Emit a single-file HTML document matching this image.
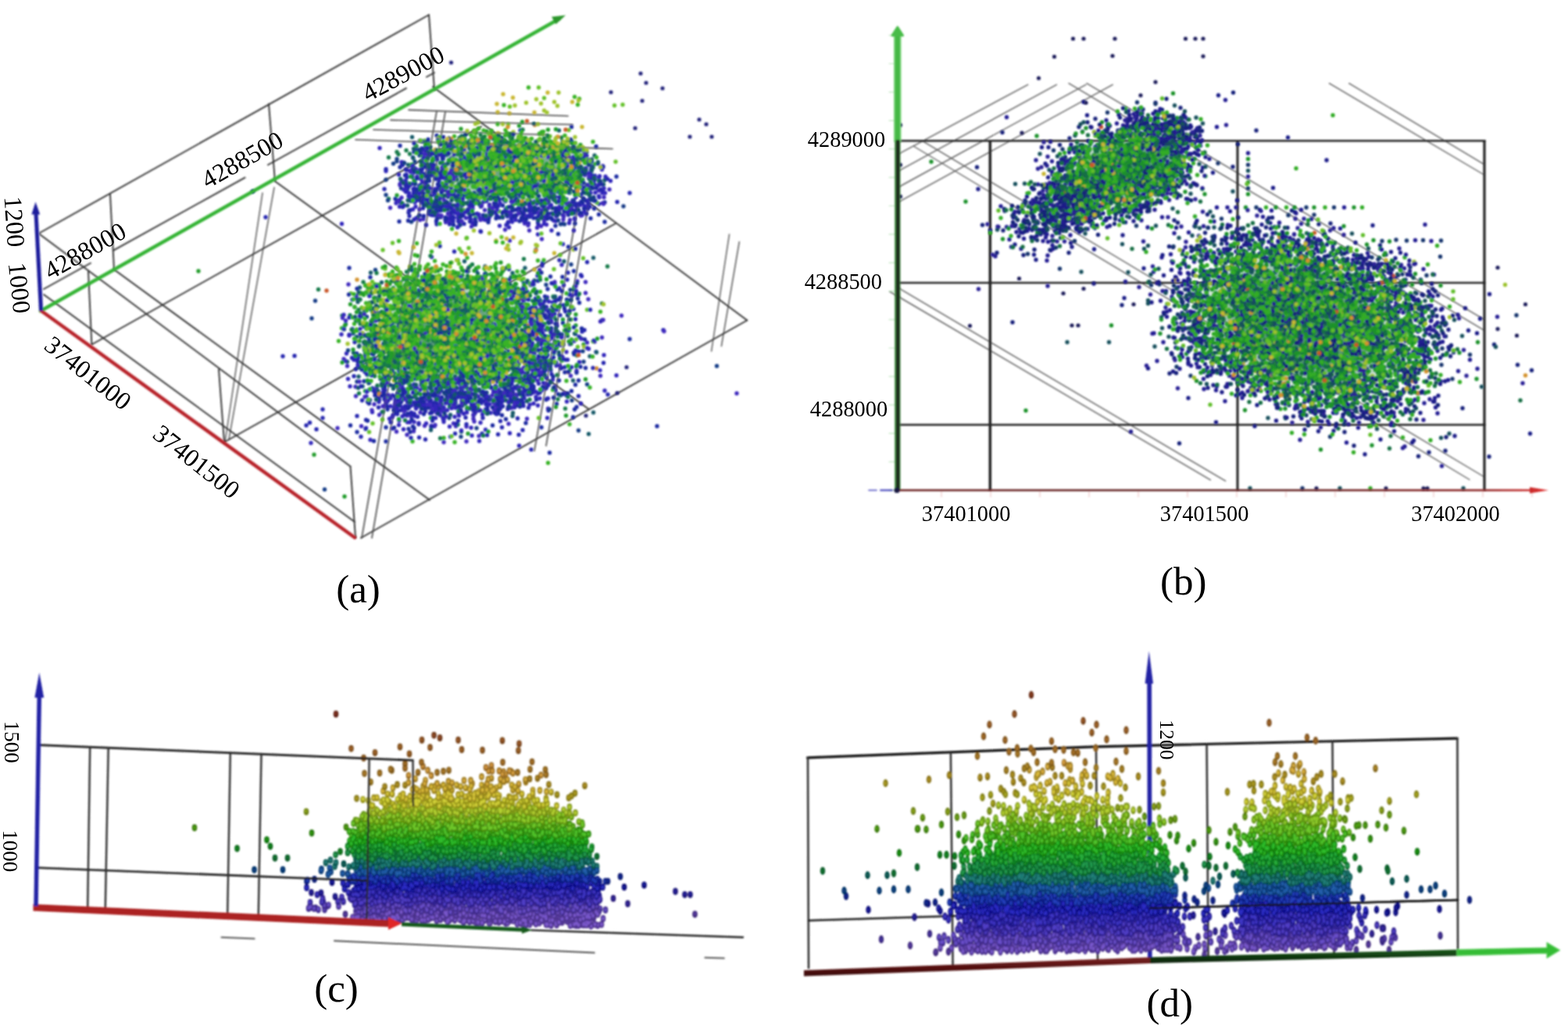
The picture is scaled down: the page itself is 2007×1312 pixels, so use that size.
<!DOCTYPE html>
<html lang="en"><head><meta charset="utf-8"><title>Microseismic event distribution</title>
<style>
html,body{margin:0;padding:0;background:#fff;}
body{width:2007px;height:1312px;overflow:hidden;}
svg{display:block;}
text{font-family:"Liberation Serif","DejaVu Serif",serif;fill:#000;}
</style></head><body>
<svg width="2007" height="1312" viewBox="0 0 2007 1312">
<defs>
<filter id="soft" x="-2%" y="-2%" width="104%" height="104%"><feGaussianBlur stdDeviation="0.8"/></filter>
<filter id="soft2" x="-2%" y="-2%" width="104%" height="104%"><feGaussianBlur stdDeviation="2.0"/></filter>
</defs>
<rect width="2007" height="1312" fill="#fff"/>
<g fill="none" stroke-linecap="round">
<g id="pa">
<g filter="url(#soft)">
<path d="M523 140.6L727 148.5" stroke="#626262" stroke-width="1.6"/>
<path d="M500 153.6L733 159.5" stroke="#626262" stroke-width="1.6"/>
<path d="M478 166L700 172.5" stroke="#626262" stroke-width="1.6"/>
<path d="M455 178.7L784 190.5" stroke="#626262" stroke-width="1.6"/>
<path d="M559 142L463 688.5" stroke="#626262" stroke-width="1.6"/>
<path d="M570 143L476 688.5" stroke="#626262" stroke-width="1.6"/>
<path d="M740 262L684 577" stroke="#626262" stroke-width="1.6"/>
<path d="M753 262L699 570.5" stroke="#626262" stroke-width="1.6"/>
<path d="M933.5 300L910.6 449.5" stroke="#626262" stroke-width="1.6"/>
<path d="M946.3 309.5L923.4 443" stroke="#626262" stroke-width="1.6"/>
<path d="M336 247L288 566" stroke="#626262" stroke-width="1.6"/>
<path d="M351 240L293 562" stroke="#626262" stroke-width="1.6"/>
<path d="M51 298L549 19" stroke="#303030" stroke-width="1.9"/>
<path d="M56 370L116 336.76" stroke="#303030" stroke-width="1.9"/>
<path d="M145 320.694L313.5 227.345" stroke="#303030" stroke-width="1.9"/>
<path d="M343 211.002L520 112.944" stroke="#303030" stroke-width="1.9"/>
<path d="M546 98.54L556 93" stroke="#303030" stroke-width="1.9"/>
<path d="M549 19L556 115" stroke="#303030" stroke-width="1.9"/>
<path d="M344 133L352 232" stroke="#303030" stroke-width="1.9"/>
<path d="M141 249L146 345" stroke="#303030" stroke-width="1.9"/>
<path d="M51 300L448.5 597" stroke="#303030" stroke-width="1.9"/>
<path d="M56 377L454 668" stroke="#303030" stroke-width="1.9"/>
<path d="M113 347L117.4 441" stroke="#303030" stroke-width="1.9"/>
<path d="M280 473L287 566" stroke="#303030" stroke-width="1.9"/>
<path d="M448.5 597L455 688" stroke="#303030" stroke-width="1.9"/>
<path d="M146 345L550 640" stroke="#303030" stroke-width="1.9"/>
<path d="M352 232L754 524" stroke="#303030" stroke-width="1.9"/>
<path d="M554 111L956.3 410" stroke="#303030" stroke-width="1.9"/>
<path d="M462 688.5L956.3 410" stroke="#303030" stroke-width="1.9"/>
<path d="M117.4 441L616 162" stroke="#303030" stroke-width="1.9"/>
<path d="M287 566L788 286" stroke="#303030" stroke-width="1.9"/>
</g>
<radialGradient id="ua1"><stop offset="0" stop-color="#24784a" stop-opacity="0.7"/><stop offset="0.55" stop-color="#24784a" stop-opacity="0.595"/><stop offset="1" stop-color="#24784a" stop-opacity="0"/></radialGradient>
<ellipse cx="652" cy="218" rx="104" ry="44" transform="rotate(0 652 218)" fill="url(#ua1)" stroke="none"/>
<radialGradient id="ua2"><stop offset="0" stop-color="#24784a" stop-opacity="0.8"/><stop offset="0.55" stop-color="#24784a" stop-opacity="0.68"/><stop offset="1" stop-color="#24784a" stop-opacity="0"/></radialGradient>
<ellipse cx="576" cy="428" rx="104" ry="74" transform="rotate(0 576 428)" fill="url(#ua2)" stroke="none"/>
<g transform="scale(.5)" filter="url(#soft2)">
<path d="M1409 376zm-348 11zm348-1zm-156 8zm246 5zm-394 19zm85-6zm19 0zm297 1zm7 20zm30-8zm-179 9zm16 13zm-303 11zm88-5zm332-5zm-473 23zm27 2zm391 4zm91 11zm27-3zm-499 12zm3-6zm9 5zm73-5zm327 2zm-252 12zm16 12zm-87 9zm245-2zm87-2zm22 7zm39-9zm-376 25zm220-7zm-206 14zm45-3zm11 10zm72-9zm26 8zm49-11zm59 7zm-359 7zm75 3zm16 5zm126-1zm42 4zm75-7zm24-3zm-269 18zm34 0zm6-5zm162 8zm24-8zm-106 13zm12 28zm-200 42zm276 33zm97 29zm21 2zm-607 6zm111 22zm364-5zm132 5zm-430 7zm45 1zm121 1zm166 2zm22 6zm83-1zm-401 16zm-112 17zm348 1zm24 9zm-338 13zm303-8zm46 0zm33 10zm-331 13zm118-1zm177 1zm-354 5zm130 6zm153-3zm3 8zm-207 3zm341 0zm102 8zm-161 7zm79 10zm11-8zm52 2zm-521 9zm343 12zm11 9zm13 1zm-395 11zm340 5zm64-2zm-295 6zm308 5zm43 5zm-463 6zm10 11zm351 11zm19 5zm-440 21zm157 3zm26 0zm87 0zm76-1zm-235 3zm277 5zm46 0zm44-1zm498 8zm-818 14zm48-3zm162-7zm28 0zm-348 24zm85-6zm5 5zm162 0zm-230 6zm3-1zm48 5zm50-3zm32 0zm18 8zm3-2zm114 2zm155-3zm-278 9zm48 2zm7-3zm49-4zm-225 18zm38-4zm307 8zm-424 19zm118-10zm44 9zm74-6zm6 7zm47-12zm-350 17zm195 8zm135-12zm32 24zm-90 16z" stroke="#3f2abe" stroke-width="10.8"/>
<path d="M1312 372zm-138 14zm-83 6zm54 4zm40 4zm13-5zm-170 20zm252-5zm190 0zm-414 22zm394-5zm34 3zm-463 17zm137-11zm383-2zm-33 23zm25-2zm-452 11zm244-3zm-257 22zm5-6zm23-2zm45 2zm123 8zm136-11zm79 10zm-438 5zm57 0zm174 9zm240-6zm12-1zm18 1zm-285 15zm52 7zm-190 5zm256 0zm80 10zm-356 9zm55 5zm50-12zm91 2zm37 7zm36 0zm-195 16zm48-11zm98 11zm3-7zm168 0zm-285 11zm106 6zm27-4zm119 7zm14-10zm-94 39zm35-10zm29 35zm-222 68zm-151 12zm308 1zm-25 17zm-241 6zm19 0zm314 1zm-497 12zm404 5zm-255 12zm251 6zm33 4zm-297 6zm12 6zm94-3zm10-3zm126 2zm21 3zm98 1zm-97 12zm27 2zm18-8zm35 6zm-401 20zm355 12zm31-4zm-27 9zm-233 15zm203-4zm-480 15zm290-1zm181 9zm-210 15zm135-1zm122-2zm-226 11zm223 5zm23-9zm95 10zm-531 7zm52-3zm10 11zm170-5zm-307 13zm292-5zm260 10zm-525 5zm44 2zm452 8zm-99 10zm73 1zm12 1zm-63 14zm-255 4zm209 5zm59 3zm39-7zm-413 18zm43 1zm116 3zm64-4zm1 5zm1-10zm143 1zm-378 26zm5-12zm111 8zm52-3zm222-6zm182 6zm-543 12zm39 5zm70-5zm39 8zm137-4zm20-4zm-340 17zm82-1zm77 0zm14-3zm100-1zm76 9zm14 0zm118-5zm-369 10zm235 5zm-364 12zm83-4zm99 2zm52 6zm51-5zm-241 18zm111-2zm7 0zm-66 11zm11-1zm31 4zm45-4zm-131 17zm146-5zm92 8zm-90 18zm152-9zm-357 17zm279 3zm102 12z" stroke="#3227bb" stroke-width="10.8"/>
<path d="M1332 334zm-194 42zm111-3zm163-5zm39 7zm-388 9zm5 0zm27-4zm1-2zm68 11zm-69 9zm37 2zm82 0zm288-1zm-369 8zm-37 24zm45-9zm-86 13zm6 6zm15-7zm42 7zm-91 20zm118-11zm363 7zm3-4zm-361 11zm383 8zm4-2zm-469 15zm7 4zm257-8zm31-2zm148 5zm-472 7zm27 5zm110 1zm4 2zm-121 15zm8-1zm29 3zm38-12zm44 11zm21-9zm95 9zm172-2zm-199 11zm196 4zm16-6zm54 0zm-450 11zm-403 23zm418-8zm5 2zm6 1zm8 0zm155 3zm57-8zm16 11zm50-4zm5 4zm11 1zm1-12zm71 2zm-423 14zm96 0zm197 10zm87 1zm-349 3zm287-2zm10 106zm1-7zm65 25zm-304 23zm194 15zm115 18zm-278 22zm33 5zm31-4zm98 4zm17 7zm11-1zm97 4zm-352 15zm214 0zm12-2zm78 0zm-465 18zm35 1zm340-2zm32-3zm49 7zm-278 5zm72 0zm-236 23zm108-2zm265-2zm21 1zm18 0zm42-5zm73 0zm202 0zm-794 9zm207 6zm32 5zm93-10zm76 0zm113 3zm48-3zm-519 18zm379-1zm-258 10zm-89 18zm178 8zm201-3zm56-9zm48 7zm5-6zm8 3zm-758 12zm30-1zm277 1zm39 6zm264-4zm83 1zm-301 16zm37 6zm135-1zm65-7zm28 1zm34-2zm-315 15zm283-3zm9 7zm3 0zm-365 5zm36 12zm139 0zm18-7zm49 6zm60-7zm6-4zm31 7zm1 5zm3-7zm2-1zm5 4zm-382 6zm22 19zm40-1zm75-3zm77-1zm58 10zm-288 13zm128 2zm116-8zm2 4zm37 2zm77-6zm56-3zm-277 22zm92-6zm11 5zm257-1zm75-4zm-614 20zm104-7zm12 7zm52 2zm72-5zm13 1zm37-6zm5 5zm51-1zm26-3zm9 1zm4 0zm-501 24zm184-6zm93 0zm23-4zm122 2zm59 4zm33-5zm13 5zm-318 18zm66-4zm11-7zm292 0zm-578 19zm111 5zm132-8zm-69 14zm-190 18zm528 2zm-414 17zm241-8zm110 2zm85 39z" stroke="#2726af" stroke-width="10.8"/>
<path d="M1135 351zm99 11zm80 8zm-224 18zm14 1zm-47 14zm64-8zm282-1zm-294 17zm46-5zm26 5zm170 4zm100 0zm6-9zm35 4zm-468 18zm79-1zm10-2zm21 7zm42-11zm-121 15zm52 1zm317 8zm-387 4zm58 11zm190-5zm-186 8zm160 2zm207 2zm55 4zm-444 5zm18 4zm78 5zm205 3zm139-6zm-870 8zm412 3zm44 9zm80-2zm149 2zm4-2zm-313 12zm24 1zm53 3zm178-6zm172 0zm59 0zm-484 8zm68 8zm81-1zm26-1zm125-3zm122-3zm101 0zm-502 26zm59-12zm73 13zm193-3zm51 2zm22-3zm16-1zm61-6zm-447 17zm54 5zm34 1zm204 1zm-126 3zm232 11zm-50 6zm-119 111zm166 5zm-521 16zm253 2zm58 15zm-130 2zm46 6zm64 6zm-252 2zm193 5zm12 7zm141-10zm-412 21zm50-4zm67 19zm42 1zm303-2zm37 1zm-289 5zm5 9zm165-4zm41 2zm23 2zm-270 4zm301 8zm-119 14zm32-8zm88 1zm29 20zm-465 14zm287-2zm163-6zm-517 17zm49 19zm2-6zm438 2zm13 8zm41-1zm-310 12zm271 4zm-305 5zm198 2zm101-6zm-452 25zm125-4zm56-2zm18 2zm2 2zm102-1zm32-7zm124 3zm-483 12zm367 10zm115-2zm17-8zm-489 20zm141 3zm256-2zm-326 10zm198 1zm64 3zm87 0zm20-9zm80 1zm-500 26zm252-1zm30-12zm157 4zm46 4zm50 0zm-496 16zm169 0zm99-2zm0-8zm48 5zm17 6zm81 0zm74-6zm-520 9zm9 13zm225-1zm18 1zm104-4zm22 2zm132-4zm-452 14zm41 4zm33-1zm59-1zm47 4zm49-7zm31-5zm129 12zm29-12zm21 3zm-505 21zm39-11zm36 9zm7-2zm87 2zm38-4zm6 1zm2 4zm123 0zm90-9zm-382 17zm24 4zm74-7zm242 4zm145 1zm-463 16zm47 1zm-119 18zm320 12zm85-6zm336 8zm-746 7zm73-3zm37 3zm14-2zm-72 34z" stroke="#1d29a0" stroke-width="10.8"/>
<path d="M1284 353zm110 12zm-6 24zm82-1zm-396 10zm38-5zm-50 21zm43 4zm1 0zm205-3zm177-6zm-376 31zm10 4zm-134 16zm53 15zm-14 7zm89 14zm-43 12zm10-4zm64 0zm-48 20zm128-1zm132-3zm28 6zm-241 10zm60-3zm61 10zm33 0zm59-5zm14-2zm41-3zm-293 24zm178-5zm-121 24zm200 124zm99 25zm-414 28zm120 2zm162-7zm30-1zm-424 27zm463 11zm-475 26zm411-5zm103 1zm-145 10zm77 1zm-38 15zm22 3zm11-4zm-344 17zm282 7zm29 9zm31 15zm-337 8zm-29 18zm56 2zm284-9zm-10 24zm-266 5zm121 2zm297-4zm341 11zm-639 4zm-106 21zm278 0zm0 1zm-36 5zm-355 14zm188-1zm338 3zm-305 11zm3 9zm17-2zm56 0zm27-2zm-160 9zm30 8zm4-7zm20 4zm40-4zm73-2zm21 1zm-77 15zm146-1zm66 2zm-346 15zm17 4zm272 4zm-576 205z" stroke="#173e87" stroke-width="10.8"/>
<path d="M1075 360zm133-5zm53-2zm2 2zm128 5zm-249 8zm2 7zm52-10zm10 12zm92-12zm8 5zm29 4zm4 1zm3 2zm61-3zm8 2zm2-12zm31 10zm28-8zm-399 21zm23 3zm40 0zm67-10zm168 7zm7 0zm48-6zm10 7zm-378 17zm67-12zm55 11zm102-6zm42-3zm32 10zm125-3zm-322 13zm24-4zm20 5zm8-10zm85 0zm27 7zm49 6zm124-13zm-451 16zm128-2zm9 7zm105-7zm63 12zm148-1zm-383 8zm315-2zm17 6zm47-3zm-232 9zm224 0zm23 9zm-319 15zm-129 13zm290 3zm32-12zm22 5zm16-5zm-214 25zm187-1zm16-10zm-300 26zm130-11zm6 5zm196 5zm-315 9zm345-1zm-285 14zm212 1zm54-6zm-385 24zm121 112zm255 0zm75-9zm-207 39zm-49 12zm11-3zm40 1zm5 0zm-301 12zm8 2zm37-2zm44-3zm101 5zm27-3zm3 7zm2-3zm110-5zm-429 17zm86 1zm32-9zm147 3zm27 4zm23-7zm70 0zm163 13zm-533 8zm12-4zm54 4zm5-7zm53 3zm11-1zm23 1zm8-1zm36 1zm119-3zm-297 20zm138 4zm24-9zm143 7zm3-8zm27 13zm104-4zm-483 8zm95 9zm76-2zm11-6zm50 7zm112-9zm-328 20zm23-3zm111 4zm9 1zm117-4zm109 4zm-378 8zm10-2zm80 4zm46-1zm13-5zm7 12zm35-5zm231-5zm-290 25zm46-8zm7 5zm50-5zm5-5zm20 11zm36-2zm70-9zm46 9zm22-6zm4 6zm18 1zm-400 9zm8 5zm49 1zm16-7zm234 2zm-279 12zm8 2zm2-3zm118 1zm46 4zm9-8zm124 10zm24 3zm-383 7zm152 4zm22-1zm61 1zm3-5zm21-3zm1 10zm238-6zm35 7zm-557 9zm82-1zm98-2zm72 2zm28 2zm129-6zm-314 17zm57 6zm114-6zm33-6zm26 10zm147-2zm5-7zm-469 13zm103 13zm31-8zm6 5zm116-8zm108 8zm99-8zm67 6zm-552 7zm37 9zm24 0zm32-1zm48-6zm125 9zm14-7zm6 1zm14 6zm56-12zm67 11zm49-8zm121-1zm-621 14zm52 8zm39 1zm123-1zm193-8zm100 9zm-429 15zm1-8zm50-4zm52 7zm50-3zm41 5zm-178 12zm86-6zm12-1zm118 2zm15-1zm66 6zm47-2zm44 6zm-340 7zm3 7zm12-1zm24-9zm43 6zm124 3zm49-10zm16 2zm24-1zm11 9zm-409 13zm16-8zm347 12zm11-8zm-295 10zm64 12zm78-7zm6-4zm180 8zm-240 9zm138-4zm-18 14zm-62 39zm28 43z" stroke="#165a69" stroke-width="10.8"/>
<path d="M1176 353zm46 3zm83-6zm90 11zm4 2zm38-11zm3 10zm-374 12zm23 2zm97-12zm8 10zm2-1zm180 0zm51-4zm-411 20zm92 1zm77-6zm95 6zm11-5zm-149 12zm36-1zm50 1zm29-2zm99 3zm52-3zm69 9zm-272 5zm22 5zm26-4zm48-1zm75 6zm56-6zm45 8zm-318 15zm101-1zm14-2zm139-9zm2 8zm-274 10zm97 7zm12 1zm4-5zm40-3zm110 2zm12-1zm13-4zm19-1zm7 2zm13 4zm2 4zm-172 15zm149 2zm-138 9zm7-1zm144 0zm-335 11zm55 6zm0-7zm54 10zm18-8zm8-2zm34 4zm46-3zm18 6zm2 2zm42-9zm37-3zm-297 24zm8-2zm47-6zm79 3zm39 7zm38-2zm20-4zm83-4zm32 6zm-318 8zm11 11zm-151 3zm77 0zm0 11zm38-13zm54 0zm139 8zm-185 7zm91 26zm-27 10zm82 115zm-100 10zm-144 19zm5 0zm29-4zm23 3zm-67 13zm20 0zm29-6zm62 8zm30-9zm42 9zm-413 14zm127-3zm49 2zm99 0zm11-7zm54 6zm60-11zm45 8zm11 0zm18 2zm-327 9zm8 1zm189 4zm59 1zm20-1zm31-1zm214 1zm-454 8zm2 7zm89-10zm14 2zm10 0zm64 4zm116 3zm-356 4zm11 4zm197 1zm91 7zm4-8zm27 8zm4-10zm-276 18zm123 5zm122-3zm42 4zm-437 12zm20-1zm62 4zm11-4zm44 3zm12-10zm114-2zm63 8zm18-7zm57 1zm15 9zm4-9zm10 8zm-395 14zm52-4zm97-6zm1 9zm20-1zm14 3zm4-6zm194-2zm-299 15zm79 4zm3 5zm77-9zm7 0zm31 3zm118 5zm69-8zm-473 21zm44-9zm2 4zm37-5zm3 6zm10 2zm57-2zm3-1zm101-3zm189 3zm-307 11zm17 4zm84-1zm91-4zm57-1zm29 8zm-323 8zm144 10zm5-1zm143-12zm109 7zm-434 11zm1 8zm14-8zm1-4zm16 1zm167 11zm52-6zm2 5zm-253 4zm100 9zm54-3zm24-3zm34-3zm8 9zm56-7zm37 4zm6-5zm23 7zm9-1zm52-2zm14 1zm48 4zm-496 4zm39 2zm31 10zm15-10zm55 2zm159 8zm-310 4zm22-3zm47 2zm65 7zm4-8zm61 11zm63-1zm28-6zm35-5zm81 3zm56-3zm-419 25zm17-4zm4-6zm48 0zm7 1zm29-1zm28 4zm13 1zm8 5zm105-11zm44 1zm60 6zm-371 18zm28-1zm17-1zm28 2zm1-4zm28 4zm1 1zm81-7zm46 6zm47-11zm42 4zm-293 18zm63-8zm58 9zm105-4zm45-4zm16 0zm75 11zm-340 10zm42-2zm59 1zm60 5zm12-8zm5-3zm-64 13zm82 1zm-155 26zm221 0zm30-13zm155 8zm-369 17zm106 1zm-40 7zm152-2zm-129 13zm-2 35z" stroke="#197a4a" stroke-width="10.8"/>
<path d="M1241 349zm59-4zm-115 13zm65 2zm42-1zm38-9zm13 3zm61-1zm59 8zm-224 7zm49-3zm21 5zm46-3zm92 1zm4 10zm-280 14zm38-2zm79 2zm5-9zm57 9zm39 0zm33-2zm-146 15zm10-3zm85-9zm85 8zm-196 19zm0-7zm206 0zm-384 11zm195-2zm27 10zm15-10zm34 4zm16 6zm-205 7zm23 8zm97-1zm43-4zm74 3zm40-2zm20-3zm-344 15zm25 6zm69-5zm33 1zm205 2zm6-7zm21 9zm16 0zm-191 5zm25 2zm24-5zm70 1zm-292 14zm105 10zm117-8zm3 7zm9 0zm21 1zm32-2zm-295 14zm113 3zm4-11zm5-1zm-150 26zm245 7zm-134 159zm-695 12zm560 5zm98-1zm-179 5zm30 1zm69 9zm10 0zm77-6zm11-2zm57 0zm5-2zm-256 18zm173-4zm44 5zm55 2zm-213 4zm31 12zm41-2zm9-5zm20-5zm53 0zm17 6zm39 0zm-328 21zm95-8zm16 8zm26-10zm0 9zm30-5zm1-3zm112 1zm19 7zm-273 9zm31 6zm142-2zm7 0zm4 0zm42-8zm110 9zm43-3zm80-6zm-434 21zm31-4zm59-3zm40-3zm75 3zm14 9zm12-2zm5 3zm44 0zm5-3zm55-6zm131 5zm-527 9zm42-2zm79 2zm33 5zm52-2zm19 3zm25 2zm82-1zm-276 15zm17-4zm38-3zm8-1zm7 9zm9-10zm61 8zm69-11zm6 7zm155 2zm-357 9zm9 1zm44 6zm38-1zm33-1zm55 0zm66-7zm5-1zm19 3zm114 7zm63-5zm-482 15zm15 4zm139-6zm2-2zm139 8zm3-10zm19 12zm12-13zm186 7zm-536 9zm46 9zm24-6zm6 5zm4-1zm72-3zm95 0zm13 2zm19-5zm21 10zm98-1zm22-9zm-369 18zm11 6zm15-6zm18-4zm9-3zm55 1zm16 7zm79 3zm25-7zm135 6zm57-3zm-439 10zm50 7zm76-7zm305 5zm28-1zm27-1zm-504 17zm13-2zm38-2zm3 0zm49 7zm30-7zm77 3zm42-2zm25-1zm28-2zm57 6zm52 4zm-423 11zm4-7zm63 6zm34 0zm146-5zm21 6zm30-9zm15 0zm5 3zm-316 22zm6-3zm7-1zm23-6zm12 11zm0-8zm37 7zm81 1zm13-8zm86-5zm29 5zm37 3zm50 3zm17-11zm16 3zm-422 11zm89 7zm13-4zm51 6zm13 1zm18-2zm16-7zm65 7zm38-7zm3 0zm14 5zm71 3zm-379 8zm35 6zm83-4zm11-4zm152 9zm95-8zm2 7zm131 1zm-430 14zm123-5zm29 8zm29-9zm33 1zm-176 13zm64-4zm16 7zm15 1zm7 0zm30-6zm23 8zm34-5zm-230 11zm64 12zm60 0zm121 20zm-20 91zm-446 59zm78 107z" stroke="#219c2c" stroke-width="10.8"/>
<path d="M1163 349zm55-12zm36 11zm17-4zm6-1zm27 0zm9 4zm133 0zm-256 15zm54 0zm-118 7zm8-1zm29 6zm89-5zm19 8zm63-9zm74 5zm-181 16zm80-7zm24 2zm0 7zm143-1zm-393 9zm67-6zm23 1zm12 8zm75-3zm2 2zm69 1zm38-7zm11-1zm2 5zm60-1zm57-2zm-417 16zm13-5zm16 0zm182 7zm55-6zm67-2zm-191 18zm101 3zm20-2zm30-3zm139 1zm11-3zm-366 14zm51 6zm121 0zm48-4zm13 10zm-165 15zm51-3zm28-10zm46 11zm5-3zm131 5zm30-13zm-476 17zm145 7zm10 3zm41-7zm103-6zm138 10zm3-4zm-251 18zm12-4zm14 6zm116-8zm39 0zm23 9zm1-2zm23-3zm-257 19zm72-13zm163 13zm24-9zm-403 12zm149 11zm7 0zm110-11zm53 2zm28-3zm40 1zm-265 24zm150-7zm-111 35zm-202 127zm252-5zm-26 7zm31 11zm12 0zm7-9zm-294 13zm57 9zm176 0zm42-3zm55 5zm-249 7zm25 0zm28 1zm16 4zm27-6zm16 5zm18-3zm22 4zm22-3zm18-8zm19 8zm7-6zm23 10zm-383 4zm56 6zm14 5zm14-8zm25 4zm5-6zm104-3zm82 2zm104 7zm130-2zm-366 15zm45 1zm25-6zm31 5zm6-1zm13 6zm14-12zm26 1zm70 4zm22 4zm-386 12zm30-2zm32 5zm5-6zm39 6zm3-5zm38 4zm4-7zm19 10zm33-8zm113 0zm37 7zm5-8zm-317 16zm18-2zm47 5zm11-5zm16 0zm14 8zm38-4zm13-2zm26-5zm26 2zm32 0zm34 9zm66-2zm-300 6zm7 9zm21 0zm49 0zm31-9zm9 4zm82-5zm8 2zm15 9zm24-12zm33 7zm-247 13zm35-4zm12 2zm20 9zm103-6zm4-7zm132 5zm147-5zm-569 14zm39 9zm48-8zm50 1zm9-2zm103 12zm19-7zm13 3zm14-8zm12 11zm13-9zm1 5zm12 1zm18-1zm50 3zm-462 7zm36 9zm13-2zm93-3zm45 4zm142-10zm34 12zm13 0zm26-13zm-309 16zm12 7zm24-6zm70 9zm5-7zm17 1zm49 0zm55 4zm32 0zm5-6zm2 3zm44 6zm22-1zm108-6zm-495 10zm41 11zm78-7zm6 0zm38-3zm14 8zm42-4zm4 1zm37-2zm18 2zm4-3zm11 7zm52-2zm157-10zm32 9zm-494 5zm140 5zm42 3zm2-7zm1 3zm34-1zm73 8zm25 1zm49-4zm-416 18zm81-4zm15 2zm3-6zm98-3zm15 6zm26 1zm7-1zm127 5zm49-1zm52-7zm-433 20zm29 0zm111-10zm21 7zm99-6zm36-1zm1 10zm16 1zm68-11zm-366 15zm50 9zm26-7zm24 9zm11-1zm46-2zm35-1zm23 3zm49 0zm69-6zm28 2zm83 6zm-473 4zm74 6zm75 1zm62-2zm61 0zm36 0zm8-3zm69-4zm-418 14zm23 1zm16 1zm64 8zm95-8zm37 6zm28-9zm31 8zm71 2zm3-2zm8-7zm9-1zm6 3zm-335 14zm85-2zm22 2zm6 3zm19 6zm49-11zm-231 22zm42 2zm132-9zm138 10zm10-12zm22 8zm12-4zm25 4zm-325 11zm86 4zm115 4zm18-10zm24 1zm-149 24zm201 0zm-193 32zm6 30zm355 16zm-402 44zm80-9zm267 64z" stroke="#39b327" stroke-width="10.8"/>
<path d="M1214 334zm175 9zm19 6zm-321 11zm98-1zm152-6zm2 7zm1-1zm37 1zm48-8zm-199 14zm83-1zm113 11zm-114 6zm8 1zm-117 17zm120 2zm20-8zm57 0zm100 4zm-406 20zm366-12zm9 7zm-387 11zm153 2zm19 2zm115-8zm19 10zm-181 8zm69-4zm27 3zm109 10zm30-2zm-148 15zm152-9zm-298 24zm66-13zm27 0zm87 11zm44 8zm32-4zm94 12zm-251 10zm285 20zm-343 18zm-29 135zm262 17zm-421 18zm22 5zm6-8zm41 11zm150 1zm75 10zm-181 3zm84 7zm92 2zm18 0zm-406 13zm23 2zm135 0zm163-9zm16 0zm28 6zm-262 11zm153-5zm44 4zm80-4zm63 3zm-393 24zm309-6zm-331 11zm65 2zm40 2zm21-4zm80-1zm109-3zm14 10zm27-5zm221 4zm-572 9zm97 3zm84-6zm180-1zm19 0zm-126 26zm51-9zm-306 19zm331-1zm32-6zm78 11zm-457 9zm254 6zm20-9zm137 4zm-42 6zm108 9zm-440 18zm40-13zm44 11zm78-8zm49 3zm58-6zm64 7zm60 2zm39 3zm135-6zm-581 21zm145-8zm50 6zm133-1zm3-8zm58 7zm17-5zm-353 14zm182 4zm197-7zm-440 16zm69 9zm101-5zm4 4zm-79 8zm45 4zm63-9zm70 5zm122 3zm-339 13zm79-6zm73 11zm127 0zm4-6zm-242 10zm10 17zm-57 103zm158-7zm242 3zm-425 14zm-9 22zm211 11z" stroke="#65c129" stroke-width="10.8"/>
<path d="M1217 317zm70 1zm27 20zm130 25zm-264 8zm50-1zm-40 18zm256-3zm-206 11zm-21 26zm157 4zm-29 24zm14 5zm29-4zm-164 20zm242 4zm-208 11zm-142 12zm-69 185zm103 0zm12 21zm79 8zm31 0zm-199 9zm13-6zm51 11zm91-2zm37 3zm-230 9zm20-7zm288 5zm-220 18zm98 1zm-252 4zm15 13zm4 10zm130-1zm-187 10zm87-3zm20 2zm178-3zm-232 23zm96-4zm140 3zm93-8zm-272 17zm1-3zm301 3zm-147 17zm-226 18zm288-3zm69 4zm-59 13zm-56 10zm227-1zm-428 11zm166 2zm187 2zm-321 15zm204-7zm-310 25zm78 7zm175 1zm-18 46zm23 2zm74-3zm-226 21z" stroke="#a0c42f" stroke-width="10.8"/>
<path d="M1330 349zm-30 28zm89-8zm-275 14zm325 19zm44 15zm-342 28zm180 2zm12-11zm84 4zm-268 10zm39 25zm-9 2zm62 3zm-124 205zm80 5zm-53 14zm24 13zm-182 51zm190-11zm93 5zm81-4zm-174 59zm50 12zm31 30zm-28 14zm-212 16zm88 21zm41 4zm144 35zm-282 25zm66-7z" stroke="#c9b733" stroke-width="10.8"/>
<path d="M1369 320zm-214 35zm204 24zm1 9zm27 48zm-45 17zm-5 63zm-423 200zm241 13zm98 20zm38 2zm-140 90zm-75 17zm127 18zm-22 26zm-134 14zm480 27zm-72 10zm-463 21z" stroke="#d4932f" stroke-width="10.8"/>
<path d="M1176 425zm-340 319zm229 65zm-30 152z" stroke="#c9582a" stroke-width="10.8"/>
<path d="M1188 383zm90 4zm210 10zm-456 19zm420-2zm18-4zm-302 10zm-61 26zm150 0zm97-1zm95 1zm-293 10zm11-3zm22-4zm284 4zm-434 15zm51 15zm5-4zm17 5zm154-5zm-35 19zm-203 8zm93 8zm19 3zm280-3zm54-9zm14 11zm22-4zm-358 11zm31 3zm20 2zm10-6zm129 3zm16 1zm98-6zm29 5zm60-3zm-243 23zm4-2zm97-10zm-260 25zm10-3zm334-3zm-412 11zm66 6zm10-1zm92-5zm150-1zm66 1zm-107 14zm-172 133zm16 22zm278 1zm-351 46zm210 3zm7-12zm-372 31zm423 3zm200 4zm-371 9zm117 2zm43-7zm157 11zm-163 5zm11-1zm40 2zm-523 13zm115 6zm90 1zm263-6zm2 10zm328-5zm-623 11zm110 6zm251-5zm50 7zm-113 2zm32 1zm-48 20zm77-6zm-112 17zm-166 15zm42-2zm55 0zm140 6zm-374 8zm62 10zm157 6zm236 5zm-278 16zm146-9zm23 8zm9-12zm161 10zm-122 10zm-288 20zm117-9zm101 5zm9 2zm-236 15zm7 1zm76 0zm75-8zm58 8zm-184 12zm54-7zm-160 15zm59 4zm166 4zm0-1zm-286 7zm97-4zm2 2zm6 5zm180-5zm42 6zm-204 12zm12 1zm99-1zm55-1zm-250 22zm50 6zm32 7zm-89 15zm27 8zm152 17z" stroke="#3f2abe" stroke-width="10.8"/>
<path d="M1151 374zm14 1zm102-8zm196-2zm-380 18zm249 2zm-133 9zm170-2zm-123 20zm62 5zm24-11zm173 13zm-387 9zm398-2zm-440 16zm32-2zm23-2zm3 4zm373 2zm-426 7zm55 4zm137 6zm187-6zm59-4zm3 10zm13-10zm-507 15zm10-4zm43 23zm84 3zm127-12zm20 8zm99-3zm-301 12zm252-3zm78 1zm47 7zm46 4zm-517 12zm33-7zm33 5zm7-3zm223 6zm56 1zm-354 4zm21 6zm90-4zm107 1zm264 4zm-370 12zm51 2zm76 3zm43-1zm19-5zm47-2zm4-2zm62 6zm-281 7zm13 11zm62-10zm2 2zm4 8zm192-11zm-545 26zm364-11zm106 6zm78-2zm-252 16zm298 8zm-453 123zm120 25zm222-8zm74 8zm-61 26zm15 17zm19-9zm10 2zm-120 18zm99 1zm5-7zm-270 23zm1 20zm217 10zm32-11zm-157 24zm144-9zm11 2zm5 1zm5-3zm-493 16zm35-4zm88 8zm63-4zm221 8zm26 0zm87-7zm21 2zm-366 17zm-119 4zm459 9zm-522 13zm354 4zm62-7zm31 5zm29-9zm18-1zm165 12zm-637 12zm501 1zm-248 15zm321-10zm-168 17zm19 3zm29-6zm173 7zm-581 9zm277 7zm144-9zm202 6zm-438 5zm70 6zm-195 9zm50 7zm112-6zm166 1zm-258 12zm125 2zm26 7zm75-9zm-373 20zm48 1zm47 2zm65-9zm8 2zm64 2zm46-3zm5 4zm161 6zm-329 11zm13-2zm40 3zm10 0zm37-1zm54 4zm52-12zm55 1zm22 3zm30 6zm121 0zm-477 9zm31-2zm3 2zm9-4zm68 4zm74 5zm20-10zm28 11zm31-8zm82-4zm-296 24zm-39 28zm160 14zm25-7zm2 20zm-412 19z" stroke="#3227bb" stroke-width="10.8"/>
<path d="M1097 366zm128 0zm7 0zm-139 12zm355 6zm-144 18zm148-10zm16 10zm-377 5zm71 4zm203 5zm150-3zm-459 13zm196 1zm201-1zm16-6zm12 11zm-396 14zm126 9zm133 0zm118 2zm51-8zm-191 15zm-202 19zm305 3zm113 0zm5 2zm-483 4zm87 7zm68 2zm-165 6zm117-2zm34 2zm44 9zm76-4zm180 3zm79 3zm-549 13zm57-5zm54 4zm68-2zm66 0zm115-8zm46-1zm34 2zm10 5zm-360 15zm33 4zm141-7zm36-3zm10 9zm50 2zm61-1zm-339 2zm2 5zm4 0zm84 6zm69-5zm115-5zm114 0zm-313 26zm-70 1zm45 70zm269 22zm-128 50zm73 3zm75-3zm-320 13zm187 10zm-246 4zm226 9zm158 2zm-128 3zm105 5zm-371 11zm113 2zm13 6zm110-9zm33 9zm58-2zm-244 17zm80-2zm-305 15zm446-2zm17-2zm50 2zm-71 7zm110 3zm-541 19zm236-1zm4 4zm193-6zm-223 16zm71-4zm108 2zm135-1zm34 3zm-550 12zm169 5zm11-9zm168 8zm63 1zm-362 8zm83 3zm325-4zm123-1zm-587 20zm76-10zm336 0zm21 4zm-327 18zm487-3zm-182 15zm46-2zm20 13zm-499 18zm125-1zm102 6zm235-6zm2 2zm5-3zm66-3zm17 0zm-557 23zm506-5zm-196 17zm57 2zm5-4zm26 4zm80-10zm-368 18zm72 1zm104 3zm76-1zm16-5zm26-3zm0 3zm44 9zm25-10zm12-2zm13 6zm-368 12zm25 4zm101 4zm8-12zm23 11zm104-6zm6 4zm5-7zm45 3zm-385 17zm46 1zm76-6zm21 2zm103-4zm-273 19zm30-5zm17 6zm46-7zm9 5zm65 6zm99-4zm25 3zm90-10zm-353 21zm119 0zm85-1zm27 3zm100 2zm-322 8zm39 5zm10-10zm184 0zm15 1zm-90 23zm37 3zm-389 12zm9-7zm279 4zm40 5zm169-13zm-344 18zm348-2zm-51 16zm13 4zm81-1zm-276 8zm21-1zm16 5z" stroke="#2726af" stroke-width="10.8"/>
<path d="M1463 325zm-345 22zm-38 15zm75 0zm306-5zm-332 13zm15 7zm382-2zm-251 13zm-197 4zm24 6zm126-4zm233 17zm70 8zm-471 10zm34-5zm17-1zm376 4zm2 6zm-340 13zm6-7zm11-3zm224-1zm100 7zm-375 16zm336-3zm-360 17zm179-5zm84 1zm140 0zm-455 13zm116-1zm60-2zm74-2zm206 4zm-449 22zm112-2zm278-5zm-424 14zm86 2zm18-3zm8 2zm17 6zm83-3zm-101 17zm40-4zm124 0zm24 1zm34-8zm6 2zm-220 17zm26 6zm24-6zm110 4zm21-3zm10-2zm116-5zm22 12zm27 1zm-167 6zm15 7zm21-3zm37-1zm11 2zm37-5zm14-1zm-294 26zm56-1zm212 24zm-303 31zm329 2zm-169 57zm154 20zm-278 8zm-248 22zm488 1zm18-11zm7 12zm-435 28zm384-1zm55-1zm20 0zm28-3zm4 11zm-420 21zm277-2zm5-10zm100 6zm-137 17zm-306 7zm90 2zm449 4zm-231 11zm48-1zm10-4zm54 3zm-76 15zm25-2zm27 2zm-66 17zm-13 8zm37 5zm74 7zm67-12zm115-1zm-584 17zm264-3zm150 0zm-507 22zm21 3zm514 0zm-302 10zm170-2zm102 4zm-204 15zm34-10zm87 10zm0 5zm8 10zm4-9zm24 12zm-461 24zm191-5zm51 8zm3-6zm23-5zm-236 25zm185-13zm88 1zm20 11zm48-6zm84 5zm-239 16zm13-2zm14-1zm59-2zm46 1zm77-8zm23 10zm-422 7zm118 7zm19-10zm16 1zm173 6zm37-4zm16 8zm-349 10zm3-4zm93 5zm113-8zm3 1zm72 10zm33-12zm-263 24zm20-6zm1 2zm17 0zm15 2zm16-8zm104 11zm84-5zm-282 10zm195 8zm53-3zm18 6zm10 10zm172-5zm-570 21zm91 5zm69-2zm47 1zm282 1zm-472 12zm136 0zm-93 23zm450 30z" stroke="#1d29a0" stroke-width="10.8"/>
<path d="M1188 349zm319 73zm-388 17zm169 7zm199 1zm-448 1zm483 10zm-485 14zm39 2zm113-8zm222-3zm-295 26zm-30 11zm28-1zm40-9zm182 2zm43 10zm63-11zm28 0zm-294 19zm140 7zm-193 5zm219 0zm-89 14zm78 8zm35 1zm6-3zm31 5zm15-1zm46 0zm-411 22zm376-4zm16 10zm-73 65zm-411 52zm262 24zm142 10zm-38 16zm71-12zm-131 28zm-460 13zm540 19zm5 1zm-554 25zm540 9zm65 1zm-111 3zm79 38zm-371 9zm56 1zm188 3zm-353 18zm45 7zm187-7zm369 2zm-82 31zm-97 13zm-273 11zm250 9zm119 14zm-409 9zm347 6zm-287 13zm121-6zm147-4zm1 5zm-332 16zm103-2zm48-2zm103 4zm-205 9zm156-3zm19 11zm104-8zm-142 14zm98 4zm-69 20zm-62 7zm70 26zm261 6zm-301 16z" stroke="#173e87" stroke-width="10.8"/>
<path d="M1367 317zm64 17zm-249 14zm-127 3zm94 3zm125 10zm8 7zm64 2zm-215 14zm84 1zm85-6zm25-3zm40 9zm43-9zm14 11zm20-10zm22 8zm6-6zm32 7zm-284 5zm31 5zm42 0zm191 3zm-228 16zm5-6zm40-6zm19 2zm64 10zm69-11zm64 1zm16 7zm-430 14zm93-5zm-97 20zm37 2zm83-6zm84 4zm21-10zm78 9zm-231 17zm42-11zm45 2zm14 7zm165-4zm18-1zm32-3zm33 6zm30 5zm-516 7zm125 2zm54-6zm48 0zm6 8zm45-2zm3 4zm106-3zm14 4zm30-13zm40 11zm42-1zm-501 11zm265-4zm153-3zm46 1zm-314 16zm41 1zm68 7zm40-5zm12 7zm51-8zm4-2zm88 1zm8 2zm-403 19zm168-8zm18 2zm19-3zm48 8zm39 2zm3-12zm95 6zm-361 15zm26 1zm197-5zm105 4zm-201 14zm163-6zm11 2zm-318 13zm11 4zm235-1zm27-3zm28 0zm-174 134zm102 4zm-104 25zm68-1zm-117 7zm5 0zm172 1zm-421 20zm334 2zm-304 6zm69-1zm12 4zm58 1zm23-6zm17 0zm55 2zm40 4zm29 0zm53-7zm39 8zm-323 15zm39-6zm28-2zm53 4zm13 3zm41-4zm10 2zm39 1zm53-5zm13 3zm79-1zm2 1zm43 6zm-419 4zm56 7zm8 2zm38-10zm56 4zm53-5zm-346 16zm136 7zm67-8zm279 0zm-202 16zm7 9zm76-4zm9-5zm53 10zm43-2zm10-11zm26 11zm-498 12zm92-8zm57 1zm74 2zm6 8zm52-3zm157-9zm-419 16zm141 7zm117-4zm61 6zm45-4zm26-1zm-352 12zm35 2zm42 4zm18 3zm62-3zm2-4zm252 6zm67-7zm-536 17zm77-8zm66 9zm109-1zm62 3zm20-7zm190-1zm34-3zm-539 23zm16 1zm79 3zm3-12zm61 0zm180 8zm10 0zm94-9zm11 1zm35 5zm-456 19zm76-2zm11-9zm41 3zm229 2zm8 7zm-172 12zm10 0zm20-3zm29 4zm8-6zm139-4zm67 5zm96 0zm-546 21zm26-10zm29 9zm16-11zm33 8zm99-9zm11 12zm26-2zm66-5zm80 0zm15 8zm-428 11zm21 2zm22-2zm8 3zm12-6zm36-1zm3 6zm16-4zm167-2zm28 2zm143-8zm-333 27zm20-9zm94 8zm-273 14zm177-7zm17-2zm71 9zm16-9zm196 5zm-354 12zm43-3zm65-3zm3 11zm93-9zm222 6zm-550 19zm218-3zm189-2zm-356 13zm336 0zm-236 20zm34-11zm177 5zm11-7zm22 1zm123 3zm-247 10zm108 3zm13 4zm-62 30zm272-3zm-207 9zm-209 36z" stroke="#165a69" stroke-width="10.8"/>
<path d="M1338 332zm-108 13zm77-2zm95 4zm-213 12zm163 3zm-201 13zm43-1zm135-3zm92 6zm-348 7zm176-2zm31-1zm127 0zm-387 14zm29-1zm213 3zm30-2zm20-1zm51 7zm47 3zm26 0zm2-10zm-235 19zm52-7zm2 1zm20 7zm147-5zm75 8zm-438 14zm282-7zm72 9zm80 0zm-174 12zm3-2zm117-5zm7 5zm-246 14zm52 4zm109-2zm117-8zm-431 19zm98-8zm28 9zm9-8zm50 6zm13-7zm286 1zm-464 26zm4-3zm56-1zm15-5zm331 1zm1 6zm-274 6zm20 7zm87-2zm195-3zm-509 14zm410-2zm7-2zm-147 22zm120-6zm14-3zm-297 24zm239 121zm-288 20zm68 10zm51 7zm72 2zm-247 25zm5-7zm278 4zm103-8zm-347 25zm1-11zm45 11zm8-12zm138 9zm-276 13zm38-8zm54 10zm67-1zm139-2zm231 4zm-475 9zm131-1zm88-2zm48 9zm-243 3zm1 4zm69-5zm2 6zm165 5zm103-5zm80 3zm91-3zm-623 16zm76 3zm103-1zm16-7zm30 9zm14-1zm108-5zm58-7zm65 9zm18 1zm-412 13zm144 3zm22-6zm3 1zm5-2zm40-2zm43-1zm11 2zm-193 23zm59-4zm2-2zm55 1zm70 2zm52-4zm-422 12zm112-4zm6 2zm45 1zm79 4zm47 0zm3 2zm-296 8zm64-3zm19 7zm202 6zm17-9zm79-2zm42 11zm-380 10zm82 1zm187 1zm19-11zm2 0zm53 7zm37-2zm20 3zm15-2zm5-4zm76-2zm-486 20zm57-5zm58 5zm21-1zm39-3zm26 1zm3 4zm41-7zm34 5zm73 3zm47-3zm47 1zm-424 13zm25-2zm11 0zm5-1zm15 0zm29 9zm57 2zm173 0zm9-3zm75-7zm68 7zm-513 17zm40-13zm45 7zm7 1zm32 0zm43-4zm3 8zm44-10zm63 9zm71-1zm-336 4zm68 6zm83 0zm41 1zm5 6zm142-9zm33-4zm62 2zm-212 20zm49-2zm111 2zm-194 12zm33 1zm84-4zm35 0zm41 1zm53 3zm7-4zm-404 16zm82-1zm153-4zm62 1zm30 8zm-271 7zm140 2zm8 3zm113-2zm7 2zm-306 14zm161 4zm2-10zm-37 15zm8 44zm112 3zm224 3zm-210 69zm-110 7z" stroke="#197a4a" stroke-width="10.8"/>
<path d="M1337 312zm-157 18zm149-8zm-83 14zm11 6zm20 5zm36-4zm-148 19zm66-6zm38 3zm-100 13zm15-7zm79 10zm9 2zm197-1zm17-5zm-382 16zm102-4zm50 0zm153-2zm66 3zm-120 21zm63-3zm5-1zm31-5zm-321 21zm66-7zm57 1zm9-5zm20 5zm3-3zm23-1zm20 4zm20 4zm6-4zm-128 22zm2-11zm20-1zm66 1zm21-1zm43 5zm-268 20zm49-6zm94 5zm31 0zm130-4zm36 2zm-314 6zm26 7zm16-4zm34 9zm2-12zm87 6zm11-7zm7 12zm31-8zm25-2zm30 10zm13-12zm-359 18zm131-3zm103 8zm17-2zm5 0zm17 6zm77-4zm43-8zm7 1zm-148 17zm20 0zm23 4zm78-3zm-256 18zm224-5zm-313 22zm89-4zm262 2zm-269 6zm95 7zm86-9zm-284 136zm145 38zm5-6zm24 12zm-145 14zm109-1zm49-10zm2 0zm24 1zm33 4zm-301 18zm56-6zm12 5zm6-10zm1 4zm106 2zm10 0zm8 4zm73-4zm113-5zm-281 22zm12-9zm2 5zm2 8zm69-6zm42-3zm123 8zm-280 14zm32-8zm20 4zm3 5zm19-1zm43-2zm32-4zm54-1zm-286 15zm149 4zm77-2zm43-2zm50-1zm59 8zm-486 10zm207 0zm1-2zm134 0zm27-1zm16-5zm81-1zm89 4zm-389 23zm25-3zm109-8zm1 9zm1-8zm79-1zm139 7zm10-7zm36 0zm-550 13zm12 12zm5-8zm61 3zm7-3zm80 2zm6 0zm17 2zm90-5zm24 4zm82 3zm52 0zm17-3zm-382 14zm107-1zm4 4zm31-8zm4 5zm48-3zm17 2zm45-7zm15 2zm24 4zm67 6zm0-8zm13-2zm-421 22zm65-2zm48-1zm4-5zm14 0zm10 8zm27-2zm109 3zm19-6zm27 4zm39 3zm-286 11zm59-3zm4-4zm34 9zm54-11zm2 3zm2 6zm207 2zm-416 14zm12-11zm59 13zm79-5zm213 3zm23 1zm-276 12zm57-6zm29 7zm85-5zm66-3zm-317 12zm12 0zm5 7zm32-7zm20 0zm25-1zm16 10zm59-2zm64 2zm203-3zm68-7zm-529 18zm34 6zm199-7zm11 2zm1 7zm19 0zm70-4zm15-1zm104 1zm-477 15zm45-1zm27 2zm7 0zm43-5zm19 7zm22-8zm85-4zm37 5zm82-4zm-379 26zm113 0zm13-11zm130 7zm3 1zm9-7zm49 7zm26-9zm30 2zm-207 14zm68 2zm11 7zm12-10zm21 2zm24 0zm38 8zm-298 2zm88 6zm42-5zm13 6zm17-2zm111 8zm4-12zm2 11zm57-1zm18-2zm-219 5zm27 9zm51-8zm317 4zm-483 10zm87-1zm0 10zm111 0zm-279 11zm214-7zm69 9zm-197 70zm177 37z" stroke="#219c2c" stroke-width="10.8"/>
<path d="M1353 224zm130 29zm-189 80zm3 7zm38-2zm-92 25zm32-8zm32 2zm52-1zm94 5zm65 2zm-292 10zm87-1zm37 3zm86-2zm-291 12zm32-3zm55-2zm109-1zm6 7zm21-2zm17 1zm24 2zm5-4zm-306 22zm74-11zm24 5zm36-6zm31 3zm68-1zm1-3zm78 8zm22-1zm33-2zm-200 16zm10-2zm33-5zm4 10zm157 0zm-245 6zm7 3zm13 4zm36-9zm31 13zm57-3zm86-2zm-307 16zm72-2zm66-6zm62-1zm21 1zm22 6zm46-1zm14-5zm4 1zm16 1zm-377 12zm52 7zm83-2zm55 4zm41-10zm6 4zm50-1zm22 6zm71-10zm-284 21zm42-1zm7-1zm77 2zm36-2zm8 5zm146-1zm-332 12zm10 4zm18-9zm30 11zm152-5zm18 1zm3 0zm99-5zm-382 20zm320-10zm-399 25zm50-6zm129-4zm-3 15zm88 2zm-190 51zm31 13zm-52 58zm272 23zm15-1zm-317 16zm59-5zm136-3zm-265 21zm101-8zm8 8zm126-7zm-231 17zm24 7zm14-2zm35 2zm58-1zm175-1zm-247 17zm59-11zm2 5zm5 0zm24-4zm9 9zm9-9zm32-1zm17 9zm13 2zm2-9zm19-4zm77 3zm-376 11zm102 5zm17 5zm14-9zm14 4zm34 3zm166 4zm39-1zm76-5zm-447 15zm20 6zm3-2zm12-8zm53-3zm61 4zm28 2zm14 7zm64-3zm39-5zm18-4zm-343 13zm29 9zm22 0zm28-7zm2 0zm56 1zm86 7zm27-8zm47 6zm16-8zm15 6zm35-6zm29 6zm-399 14zm110-3zm89 2zm39 5zm10-5zm14 8zm1-9zm22 1zm9 1zm17 5zm28-9zm11 2zm-324 15zm33 8zm3-5zm114-1zm34 4zm7-8zm5-1zm7 3zm60-5zm43 1zm9 12zm14 0zm11-7zm-327 13zm6 3zm31-3zm45 8zm17-4zm0 4zm4-1zm63-9zm45 10zm16-2zm22 1zm62-8zm171-1zm-450 22zm42-9zm7 8zm109-2zm13 1zm19-6zm30 7zm46 1zm21-9zm-306 13zm67 8zm15 3zm65-11zm45 9zm50-7zm71 4zm6-3zm6 5zm52-6zm-304 14zm84 6zm8 4zm144-13zm9 11zm5-5zm-381 15zm39 3zm24-10zm39 6zm16 5zm60-1zm37-9zm6 10zm35-4zm19 5zm35-2zm42-2zm13-8zm6 9zm48-9zm36 3zm14 4zm-445 10zm41 1zm20-1zm147 3zm10 2zm52 4zm112-2zm126-9zm-501 14zm38 1zm114 6zm72-2zm50-5zm21 2zm32-3zm19 3zm34 7zm-407 7zm69-2zm16-1zm5 11zm11 0zm3-3zm19-3zm117 5zm143 3zm-279 6zm49-4zm11 3zm43 9zm90-8zm24 1zm61 7zm-306 11zm9 0zm29 1zm50-8zm38 10zm105-1zm99-12zm64 0zm17 5zm-499 9zm39 7zm40 1zm149 5zm99-4zm35-5zm29 8zm-373 10zm30-8zm36 5zm4-2zm79-3zm150 11zm15-4zm0-5zm46 10zm-317 10zm47-3zm0-4zm85-1zm164 11zm170-2zm-154 8zm214 9zm-466 13zm112-9zm-162 17zm171 2zm76 39zm-77 78z" stroke="#39b327" stroke-width="10.8"/>
<path d="M1305 273zm289-5zm-293 51zm-84 31zm110 1zm55 4zm-127 34zm64-11zm51 6zm90 3zm-106 14zm-148 10zm2-4zm68 0zm19 11zm11-10zm24 2zm1-3zm10 10zm162-9zm-384 21zm150 2zm62-2zm18 1zm14-3zm16-7zm12 8zm-67 18zm-62 9zm48 6zm-230 17zm11 7zm153-2zm186-1zm-39 12zm-121 16zm-94 127zm194 7zm64 9zm59 8zm-375 25zm-2 22zm10-2zm-173 15zm188 0zm-150 15zm320 1zm-301 13zm123 2zm89-6zm5 4zm-97 17zm32-5zm76 1zm44 3zm-218 7zm115 0zm4 4zm32 2zm204 2zm-455 10zm70 5zm124-11zm40 10zm-100 5zm47 6zm17-1zm22 1zm23-6zm59 8zm36 1zm58-10zm-406 17zm29 6zm32-9zm11 4zm44 3zm116-3zm201 3zm75-2zm-464 9zm289 1zm10 9zm38-11zm121 6zm-543 11zm124 2zm3-4zm37 7zm19-3zm4 3zm88-4zm84 4zm89-4zm44 0zm-366 23zm14-2zm66-1zm93-4zm51 4zm-111 16zm175-2zm-387 11zm98 2zm123 3zm37-5zm9 1zm272-2zm-527 13zm118 0zm15-5zm36 4zm6 6zm81-10zm177 9zm-320 15zm16 0zm48 3zm37-2zm15-1zm29-7zm58-1zm31 2zm11 0zm53 3zm-148 9zm-258 17zm278 14zm-108 14zm195 1zm-83 19zm-54 30zm37 7zm43-3z" stroke="#65c129" stroke-width="10.8"/>
<path d="M1430 237zm-57 17zm54 17zm-27 17zm-176 26zm153 4zm-103 27zm8 15zm92 4zm118 13zm-180 15zm73 12zm25-3zm-217 25zm239-6zm-289 14zm237 3zm-109 23zm54-10zm101 2zm-1 14zm22 16zm-234 108zm87 38zm72-1zm96 12zm-361 54zm98 16zm-158 16zm249-3zm-248 17zm135-1zm3-8zm105 9zm-347 3zm15 6zm161-3zm-141 22zm275-8zm291 20zm-526 8zm197 1zm8 6zm28-8zm22 3zm68 3zm-364 16zm53-7zm186 1zm-129 16zm29 16zm-19 26zm62 4zm-270 16zm132-6zm14-6zm202 12zm202 1zm-411 14zm189-5zm277-2zm-152 14zm8-5zm-354 23zm95-7zm266-2zm-357 23zm16-8zm95-2zm199 3zm-320 24zm13 0zm54 12zm199-3zm-134 23zm89 2zm-125 19z" stroke="#a0c42f" stroke-width="10.8"/>
<path d="M1274 287zm30 3zm-29 51zm152 51zm-164 52zm-95 154zm129 13zm-238 22zm-37 15zm397 0zm-433 56zm3 43zm296 44zm-307 38zm121 14zm1 6zm237 3zm-268 9zm47-3zm153 8zm12-4zm16-3zm-352 23zm119 5zm83 0zm196 45zm-198 28zm137 11z" stroke="#c9b733" stroke-width="10.8"/>
<path d="M1269 401zm-21 11zm-43 19zm33 39zm34 20zm100 151zm-122 90zm3 11zm-184 30zm238 3zm5 46zm38 12zm-163 74zm118 14zm-334 88z" stroke="#d4932f" stroke-width="10.8"/>
<path d="M1269 382zm-279 348zm194 9zm3 17zm97 10zm89 92zm-51 19zm-230 16zm172 33z" stroke="#c9582a" stroke-width="10.8"/>
<path d="M1182 377zm271-11zm-206 17zm249 5zm-410 6zm240 5zm78 3zm53 2zm-325 25zm408 2zm-443 3zm54 9zm5-7zm227 6zm85-7zm-413 15zm50-1zm25 2zm-106 23zm64-5zm287 3zm161-2zm-409 15zm144 0zm93-6zm73 4zm-417 32zm117-2zm260-3zm-132 10zm168 8zm-386 11zm122 4zm41-9zm31 4zm29 5zm92-10zm17 12zm84-12zm14 3zm-330 11zm46 11zm61-4zm74-8zm31 2zm-211 16zm245 1zm-163 27zm125-2zm32 22zm33 110zm-185 18zm98 15zm-196 23zm-129 9zm390-1zm-466 18zm417 2zm-464 15zm77 0zm77-1zm370 5zm135-6zm-240 8zm40 20zm-89 29zm125-6zm13-2zm110 9zm-178 9zm21 23zm-229 23zm46-7zm155 8zm37-5zm-22 20zm-247 8zm295-3zm80 9zm-121 8zm36 5zm-298 11zm318-4zm-320 16zm78 3zm45 4zm64-2zm2-4zm6 4zm94 2zm79 2zm-510 9zm60-5zm46 10zm112-10zm68 1zm40 0zm61-2zm-310 23zm64-5zm18-5zm127 12zm43-4zm-156 17zm-155 2zm19 12zm63-10zm102-2zm76 12zm35-10zm29 2zm-64 18zm-98 16zm188-3z" stroke="#3f2abe" stroke-width="10.8"/>
<path d="M1079 361zm187 15zm152-1zm31-1zm-477 5zm398 3zm-286 22zm17-7zm89 7zm197-5zm11-6zm-308 24zm20 10zm175 3zm215 1zm-449 9zm106 7zm355 0zm1-9zm-433 18zm32-8zm54 2zm29 6zm323-4zm5-2zm27 2zm-492 18zm84 1zm109 4zm61-8zm251-4zm-529 23zm12-9zm79 2zm45-2zm10 11zm86-5zm45 2zm235-3zm-491 20zm18-6zm89 1zm255-1zm60 2zm-400 15zm108-4zm237-5zm99 10zm13-9zm-511 24zm41 0zm17-9zm1-1zm312 2zm46 4zm-153 18zm68-3zm-290 19zm20-6zm88-2zm7-3zm130 4zm51 0zm-152 18zm184 3zm-114 5zm17-2zm142 102zm51 29zm-124 15zm-313 17zm423 6zm-139 20zm45 1zm83-9zm-150 15zm71 6zm-337 6zm4 3zm267 3zm37-2zm15 1zm6 6zm-497 11zm474-3zm-104 14zm108 7zm19 0zm-135 9zm50 4zm94-1zm-112 7zm164 21zm-402 17zm88-3zm178-2zm61 2zm-126 8zm101 9zm10-4zm0-5zm36-4zm40 1zm79 8zm-442 13zm32-6zm-187 23zm28-7zm372 0zm134 0zm-556 10zm204 8zm102 3zm173-11zm42 14zm-221 18zm172 7zm12 2zm-477 5zm204 1zm25 0zm27 8zm165-4zm-258 17zm126-10zm1 7zm102 1zm16 1zm58-7zm4 0zm59 6zm-465 9zm76-5zm32 1zm120 4zm81 1zm24 7zm25-5zm12-6zm97 3zm-262 22zm28-5zm151-3zm3 6zm16-10zm45 11zm-391 5zm154 1zm28 4zm108 0zm-285 17zm8-8zm40 7zm6-6zm13 0zm0 2zm23-2zm14 8zm35-3zm10-1zm151-5zm-264 17zm36-3zm38 10zm18-13zm90 11zm21-4zm-226 9zm33-1zm112-1zm226 6zm-368 29z" stroke="#3227bb" stroke-width="10.8"/>
<path d="M1147 357zm14 7zm261 6zm-304 18zm14 3zm190-4zm-185 11zm54 14zm276 1zm-330 13zm48 5zm106-4zm95 0zm84-6zm-430 26zm350-8zm29-1zm67 4zm-388 16zm25 0zm17-2zm41-7zm58 1zm275 6zm-474 18zm315-3zm98-2zm11-1zm-416 34zm46-8zm3-1zm77 5zm-95 18zm199-5zm108 2zm59-3zm-348 13zm76 0zm31 1zm2 2zm60 3zm0-7zm167 9zm19-3zm54-6zm4 7zm-339 3zm99 13zm57-12zm36 0zm61 0zm81 1zm-457 19zm132 1zm6-2zm30 9zm35 0zm58-1zm-158 14zm352 97zm-262 31zm246 2zm-146 21zm71 0zm-138 9zm-63 13zm46 7zm73-10zm144 9zm-484 16zm19-12zm222 0zm66 11zm79 7zm-429 16zm128-4zm131 9zm129 1zm30-11zm18 6zm64 5zm64-4zm-97 6zm-520 14zm269 0zm240 1zm-400 18zm204 8zm153 9zm8-6zm12 1zm31 2zm-101 9zm66 10zm106-3zm-460 6zm-1 14zm12 12zm58-8zm-22 20zm5-10zm97 9zm93 4zm154-7zm53-1zm-554 16zm132 1zm33-2zm250 2zm62-1zm54 4zm-94 11zm24-1zm46-3zm121 1zm-478 19zm155 3zm103-4zm84-9zm27 5zm2-1zm80 0zm-584 10zm17 9zm290-2zm-296 19zm231-10zm58-1zm62-1zm12 7zm14-7zm8 12zm-344 5zm137 5zm3 0zm178-4zm14 9zm87-10zm-446 20zm27-4zm32 8zm143-13zm133 9zm49-1zm35 5zm-345 1zm238 9zm38-7zm3 7zm6 3zm33-10zm-424 15zm173 3zm3-4zm13 0zm12 3zm13 5zm5-4zm138-2zm115-4zm-314 18zm26-3zm97 5zm0 1zm-104 14zm-190 8zm220 5zm102 0zm89 1zm-157 14z" stroke="#2726af" stroke-width="10.8"/>
<path d="M1096 357zm356 11zm14-2zm-391 20zm5-6zm408 4zm-389 9zm109 2zm129 8zm156 1zm-303 10zm-161 9zm59 4zm71-3zm203 7zm-284 10zm23 6zm95-8zm48-2zm-176 15zm23 13zm-2 17zm23 7zm26-6zm187 4zm189-8zm-443 16zm121 5zm68-9zm-203 22zm18-7zm22 9zm372-2zm25-5zm30 6zm-396 12zm7-2zm81-4zm37 4zm16-5zm123 10zm99-10zm-441 19zm204 6zm88-9zm36-1zm45 5zm6 4zm40-4zm-385 15zm153-3zm33 8zm47-6zm56 5zm19-12zm11 1zm-381 20zm196 1zm32-1zm0 2zm80-3zm17-5zm126 76zm-418 55zm265 36zm-418 39zm220 0zm20-2zm19-6zm234 0zm-83 16zm31 12zm74 7zm41 2zm-348 7zm153 3zm108-4zm19 6zm17-2zm-114 12zm-155 16zm173-3zm33 2zm97-6zm28 11zm-430 9zm110 6zm340-12zm-528 26zm218-7zm126 3zm90-3zm31-6zm-444 26zm368 4zm-437 21zm40 1zm152 0zm64-6zm119 6zm58-1zm23-6zm33 10zm-7 7zm38-5zm-170 26zm109-4zm21 4zm-430 2zm159 0zm142 7zm222-7zm13 3zm-493 14zm38 8zm158 0zm109-5zm75-2zm30 7zm39-12zm21 2zm-450 13zm161 8zm46-3zm22 1zm21-5zm15 4zm53-3zm20 7zm-348 8zm72 6zm49-8zm165-1zm-197 18zm24 0zm26-4zm83 11zm122 0zm1-7zm92 8zm-469 2zm47 0zm17 5zm38-5zm45 8zm48-3zm15 6zm51-1zm38 2zm4-10zm20 8zm110-1zm23-9zm-423 26zm56-4zm48 4zm29-2zm46-10zm4 4zm26-1zm48-2zm5 6zm146 4zm-361 2zm24 13zm36-4zm39-6zm84 9zm40-8zm36-2zm148 10zm-386 12zm21-8zm74-2zm95 9z" stroke="#1d29a0" stroke-width="10.8"/>
<path d="M1192 344zm-101 20zm258 1zm119 10zm-369 18zm-92 26zm152-5zm348-2zm-237 14zm-192 19zm53-5zm110-5zm-186 18zm39 0zm170 1zm59 7zm-260 10zm474-7zm-440 19zm40 4zm-144 26zm281-7zm240 2zm6-3zm-408 14zm119 10zm138 2zm227-3zm-479 10zm81-2zm150 2zm-170 18zm292-10zm-8 131zm-122 59zm-338 10zm306-1zm152-3zm-87 25zm87 1zm-143 4zm117 10zm-40 4zm-392 32zm403 9zm-270 26zm-65 20zm250 2zm38-1zm11 15zm-350 16zm234 11zm56 9zm-9 23zm90-10zm-27 20zm-449 19zm70 2zm293-9zm-266 18zm111-8zm66 8zm149 1zm-188 10zm162 7zm72-9zm-195 13zm27 0zm-136 37z" stroke="#173e87" stroke-width="10.8"/>
<path d="M1275 346zm97 17zm-270 14zm39-11zm14 11zm93-10zm11 7zm-120 17zm22-4zm22-8zm20 2zm22 10zm43-11zm43 10zm45-10zm98-1zm11 2zm7 4zm-290 9zm141 7zm4-1zm7-7zm27 9zm84-3zm77-1zm-354 18zm35-6zm237 1zm22 1zm47-2zm-336 21zm74-7zm140-3zm26 11zm73-6zm-321 17zm57-1zm14 0zm108-3zm103 4zm23-1zm27-5zm18-1zm-490 22zm157-9zm20 1zm92-1zm71 10zm156-4zm-98 18zm-327 3zm72 10zm58 3zm181-4zm-344 18zm2-1zm73-1zm84 1zm28-10zm68 0zm9 4zm36-5zm39 2zm25-3zm-309 24zm2-9zm5 10zm275 0zm5 1zm25 0zm-387 10zm47-1zm49-4zm47-2zm8 1zm33 2zm109 2zm63-4zm-230 16zm85 0zm7-3zm-61 13zm44 6zm45 138zm-132 21zm66-11zm19 6zm-227 19zm84-10zm35-1zm5 3zm53-1zm50 9zm29 5zm-273 13zm50 4zm6-2zm94 0zm68 2zm15-4zm2 12zm19-8zm1 1zm46-1zm-386 17zm58 5zm48-9zm221 3zm33-5zm148 1zm-340 11zm11 13zm45-12zm55 9zm16 3zm87-5zm40 1zm-394 8zm13 9zm11-12zm58 9zm59-2zm31-3zm2 1zm64 1zm28-5zm129 5zm42 5zm-264 4zm30 9zm32-2zm92 5zm32-13zm112 13zm-441 9zm34-2zm6 5zm22-4zm23-2zm43 8zm93-2zm11-6zm21-4zm8 0zm97 10zm130-5zm-522 11zm83-3zm7 3zm31 0zm4-3zm87 2zm179 0zm-345 25zm12 0zm59-3zm6-9zm66 8zm8 3zm85-3zm70-8zm16 10zm16-7zm86-1zm16-3zm-436 15zm131 7zm17-5zm102 3zm31-4zm-234 20zm25 5zm94 0zm38-12zm68 10zm15-3zm22 4zm-376 5zm180-1zm21 5zm72-6zm35 0zm104 10zm18-1zm-445 11zm28-7zm168 6zm13 2zm72-1zm41 6zm19 0zm9-10zm19 3zm50 2zm12-1zm59-3zm-424 21zm46-10zm23 8zm29-3zm216 7zm-313 11zm38-9zm26 8zm32-3zm4 2zm13-1zm5-5zm123 0zm95 6zm89-8zm-477 17zm209-1zm10-1zm27 9zm146-6zm6 9zm91-7zm-418 18zm100-5zm27 5zm11 0zm36 2zm15-7zm0 6zm20 1zm78-4zm-253 17zm183 0zm19 2zm19-5zm111-6zm-373 12zm50 0zm15 5zm30-4zm88 12zm46-8zm4 7zm-96 11zm125 2zm43 0zm-246 9zm87 21zm36-3zm18-1zm2 3zm144 0zm177 77z" stroke="#165a69" stroke-width="10.8"/>
<path d="M1202 360zm36-8zm155 2zm-206 16zm79 3zm40-1zm48 5zm5-8zm7 3zm32-4zm54 7zm-412 10zm114-4zm3-2zm23 1zm122 4zm20 1zm73 6zm-225 4zm34 0zm62 2zm10 4zm29 2zm-178 14zm70-4zm82 6zm10-4zm10-4zm163 6zm-342 16zm64-12zm13 4zm141-1zm8-4zm129 5zm-378 17zm110-1zm148-5zm-276 17zm198 7zm26-7zm45-2zm15 1zm14 1zm7 7zm67-7zm12-3zm5 3zm18-5zm-240 27zm41-13zm81 3zm63 3zm56-3zm25 1zm-382 17zm149-3zm62 7zm-246 3zm2 0zm161 13zm87-8zm73 6zm-326 8zm76 3zm152-5zm19-1zm99 3zm28 7zm-339 4zm59 3zm154 0zm25-3zm60-2zm-5 30zm44-1zm91 135zm-514 14zm142-5zm-253 31zm78-3zm73-1zm170 3zm-139 11zm92 4zm65 2zm-292 5zm61 11zm90 0zm77-2zm-202 8zm43-3zm14 6zm28-3zm33 9zm115-1zm-290 7zm222-1zm52-4zm24 9zm37-5zm-81 21zm12-10zm7 10zm-242 3zm10 8zm43-8zm105 10zm6-8zm15-2zm29 5zm25 3zm12 0zm81-8zm43 3zm-320 21zm49-3zm35-2zm94-4zm34 8zm77-9zm-393 17zm133 5zm41 4zm30 0zm53-7zm41 7zm29-12zm-290 27zm33-2zm83 0zm20-2zm165 1zm20-10zm-332 21zm245-6zm66 11zm67-7zm8 0zm93 3zm-489 16zm28-4zm19-4zm17 4zm15-6zm49 13zm1-9zm67-1zm36 1zm58 9zm26-2zm31 1zm50-10zm127 10zm-475 10zm127-2zm29-6zm57 8zm6 2zm10-4zm19-5zm23 0zm5 10zm9-6zm56 3zm48-5zm-359 19zm18-6zm17 2zm18 0zm71 4zm118 2zm7-10zm19 3zm64 9zm-414 15zm39-13zm160 5zm299 3zm44-8zm-435 17zm327-3zm-395 27zm4-10zm77 5zm55-1zm126 1zm56-4zm72 2zm111-6zm-433 17zm65 4zm79-1zm11 0zm113 3zm4 0zm-333 12zm4-1zm93 1zm4-1zm51-5zm23 11zm91-10zm85 2zm-136 12zm51-2zm111 3zm-310 12zm58 5zm19-5zm75 1zm-1 12zm91 7zm138 7z" stroke="#197a4a" stroke-width="10.8"/>
<path d="M1403 332zm20-1zm-205 9zm61 22zm45-2zm22-6zm64 9zm-180 7zm52-6zm27 12zm129-6zm4 0zm22-3zm-346 24zm114-12zm11 2zm17-2zm66 3zm2 1zm0 8zm129-8zm13 5zm-223 8zm24 3zm32-4zm18-1zm36 0zm15 1zm26-1zm-292 17zm89 7zm55 0zm30-6zm1 6zm24-4zm42 3zm13-9zm133 2zm-93 19zm45-6zm1-3zm-306 20zm172 0zm115 7zm-179 5zm49 7zm7-7zm63-1zm54 9zm15-4zm-376 6zm83 2zm107 8zm6-2zm87 2zm14-6zm14-4zm1 12zm33-10zm2 5zm7-7zm-230 24zm100 1zm8-6zm12 1zm60-5zm27 1zm29 3zm-241 11zm84 5zm5 1zm15-1zm3-5zm79 1zm68 1zm4 3zm-215 7zm217 7zm-342 19zm81-9zm121 10zm97-12zm-243 154zm129-1zm-221 26zm37-8zm46 5zm43-1zm82-7zm18 7zm90 5zm-283 8zm6 6zm1-10zm58-1zm39 8zm33-1zm28-7zm4 4zm119 3zm-349 6zm121 11zm9-2zm40-1zm11 1zm5-8zm7 9zm71 0zm-326 8zm98-5zm34 13zm19-7zm47 7zm2-8zm44-4zm62 4zm22-2zm16 2zm11 6zm15-2zm1-9zm-313 21zm43 2zm41-3zm159-3zm92 0zm-369 13zm22 9zm4-4zm56-7zm112 11zm60-2zm3-4zm58 2zm-215 9zm19-1zm169 10zm15 1zm48-3zm-359 10zm1 7zm30-4zm65-1zm157 2zm22 1zm39-8zm45 0zm86-1zm-479 13zm11 4zm17 0zm5-1zm33-2zm60 11zm3 1zm79-8zm6-2zm14 4zm128-5zm5 8zm8-1zm152-2zm-486 18zm21-3zm7-7zm0 9zm18-8zm1 7zm6-2zm158-2zm128 7zm-377 5zm203 6zm85-5zm33 9zm23-3zm35-1zm4-8zm3 1zm9 11zm23-4zm26-6zm7 10zm-423 11zm43-8zm20 3zm118-1zm7 4zm36-2zm10 3zm60-6zm8 1zm32 6zm33-10zm26 3zm57 7zm29-9zm-503 18zm8-3zm51 10zm42-7zm10 5zm16-2zm51-4zm26 2zm44 1zm45-6zm3 2zm75 7zm36 0zm168 3zm-609 6zm104 3zm23-6zm77 2zm107-4zm41 6zm32-6zm21 12zm29-4zm40-8zm-352 21zm126 0zm3 1zm45-8zm19 12zm13-5zm6 6zm11-4zm24-5zm56 4zm49 2zm6-10zm-398 23zm61 4zm8-12zm79 11zm50-9zm59 0zm2 0zm-266 18zm1 0zm124 2zm50-9zm10 5zm4 7zm24-8zm5 8zm37 0zm64-2zm15-7zm16 4zm-354 9zm7 4zm6 5zm14-11zm124 3zm85 3zm69-2zm8 8zm44 0zm106 1zm23-3zm-541 13zm3-5zm17 7zm13 1zm4-12zm8 12zm6 1zm69-6zm118 0zm28-2zm97 3zm19-6zm44-2zm-342 22zm176-1zm0 6zm-218 5zm0-1zm12 8zm21-4zm126-3zm-3 13zm1 1zm52 8zm81 1zm-130 13zm-111 15zm49-12zm260 3zm-286 13zm373 17zm26 22z" stroke="#219c2c" stroke-width="10.8"/>
<path d="M1274 318zm-69 27zm8-9zm80 11zm40-1zm-208 5zm10 11zm55-7zm81 4zm39-2zm3 4zm26 0zm-276 9zm34-1zm91-3zm57 3zm22-2zm51 10zm19-13zm-199 24zm74-5zm12 0zm39 8zm29-12zm134 9zm54 0zm-330 5zm9 11zm6-10zm32 4zm41 1zm20 2zm-167 10zm94 8zm33-6zm6 1zm18-4zm57-4zm47 11zm41-4zm33-7zm77 11zm-443 4zm134 2zm73 9zm22 0zm53-3zm-99 12zm68-5zm19 0zm11-2zm15 12zm113-11zm12 5zm3 1zm-209 14zm19-5zm28 5zm6 2zm21-2zm6-3zm33 4zm23-4zm9 5zm5 1zm8-3zm9 2zm-304 12zm132-7zm11 12zm16-5zm114 0zm4-7zm40 4zm22-3zm11 6zm-343 11zm28-2zm8 2zm24 8zm12-12zm29 3zm9 4zm6-6zm99 1zm1 9zm61-5zm3 5zm21-3zm62 1zm-311 8zm95-1zm5 5zm7-6zm-141 17zm218 6zm73-2zm-230 8zm221 2zm-244 87zm-174 8zm151 49zm24-6zm-216 25zm81-9zm82 5zm113 4zm-195 12zm2-8zm66 0zm213 10zm-346 6zm84 4zm141-1zm-145 18zm13-12zm27 0zm32 12zm79-1zm130 1zm82-4zm-490 10zm19-3zm1 2zm57 7zm13-9zm17 11zm1-4zm53-1zm9 0zm87-1zm3 4zm91 1zm1-2zm-378 12zm9 3zm42-10zm24 5zm21-1zm10-4zm109 10zm24-7zm1 5zm133-3zm19 0zm22 1zm113 3zm-545 15zm108-3zm89 3zm16 3zm136-11zm2 11zm38-13zm1 2zm26 10zm21-6zm-393 16zm27 3zm0-1zm36-7zm25 9zm8-12zm16 13zm61-6zm1 6zm109-13zm24 11zm14-6zm3-2zm1 2zm24-3zm54 9zm19-4zm-463 9zm126 5zm17 4zm56-6zm23-5zm35 0zm61 4zm2-4zm40 5zm11 6zm44-10zm-368 21zm9-5zm42 10zm8-6zm77-7zm20 1zm17 4zm24 3zm4-7zm121 11zm51-11zm-425 14zm12 6zm49-6zm63 2zm81-1zm62 10zm17-9zm12 7zm23-3zm117 5zm80-12zm-483 20zm3-4zm9 10zm62-1zm26-9zm24 1zm20 9zm72-7zm7-5zm62 6zm17 4zm10 2zm29-9zm2 5zm12-1zm6-1zm38-3zm111 5zm-571 6zm35 7zm3-1zm42-1zm117-2zm99 2zm26-2zm33 4zm21-3zm34 9zm-301 6zm19 0zm45 3zm49-2zm18 6zm18 1zm22-1zm26-9zm18 4zm1 6zm16-13zm20 13zm52-5zm51-6zm17 5zm-489 12zm93-3zm81 11zm30-12zm14 12zm4-13zm65 11zm51 0zm47-10zm40 11zm1-3zm5-3zm10 5zm34-1zm-398 4zm39 6zm3 3zm8 2zm55 1zm70-11zm52 11zm9-3zm30-7zm16 6zm22-5zm4 2zm48 1zm12-6zm37 10zm20-7zm-393 23zm47-11zm41 8zm22 2zm146-10zm2 11zm-307 8zm109-3zm134-2zm13 4zm15-1zm16 4zm6 4zm34-5zm25 4zm2-7zm47 2zm189-3zm-566 20zm10-5zm13 4zm8-7zm44 11zm18-12zm111 8zm9-8zm4 0zm2 2zm47 1zm26 0zm19-2zm131 12zm62 0zm-353 13zm2-12zm39 0zm35 6zm15-6zm-50 20zm14-4zm47 3zm-254 18zm210 3zm85-9zm35-3zm108 4zm-343 11zm44 11zm95-8zm32 7zm68-5zm-240 9zm20 6zm138-3zm181-1zm32 1zm-206 28z" stroke="#39b327" stroke-width="10.8"/>
<path d="M1393 251zm180 19zm-359 68zm48 9zm66 2zm-251 11zm251-8zm-137 22zm221-6zm28 9zm33-11zm8 10zm-170 2zm183 6zm-114 9zm13 5zm-216 13zm89 7zm19 0zm52-10zm21 4zm218 2zm-406 7zm216 0zm27 7zm-297 18zm94-10zm217 8zm-272 17zm278-4zm19 1zm-289 4zm74 12zm40-7zm-24 10zm131 10zm51-9zm-342 23zm271 2zm-136 4zm122 5zm92-8zm-164 37zm115 5zm-199 64zm90-3zm-279 15zm430 1zm-235 12zm-109 47zm84-7zm-189 13zm138 17zm21-1zm17-2zm4 7zm174 4zm-164 6zm71 5zm22-1zm22 4zm68 2zm-376 26zm30-3zm15 3zm4-3zm71-9zm74 9zm-43 12zm-186 13zm10-4zm41 10zm10-13zm11 6zm92 6zm1-5zm24-7zm38 7zm48 4zm8-6zm76 0zm35 7zm-295 10zm139-2zm79-6zm0 8zm200-6zm-463 21zm93 2zm43-4zm121 2zm51-3zm-312 21zm52-4zm59 4zm236-1zm-279 11zm187-7zm-313 14zm80 4zm197 7zm72-9zm187 3zm-356 16zm39-3zm17 1zm24 4zm30 2zm30-2zm-347 8zm155 3zm180-5zm30-1zm30 6zm54-7zm113 0zm-465 16zm43 8zm2 1zm21-2zm38-1zm106 1zm31-10zm25 6zm-207 14zm69 7zm38-12zm197 0zm-431 17zm34 3zm52 2zm138 2zm-132 12zm260 2zm126-9zm-192 20zm25-7zm25 6zm-139 16zm21 27zm141 1zm-146 36zm69 12z" stroke="#65c129" stroke-width="10.8"/>
<path d="M1385 265zm-67 5zm75 13zm-197 52zm-75 20zm58 2zm40 4zm133-2zm92 4zm-45 10zm25 4zm-159 9zm136 3zm25-7zm76 2zm-270 21zm160-11zm62 16zm-157 21zm35-8zm34 7zm-150 17zm1-9zm101-3zm-104 15zm93 5zm-107 7zm33 3zm164-1zm27 19zm-90 136zm-32 20zm-133 27zm83 23zm-249 16zm325 8zm-366 27zm20 0zm101-12zm165 4zm-2 19zm-120 15zm29-7zm-22 17zm97 0zm16 5zm5-6zm-68 17zm81-6zm15 9zm-284 4zm42 7zm80 3zm266 1zm-88 9zm-112 18zm-255 15zm93-8zm16 14zm23 4zm181 4zm126-6zm-210 8zm37 12zm210-12zm-424 25zm24-1zm135 0zm-191 5zm293 10zm201-11zm-346 24zm144 0zm83-4zm-376 17zm357 0zm-302 23zm88 0zm12 0z" stroke="#a0c42f" stroke-width="10.8"/>
<path d="M1288 241zm-16 25zm218 59zm-320 39zm247 12zm-111 8zm106 29zm-62 43zm-36 152zm-44 8zm-62 32zm116 113zm-170 34zm-88 11zm18-3zm33-4zm-29 20zm296 0zm-211 15zm37 4zm16-5zm-194 42zm314 6zm-374 5zm155 3zm48 42zm203 5zm-175 2zm93 16zm-34 24z" stroke="#c9b733" stroke-width="10.8"/>
<path d="M1300 325zm128 25zm-238 24zm69-2zm12 11zm14 36zm-84 27zm113-8zm-122 212zm-76 32zm-97 30zm137-1zm106 55zm-306 36zm407 8zm-368 42zm353 27zm-27 38zm-188 47z" stroke="#d4932f" stroke-width="10.8"/>
<path d="M1451 397zm-115 365zm-370 92zm59 34zm307-1zm149 22zm-198 16z" stroke="#c9582a" stroke-width="10.8"/>
<path d="M1167 368zm135 17zm143 6zm-356 4zm70 9zm88 3zm262 3zm-444 23zm153-1zm-169 5zm102 10zm-84 6zm76 3zm19 3zm0-8zm346 0zm-3 23zm-422 9zm50 2zm56 1zm32-7zm24 2zm13 8zm-109 11zm260-9zm-311 21zm215 5zm87-2zm146-10zm-313 22zm20 0zm-254 5zm75 4zm89 2zm23 7zm19-10zm56-2zm12 4zm-151 14zm8 1zm213-1zm60-1zm21 4zm19-2zm-261 14zm48-3zm155 16zm-149 133zm126 16zm-51 19zm14 1zm-413 9zm287-1zm115 2zm24 4zm-53 20zm-323 14zm185-3zm191-8zm-270 23zm210-10zm136 10zm-537 6zm381 19zm8-2zm96-2zm-13 21zm-260 4zm276 4zm-158 11zm183 3zm3 1zm-332 19zm306 11zm83-2zm-570 18zm498-3zm-489 21zm380-5zm60-6zm35 5zm-23 10zm22 7zm-217 12zm238-7zm-464 24zm217-1zm30-5zm-202 19zm26-10zm195 11zm142 1zm24-8zm-188 15zm39-3zm87 10zm-379 8zm114 5zm138-7zm145-4zm12 5zm-331 14zm27 2zm7-6zm69 12zm55-5zm35 4zm63-3zm72 3zm-216 2zm7 11zm18-11zm35 3zm16 2zm88 8zm8-3zm-197 10zm-24 9z" stroke="#3f2abe" stroke-width="10.8"/>
<path d="M1121 358zm31 15zm29 6zm63 16zm254 3zm-418 17zm240-7zm-264 16zm45 7zm35-7zm99 6zm235 0zm-482 8zm51-4zm38 5zm22 3zm14-5zm64 9zm79-1zm-128 10zm2-1zm5 1zm280-7zm46 5zm-340 19zm272-9zm57 3zm81 9zm-490 8zm60-1zm266-5zm53 12zm69-7zm-442 12zm26 2zm40 3zm213-4zm100-5zm30 3zm93 1zm-499 12zm76 2zm119 6zm-183 4zm48 10zm8-1zm22 2zm6-7zm26 2zm108-4zm75 8zm53-2zm3-1zm77-4zm-431 15zm99-3zm9 12zm26-2zm165-8zm75-3zm0 8zm23 3zm22-5zm20 4zm-335 17zm138-5zm98 0zm74 5zm-151 4zm-17 19zm37 158zm-394 18zm36 24zm180 13zm152 11zm27 5zm-67 2zm48 17zm61 5zm-503 7zm42 0zm327 2zm-158 17zm183 6zm33-4zm10-2zm60 6zm36-2zm6-9zm-405 14zm238 4zm64 18zm46-9zm-5 16zm-109 12zm-332 24zm192 28zm-68 13zm44 2zm11-6zm79 6zm131-9zm64 0zm-473 20zm126-4zm170 0zm60-4zm89 11zm19-3zm-421 14zm6-5zm211 9zm216-4zm-372 17zm92-10zm33 11zm43-5zm13 2zm10 1zm56-4zm62 1zm29-7zm34 7zm-357 9zm70 9zm37-12zm6 2zm22 5zm14 4zm89 2zm32-13zm40 9zm-325 9zm37 5zm78-6zm1 5zm20-1zm146-7zm95 2zm-371 25zm189-7zm56 0zm-116 17zm7-7zm22 1zm66 15z" stroke="#3227bb" stroke-width="10.8"/>
<path d="M1183 360zm-123 7zm394 1zm-348 25zm18 3zm24-4zm15 2zm130 7zm148-3zm-322 10zm61 3zm134 2zm59-5zm-385 25zm43-11zm50 11zm23-7zm298 3zm-361 6zm88 11zm61 1zm52-13zm222 12zm-422 8zm86 0zm427 4zm-481 17zm50-11zm100-2zm-240 22zm62-7zm12 7zm3-2zm163 2zm148-8zm115 1zm-328 19zm453-2zm-520 17zm114 6zm116-8zm60 5zm48 1zm36 2zm-313 14zm118-1zm84-9zm119 6zm-358 6zm43 9zm39-3zm114-3zm44 3zm13 6zm54-2zm54-5zm-333 21zm11 0zm4-4zm128 2zm22 2zm44-7zm26 1zm-262 14zm43 0zm13-1zm30 1zm97 4zm77-2zm-146 24zm-267 140zm402-5zm-182 17zm-142 16zm266 4zm45 2zm41 4zm28 0zm-484 24zm52-2zm90 4zm323 0zm-481 14zm258 0zm132-13zm4 4zm58-1zm-121 11zm107 4zm30 18zm-240 8zm239 10zm21-1zm-488 4zm12 3zm430-3zm-456 21zm313-7zm115 11zm52-1zm-455 9zm29-3zm341 16zm-399 16zm55 3zm272-2zm92 15zm0 4zm31-10zm26 6zm2 1zm-378 15zm18 1zm152-1zm-235 9zm268 6zm71-9zm52 8zm16 1zm-360 5zm73 1zm56 9zm-191 10zm179 3zm198-6zm6-4zm38 10zm15-7zm-322 19zm19 1zm59-10zm184 7zm-281 18zm78-6zm23 7zm45-5zm2-7zm5 1zm26 3zm80 4zm7-2zm14-2zm-223 18zm168 4zm95-4zm-302 9zm171 0zm9 2zm63 5zm-228 11zm7 5zm212-3zm-164 17zm85-8zm2 17z" stroke="#2726af" stroke-width="10.8"/>
<path d="M1314 344zm-290 29zm233 4zm-197 12zm160-10zm25 1zm61 9zm143 1zm-332 11zm31-8zm169 8zm129-4zm-312 9zm410 21zm-468 10zm21 4zm254 1zm-284 15zm24-6zm487 1zm-457 20zm4 3zm337-6zm78 3zm-474 14zm106 2zm57-2zm297-5zm-443 13zm47-1zm-77 21zm6-7zm17 6zm216 0zm125-2zm15-6zm-129 25zm185-12zm-389 22zm31-8zm156 13zm81-4zm58-3zm70-4zm-355 23zm42-6zm22 1zm75 5zm60-7zm62-2zm111 11zm21-10zm-488 16zm73-3zm22 1zm261-3zm12 1zm135 7zm-654 118zm301 8zm191 4zm23 10zm-324 10zm-140 14zm-52 22zm387-7zm158-2zm-79 55zm-331 19zm180 0zm-259 12zm72 5zm92 3zm32-12zm40 2zm193 1zm-316 15zm159 6zm8 2zm149-7zm-249 8zm63 4zm240-3zm-473 14zm178-1zm86 12zm13-7zm77-2zm44 1zm-423 14zm466 0zm-333 16zm31 5zm280-11zm1 16zm-287 12zm60 4zm246 2zm-215 25zm3 9zm93 1zm94-5zm-359 8zm17 2zm5 8zm53 1zm89-5zm136-6zm39 4zm-51 15zm3-1zm61 3zm-336 11zm111 4zm27 2zm75-1zm50-10zm71 2zm-387 16zm130-1zm49 2zm7 5zm42 0zm135-7zm-398 15zm136-4zm6 5zm142 1zm49 6zm34-10zm25-1zm-342 24zm55-5zm128-3zm86 3zm14 6zm-267 1zm36 9zm10 15zm54-4z" stroke="#1d29a0" stroke-width="10.8"/>
<path d="M1074 384zm-58 23zm0 6zm19 4zm342 2zm46-6zm41 19zm-404 4zm313-2zm124 10zm1-7zm-403 23zm114 2zm-125 18zm-96 19zm226-5zm105 3zm159-2zm15-3zm-376 21zm49-9zm89 1zm11 2zm127 7zm121-2zm-429 13zm25 5zm10-2zm24-9zm168 14zm74 12zm95-8zm-269 11zm47 0zm38 2zm130 1zm5-5zm3 28zm-347 127zm-46 18zm275 31zm-179 6zm13 3zm-49 19zm260 14zm-239 61zm227-13zm-328 22zm333-6zm1 4zm-8 18zm-248 28zm243 19zm-25 20zm-277 18zm0 14zm318 2zm-169 1zm227 13zm-280 13zm0-1zm13-1zm28 3zm4 0zm-158 6zm24 4zm12-1zm29-7zm71 8zm170-9zm-383 16zm210-2zm-136 15zm51 0zm232 4zm-183 18zm17-1z" stroke="#173e87" stroke-width="10.8"/>
<path d="M1284 362zm48-4zm-177 9zm-96 14zm59 3zm153 3zm3-9zm101 9zm104-2zm-384 20zm170-9zm85-2zm67 7zm1-8zm-341 21zm70 4zm58-8zm2 7zm270-8zm-382 12zm3 7zm121 3zm28-7zm118-3zm153 8zm-418 12zm106-2zm17 4zm8-2zm24 4zm144-2zm28-9zm3 8zm11 2zm3-7zm56-1zm-355 19zm160 2zm22 0zm66-5zm20 7zm8-3zm2 0zm-271 8zm83 1zm25 6zm78 0zm0-5zm-157 19zm0-3zm85 1zm136-7zm10 13zm5-11zm42 8zm-214 13zm209-8zm55 9zm-465 13zm24-8zm88 8zm55 2zm2-5zm198-6zm-319 21zm365 2zm-348 15zm287-5zm-140 13zm30 5zm100 3zm-8 6zm-429 134zm250-12zm92 1zm-183 21zm63 5zm-194 10zm164 1zm130-8zm-187 25zm10-4zm7-7zm79 6zm3-3zm90-3zm-355 18zm65-3zm6 2zm56 2zm28 1zm20 4zm39-8zm99-1zm20 6zm32-6zm7-2zm51 8zm-370 7zm162 11zm28-8zm78 7zm12-11zm23 0zm-321 17zm10 8zm46 1zm59-4zm100 3zm11-9zm86 4zm32-6zm70 1zm-299 17zm9-4zm91 8zm15 1zm8-3zm63 5zm-345 15zm145-11zm3 7zm138-9zm1 4zm77 2zm15 5zm-173 13zm13 2zm46-3zm5-3zm53 2zm18-1zm82 5zm2-11zm89 5zm-399 12zm3 6zm13-10zm70 7zm20 4zm17-6zm27 5zm10-9zm114 12zm-333 12zm180-3zm76 3zm22-7zm42 7zm16-6zm35 0zm91 4zm-489 10zm144-1zm88-1zm19 8zm3 2zm83-10zm21 4zm19 1zm-369 14zm23-6zm166 5zm67 1zm-283 11zm342 8zm63-1zm-384 4zm40 3zm37-5zm240 12zm105-12zm-377 20zm38-4zm45 6zm12 3zm5 1zm70-12zm15 4zm146 9zm-304 5zm256 7zm102-1zm25 1zm13-4zm-461 18zm27-8zm22-3zm5 12zm47-9zm67 4zm100-7zm8 0zm7 4zm84 3zm81-2zm-328 16zm30 4zm19-11zm235 2zm-377 16zm75-2zm90 9zm69-4zm56-3zm146 9zm-432 5zm87 1zm36 6zm1-9zm3 3zm183 1zm12-3zm-73 15zm102 0zm-231 20zm66-8zm53 5zm100 4zm-354 4zm86 8zm90-7zm210 3zm-147 19zm47 12zm64-1z" stroke="#165a69" stroke-width="10.8"/>
<path d="M1123 362zm59-11zm32 3zm21 2zm24-3zm52 2zm144 6zm-285 4zm36 5zm84-5zm14 1zm89 11zm-211 3zm105 10zm102-1zm29 1zm-423 13zm302-7zm122 6zm64 1zm-328 7zm79 4zm10-7zm63 10zm-228 6zm245 0zm3 10zm11-3zm17-5zm-286 16zm42 1zm58 3zm4-11zm5 11zm23-8zm40-3zm197 7zm44-3zm-330 16zm89 6zm213-1zm30-5zm-308 20zm6-9zm19 0zm7 0zm12 4zm173 5zm56 0zm-354 15zm43-12zm137 4zm49 5zm60-9zm13 11zm-223 3zm123 3zm2-1zm20-1zm-201 12zm91 2zm46 3zm14 3zm58 2zm50 2zm43-4zm-282 26zm43 1zm-79 116zm107 22zm-245 22zm85-9zm54 2zm50 6zm-47 15zm91-7zm-149 20zm11-10zm32 10zm72-3zm33 12zm13-6zm4 7zm-183 17zm6-4zm16-2zm13 4zm6 3zm18-10zm76-2zm18 8zm87 5zm-348 12zm127-11zm47 10zm3-8zm3 7zm27 4zm39 0zm15-9zm78 7zm12-11zm84 1zm-375 26zm128-4zm27-6zm16 9zm57-11zm56 0zm14 3zm6 5zm41-8zm-287 25zm29-5zm139 0zm69 0zm14 1zm124 4zm-459 10zm9 4zm362-1zm46-6zm-423 19zm101-7zm14 4zm38-3zm70 1zm14 6zm43-11zm46 3zm-313 20zm20 0zm70 4zm71-8zm126 1zm38-4zm21 7zm0-7zm43 10zm-452 6zm152-2zm64 4zm52 1zm55-7zm86 10zm-349 8zm126 5zm55 3zm101-11zm84 10zm9-6zm-398 20zm48-1zm133-1zm3-7zm8-1zm18 6zm28-2zm33 1zm16 7zm20-13zm-201 27zm60-7zm104 6zm45-7zm94 2zm20 6zm-408 7zm65 1zm24 2zm10 3zm60-4zm20 3zm2-4zm57 2zm21-9zm26 5zm47 5zm-344 17zm43-5zm6-5zm45-3zm35 10zm287 1zm-378 9zm9 6zm27-4zm50-2zm132 1zm7-1zm43 3zm8-9zm50 5zm67 6zm-418 14zm60-6zm65-3zm65 11zm59-5zm52 5zm60 0zm-269 2zm5 8zm19 3zm143-4zm22 5zm83-12zm20 10zm83-3zm-415 6zm14 8zm114-2zm163 2zm63 1zm-399 12zm261-5zm10 8zm55-7zm-373 24zm103-6zm31-7zm164 4zm137 6zm-291 9zm55 9zm145 4zm93-3zm-376 31zm57 22z" stroke="#197a4a" stroke-width="10.8"/>
<path d="M1387 338zm-142 24zm88-6zm-244 13zm125-3zm92 6zm86-5zm59 4zm-316 15zm81 2zm44 3zm1-9zm3 5zm54 0zm8 1zm46-9zm12 2zm15 8zm38-7zm-238 22zm6-5zm78-2zm-134 13zm20 3zm10 3zm33 2zm199-10zm2 4zm-274 14zm50 6zm7-11zm8 4zm188 8zm7-9zm1-4zm32 7zm33 4zm-327 11zm79 3zm11 0zm31 2zm110-5zm8 4zm50-8zm-376 14zm29-1zm182 10zm56-4zm8-9zm27 3zm31 0zm76 4zm-271 10zm70 0zm63 8zm-245 6zm212 3zm38 5zm67-10zm12 0zm27 11zm46-7zm-463 19zm193-2zm1 0zm102-1zm15-7zm35 13zm110-4zm-368 15zm92-9zm4 0zm242 0zm-47 15zm-186 20zm-223 142zm88 8zm89 8zm175-3zm-122 18zm105-5zm-323 18zm45-5zm9 4zm11 0zm53 0zm49-3zm8-3zm31 6zm117 2zm-295 6zm79 3zm23-5zm1 8zm46-5zm16-4zm12 4zm23 6zm-298 12zm70-6zm20-2zm20 10zm44 1zm19-9zm18 8zm56-4zm7 1zm20 2zm128-4zm-302 19zm308-9zm42 2zm-325 9zm228 5zm0 7zm30-6zm2-1zm54 4zm-360 11zm1-3zm109 4zm7 5zm148 0zm46-2zm-308 15zm27-5zm16-5zm10 12zm96-12zm13 11zm1-11zm95 7zm44-3zm7 7zm31-4zm-430 14zm34-2zm25 3zm27-2zm4-3zm92 9zm31-12zm37 4zm15-4zm111 7zm-413 13zm51-1zm72 5zm189-10zm27 2zm99-1zm-358 15zm4-1zm32 5zm32-2zm50 0zm14-4zm13 5zm204 6zm-369 4zm33 10zm14 1zm23-7zm44 3zm7-4zm132 0zm24 4zm48 1zm69 2zm-324 7zm41 2zm13 5zm62 1zm5-13zm41 10zm11-2zm16 1zm56-3zm18-6zm-372 27zm167-10zm17 0zm142 1zm91-3zm-367 14zm105 8zm41 1zm46-4zm13 0zm14 3zm15 2zm-278 4zm62-1zm25 11zm4-6zm6-4zm70 10zm13-2zm54 4zm14-2zm124 1zm5-3zm4-5zm-415 14zm174 3zm48 5zm7-8zm15 0zm2 5zm7-8zm16 4zm14 6zm5-5zm38-3zm22 2zm12 3zm73-8zm-298 17zm52 10zm33-3zm14 1zm47-3zm27 0zm5 5zm-241 1zm29 0zm55 11zm77 0zm83-11zm64 13zm62-6zm-377 15zm41 1zm13-5zm114 0zm11-4zm210 12zm-314 11zm67-2zm29-2zm137 5zm32-4zm-195 9zm68 33zm42 16z" stroke="#219c2c" stroke-width="10.8"/>
<path d="M1471 248zm-181 21zm189-1zm-254 61zm13 5zm20 1zm-3 11zm126-4zm10-5zm-269 25zm87-12zm10 10zm26-1zm23-7zm48 11zm45-8zm48 7zm-272 14zm27-12zm15 0zm8 7zm170-3zm12 5zm50-6zm5 6zm-299 13zm48-5zm33 6zm10-4zm23 0zm106 4zm19-6zm-298 11zm187 3zm10-1zm4 10zm3-8zm16 8zm74 1zm70-5zm97 3zm-360 6zm20 4zm49 4zm93-6zm10 2zm93 2zm2-4zm-246 19zm15 0zm6-5zm1 2zm36-5zm73-2zm20 6zm23 7zm20-7zm49 0zm-199 20zm14-3zm38-7zm9-1zm56 4zm119 8zm-317 7zm75 0zm4 0zm89-5zm6 5zm23 5zm41-5zm51 6zm32-6zm-226 17zm8 2zm209-6zm-294 12zm49 0zm125 9zm78 1zm5-8zm-268 9zm57 12zm61-12zm62 13zm21-10zm35 7zm6-6zm47-2zm-390 21zm184-3zm54 2zm154 21zm-382 90zm203-4zm17 2zm-225 32zm51 15zm-17 9zm85 8zm44-1zm77-4zm-213 8zm71 7zm14 4zm97-2zm15-10zm38 8zm-317 15zm34-1zm13 3zm10-7zm31 3zm1-4zm115 7zm31-3zm88-2zm-314 21zm25-1zm23-3zm86-9zm34 2zm10 6zm73-8zm20 0zm-352 17zm9 6zm9-1zm52 3zm28 2zm115-7zm16-6zm18 3zm23-1zm2 11zm3-4zm26-3zm23 4zm27 0zm-380 15zm32-5zm48 5zm17 0zm8-9zm37 2zm54 1zm47 2zm4 5zm8-11zm14 9zm0 3zm14 0zm21-1zm1-6zm27 6zm28-8zm117 1zm-410 22zm66-4zm15-8zm9 3zm69 0zm49 8zm57-7zm42 6zm-301 16zm123-11zm11 0zm55 10zm16-11zm103 6zm25-2zm-373 20zm2-8zm6 1zm56-3zm134 4zm0 3zm100-7zm8 2zm17 10zm50-7zm33 7zm36 0zm-415 13zm107-10zm10 6zm46-5zm72 10zm75-13zm8 1zm53 9zm-403 8zm57 2zm22 3zm3-7zm14 3zm51 7zm77-6zm2-6zm20 3zm112-3zm-94 22zm13 1zm20-5zm3 5zm3-6zm17 7zm0-2zm8 1zm-245 8zm38 5zm151-2zm-299 21zm74-3zm114-3zm27 5zm112-11zm16 12zm13-6zm37-4zm19 5zm-308 7zm11 5zm37 6zm4-9zm101 5zm44 3zm71 1zm37-10zm28-1zm52 12zm26-3zm-421 5zm52 2zm68 4zm1-5zm35 2zm26-3zm3 10zm28-7zm84-4zm-360 21zm37 0zm43-6zm25 3zm53 7zm33-8zm26 1zm18-1zm4-3zm1 7zm51 3zm14-10zm29 4zm5-4zm25 11zm5-2zm5-7zm85 8zm-342 11zm23-6zm134 10zm0-11zm107 11zm47-8zm-419 14zm20 5zm71-7zm59 5zm36 2zm55-7zm18 7zm17-2zm26-1zm34 0zm-256 22zm27-13zm15 6zm28 2zm23-7zm23 8zm26 1zm23 1zm11-6zm77 1zm3 3zm7 4zm-342 5zm24 8zm27-11zm58 10zm57-10zm26 2zm13 8zm117-6zm15 2zm43 3zm42-6zm-316 17zm18-6zm10-1zm140 2zm11 4zm2 6zm7 14zm8-9zm89 1zm-392 12zm71 19z" stroke="#39b327" stroke-width="10.8"/>
<path d="M1379 224zm77 109zm-205 9zm81 14zm50 2zm-214 10zm40 7zm4-3zm224 4zm6 0zm-203 2zm95 5zm17 5zm-114 7zm99 8zm29-11zm85 3zm37 2zm-328 10zm181 5zm39 0zm2 3zm129-3zm-269 16zm142-5zm22 4zm55 5zm-267 3zm26 11zm147-10zm-152 22zm27-7zm60 8zm4-6zm19-3zm-168 24zm67 0zm7-6zm50-1zm195 6zm9 6zm-4 19zm-94 100zm-261 23zm-145 19zm202 5zm121 38zm-285 6zm7 9zm80-3zm-47 9zm-33 21zm150-5zm55 6zm-79 11zm77-9zm-17 17zm43 7zm-216 9zm2-4zm150 4zm-249 21zm72-9zm62 9zm23-4zm114 4zm43-1zm16-6zm1 7zm-14 6zm-174 12zm115 6zm10-7zm45 1zm27-2zm-272 19zm57 4zm2 4zm108-2zm83-6zm-233 18zm35 1zm137-7zm12 9zm-216 4zm64-1zm111 11zm1-2zm11-2zm82 4zm34-1zm14-4zm-319 12zm170 1zm170-5zm-312 23zm214-1zm41-6zm-343 19zm405 4zm-401 2zm155 1zm25-1zm34 10zm73 3zm40-13zm3 7zm19-7zm63 4zm-144 13zm-234 19zm199 1zm153 1zm-268 15zm85-9zm89 7zm119-2zm-262 17zm4 3zm173-6zm25 4zm-197 19zm259 7zm-406 34z" stroke="#65c129" stroke-width="10.8"/>
<path d="M1347 263zm72-2zm62-4zm-297 100zm24 3zm213 1zm1-6zm31 0zm19-4zm-143 22zm124-5zm-289 19zm98-5zm31-4zm81 1zm-158 34zm7-5zm217 16zm97 4zm-249 8zm134 1zm-78 14zm-38 24zm-53 122zm-136 30zm215-5zm43 7zm-224 68zm136-11zm-166 26zm-112 2zm162 1zm13 18zm105 1zm-279 8zm317 5zm-280 17zm210-8zm-282 20zm305-4zm-316 20zm184 11zm107 0zm-191 17zm35-1zm203 3zm-372 4zm43 4zm-6 13zm15 4zm187 2zm-40 13zm88-3zm-177 25zm5-2zm184 13zm-22 12zm-127 3zm1 4zm59 8zm22-12zm55 5zm63 3zm-90 12zm144-6zm-177 26zm39-5zm-234 7zm25 2z" stroke="#a0c42f" stroke-width="10.8"/>
<path d="M1402 237zm-89 13zm152 11zm-97 27zm-223 68zm283 11zm-76 24zm-181 28zm152-7zm47-1zm10 11zm-87 33zm85-1zm-44 18zm-38 164zm-276 9zm225 40zm123 5zm-154 34zm-269 4zm100 24zm140-3zm-48 42zm230 4zm-265 15zm123-4zm3 4zm-113 22zm110 18zm128-3zm-215 20zm-170 9zm375 8zm-32 13zm-278 32z" stroke="#c9b733" stroke-width="10.8"/>
<path d="M1223 359zm240 68zm-295 7zm311 54zm-328 220zm-38 15zm177-5zm-196 22zm188 71zm-37 11zm-107 17zm30 16zm148 2zm-88 76zm14 21z" stroke="#d4932f" stroke-width="10.8"/>
<path d="M1349 310zm99 22zm-193 19zm223 117zm-384 225zm168 92zm-47 79zm-138 62z" stroke="#c9582a" stroke-width="10.8"/>
</g>
<g transform="scale(.5)" filter="url(#soft2)">
<path d="M1155 160zm485 28zm14 24zm-90 24zm132-10zm-52 32zm146 48zm18 12zm-182 10zm140 22zm56 0zm-218 590zm-24 66zm-80 58z" stroke="#24247a" stroke-width="10.4"/>
</g>
<g filter="url(#soft)" opacity="0.3">
<path d="M559 142L463 688.5" stroke="#626262" stroke-width="1.6"/>
<path d="M570 143L476 688.5" stroke="#626262" stroke-width="1.6"/>
<path d="M740 262L684 577" stroke="#626262" stroke-width="1.6"/>
<path d="M753 262L699 570.5" stroke="#626262" stroke-width="1.6"/>
<path d="M523 140.6L727 148.5" stroke="#626262" stroke-width="1.6"/>
<path d="M500 153.6L733 159.5" stroke="#626262" stroke-width="1.6"/>
<path d="M478 166L700 172.5" stroke="#626262" stroke-width="1.6"/>
<path d="M455 178.7L784 190.5" stroke="#626262" stroke-width="1.6"/>
</g>
<g filter="url(#soft)">
<path d="M52 398L716 24" stroke="#34b434" stroke-width="4.6"/>
<path d="M724 19.5L706 21.5L711.5 31Z" fill="#2c962c" stroke="none"/>
<path d="M53 398L454 688" stroke="#b8242a" stroke-width="4.6"/>
<path d="M45.5 258.5L40.4 274.5H43.6L50 398H55.2L48.6 274.5H51.2Z" fill="#1f1f9c" stroke="none"/>
</g>
</g>
<g id="pb">
<g filter="url(#soft)">
<path d="M1151 196.7L1315.7 108.3" stroke="#606060" stroke-width="1.45"/>
<path d="M1151 218.3L1352.4 108.3" stroke="#606060" stroke-width="1.45"/>
<path d="M1151 239L1389.9 108.3" stroke="#606060" stroke-width="1.45"/>
<path d="M1151 258.1L1424.2 108.3" stroke="#606060" stroke-width="1.45"/>
<path d="M1368 106.7L1899 422.3" stroke="#606060" stroke-width="1.45"/>
<path d="M1391 106.7L1899 408.6" stroke="#606060" stroke-width="1.45"/>
<path d="M1170 187.5L1881 614" stroke="#606060" stroke-width="1.45"/>
<path d="M1181 180.6L1899 610" stroke="#606060" stroke-width="1.45"/>
<path d="M1138.5 373L1549.4 614.3" stroke="#606060" stroke-width="1.45"/>
<path d="M1148 367.4L1568.6 615.7" stroke="#606060" stroke-width="1.45"/>
<path d="M1701.4 106.7L1900 224" stroke="#606060" stroke-width="1.45"/>
<path d="M1726.7 106.7L1900 210.7" stroke="#606060" stroke-width="1.45"/>
<path d="M1138 627.5L1147 627.5" stroke="#bfe6bf" stroke-width="1.2"/>
<path d="M1138 591.1L1147 591.1" stroke="#bfe6bf" stroke-width="1.2"/>
<path d="M1138 554.7L1147 554.7" stroke="#bfe6bf" stroke-width="1.2"/>
<path d="M1138 518.3L1147 518.3" stroke="#bfe6bf" stroke-width="1.2"/>
<path d="M1138 481.9L1147 481.9" stroke="#bfe6bf" stroke-width="1.2"/>
<path d="M1138 445.5L1147 445.5" stroke="#bfe6bf" stroke-width="1.2"/>
<path d="M1138 409.1L1147 409.1" stroke="#bfe6bf" stroke-width="1.2"/>
<path d="M1138 372.7L1147 372.7" stroke="#bfe6bf" stroke-width="1.2"/>
<path d="M1138 336.3L1147 336.3" stroke="#bfe6bf" stroke-width="1.2"/>
<path d="M1138 299.9L1147 299.9" stroke="#bfe6bf" stroke-width="1.2"/>
<path d="M1138 263.5L1147 263.5" stroke="#bfe6bf" stroke-width="1.2"/>
<path d="M1138 227.1L1147 227.1" stroke="#bfe6bf" stroke-width="1.2"/>
<path d="M1138 190.7L1147 190.7" stroke="#bfe6bf" stroke-width="1.2"/>
<path d="M1138 154.3L1147 154.3" stroke="#bfe6bf" stroke-width="1.2"/>
<path d="M1138 117.9L1147 117.9" stroke="#bfe6bf" stroke-width="1.2"/>
<path d="M1138 81.5L1147 81.5" stroke="#bfe6bf" stroke-width="1.2"/>
<path d="M1138 45.1L1147 45.1" stroke="#bfe6bf" stroke-width="1.2"/>
<path d="M1205 629L1205 636" stroke="#f0c8c8" stroke-width="1.2"/>
<path d="M1268 629L1268 636" stroke="#f0c8c8" stroke-width="1.2"/>
<path d="M1331 629L1331 636" stroke="#f0c8c8" stroke-width="1.2"/>
<path d="M1394 629L1394 636" stroke="#f0c8c8" stroke-width="1.2"/>
<path d="M1457 629L1457 636" stroke="#f0c8c8" stroke-width="1.2"/>
<path d="M1520 629L1520 636" stroke="#f0c8c8" stroke-width="1.2"/>
<path d="M1583 629L1583 636" stroke="#f0c8c8" stroke-width="1.2"/>
<path d="M1646 629L1646 636" stroke="#f0c8c8" stroke-width="1.2"/>
<path d="M1709 629L1709 636" stroke="#f0c8c8" stroke-width="1.2"/>
<path d="M1772 629L1772 636" stroke="#f0c8c8" stroke-width="1.2"/>
<path d="M1835 629L1835 636" stroke="#f0c8c8" stroke-width="1.2"/>
<path d="M1898 629L1898 636" stroke="#f0c8c8" stroke-width="1.2"/>
<path d="M1961 629L1961 636" stroke="#f0c8c8" stroke-width="1.2"/>
<path d="M1148 180.2L1901.5 180.2" stroke="#242424" stroke-width="2.5" stroke-linecap="butt"/>
<path d="M1148 362L1901.5 362" stroke="#242424" stroke-width="2.5" stroke-linecap="butt"/>
<path d="M1148 543.8L1901.5 543.8" stroke="#242424" stroke-width="2.5" stroke-linecap="butt"/>
<path d="M1267.3 179.2L1267.3 628" stroke="#242424" stroke-width="3.5" stroke-linecap="butt"/>
<path d="M1584 179.2L1584 628" stroke="#242424" stroke-width="3" stroke-linecap="butt"/>
<path d="M1900 179.2L1900 628" stroke="#242424" stroke-width="3.2" stroke-linecap="butt"/>
</g>
<radialGradient id="ub1"><stop offset="0" stop-color="#24784a" stop-opacity="0.8"/><stop offset="0.55" stop-color="#24784a" stop-opacity="0.68"/><stop offset="1" stop-color="#24784a" stop-opacity="0"/></radialGradient>
<ellipse cx="1440" cy="218" rx="80" ry="48" transform="rotate(-12 1440 218)" fill="url(#ub1)" stroke="none"/>
<radialGradient id="ub2"><stop offset="0" stop-color="#24784a" stop-opacity="0.88"/><stop offset="0.55" stop-color="#24784a" stop-opacity="0.748"/><stop offset="1" stop-color="#24784a" stop-opacity="0"/></radialGradient>
<ellipse cx="1668" cy="414" rx="140" ry="88" transform="rotate(18 1668 414)" fill="url(#ub2)" stroke="none"/>
<g transform="scale(.5)" filter="url(#soft2)">
<path d="M2886 305zm6-3zm111-6zm-128 25zm11-7zm86 4zm26 0zm22-7zm-126 17zm91-3zm4 5zm29 1zm47-3zm-133 18zm20-4zm16-1zm47 1zm15 4zm-156 8zm73-4zm11 2zm16 6zm12-2zm-314 8zm243 1zm64 6zm19-2zm-128 19zm-188 13zm95 2zm65-2zm41 31zm119-6zm26 1zm-312 10zm16-2zm19 7zm24-4zm29-2zm21 8zm216-7zm-328 11zm302 12zm12-8zm-242 15zm196 2zm-311 19zm36 1zm21-9zm46 9zm-72 10zm17-7zm28 6zm14-7zm52 10zm26-1zm138-4zm12-1zm15-4zm-332 13zm47 9zm30-8zm312 5zm-399 8zm24 1zm47-1zm71 3zm20-1zm-144 14zm57-1zm41-1zm106 9zm7-1zm17-7zm-242 25zm24-4zm24-2zm277 4zm328-10zm-696 17zm80 7zm153-9zm483-1zm-810 14zm49 7zm33 5zm712-2zm-680 5zm763 1zm-764 21zm5 0zm48-7zm443 3zm143 5zm-574 6zm330 1zm244 5zm12-6zm-602 23zm345-8zm174 8zm103-3zm100-4zm-276 13zm51 2zm43-5zm21 1zm3 6zm15-3zm-231 35zm431-10zm-516 23zm136 2zm440-5zm-16 21zm-301 41zm200-4zm33 2zm-123 6zm32 3zm230 1zm-366 11zm196 23zm135-9zm37 2zm-176 21zm-245 9zm12-5zm558 0zm-711 13zm257 7zm-214 16zm138-2zm301-6zm4-2zm66 12zm6-8zm-145 9zm121 2zm-458 25zm28-6zm333 3zm-310 11zm10 4zm129-7zm360 0zm-424 13zm399 5zm33-4zm-631 14zm339-2zm25 10zm7-8zm50 3zm33-4zm-418 18zm321-2zm77 8zm67-8zm-402 22zm85-4zm71 1zm148 3zm50-4zm-177 8zm-81 22zm22 2zm213 0zm-315 4zm298 20zm-60 16zm-63 21zm42 9zm21-11zm-47 19zm116-2zm119 1zm-107 11zm230 126z" stroke="#2c2195" stroke-width="10.8"/>
<path d="M3137 256zm-167 23zm-18 12zm6-6zm-381 15zm346 4zm36-3zm44 3zm-71 14zm23-7zm7 5zm38-1zm-41 15zm5 2zm22-1zm38 4zm12-6zm79-4zm-222 21zm2-3zm39-5zm23 0zm1 3zm49 0zm3-1zm-171 17zm27-3zm58 4zm66-5zm49 6zm3 0zm3 0zm-199 5zm111 7zm47-2zm11 3zm58 1zm-225 7zm130 4zm-126 16zm14 0zm119-6zm13-1zm9-1zm62 5zm126-5zm-430 14zm85 0zm138 7zm108-6zm-416 17zm308-2zm41 3zm-263 20zm80 2zm3-2zm57-5zm-179 9zm70 7zm16 1zm43-7zm186-1zm153 3zm-458 11zm48 5zm50-2zm17 5zm203-2zm-368 18zm34-7zm24 8zm7-8zm14 3zm1 6zm0-3zm17-7zm11 9zm5-4zm160-8zm-251 17zm8-3zm27 0zm13 10zm42 2zm31-1zm12-4zm34-6zm32 2zm0 1zm60 4zm-344 15zm49-7zm22 6zm42 2zm8 3zm4-1zm6 1zm29-10zm43 6zm40-2zm126 1zm-373 15zm23-5zm5 9zm6-10zm4-2zm14 7zm4-7zm15 2zm57 0zm51 4zm8-7zm1 1zm141 4zm23-4zm143 12zm27 0zm22 0zm277 0zm-754 9zm12 3zm-105 14zm2-11zm79 6zm6 3zm16 4zm2-8zm15 4zm22-7zm15 11zm8-8zm42 3zm108 1zm66 1zm-327 10zm87-1zm60 4zm-195 7zm34 9zm15-7zm46 0zm29 5zm60 3zm154-4zm239 3zm471-10zm-1113 15zm83 6zm12-5zm34 9zm100-10zm279 5zm-459 18zm93-5zm63-6zm329 2zm137 10zm82 0zm335 1zm-929 13zm970-11zm-1075 15zm107 5zm332 5zm362 0zm-842 14zm449-5zm131-3zm15-1zm323 6zm35-5zm-821 19zm377 3zm107 1zm310-9zm-192 23zm14-4zm37 3zm203-8zm-203 14zm13 7zm13 12zm97-4zm-279 11zm165 11zm59-10zm112 0zm41 4zm5-7zm-877 18zm491 0zm220-1zm172 5zm-115 17zm138-1zm-480 15zm19-6zm280-4zm7 5zm136-2zm-364 11zm137 22zm333-2zm-669 7zm53 3zm88 1zm123 4zm-218 15zm163 4zm335-2zm23-8zm24-2zm115-1zm-676 27zm60-8zm36 5zm403-7zm94 2zm6 3zm-357 17zm45-6zm290 1zm65-6zm-463 21zm248 1zm216-6zm-682 20zm116 1zm250 1zm113-2zm117-6zm69 1zm-617 24zm0-4zm24-2zm411 2zm101 0zm-461 15zm150 2zm204-11zm-247 22zm343 0zm94 4zm-81 11zm17 3zm56-7zm1 0zm-489 20zm36-10zm548 10zm49-6zm-579 9zm179 7zm212 4zm-438 4zm551 5zm-418 9zm9 10zm160 0zm5 1zm20-3zm123 2zm-426 13zm45-9zm60 1zm34 8zm133-1zm27-8zm126 0zm-286 14zm61 9zm20 16zm-130 4zm277 6zm20 17zm31-7zm-115 13zm-40 10zm-548 27zm433 21z" stroke="#241e92" stroke-width="10.8"/>
<path d="M2917 278zm-26 16zm66 8zm8 1zm16-6zm13-1zm-162 12zm89 12zm22 14zm1-4zm33-5zm50 2zm1 2zm5-2zm-112 14zm32 7zm6 1zm4-1zm6-7zm12 5zm-107 5zm79 1zm26-2zm54 4zm26-3zm238 1zm-630 25zm293-9zm-21 15zm32 1zm-36 14zm8-4zm121 1zm-60 20zm392-5zm-684 21zm92-7zm16 1zm59-4zm6-1zm61 8zm82-6zm-239 18zm16-4zm111 3zm189 3zm-422 12zm83 3zm236 0zm-307 12zm36-7zm69 7zm24-1zm8 2zm40-8zm13 0zm70 12zm-451 10zm199 0zm20-5zm24-2zm34 0zm25 8zm7-6zm111-3zm2 2zm66-2zm267 5zm-550 18zm8-3zm5 2zm57-6zm56-2zm-147 22zm36 2zm5 1zm6-7zm16 0zm78 0zm-191 11zm7 7zm87-8zm39 0zm20 5zm38 7zm-188 6zm28 5zm8 3zm20-11zm84 6zm95 4zm439 0zm-672 6zm48 6zm29-3zm22-3zm37 9zm10-2zm35-10zm17 11zm50-1zm-138 7zm128 6zm-246 5zm62 6zm23 6zm11-4zm280 1zm252-2zm-609 7zm57 8zm52-2zm416 20zm52 1zm71-1zm-704 12zm676 2zm-530 4zm57 6zm427-7zm42 15zm76 3zm215-4zm-909 20zm397-6zm138 7zm263-3zm23-2zm135 6zm-477 15zm266-2zm52-7zm10 3zm99 8zm-537 3zm243 10zm45 1zm58-4zm-388 11zm220 6zm19-2zm97 4zm-312 6zm28 2zm50 4zm8-4zm509-5zm-482 12zm228 8zm141-1zm-467 14zm186-2zm93 7zm36-9zm265 8zm14 2zm28-1zm-762 9zm328 0zm87 2zm180-9zm82 13zm64-7zm-538 21zm37-3zm95-9zm63 3zm65 8zm285-10zm5 8zm-75 13zm195-4zm-725 12zm244 1zm23-3zm57 3zm-11 21zm118-2zm12-7zm195 6zm-653 8zm15 11zm88 0zm157-11zm104 4zm-340 9zm88 7zm545-3zm113 8zm-744 13zm49-2zm396-9zm131 0zm69 7zm-637 8zm26 11zm24-6zm3-6zm187 4zm205 1zm165 2zm31 1zm-676 13zm54-4zm175 4zm150 5zm135-7zm150 1zm-675 15zm61 5zm3-4zm617-7zm-639 20zm191 1zm146 0zm58-6zm251 3zm-584 20zm80-10zm86 11zm179-4zm-247 18zm-120 1zm147 2zm144 8zm97-1zm196-2zm-470 17zm-103 17zm14-7zm41-3zm350 5zm39-3zm72 1zm12 6zm-412 13zm411-9zm-577 23zm537 2zm-117 12zm106-8zm18 10zm-218 8zm30-7zm98 2zm64 2zm-222 13zm29 7zm86-8zm8 6zm9-6zm39 6zm18-1zm109 0zm-369 20zm23-9zm39-3zm3 6zm178-6zm-298 26zm202 12zm155 1z" stroke="#1c1e87" stroke-width="10.8"/>
<path d="M3157 237zm-171 16zm-76 33zm49 2zm16-7zm-108 20zm40 0zm3 1zm67 1zm53-9zm-142 15zm31 3zm0-2zm7-2zm0 6zm11 0zm2 6zm22-7zm16 6zm32-6zm-217 12zm70 9zm12-1zm13-9zm22 2zm39-1zm31 3zm9 1zm6-1zm77-2zm145 8zm-398 12zm44 3zm44-8zm92 5zm1 0zm7-9zm11 0zm44-1zm-218 22zm147-1zm8 6zm6-8zm3-2zm12 2zm28 5zm18-7zm-299 19zm131-4zm78-2zm194 3zm-408 21zm210-9zm-244 21zm135 3zm-110 13zm-251 10zm655-1zm-444 13zm7-4zm101 6zm203-8zm4 8zm49-4zm-252 22zm-132 9zm18 3zm84-3zm270 5zm-423 6zm73 6zm8 3zm48-1zm13-8zm27-4zm27 11zm72-8zm73-2zm-322 19zm20 6zm3-11zm78 4zm125 6zm-222 7zm2 1zm34 1zm25-1zm2 7zm1 0zm31-9zm120 8zm-199 11zm31 5zm22-1zm1-3zm30-8zm1 10zm158 0zm-352 6zm36 7zm82-5zm1 1zm11 6zm4-3zm26-8zm27 4zm42-1zm98-2zm6 4zm403 1zm-668 7zm24 4zm21 0zm3 7zm9 2zm38-13zm4 12zm16-11zm78 12zm425-2zm-664 12zm32 2zm144-4zm84 6zm153-9zm-491 12zm41 5zm42-2zm78 6zm32-6zm10-5zm424 9zm38 2zm32 0zm164-11zm-700 24zm4-9zm88 1zm43 11zm578 0zm2-2zm-783 6zm85 11zm539 6zm89-3zm60 6zm152 3zm-885 11zm40 1zm305-9zm56 1zm21 9zm225-10zm-675 22zm856 2zm-360 7zm161 1zm22-5zm75 5zm138 15zm9 4zm-317 15zm15-4zm66-2zm29 0zm-121 14zm122-1zm78-3zm144 3zm2 2zm-477 18zm250-10zm112 0zm72 2zm-352 18zm-11 10zm271-2zm170 10zm11-8zm89 2zm-430 23zm106-11zm71 7zm10 1zm87-7zm104 10zm59-13zm-809 25zm442-6zm45-4zm-123 23zm229-2zm133-3zm77 3zm-271 19zm-812 14zm470-13zm423 0zm-410 21zm291 4zm14-1zm62 2zm134 0zm-532 14zm9-2zm196-1zm198 0zm65-2zm-258 14zm379 6zm34-5zm-576 6zm332 8zm128-2zm-421 15zm63-1zm349 0zm102 5zm6-7zm-341 13zm268-2zm-442 14zm318 10zm-368 11zm123-7zm418-1zm-466 20zm103 5zm3-11zm349 2zm-604 15zm301 18zm6 2zm37-4zm51-2zm73 8zm5 2zm-346 11zm243 0zm168 3zm6-1zm-387 6zm152 7zm289-1zm-424 7zm61 3zm130-3zm-29 12zm11 0zm47 11zm10 12zm160-3zm169 2zm-411 8zm40 0zm112-2zm11 19zm-75 15zm21 21zm260 13zm-683 16zm639 23z" stroke="#16217a" stroke-width="10.8"/>
<path d="M2911 262zm82 36zm9-1zm21 4zm18 5zm-112 4zm53 9zm13-8zm22 6zm18 1zm-126 14zm110-8zm7 5zm-69 20zm-41 6zm45 3zm72-8zm-243 14zm-33 16zm111 28zm250 10zm-233 2zm310 2zm-183 21zm-179 11zm156 1zm-242 12zm0-5zm239 3zm-278 16zm32-2zm308-1zm147 4zm-485 9zm144 5zm111 2zm-313 17zm80-11zm97 9zm29 2zm-239 8zm54-4zm134 9zm409 3zm128 0zm71 0zm-747 14zm13-10zm89 3zm120 5zm-203 26zm70 2zm-131 12zm51-3zm127-2zm414 7zm-562 12zm22-7zm428 20zm186-4zm282 8zm69 1zm-892 2zm787 0zm63-1zm88 0zm-415 20zm51-6zm-694 20zm657 4zm399 3zm-223 24zm-751 7zm344 5zm501-5zm-211 21zm-202 13zm494 3zm-577 9zm262 7zm-175 10zm73-7zm202 0zm-295 13zm195 11zm172-2zm114-8zm-215 23zm-107 13zm114 0zm-387 11zm321-6zm267 9zm279-1zm-562 16zm322-10zm-238 26zm103 12zm-137 12zm-42 11zm-282 18zm266-1zm134 2zm196-10zm121 25zm-413 15zm11-12zm241 61zm72-4zm-424 35zm50 34zm22 7zm43 2zm239 3zm-260 14zm72-8zm-11 63zm-71 132z" stroke="#13356d" stroke-width="10.8"/>
<path d="M3007 270zm55 31zm-151 25zm70-3zm-229 24zm192-4zm6-7zm42 13zm70-2zm-190 13zm36-9zm73 2zm-211 18zm43 4zm145-8zm52 5zm3 8zm50-1zm-228 27zm6 7zm38 5zm24 0zm53 1zm16-3zm-203 8zm118 6zm106 2zm-241 12zm9-9zm70 3zm63 4zm20 3zm281-8zm-462 16zm2-5zm49 13zm98-13zm111 0zm-370 22zm316 2zm-267 8zm21 8zm103-6zm2 7zm57-8zm97-4zm-203 23zm56-1zm36-2zm99-5zm82 9zm26-5zm-309 16zm36 3zm7-11zm45 10zm34 1zm10-8zm6 5zm16-4zm-239 23zm46-5zm51-1zm27-3zm13 5zm26-2zm113 0zm-291 7zm68 2zm63 1zm6 7zm79-1zm-255 16zm83-4zm26-5zm23 5zm42 5zm0-1zm19-6zm9 6zm13-4zm290 1zm-474 12zm48 5zm42-9zm9 0zm21 8zm22-2zm-57 12zm45 5zm512-5zm-720 8zm225 10zm-63 11zm527-7zm91 1zm-460 22zm348 6zm71 10zm21-7zm69 6zm31-1zm38-5zm-310 12zm182 6zm127-7zm-349 18zm239-2zm90 10zm-293 2zm201 2zm2 4zm23-5zm14 10zm2-9zm-611 21zm436 0zm62-10zm190 2zm80 5zm-399 8zm115 1zm100 6zm154-3zm-365 16zm16 3zm99-2zm119 2zm169-4zm42 4zm-348 13zm15 4zm57-8zm38-3zm83 4zm143-2zm-412 14zm34-1zm21 1zm39 5zm64 4zm41-5zm56 2zm32 1zm27 2zm18 0zm-555 14zm136-7zm75-3zm65-2zm183 4zm33 6zm21-9zm-412 23zm50-6zm67 5zm30 0zm86-9zm36 3zm5 6zm151-4zm14-6zm32 13zm137-13zm-540 22zm60-8zm239 2zm43 5zm26 1zm56-7zm-509 25zm190-1zm152 2zm59-10zm109 5zm34 5zm-385 2zm8 4zm108 4zm89 3zm73-4zm66-7zm54 11zm29 1zm17-13zm0 6zm97 1zm-673 19zm26-12zm46 4zm261-3zm13-1zm138 1zm67 6zm11-6zm30 0zm-667 13zm67 0zm9 4zm9-3zm161 4zm12 5zm121 2zm11-3zm12-9zm220 4zm-433 17zm8-3zm58-4zm234 8zm219 3zm-951 11zm107 0zm264 0zm71-5zm84 1zm9 9zm38-3zm24 3zm70-1zm76 0zm82-12zm24 2zm42 3zm-579 18zm174-3zm3 6zm26 0zm8-3zm98-6zm41 3zm10-1zm93 2zm24 5zm-253 5zm9 4zm242 2zm58 3zm127-4zm-569 14zm77 5zm90-5zm80-6zm57-2zm82 7zm70-6zm-478 15zm31 7zm81 2zm34-3zm175-2zm17-3zm83 0zm-335 14zm105 1zm73-1zm8 8zm208 2zm-497 1zm134 4zm15-4zm18 5zm15 2zm256-6zm88 8zm-345 15zm25-8zm20-2zm48 6zm53-4zm60 6zm64 4zm-396 5zm17-3zm176 9zm3 2zm26-8zm303-3zm-374 18zm1 8zm70-9zm84 3zm11 2zm63 3zm53 0zm45 2zm-416 5zm286 7zm4-2zm78-8zm-179 26zm211-3zm-276 10zm90-2zm108 3zm11-2zm79 4zm-244 8zm11 13zm67-2zm-259 186zm230 0zm316 0z" stroke="#124f5b" stroke-width="10.8"/>
<path d="M2939 295zm-24 22zm11-5zm-21 18zm-120 16zm112-5zm100 1zm-173 17zm25-4zm15 3zm28-7zm40 6zm23 5zm-121 13zm203-8zm-131 23zm17-12zm-97 20zm0 4zm53-10zm132 18zm-313 21zm69-3zm25-6zm13 11zm11-13zm0 1zm98 2zm2 4zm38-2zm6 1zm11-5zm-238 26zm156-2zm42-7zm45 1zm-111 13zm44 7zm97-7zm-259 11zm56 3zm70-4zm57 6zm24 1zm16 2zm33-2zm-297 15zm64 4zm9-3zm53 4zm54-10zm4 9zm11-3zm49-8zm-231 25zm118-3zm8 0zm77 2zm-161 14zm15-5zm15 2zm123-4zm19-2zm140 10zm-441 13zm14-9zm188 2zm77-4zm-169 18zm10 3zm29-6zm78 0zm156 10zm-275 16zm55-7zm-150 10zm-28 21zm374-7zm204 1zm193 15zm-193 33zm18-3zm78-6zm-578 14zm543 5zm8 6zm-43 14zm-161 7zm59 7zm230-3zm61 2zm65 2zm56-10zm-452 24zm32-11zm60-1zm86 3zm199 6zm-319 10zm8-3zm160 11zm105-3zm3-4zm-88 11zm10 3zm132-2zm-377 10zm32 9zm35-3zm163 1zm43 4zm-289 4zm2 7zm37 0zm58 5zm34-9zm28 7zm34-9zm223 6zm8-2zm32 6zm21-4zm34-8zm6 5zm-433 20zm25-2zm46 2zm17-3zm190-4zm49 0zm89-3zm-524 14zm105 12zm17-7zm15 1zm37 6zm94-8zm62 3zm37 2zm7 2zm83-9zm-327 12zm21-1zm29 0zm16 12zm9-10zm35 9zm52-9zm23 1zm83 0zm155 7zm-423 17zm53 0zm76-7zm246 3zm-438 17zm4 1zm20-8zm10-1zm88 7zm10-2zm15-3zm110-1zm140 1zm45-6zm18 11zm-518 11zm187-6zm13 9zm79-6zm134 8zm-375 7zm5-2zm74 2zm58-1zm56-2zm12 4zm18-7zm20 9zm31-5zm4 8zm10-12zm10 3zm129 9zm4 0zm25-1zm56-7zm-533 17zm1-4zm103 2zm242 8zm23-5zm6 0zm70-5zm-477 23zm140-1zm16-4zm264-6zm20-1zm99 3zm-370 16zm63 8zm149-13zm36 8zm24 2zm28-7zm26 7zm67-9zm34 4zm-561 20zm136-7zm55 1zm16 2zm31 4zm37-4zm121 6zm26-2zm28 0zm107 1zm0-7zm-428 16zm161-1zm72-5zm97 1zm63 1zm-526 14zm19 3zm58 4zm84-7zm46 3zm267 4zm-283 8zm56 8zm56-8zm76 5zm128-7zm2 4zm47 3zm-546 15zm168 1zm193-4zm-330 9zm204 7zm229-1zm66 5zm61-9zm-394 10zm120 0zm10 12zm55-2zm12 3zm-406 2zm235 11zm99-4zm133 3zm-222 26zm-35 15zm609-7zm-456 20zm25-9zm-106 18zm236 7z" stroke="#156e45" stroke-width="10.8"/>
<path d="M3003 239zm-39 55zm-8 22zm-124 16zm79 0zm61-5zm-147 14zm64 7zm79-5zm-133 9zm11 2zm87 3zm5-4zm1 5zm-130 13zm41-6zm17 12zm58-2zm82 2zm2-8zm23 0zm-223 19zm13-1zm33-9zm9 9zm11-1zm68 4zm3-3zm-233 7zm41 10zm11-2zm17-6zm8 7zm57-3zm11-1zm4 3zm35-1zm78-5zm38 4zm28-4zm-657 18zm415 3zm23-2zm66-9zm0 8zm6-4zm0 6zm67-1zm234-8zm-461 15zm45-1zm30-1zm45 10zm125-5zm8 2zm10-2zm11 0zm20 3zm-323 17zm141-7zm16 1zm17-3zm9 5zm29-5zm28 7zm7-8zm4 9zm-197 9zm57 7zm119 0zm64-8zm-270 18zm43-6zm11 1zm127 2zm72 3zm17 5zm1-12zm13 10zm13-10zm169 4zm-497 20zm40-7zm33 0zm7 5zm2-9zm9 12zm9-3zm29 3zm25-1zm52-7zm72 1zm35-4zm-299 15zm18-1zm58 9zm14-6zm4-3zm66 4zm12 0zm26 8zm0-10zm64 1zm3 6zm218-3zm-723 19zm256-6zm8 6zm69-10zm52-2zm-242 27zm176-2zm67 2zm47-7zm284 7zm77 0zm48 0zm50 0zm102 0zm-877 5zm91 5zm12-4zm64 6zm62 15zm-195 11zm-41 16zm858-6zm-784 17zm860 19zm-114 5zm155-2zm-345 19zm322 0zm-324 17zm21-8zm18 4zm106-5zm53 8zm-377 13zm78-8zm14 10zm20-7zm22 9zm2-11zm22 1zm0 2zm77-2zm78-2zm219 9zm-489 16zm2-5zm97-2zm66 7zm96-9zm29 10zm7-3zm40-3zm-116 21zm1 0zm11-6zm16-4zm96-2zm54 5zm-391 17zm3 0zm8-4zm34 6zm38-4zm53 4zm5-4zm70 3zm46 1zm6-10zm80 1zm-291 17zm32 1zm28-4zm265 5zm29 0zm-344 10zm30 4zm31-1zm94 3zm225-6zm-412 19zm26 5zm145-4zm5-8zm15 8zm73-4zm10 6zm15-3zm21 4zm78-8zm46 6zm-316 17zm30-7zm5-4zm49 8zm46 3zm2-10zm8 2zm26 4zm10-1zm16 3zm30-7zm-343 21zm25-11zm40 8zm45 2zm1-5zm73 5zm7-6zm3 6zm19 2zm15-10zm68 2zm51 8zm-353 14zm106-7zm29 3zm65 4zm1-8zm5 0zm10 3zm37 2zm134-8zm2 2zm48 5zm104-6zm-413 17zm11-4zm4-1zm52 1zm8 7zm50-7zm73 10zm47-7zm5-2zm19 2zm-497 23zm18-12zm88 0zm57 7zm72-3zm67 3zm169-2zm45-6zm70 8zm59-1zm-803 14zm211-6zm157 7zm6 1zm87 4zm16-13zm17 12zm73-7zm72-3zm123-2zm16 10zm-530 12zm119 2zm44-8zm163 1zm54 7zm-503 4zm135 13zm18-9zm55 5zm53-3zm22 6zm20 0zm27-5zm48-2zm9-5zm5 3zm52 8zm92-10zm15 2zm58-3zm19 1zm-526 19zm19-6zm58 5zm74-5zm97 4zm211 1zm-516 19zm113-9zm18 8zm124 2zm24-6zm85 7zm8-6zm7-4zm5 5zm32-1zm24-6zm19 5zm58 1zm106 6zm-601 12zm44 3zm19-9zm18 3zm125-4zm105 4zm22-1zm43 7zm76-4zm39 2zm74-2zm19-5zm24 2zm-626 10zm43 8zm183-6zm18 1zm108 0zm16 8zm151-13zm-325 23zm54-1zm14-2zm79-2zm9 9zm15-10zm49 0zm7 5zm21 4zm63-4zm11-3zm103-4zm-381 16zm1 5zm37 4zm20-2zm26-8zm93 8zm0-3zm33-4zm28 7zm100-4zm-521 10zm19-1zm103 4zm8 1zm18 4zm4-8zm124 1zm16 8zm132-6zm62-1zm-497 19zm252 4zm14-12zm166 10zm45-10zm16 10zm14 1zm11-12zm12 12zm7-9zm51 9zm129-8zm-609 13zm104 10zm14-1zm31-1zm55 0zm37-7zm48-1zm-148 17zm16 3zm21 0zm27 0zm3 2zm19 2zm170-10zm41 1zm-314 11zm118 26zm95-12zm94 0zm-976 28zm888 30zm-9 11z" stroke="#1d922c" stroke-width="10.8"/>
<path d="M2881 278zm65 26zm466-9zm-527 37zm160-9zm-110 13zm-88 24zm26 0zm-45 7zm10 1zm81 1zm67-4zm5 8zm35-3zm-301 21zm60 0zm124-11zm32 2zm20 6zm2-1zm21-9zm21 12zm31-2zm-316 16zm103-8zm62 5zm12-5zm48-2zm3 4zm20 0zm-159 17zm2 2zm34 2zm4-7zm2 0zm25 6zm30-9zm18 5zm24-7zm13 2zm16 10zm45-4zm-191 5zm108 3zm69 3zm-250 13zm48 3zm1-1zm57-4zm26 4zm33 5zm5 1zm18-7zm43-1zm34 6zm-264 13zm82-4zm11 3zm-218 14zm84-7zm49 9zm56 1zm30 9zm84 2zm43 2zm-350 8zm59 4zm30-3zm16 5zm47-5zm3 4zm18 1zm29-10zm3 1zm3 8zm175-5zm-218 21zm11-3zm15-5zm40 2zm35 2zm21 1zm-262 15zm136-1zm18-3zm78 6zm28-9zm26-3zm4 7zm296 6zm52 0zm99 0zm95 0zm-808 7zm60 6zm21-7zm87 6zm-178 11zm18 5zm102-10zm50-2zm-135 23zm93 0zm359-9zm-542 16zm653 6zm-732 13zm663-1zm137 11zm-9 21zm21 1zm23-8zm30 2zm-219 19zm74-1zm9-2zm14 3zm28-4zm-98 8zm57 1zm5 6zm85-7zm-227 24zm27 0zm28-4zm8-2zm9 3zm35-3zm45-5zm2 10zm84-6zm37 8zm-372 3zm59 6zm23 0zm18 5zm51-8zm237 7zm20-6zm-284 18zm14 4zm20-13zm79 7zm31 3zm8-4zm15 1zm1-3zm1-2zm27 9zm32-6zm29 1zm-282 9zm27 1zm6 9zm67-8zm112-2zm55 11zm48-6zm21 3zm27 4zm-351 3zm47 6zm64-5zm4-3zm1 11zm-92 9zm22-5zm26 4zm35-5zm49 4zm34 5zm12 2zm106-2zm39 0zm13-3zm-442 18zm29-3zm57-3zm44 5zm12-4zm76 5zm8 1zm85-9zm115 6zm17 2zm-403 11zm69-5zm209 5zm2 1zm18 1zm11-7zm22 10zm119-1zm57 0zm58 2zm-593 13zm8-11zm74 0zm58 10zm35-5zm33 2zm198-7zm56 3zm17 7zm44 1zm32-4zm9-4zm-532 11zm177 4zm13-4zm1 7zm158-3zm45 3zm-370 13zm57-2zm36-3zm1-2zm30 8zm27 0zm12 1zm23 3zm2-5zm13 4zm4-1zm39 3zm33-11zm14 8zm25-6zm45 0zm47 7zm-533 10zm40 1zm2-5zm63 1zm51 7zm35-10zm23 1zm34 8zm38-5zm78 1zm108-3zm35 4zm12 0zm11-7zm-438 27zm197-11zm32 11zm40-3zm95-3zm82 2zm36 2zm67-3zm36 2zm-565 15zm15-11zm6 4zm4 4zm6-3zm66-2zm85 5zm39 1zm14 0zm50-9zm3 4zm30 6zm18-4zm5-3zm54-2zm42 8zm-445 6zm16-1zm6 5zm43 6zm139-2zm41 1zm75 0zm34-3zm2 4zm10-2zm1-4zm49 3zm58 2zm3-3zm14 1zm11-7zm-456 18zm4-1zm40 2zm66-1zm29 8zm30-11zm95 10zm3-5zm33-7zm33 8zm8 1zm53-2zm4 3zm21 1zm-437 4zm26 6zm21-6zm115 12zm5-9zm15 4zm16-2zm52-2zm18 8zm28-12zm6 10zm38-5zm22 5zm28-2zm64-2zm-456 15zm94-3zm47 5zm21-3zm61-6zm99 11zm61-8zm48 9zm-543 13zm87 2zm12-6zm342-2zm41 0zm-336 21zm109-3zm29-8zm57 2zm34 2zm121 8zm57-9zm47 8zm-456 3zm43 5zm12-3zm46 2zm18-4zm12 8zm109 0zm235-1zm-306 6zm193 2zm9 0zm9 2zm3 5zm12 2zm-344 8zm52-3zm29 11zm29-2zm95 2zm16-9zm7-1zm89 2zm16 5zm25-3zm55-3zm-418 19zm44-9zm79 13zm140 0zm2-8zm81 2zm-329 14zm13-4zm7 1zm38 7zm108-9zm46 4zm15 1zm4-5zm68 9zm2-7zm-328 14zm154-2zm18 9zm65-4zm8-7zm70 8zm22 3zm-185 4zm7 5zm16 1zm37-4zm14 5zm114-4zm-263 21zm258 10zm-26 34zm-99 21zm180 8zm-83 130z" stroke="#33ac27" stroke-width="10.8"/>
<path d="M2922 325zm-9 17zm31 3zm-92 17zm135 20zm-224 23zm65-10zm106 24zm70 2zm-227 33zm-12 21zm427-4zm-432 11zm37-4zm-58 16zm32 0zm-55 20zm-69 15zm245-2zm-261 17zm133 0zm-70 12zm64-3zm-44 28zm7 27zm534 12zm20-4zm42 28zm-85 17zm88 7zm-119 7zm84-2zm2 2zm77-2zm-131 13zm55 8zm-24 27zm96-5zm-112 21zm-69 15zm79 1zm123 2zm93-7zm246 18zm-622 13zm132-7zm307 4zm57-1zm-516 12zm89 9zm64 0zm385-4zm-445 18zm83 8zm40 7zm335-4zm-476 12zm3 33zm152-12zm223 11zm14-4zm27-2zm36 5zm-532 10zm62-5zm5 5zm262 4zm-226 13zm79 2zm203-1zm-16 7zm107 3zm43 3zm39-7zm2 6zm-379 12zm84 2zm162-3zm108-5zm-510 17zm67-1zm46 6zm54 4zm-120 2zm128 5zm196 1zm-81 12zm35 2zm-167 9zm138 8zm260 12zm-400 15zm220 7zm-12 15zm45 22zm-145 33z" stroke="#60bd29" stroke-width="10.8"/>
<path d="M2754 380zm111 30zm9 0zm113 33zm-255 12zm179-3zm-153 11zm66 6zm-49 74zm68-3zm222 76zm105 44zm450 10zm-530 26zm329 1zm-132 8zm270 33zm296-9zm-768 72zm192-1zm65 3zm138 2zm67 10zm63 5zm-438 24zm88 4zm361-2zm-492 29zm194-6zm117 20zm180 4zm-338 13zm-66 45zm378-3zm-400 21zm80-2zm2 2zm24 46zm156 1z" stroke="#9cc22f" stroke-width="10.8"/>
<path d="M2920 358zm-35 96zm-51 15zm-70 55zm322 119zm35 52zm-21 115zm322 43zm-98 8zm-95 31zm207 2zm-7 24zm-21 19zm-152 24zm-32 34z" stroke="#c8b733" stroke-width="10.8"/>
<path d="M3127 719zm92 50zm-89 39zm-18 6zm18 57zm170 2zm68 86zm239 2zm298 0zm-614 8z" stroke="#d4932f" stroke-width="10.8"/>
<path d="M2819 325zm-97 170zm103-4zm540 105zm-27 94z" stroke="#c9582a" stroke-width="10.8"/>
<path d="M2906 299zm32 5zm97-3zm-131 20zm81-9zm25-1zm129 9zm-249 5zm6-1zm20 1zm33 8zm10-5zm49-6zm6 9zm35-6zm-109 18zm83-3zm14 4zm35 3zm-232 13zm58-7zm100-2zm2-1zm46 2zm0 1zm31 6zm-111 5zm1 1zm86 0zm-68 16zm54 20zm-318 5zm147 9zm-211 17zm9-4zm43-3zm16-5zm153 11zm83 9zm64-6zm-338 34zm0 6zm40-2zm51 3zm255-12zm-300 22zm11 2zm259-8zm-332 20zm51 0zm14-4zm44-2zm13 2zm173 2zm13 5zm-335 10zm55-6zm82 9zm62-2zm198-3zm-398 13zm45-1zm6 4zm13-3zm103 6zm-212 13zm44-4zm92 3zm1-8zm16 9zm12-5zm21-5zm13 13zm6-2zm98 1zm1-8zm177 6zm-484 12zm96 2zm37 1zm6-9zm38 6zm15-6zm18 6zm8-2zm405 0zm-536 12zm38 8zm3-8zm0 9zm43-12zm3 12zm2-12zm16 3zm-233 16zm36-1zm126 5zm11 0zm28-1zm79-2zm247-2zm86 8zm-520 21zm78 10zm586 4zm46 7zm-224 9zm133-7zm14 8zm32-4zm-771 17zm623-8zm286 1zm-350 15zm-149 22zm422 2zm214-6zm-234 9zm9 5zm56-4zm44-1zm23 3zm71 0zm-534 10zm108 9zm268 1zm85-6zm185-2zm3 1zm-587 24zm11-10zm207 2zm-797 21zm440 14zm137 4zm83-1zm174 9zm163 3zm-414 7zm82 6zm163-1zm205-1zm-408 8zm37 6zm12-2zm120-7zm71 2zm133 0zm57 0zm12-3zm86 1zm-608 19zm302 3zm128-1zm68-4zm83 7zm38-11zm164 13zm-736 7zm310-6zm113 6zm-491 8zm398 11zm234 0zm41-8zm-583 11zm511 9zm-567 17zm19-4zm66-3zm296 6zm-368 3zm254 9zm136 0zm18-8zm-365 22zm76-3zm443 5zm-462 7zm404 3zm-112 20zm-426 9zm616-7zm-592 15zm20 8zm352 2zm-268 14zm584-2zm-505 11zm195 3zm137-4zm-357 16zm674-7zm-883 13zm335 12zm-7 7zm100 6zm34-3zm-211 19zm299-6zm-246 7zm147 7zm18 0zm-151 14zm89-1zm-114 26zm40-2zm104 6z" stroke="#2c2195" stroke-width="10.8"/>
<path d="M2889 284zm13 8zm65-6zm4-2zm-58 10zm11 6zm32 4zm-121 15zm24-3zm43 0zm6-7zm75 6zm28-3zm14 2zm5-1zm-218 21zm59-3zm39 3zm27-9zm39 10zm2-7zm67 0zm-204 16zm116 5zm31-4zm0 4zm12-7zm-311 21zm258-5zm25-3zm72 2zm22 3zm-272 4zm70 2zm40 11zm18-1zm64-12zm28 2zm8 10zm29-9zm7 0zm-278 21zm7-10zm239 8zm4-2zm-16 10zm14 6zm-303 10zm183 8zm-114 11zm240-2zm-340 20zm75-2zm39-3zm-108 9zm53-1zm44 1zm14 7zm100-9zm2-1zm73 1zm-329 23zm20 0zm207-6zm13 5zm43 1zm118-1zm-376 18zm116-11zm105 6zm-221 18zm34 0zm45-1zm19-8zm94 0zm85 5zm-311 19zm58-9zm2-4zm75 0zm34 4zm13 4zm20-2zm-288 18zm97-8zm26-2zm58 0zm50 6zm12 0zm-79 17zm230-4zm299 2zm76-2zm-736 12zm96 1zm17 4zm21 4zm47-2zm15-3zm-161 13zm25 2zm2 3zm19-4zm13-5zm6 0zm0 1zm9 3zm59-1zm25 2zm39-1zm425 5zm23-1zm82-9zm-597 14zm-80 25zm76-12zm250 9zm-385 14zm670-7zm-621 13zm13 2zm244-1zm142 11zm179-10zm24-2zm0 2zm85-1zm-743 19zm537-5zm135 8zm45 2zm-649 12zm412-9zm97 0zm184-1zm129 13zm-530 2zm127 5zm291 1zm71 0zm28 4zm6-6zm-469 12zm155 1zm437 0zm-65 21zm-423 16zm440-1zm39-8zm-730 17zm301-2zm96 8zm16-5zm19 1zm174-5zm63-2zm-534 19zm489-2zm53 7zm-573 5zm61 9zm297 0zm214 0zm-557 6zm90 3zm63 0zm69 4zm285-7zm95 1zm66-2zm-697 11zm73 0zm411 7zm9 2zm2 3zm3-7zm-433 11zm314-1zm21 12zm25-8zm64-2zm188-1zm-599 12zm399 2zm169 9zm50 0zm-673 27zm266-3zm73-4zm114 8zm13-10zm73 5zm18 3zm10 1zm-380 14zm163 3zm119-5zm53-2zm-375 14zm411 7zm9-3zm-439 11zm3-3zm43-3zm276 9zm154-5zm-522 11zm159 6zm116 0zm129-2zm72-6zm87 8zm69-1zm-449 20zm141-1zm-269 2zm272 9zm127-9zm233 11zm-714 15zm152-1zm356 2zm5-11zm-542 18zm209 5zm210 2zm-340 9zm57 3zm240 1zm9-7zm18-3zm34 11zm13 0zm-16 7zm132-4zm74-2zm-545 23zm26 1zm61 3zm38-10zm28 0zm264 6zm-277 14zm35-9zm-28 22zm177-8zm128 5zm-277 21zm28-10zm328 8zm23-4zm-219 17zm12 0zm78-2zm19-5zm40 9zm76-4zm-182 15zm1-3zm186 3zm-84 85z" stroke="#241e92" stroke-width="10.8"/>
<path d="M3119 244zm-345 17zm144 29zm6 0zm-60 4zm32 10zm116-1zm-119 5zm34 11zm1-10zm10 1zm13 9zm23 1zm17-1zm15 1zm18-6zm23 7zm-211 2zm64 4zm0-5zm2 0zm29 10zm70-7zm10-1zm38 0zm12 10zm-128 10zm23-5zm37-2zm8 0zm1 6zm16-3zm11 3zm-212 9zm29-1zm138 1zm15 0zm29 10zm-344 15zm284-12zm15 4zm8 0zm82-5zm-174 23zm133-6zm7-1zm-277 20zm260-1zm22-5zm-234 17zm210 0zm1 8zm-220 6zm247 2zm-255 10zm136 3zm68-5zm-223 15zm31 9zm151-6zm-256 17zm99-7zm-155 21zm52 2zm24-7zm21-3zm91 10zm-203 17zm90-1zm82-11zm63 10zm-186 7zm74-4zm3 0zm8 3zm9-1zm33 1zm31 3zm19 5zm116 0zm66-6zm130 4zm-502 10zm3 0zm16-2zm41 8zm1-9zm21 5zm1 4zm7-5zm1 0zm55 7zm-151 2zm5 4zm35-5zm58 6zm13 5zm1-3zm10 3zm25-2zm7-2zm52-7zm46 6zm9-3zm-247 20zm27-6zm35 0zm23 9zm21-9zm-155 20zm22-5zm62 4zm11 4zm7-4zm15-5zm3 10zm7-3zm37-2zm78-4zm197 1zm180-1zm-569 11zm23 5zm4-1zm25 0zm9 4zm59-5zm8 6zm38-6zm252 5zm57-5zm80-3zm-628 19zm11 1zm47-7zm9 0zm2 2zm30 2zm-47 12zm220-2zm301 11zm63-10zm-497 19zm580-2zm49 7zm2-11zm9 0zm-296 21zm283 0zm3 0zm-724 15zm389 5zm33-7zm235 4zm113 1zm-49 14zm170 7zm47 7zm-420 14zm41-7zm-119 18zm25-8zm376 4zm22-3zm28-1zm-738 26zm306 1zm5-5zm330 1zm66-8zm158 12zm-497 3zm45-2zm176 8zm-160 8zm24-1zm55 0zm226 8zm48 1zm231 1zm-704 6zm292 6zm117-7zm-300 16zm82 9zm63-9zm186-2zm-466 25zm144 11zm103-3zm54 3zm240 3zm20-11zm-622 13zm105 24zm77-4zm381-5zm46 10zm-419 6zm88 7zm350 2zm9-11zm100 4zm-696 20zm125 0zm216-9zm130 7zm-443 20zm89-1zm50 4zm113-1zm37 1zm148-2zm-427 23zm54-9zm327 6zm29 4zm-443 12zm19-4zm269-3zm57 3zm-371 10zm115 0zm267 10zm-485 6zm64 8zm68-11zm33 7zm11 1zm19-4zm39-6zm230 5zm-214 17zm245 3zm-20 14zm-23 10zm96 3zm-267 9zm413 7zm-469 6zm126 3zm62 6zm53-6zm36-4zm19 3zm35-1zm87-2zm-231 16zm69 6zm142-9zm-290 20zm268-4zm8 1zm-220 14zm93 2zm41 6zm28-3zm-114 17zm89-12zm104 2zm-456 14zm271-2zm340 37zm193-6zm-383 15zm-40 38z" stroke="#1c1e87" stroke-width="10.8"/>
<path d="M2958 263zm-83 14zm147-1zm-63 28zm29-6zm-204 15zm123 3zm9-1zm78-3zm18 3zm-171 7zm39 3zm54 7zm20-4zm1 1zm30-7zm54 5zm38 8zm-511 4zm351 7zm3 3zm29-7zm16-6zm14 12zm0 1zm24-12zm22 5zm2-5zm24 4zm6 0zm14-5zm-333 18zm223 6zm27-2zm18-7zm17 13zm-279 17zm251 2zm-223 36zm259-1zm-274 3zm32 16zm230 5zm-303 10zm15 4zm36-3zm36 7zm66-7zm-85 20zm28-5zm106-1zm-271 17zm33-4zm86 4zm57-2zm-120 9zm7-1zm17 11zm7 1zm21-10zm0 4zm34 1zm17 1zm210 0zm-363 9zm49 0zm7-2zm9-1zm53 0zm28 0zm67 10zm21-3zm-296 16zm15 3zm17-8zm50 7zm104-3zm44 4zm16-1zm98-9zm-363 20zm37 4zm68-4zm25-2zm11-5zm4 6zm10 0zm498-2zm-597 16zm16 4zm3-2zm26-7zm21 9zm28-7zm83 2zm104-2zm182-1zm79 8zm-550 11zm10-3zm4 6zm48-6zm48-3zm25-2zm39 5zm612 7zm-735 2zm36 11zm4-5zm2 3zm3-7zm39 9zm-187 5zm55 3zm43 3zm48-8zm53 1zm3 0zm315 7zm132 5zm4-3zm-581 9zm469 1zm59 4zm57 2zm31-6zm143 3zm-334 18zm11-11zm61-2zm57 12zm-191 5zm61 6zm85-2zm99 6zm89-12zm52 1zm-837 15zm184 0zm358 9zm130-6zm167 7zm157-5zm-214 12zm-221 10zm69 8zm231-8zm116 2zm19-3zm-310 22zm-139 9zm170 15zm243-5zm-386 52zm251-4zm-349 11zm78-2zm136 11zm390-11zm-511 21zm113-6zm375 0zm-575 25zm33-8zm173 5zm74-4zm15-5zm313 3zm36 7zm-633 11zm138-2zm17-5zm147 6zm35 17zm103 1zm191-6zm-581 10zm30 11zm104-2zm93 0zm3-4zm310-3zm42 9zm-617 26zm396-3zm-211 9zm50 9zm105 1zm167-9zm258-3zm-825 25zm62-2zm29 1zm161-5zm69-3zm187 8zm-502 11zm437-3zm51-2zm33 4zm-239 15zm188-2zm172-3zm237 8zm-746 16zm34-4zm115 4zm336-7zm297 5zm-830 15zm506-6zm-365 21zm16-12zm357 4zm19 4zm-442 14zm329-7zm14 5zm122 20zm-357 6zm88 2zm84 1zm103-3zm-219 34zm77-4zm258-5zm-173 24zm-197 5zm79 0zm310 88zm112 15z" stroke="#16217a" stroke-width="10.8"/>
<path d="M2975 289zm31 18zm-45 11zm-51 17zm53-10zm86 18zm-148 20zm-181 19zm184 13zm-142 26zm171 24zm0-11zm-185 25zm129 0zm94-3zm-280 21zm11 5zm77 1zm24-3zm205 6zm-197 5zm-185 25zm85-7zm10 8zm20-13zm1 10zm73-6zm-34 17zm-62 14zm33-4zm30 0zm100-3zm60 8zm0-6zm-350 18zm74 5zm36-3zm48-6zm548 3zm66-1zm-759 13zm26 5zm59 4zm88-7zm-134 21zm88-2zm360-1zm-371 8zm-66 24zm669 0zm-621 19zm496 2zm111 2zm99 10zm-337 20zm6-2zm301-3zm231 21zm-535 5zm72-2zm12 3zm-25 11zm-1 21zm21-5zm234-3zm-420 14zm37 3zm237 34zm399 28zm-591 16zm45-11zm2 7zm83-6zm428 3zm-404 10zm338 5zm-161 17zm-319 8zm254 6zm106-3zm16 2zm92 5zm35-9zm-187 12zm138 5zm63-3zm51 8zm71-4zm-240 18zm-395 4zm272 11zm312 4zm44 11zm-607 3zm245 5zm136 12zm-353 19zm95-9zm245 10zm-193 6zm121 107zm115-12z" stroke="#13356d" stroke-width="10.8"/>
<path d="M2883 287zm150-2zm-7 18zm-252 10zm253 4zm52-1zm-185 8zm91-2zm28 8zm-31 6zm11 6zm7 5zm17-6zm1 2zm-174 20zm62-4zm11 3zm73-9zm12 9zm25-9zm-161 17zm65 5zm55-8zm-208 21zm11-6zm182 2zm46 5zm-355 5zm45 6zm191 2zm17 1zm61-9zm10 5zm19-3zm-240 16zm139-6zm30 4zm8-3zm25 5zm-229 18zm90-4zm20-5zm83 1zm139-2zm-384 15zm80 7zm28-3zm77 4zm29-6zm47-3zm51 1zm-263 18zm8 0zm57 3zm19-1zm27-6zm3 9zm2-6zm9 7zm12-7zm5 3zm79-2zm-307 19zm125 2zm59-3zm40-5zm26 6zm24-3zm38 2zm88 4zm-345 6zm43-2zm30 8zm85-5zm119 5zm-202 14zm44-3zm25 5zm-165 1zm60 1zm17 8zm98-6zm30 2zm14 4zm7-8zm26 12zm-267 10zm-50 12zm22 6zm41-10zm49 0zm-24 21zm99-7zm-159 18zm8 3zm100-9zm-109 21zm36 3zm1 2zm26-8zm59 6zm12 1zm180-8zm112 6zm112 0zm-522 12zm68-5zm478 7zm254 0zm-132 4zm-632 14zm242 13zm279-2zm198-4zm-487 14zm400-3zm100 6zm-203 17zm47-8zm201 5zm-33 14zm8 1zm117 1zm-411 7zm42 7zm31-10zm172 6zm50-1zm-562 18zm314-11zm156 7zm18 4zm3-9zm70 1zm11 1zm-514 13zm203 5zm164 3zm159-10zm-427 15zm136 11zm98-5zm18-4zm39-2zm28 9zm23-4zm80-1zm80-4zm-512 12zm92 3zm93 9zm202-9zm-400 19zm159-7zm103 6zm75-4zm57 0zm-415 22zm166-1zm7 3zm45-3zm27-1zm12-6zm17 8zm117-11zm178 7zm-631 14zm163 4zm183 1zm64 1zm36-8zm10 7zm-357 2zm25 4zm49 7zm168-2zm184-5zm56 0zm18 0zm34 9zm65-4zm-469 15zm65-3zm163 0zm153 0zm86 0zm31-7zm-693 14zm37 4zm34 1zm69-2zm79-2zm5 4zm58 4zm28-1zm35-3zm8-4zm18 9zm16-2zm79 4zm140 1zm-378 2zm18 9zm97 1zm163-2zm6 1zm51-9zm11 11zm10-1zm130 0zm-582 4zm24 0zm18 5zm56-2zm152-3zm21 3zm31 5zm10-1zm61 2zm46 2zm52 0zm115-5zm-551 8zm7 1zm32 5zm69-3zm133-4zm110 12zm52-12zm124 8zm-491 7zm246 7zm28 5zm11-7zm6 7zm71-3zm109-2zm-278 19zm17-10zm25 9zm65-12zm75 2zm31-1zm16 5zm57 6zm22-5zm152-1zm-708 10zm13-1zm22 7zm205 4zm26 1zm4-9zm70 5zm4-4zm58-5zm-268 20zm34-1zm24 1zm95 1zm157 0zm81-5zm-472 17zm46 7zm60-3zm29-5zm0 2zm-121 14zm36 1zm41 3zm54 3zm110-9zm1 2zm68 0zm13-6zm5 0zm66 10zm-392 17zm237-6zm1-3zm-97 17zm60 3zm105-10zm117 9zm-341 16zm74-2zm105-8zm83 8zm-326 9zm283 8zm-248 11zm192-1zm46-2zm77-4zm-257 12zm146 18zm17 1zm37 4zm35-6zm72-3zm-155 25zm-162 10zm67 2zm171 3zm181 34zm-21 11z" stroke="#124f5b" stroke-width="10.8"/>
<path d="M2921 291zm87 22zm-121 22zm41-8zm83 2zm-65 9zm18 0zm-151 14zm65 1zm1-3zm78 2zm-200 12zm137 5zm20-5zm21 0zm-165 16zm19 4zm59 5zm102 2zm6-4zm26-1zm-180 12zm53-5zm45 6zm105 5zm-182 5zm23-3zm23 0zm-137 22zm11-2zm73 5zm34-4zm7-7zm156 4zm5 2zm-252 8zm10 11zm44-10zm8 4zm80 4zm6 0zm8-8zm56 1zm-226 18zm11 6zm45-1zm14-4zm19 2zm0 4zm32-8zm9-3zm5 0zm39 10zm23-5zm31 6zm19-13zm-268 17zm59 7zm31-1zm56 3zm29-4zm56 3zm4 2zm-212 9zm35-5zm196 6zm-293 7zm286 0zm-287 23zm161-7zm-21 14zm-255 16zm183 31zm117 0zm-258 9zm34 4zm477-7zm219-1zm-644 23zm-62 20zm743 7zm-792 9zm25-1zm280 5zm375-5zm-246 19zm115 0zm97-3zm168 0zm-140 11zm60 3zm33 9zm-168 11zm65-5zm42-5zm231 11zm-336 11zm28-7zm248 0zm33 8zm57-5zm-471 12zm21 1zm40 3zm36 2zm130 4zm8-10zm69 0zm44 2zm16-1zm5 2zm12 0zm5 3zm-387 7zm3 11zm348-4zm-232 13zm31 6zm115-7zm63-4zm60-2zm76 12zm-462 3zm98 8zm33-7zm15 3zm60 0zm57-1zm51 7zm60-5zm2 2zm4 1zm11 4zm6-2zm35-7zm6-3zm11-1zm-519 17zm101 8zm47-10zm32 12zm24-5zm54 5zm8 0zm10-5zm10-5zm45 5zm50-8zm12 6zm6 6zm16-12zm57 13zm-393 5zm55 5zm42-1zm16 0zm2-4zm4-1zm55 8zm87-3zm12 5zm173-12zm78 9zm12 3zm-579 2zm1-1zm38 3zm10 8zm224-9zm188 2zm85-3zm12 6zm-585 13zm61-5zm17 2zm50-3zm79 0zm11 7zm11-1zm108 6zm25-1zm-95 4zm53 8zm8-4zm7 4zm208 0zm-364 18zm47-7zm38-3zm46 8zm167-2zm107 1zm-534 7zm3-3zm160 8zm2 3zm25-9zm133-1zm11-1zm82 6zm94 6zm-393 8zm300 5zm113 1zm11-3zm-519 13zm138-5zm86 2zm82 0zm62 6zm16 2zm122-4zm-345 12zm1 6zm29 0zm40-12zm49 1zm1 10zm6-7zm127-1zm60-2zm32 10zm70-3zm54 3zm-598 12zm52-9zm118-1zm32 10zm2-4zm175-5zm-312 16zm28-3zm10 1zm105 11zm20-5zm55 2zm3-6zm96-1zm30 10zm16-3zm-461 10zm147 4zm0-2zm124 1zm27-8zm46 6zm3-6zm66 0zm82 8zm-247 13zm67-5zm14 2zm12-2zm87 2zm14-2zm-135 19zm129-2zm60 1zm-421 12zm10-1zm49 5zm47-6zm42 11zm67-8zm155 7zm20-2zm-360 10zm253 2zm169 3zm-310 13zm51 3zm82-13zm52 9zm85 1zm-12 13zm-350 14zm134 0zm112 0zm2 1zm-146 4zm221 8zm35 11zm-18 34zm-7 27zm-3 32z" stroke="#156e45" stroke-width="10.8"/>
<path d="M2964 293zm19 13zm30-4zm-192 11zm88 11zm-255 24zm100-6zm119-5zm13 11zm-57 14zm154-10zm22 10zm-248 14zm34-7zm66-2zm33 7zm18 3zm154 0zm-308 9zm119-4zm91 7zm25-7zm-222 10zm22 12zm11-6zm82-2zm20 6zm27-8zm89 7zm-235 16zm87-4zm39 4zm6 1zm61-9zm82-2zm-295 21zm81-3zm2 5zm37 0zm10 1zm16 1zm5-8zm41-3zm0 11zm-221 15zm4 0zm66-5zm48 1zm14-8zm13 8zm61-6zm35 5zm-205 12zm13 0zm3-4zm43 8zm15-4zm82-1zm42-4zm-241 13zm35 10zm11-10zm44 0zm8 13zm68-3zm-204 8zm40 4zm32-6zm30 1zm58 9zm18-12zm22 8zm86-3zm28 0zm-283 14zm80-4zm4 6zm65-3zm26 2zm-205 16zm79 0zm12 3zm58-7zm24 0zm-55 17zm3 5zm-162 11zm7-6zm75 3zm62-3zm17-1zm31 6zm-29 8zm102 7zm-243 8zm24 13zm254 9zm-382 27zm745 11zm-126 19zm15-11zm130 4zm111 3zm-261 17zm14 0zm23-1zm19 3zm48-5zm41-8zm217 9zm-439 16zm187 1zm21 0zm4-8zm100 3zm-237 9zm8 4zm41 0zm108-2zm24 6zm5-10zm30 5zm-322 19zm43 3zm281 0zm47-9zm-354 20zm25-2zm17-2zm65 4zm65 2zm53-8zm83 0zm31 8zm-489 10zm95 4zm90-6zm1 6zm94-6zm141 2zm174 1zm-480 18zm125-5zm20-1zm143-7zm90 13zm38-10zm4-3zm-334 23zm12-3zm4-5zm92 6zm100 6zm178-9zm-458 21zm260-3zm27-4zm141 5zm38-9zm27 3zm-493 17zm19-2zm10-2zm8-2zm45 1zm38 11zm13-2zm25 0zm12 1zm71-1zm2-6zm35 2zm69 1zm17-5zm105 7zm17-8zm48 8zm-513 16zm85-8zm85-1zm90 11zm8-7zm14-6zm45 11zm11 0zm124 0zm3 1zm-362 13zm52-1zm26-5zm55 5zm78-8zm7 11zm124-10zm1 5zm5-2zm34-1zm35 7zm20-3zm-657 11zm101-2zm129 2zm92-5zm51 7zm181-1zm5 4zm21-7zm26 9zm-433 9zm9 3zm7-4zm30 1zm31-2zm234 1zm2 5zm4-1zm20-4zm40-7zm40 8zm-484 6zm34 2zm82 7zm62-6zm82 5zm2-8zm41 3zm29 9zm23-7zm51 3zm33-2zm52 6zm36-5zm-484 16zm0-6zm4-1zm31 5zm21-5zm13 0zm59 7zm36-5zm13 3zm2 2zm95-5zm10-4zm84 6zm4 1zm17-1zm16-5zm68 12zm-538 2zm51 9zm166-10zm8 13zm28-7zm76 2zm7 0zm18-7zm56 4zm22 5zm51 1zm72-4zm171 1zm-714 10zm11 3zm62-1zm22 3zm6-5zm140 8zm125-5zm98-4zm13 0zm17 4zm10-3zm4 1zm46 7zm13-8zm-541 15zm71 6zm44 1zm148-1zm21-9zm27 3zm11-1zm151 9zm-446 10zm84 2zm48-1zm119-1zm42 3zm20-5zm12 2zm89-8zm21 2zm-432 23zm81-9zm67 3zm99 6zm87-9zm74-3zm95 5zm-322 20zm210-11zm5 9zm118-8zm-413 18zm128 2zm25 5zm55 0zm29-11zm15 11zm8-6zm7 5zm-318 3zm33 10zm54-8zm58 8zm8-6zm40-4zm72 3zm16 7zm61 3zm44-4zm85 2zm-363 14zm229-3zm64 2zm-283 6zm64 11zm45-1zm3-2zm22-5zm165 4zm-329 13zm5-6zm164 5zm35 3zm-60 17zm29-4zm55-8zm78 14zm-123 19zm-65 95z" stroke="#1d922c" stroke-width="10.8"/>
<path d="M2861 285zm126 3zm87 17zm-160 13zm51-7zm-23 24zm6-7zm-47 15zm60-2zm-69 9zm16 9zm89-5zm-184 19zm34-3zm110 2zm63-8zm71 8zm-301 9zm81 5zm6-3zm22 7zm67-8zm8 8zm-189 5zm94 5zm26-6zm-111 14zm138 7zm21-5zm14 4zm14-6zm22-2zm15 7zm37 5zm-291 15zm99-5zm455 3zm-616 16zm91 0zm17-9zm68-4zm57 13zm20-9zm92 1zm-309 12zm2 4zm6-7zm39 5zm49-5zm46 6zm22-4zm38-2zm55 12zm91-9zm-320 16zm25 8zm14-8zm30 5zm4-1zm35 1zm71-7zm-251 17zm72 7zm18-10zm48 3zm87 6zm159-4zm-381 6zm73 4zm24 1zm6 7zm60-4zm4 2zm10-6zm69 6zm-227 6zm65 5zm29 2zm45 4zm31-13zm-107 26zm27-1zm25 2zm7-4zm22-9zm-240 25zm77 2zm6-8zm84 5zm9-10zm25 4zm46-2zm15 7zm-320 17zm358-11zm-121 34zm-211 23zm615 2zm101 7zm-144 10zm120 5zm399 1zm-250 9zm-495 7zm194 9zm20-4zm85-5zm3 8zm22 2zm45-8zm-165 17zm17-2zm3 4zm95 0zm11-2zm70 7zm262-12zm-514 24zm219-9zm53 2zm18-1zm0 8zm35-4zm-346 12zm163 3zm19-1zm132 5zm36-5zm78 2zm-292 17zm81-7zm30 3zm-176 14zm162-5zm8 2zm40 6zm108-10zm8 5zm4-4zm5 0zm-393 25zm0-8zm81-5zm81 2zm92 10zm43-4zm35-2zm6-2zm89-2zm18 1zm10 9zm35-4zm-519 15zm168-4zm1 7zm17-6zm132-5zm31 4zm23-4zm18 4zm15 2zm90-6zm26 0zm13 2zm-575 21zm91 1zm36-2zm38-8zm4 2zm2-2zm14 0zm100 10zm78-9zm49 10zm119-3zm-422 9zm156 7zm39 2zm33-9zm56 1zm11 3zm52-2zm-272 21zm33-3zm139-9zm52-1zm50 7zm27 0zm20 5zm2-10zm-414 13zm14 6zm37 6zm50-12zm31 1zm63-1zm46 1zm17 6zm9-4zm73 8zm40-6zm7-3zm28-3zm12 6zm98-4zm7 6zm-585 7zm69 8zm127-4zm33 8zm101-9zm24 2zm77 0zm10-6zm38 9zm8-4zm7 4zm63-7zm-436 18zm24 5zm100-6zm38 1zm102 4zm16-4zm122 3zm19 2zm-378 8zm27 4zm14 2zm2-7zm211 4zm25-2zm81 2zm47-2zm-500 14zm27 6zm2-9zm21 10zm27-3zm34-6zm54 9zm118-13zm0 9zm50-6zm80 7zm86 3zm-448 9zm9 4zm24-11zm11 12zm14-5zm25 5zm37-7zm61-5zm48 3zm6 2zm60 7zm24-11zm27 2zm84-4zm-470 20zm21-4zm45 2zm23 9zm28-3zm16-7zm48 8zm50-9zm112 6zm26-2zm46-2zm4-2zm55 6zm28 4zm-522 15zm136-6zm23-4zm16 7zm30-4zm5-4zm29 0zm40 0zm60 6zm29 0zm41 5zm10-8zm21 8zm13-12zm80 1zm26 6zm-520 13zm22-5zm10 11zm4-4zm23-9zm24 0zm17 1zm32 12zm43-13zm50 6zm40 7zm101-1zm37-3zm31-3zm-425 17zm1-4zm47 2zm93-4zm9 5zm17 0zm6 2zm33-10zm57 6zm19-3zm31-2zm88 7zm38-6zm-427 12zm54 6zm15-1zm60-3zm48 7zm13-2zm73-3zm35 1zm10-2zm30 9zm27-1zm5-9zm2 7zm45-5zm-422 13zm193 1zm70-3zm21 6zm20 0zm17 1zm8-1zm39-3zm-256 10zm37 0zm22 12zm2-4zm5-1zm42-4zm69 3zm19-6zm38 1zm0 3zm32 0zm18 19zm-181 13zm50 0zm4-3zm11 5zm62-7zm-91 14zm79 1zm-103 15zm81-2zm4 3zm-68 11zm139 1zm5 5zm12 19z" stroke="#33ac27" stroke-width="10.8"/>
<path d="M2998 329zm-194 19zm188-9zm47 7zm-131 10zm9 14zm29-2zm106 2zm-290 25zm-28 15zm71 18zm69 12zm-160 8zm64 23zm175-5zm-265 24zm140 5zm50-5zm29 11zm53-5zm-343 31zm154-2zm174-4zm13 1zm-402 17zm256-4zm4 0zm-80 24zm73 22zm26 29zm449 11zm-57 38zm111 4zm84-2zm-298 14zm211 9zm211-1zm-383 16zm369-8zm-115 13zm116-1zm-247 18zm265-1zm12 6zm29-8zm-504 19zm5 0zm22-8zm197-1zm32 1zm-255 13zm67 5zm16-3zm235-2zm98 13zm-165 1zm141 7zm-313 13zm98-4zm73 8zm3 2zm97-3zm-30 10zm-360 11zm143 2zm16-4zm1 27zm395-10zm-384 14zm131 1zm202-1zm-293 18zm35 1zm145-5zm48 4zm28-5zm-429 32zm8 7zm135 0zm50 0zm60 0zm63-11zm106 9zm4-4zm21-7zm26 13zm-157 2zm3 8zm209-6zm-431 38zm27-9zm222-3zm-194 30zm138 5zm63 0zm52-5zm8 14zm-322 21zm178-8zm88 2zm178 3zm-133 12zm-140 10zm53 7zm26-7zm29 6zm100-6zm38 8zm-341 5zm-156 28zm363 5zm62 49z" stroke="#60bd29" stroke-width="10.8"/>
<path d="M3016 325zm-82 22zm-37 4zm-86 60zm220-1zm-360 63zm184 2zm74-8zm-73 18zm216 122zm232 21zm114 78zm-287 34zm173-10zm206 6zm-381 11zm16 24zm215 22zm160-2zm102-3zm-483 15zm231 10zm133 11zm69 4zm-283 21zm27-4zm268 10zm-365 26zm135-1zm152-6zm-223 20zm241 13zm-329 4zm286 5zm68-4zm-445 19zm530 6zm-324 10zm10-4zm285-5zm-92 25zm90 1zm-318 5zm232 7z" stroke="#9cc22f" stroke-width="10.8"/>
<path d="M3011 409zm-182 25zm323 248zm254 6zm-224 28zm71 45zm200 53zm24 36zm-70 27zm194-8zm-402 37zm131-10zm-120 27zm318 7z" stroke="#c8b733" stroke-width="10.8"/>
<path d="M2878 512zm-55 7zm452 87zm163 191zm111 6zm-196 87zm-59 58zm324 28zm12 30z" stroke="#d4932f" stroke-width="10.8"/>
<path d="M2991 433zm-167 48zm713 243zm-345 14zm-7 56z" stroke="#c9582a" stroke-width="10.8"/>
<path d="M2965 334zm11-5zm-155 14zm73-4zm46 7zm15-2zm98-6zm-249 38zm57 29zm98-12zm-38 32zm92 3zm-203 32zm216-6zm-327 24zm294 7zm-245 59zm135-5zm311-1zm-379 12zm625 51zm-94 12zm29 0zm-234 11zm115 2zm-177 18zm331 9zm-203 13zm269-4zm-15 14zm70 6zm-442 14zm78-10zm7 6zm28-6zm200 5zm-215 14zm12 4zm303 0zm6-9zm-546 25zm214-8zm-260 18zm170-3zm257 5zm-367 8zm76 8zm17-7zm78-4zm320 6zm69-1zm-293 14zm54 5zm107-7zm-315 23zm237-2zm-18 14zm114 1zm-136 15zm133-2zm98 2zm44-1zm-58 12zm84 12zm-500 15zm76-1zm77-2zm142 4zm23 2zm259-7zm-714 10zm221 6zm258-3zm253 1zm-89 10zm-529 14zm280 12zm51-7zm28-1zm38 13zm147 8zm35 1zm-73 8zm-635 20zm307 9zm103-3zm136-4zm18 8zm97 2zm20 2zm-469 12zm345-3zm-331 11zm4-2zm32 9zm5 2zm107-13zm50 3zm96 8zm-275 7zm269 7zm-52 21zm190-1zm-119 11zm-80 36zm256 17zm-82 8z" stroke="#2c2195" stroke-width="10.8"/>
<path d="M2880 335zm5-13zm96 34zm6-3zm14 22zm-250 15zm88-10zm125 4zm-2 11zm56 8zm27-5zm-393 12zm65-2zm11 6zm7-3zm204 0zm101 11zm39 7zm-260 13zm4-6zm-21 23zm197-3zm-263 28zm8-1zm170-5zm164 4zm-336 9zm20 6zm165 0zm45 0zm-258 18zm210 11zm-127 19zm74 7zm362 3zm198 30zm-347 29zm87-3zm50-6zm-19 22zm210-1zm-58 6zm-266 17zm18-2zm493 5zm-599 17zm294-3zm119 2zm-110 9zm39 6zm144-9zm2 4zm135-3zm-603 23zm82 1zm30-13zm4 7zm85 3zm112-6zm-322 21zm31 2zm160-1zm180 0zm-125 12zm62 3zm108-13zm-279 14zm62 2zm2 4zm117-1zm220 0zm-484 10zm146 9zm96 1zm-261 13zm270 1zm202-5zm-203 15zm246-6zm103 12zm-471 7zm496 3zm-710 7zm78 0zm0 4zm122 4zm82-9zm471 7zm-496 8zm56 10zm9-6zm30 0zm122 21zm106-13zm29 9zm92-9zm-550 16zm126 8zm66-5zm31 8zm37-11zm40 0zm77 8zm125-9zm-551 21zm123-3zm335 0zm-490 14zm274 3zm187 3zm133 2zm-218 1zm209 3zm-592 15zm29 5zm112 0zm46-7zm122 5zm115-1zm-361 16zm3-2zm30 7zm205-11zm151 11zm46-2zm-578 3zm191 9zm235 2zm-297 6zm71 8zm178 6zm42 8zm57-8zm-24 26zm125 2zm29 6zm30-8zm-486 18zm83 2zm238-1zm2-6zm158 3zm79 22zm-423 4zm163 34zm25 5zm122-5zm-161 21zm3 7zm77-3zm82 6zm-180 6zm66 39z" stroke="#241e92" stroke-width="10.8"/>
<path d="M2783 295zm222 10zm26-9zm-113 24zm-90 15zm8-4zm84 13zm17 4zm76-8zm-227 21zm30 5zm152 10zm-230 7zm185-3zm87 10zm76 12zm-410 17zm66-12zm103 6zm71-2zm87 8zm-264 1zm300 9zm-227 19zm-1 25zm18-5zm150 2zm82 2zm-349 16zm110-2zm38-2zm-198 10zm250 3zm19-6zm29 1zm-185 23zm-56 14zm235-9zm-223 13zm147 7zm-149 7zm103 16zm70 3zm612 11zm-299 17zm67 7zm31-1zm-204 4zm48 4zm194 6zm1-9zm12 4zm-259 8zm365 4zm-420 22zm127-9zm-62 27zm12 2zm133 1zm34 6zm278-9zm-225 12zm160 1zm-452 24zm447-9zm-493 20zm67-4zm17 0zm156 3zm41-6zm313 1zm-637 19zm142-2zm345-6zm3 1zm42 4zm-36 21zm-62 9zm90-7zm75 4zm92 0zm-549 18zm308-4zm35 4zm52 2zm-555 8zm80 8zm324-10zm98-2zm62 0zm-179 15zm81 0zm156 6zm122-1zm-470 8zm102 4zm281-3zm-390 22zm58-8zm235 7zm55-5zm33 7zm-533 8zm222 5zm62-8zm-319 19zm35 7zm-56 12zm146-8zm372 7zm-468 14zm23-10zm271 1zm66 5zm102 7zm-176 11zm98-6zm-417 20zm292-1zm54-2zm248-2zm-111 10zm141 2zm7 0zm-486 21zm255-6zm167 20zm43-2zm-442 6zm67 7zm-49 10zm219 5zm259 2zm11 0zm-357 4zm155 8zm61-4zm129-1zm-415 21zm197-6zm-231 22zm32-3zm2-5zm67 18zm5-5zm196 0zm-322 12zm164 0zm-22 18zm191 5zm-176 44zm244 24z" stroke="#1c1e87" stroke-width="10.8"/>
<path d="M2926 280zm-111 39zm-53 6zm39 13zm45 4zm16-4zm176 11zm-59 14zm19-12zm-221 23zm-14 13zm112 9zm46 1zm3 2zm-204 14zm113-3zm-113 21zm5 1zm209 13zm-25 10zm33 5zm-50 12zm-103 7zm114 4zm16-7zm44 13zm55-11zm-310 19zm67 6zm51-5zm39-7zm-148 16zm14-2zm318 8zm-120 17zm-73 19zm392 9zm-463 7zm230 5zm-207 7zm433 5zm55 1zm-72 9zm-45 14zm132 8zm-222 6zm101 0zm125 4zm10 3zm-206 13zm25 2zm120-11zm54 7zm34-8zm-53 15zm61 11zm4-7zm-218 19zm280-1zm18-1zm-248 7zm68 1zm222 8zm-182 10zm249-5zm-497 18zm114 5zm399 9zm-520 15zm11 3zm122 4zm101-3zm125 0zm63-1zm127-7zm-265 12zm187 13zm106-4zm-601 16zm171 2zm177-6zm116 0zm58 3zm69-4zm27-6zm-521 19zm94-4zm-30 25zm146-10zm36 8zm-388 10zm106 4zm150-3zm165-5zm-407 37zm135-9zm173 2zm145 1zm252 1zm-608 20zm185-4zm30-1zm5 6zm-282 6zm42 7zm117-11zm399-1zm91 2zm-511 22zm43 0zm109 0zm11-10zm308 11zm-476 12zm87-1zm94-3zm2 0zm59 0zm12 4zm294 4zm3-8zm-50 13zm58 2zm-662 15zm549 5zm-487 14zm383-11zm52 12zm-263 1zm70 1zm79 0zm141 2zm3 3zm-592 12zm112-3zm490 6zm-281 9zm104-1zm149 11zm-323 6zm1 4zm89 11zm48 1zm211-1zm-196 18zm152-7zm34 11zm-138 9zm101-7zm-278 21zm352-4zm-182 21zm63-5zm15-4zm-28 12zm13 7zm-36 70zm165 27z" stroke="#16217a" stroke-width="10.8"/>
<path d="M2835 288zm166 21zm-124 21zm-43 8zm8 22zm-67 31zm95 19zm70 2zm-199 49zm63-6zm231-3zm-368 22zm299-2zm45 3zm-122 14zm82-6zm-237 15zm234-3zm-228 15zm27 0zm136 39zm224 11zm157 36zm-180 10zm-26 13zm49 5zm-68 12zm127 8zm-133 15zm459 0zm16 5zm-170 17zm-259 11zm-55 10zm546 0zm62 3zm-162 16zm147-5zm-519 13zm20-1zm195 8zm113-3zm36 5zm104-4zm-514 19zm394-11zm-428 14zm544 1zm-350 19zm348 6zm-133 9zm106 6zm-291 1zm9 12zm57-8zm-162 18zm97 17zm89-4zm149-3zm-416 23zm539-8zm-302 17zm65 3zm155-11zm-131 18zm17 1zm242 8zm-476 8zm226 4zm272-1zm-558 10zm443-6zm-378 20zm27-2zm55 7zm367 14zm42-1zm-678 5zm189 16zm327-2zm-325 21zm158-2zm357-2zm-308 29zm9 4zm72-4zm23 3zm65 2zm14-6zm-316 14zm-7 22zm201 11zm-122 44zm92-3z" stroke="#13356d" stroke-width="10.8"/>
<path d="M2896 329zm-22 16zm92-9zm-70 23zm30 12zm25-7zm78 4zm-277 10zm54 9zm100-4zm9 5zm41-8zm51 10zm-169 9zm54-5zm18 10zm-60 15zm108 0zm22-11zm-156 18zm67 7zm50 0zm44-9zm43-3zm58 6zm-339 12zm17-2zm26-2zm190 10zm-242 16zm80-13zm25 1zm34 5zm50-2zm11 3zm16 1zm18 1zm74-1zm-447 15zm316-4zm16 4zm6-2zm21-6zm-205 22zm10 2zm118-5zm-68 8zm20 4zm61 2zm45-5zm-210 21zm63 3zm34-11zm19 13zm4-4zm7 3zm7 1zm-106 8zm104 0zm4 18zm8-5zm225 4zm-298 7zm446 20zm-122 17zm165-3zm-24 13zm-247 13zm34-6zm203 8zm-59 11zm155 7zm-293 9zm194 5zm31-6zm220-1zm-427 19zm30-2zm75 0zm51-2zm128-7zm75 7zm-376 12zm128 2zm44 3zm95 2zm20-5zm-181 8zm101 2zm29-3zm15 1zm159 0zm10 0zm-283 15zm39 4zm91 1zm112-7zm105 8zm-405 6zm83 8zm186 3zm79-2zm132 2zm-676 10zm103 1zm38-7zm120 5zm100-1zm-146 10zm56 11zm52 0zm27-7zm70-4zm28 3zm-406 18zm59-6zm5 9zm127-2zm54 1zm28 3zm20 0zm36-1zm33-2zm62-5zm15-1zm5-2zm124 4zm-462 9zm220 4zm55 3zm134 1zm43-1zm115-6zm-502 17zm26 4zm39 4zm127-3zm44-5zm2 3zm2 3zm87-9zm73 9zm-421 13zm3 0zm24-8zm98 0zm44 11zm166-4zm17-9zm2 12zm77-1zm87-11zm-555 24zm5-6zm66 7zm171 2zm78-10zm58 8zm2 0zm52-2zm97-5zm-570 21zm2-3zm108 3zm143 0zm51-10zm53 4zm0-2zm188 9zm-377 8zm35 4zm36 0zm6-9zm91 0zm13 10zm40-10zm76 1zm179-2zm-672 15zm132 2zm15 7zm183 2zm80-8zm195-3zm-641 21zm94 2zm381-6zm23 2zm67-5zm10 10zm19-11zm89 6zm-666 17zm273-2zm24-5zm150-1zm73-1zm3 12zm-576 7zm91 8zm56-5zm10-1zm7-4zm126 10zm1-12zm54 2zm7 10zm148-9zm95 0zm93 5zm-510 7zm98 8zm79-6zm52 2zm19-1zm92-4zm85 3zm29 3zm12-5zm-351 18zm20 0zm156 1zm109 1zm-315 17zm50-11zm57 13zm16-7zm80 6zm26 0zm30-6zm-353 13zm72-4zm217 4zm30 1zm86-6zm81 8zm-379 16zm11-1zm45-5zm118 5zm40-9zm33 9zm75 2zm-367 10zm41 0zm133 3zm12 2zm45-5zm107-3zm85-4zm-237 14zm25 11zm71-4zm31 6zm41-6zm34 2zm29 2zm189-1zm-379 17zm20-7zm23-2zm35 6zm72-2zm-275 6zm3 1zm61 7zm16 1zm5-7zm132 11zm71-6zm-217 12zm33-3zm107 11zm60-1zm-193 6zm58 7zm132-7zm-224 22zm36-9zm-123 17z" stroke="#124f5b" stroke-width="10.8"/>
<path d="M2931 305zm86 42zm-147 16zm50-9zm-179 23zm108-7zm1 1zm88 4zm-109 15zm91 1zm65-2zm99 1zm-232 6zm64 1zm-166 10zm78 5zm62 5zm41-11zm4 2zm-204 24zm6-9zm53-1zm31 7zm21 0zm94-8zm78 1zm-242 22zm27 3zm56-5zm48-4zm79 0zm-249 21zm101-11zm59 0zm6 4zm1 4zm71 2zm53-7zm-385 15zm75-3zm62 4zm94 0zm17 3zm12 2zm6-2zm120 0zm-308 6zm43 13zm4-4zm24-7zm56 1zm15 1zm22 7zm51-4zm51-3zm-18 18zm-112 12zm111 2zm-175 9zm111 6zm18-4zm-147 24zm7 19zm567 31zm-183 14zm131 19zm-148 25zm44-9zm93 11zm53-2zm66 1zm-343 8zm16 5zm207-8zm119 10zm-357 12zm223-1zm7 3zm1-5zm61 5zm36-4zm21-1zm5 5zm11-13zm162 11zm-401 15zm36-4zm40-1zm84-4zm47 3zm29 4zm8-4zm-249 9zm28 8zm3-2zm59-4zm54 8zm26 2zm39-3zm12-1zm283-6zm-481 23zm12-7zm121-2zm14 3zm55 5zm69-2zm107-3zm29-3zm-509 13zm62 8zm20 2zm21-5zm14-4zm64 3zm165-6zm-365 18zm58 1zm99 4zm17-6zm47 4zm110 3zm2-9zm-294 22zm4 3zm21-2zm35-1zm8-3zm68 4zm95-4zm24-4zm100 7zm-396 8zm11 6zm52 3zm224 1zm53-12zm4 1zm26 8zm95-8zm51 11zm19 0zm11-4zm-278 18zm67-7zm93-6zm14 7zm-401 18zm-9 10zm35-5zm117 10zm5-2zm18-3zm152 6zm92-11zm8 0zm-244 21zm36-5zm25 4zm5-4zm43 9zm24-3zm9 1zm154-4zm17-6zm-581 16zm42 0zm40 4zm127-2zm43 2zm45-3zm93 8zm10-7zm41 2zm47-1zm1-5zm14 7zm56-2zm6 3zm38 2zm33-7zm-519 15zm168-2zm107 3zm9 0zm2-1zm65-3zm85 11zm-541 2zm166 8zm238-4zm60-3zm15 10zm72-3zm-356 15zm62-6zm0-1zm16 1zm39 3zm6-6zm2 2zm25 7zm135-4zm13 3zm14 0zm-333 12zm140 4zm0-10zm84 6zm217-7zm-533 26zm130-2zm51-6zm13 6zm60-2zm27 5zm112-12zm10 1zm6 1zm76-3zm-425 14zm49 5zm280 3zm30-8zm32 10zm-344 12zm220 4zm180-6zm-77 19zm-114 15zm94-2zm-305 6zm59 5zm113-3zm13 0zm9-3zm75-1zm12 3zm75 0zm107 5zm-418 9zm90-1zm26 4zm22 7zm-222 2zm117 3zm73-4zm67 13zm-230 8zm294-4zm22 28zm28 13zm68 7zm-184 24z" stroke="#156e45" stroke-width="10.8"/>
<path d="M3016 333zm-137 12zm-61 13zm48-1zm52 3zm-139 16zm38 1zm12-11zm55 5zm3 5zm22-1zm-106 6zm21 1zm47-3zm16 8zm2-6zm24-2zm6 9zm76 2zm-237 5zm56 6zm38 4zm72-5zm29-1zm1-3zm5 1zm-31 15zm39 4zm9-4zm28 7zm13-8zm-130 19zm1-10zm6 10zm17-10zm17 7zm48 2zm-204 6zm14 8zm13-4zm77 2zm14-3zm17 8zm35-10zm5 7zm76-3zm-282 15zm1-2zm59-4zm23 0zm31 2zm43 6zm26-1zm11-3zm-153 13zm8 6zm57-2zm12-4zm3-4zm11 1zm84 8zm16-6zm-234 15zm23 23zm139-6zm133-6zm50 6zm-225 19zm28 1zm38-10zm20 8zm-266 6zm99-2zm33 6zm66-1zm33 2zm5 0zm-262 9zm240 1zm456 28zm-93 19zm18 17zm21-3zm-61 21zm-4 21zm36 3zm25-9zm-168 12zm45 12zm134 0zm-97 10zm37 2zm5-5zm27 2zm27 0zm-108 9zm29 3zm40-6zm7 2zm62 9zm11-10zm42 7zm2 4zm1-4zm21-3zm60 3zm-342 9zm100 1zm69 2zm0 7zm38 0zm-198 5zm23 8zm21-5zm31 6zm33-8zm36 2zm98-1zm38-1zm26 4zm60-9zm23 6zm-351 20zm121-7zm22-2zm4 6zm28-6zm53 1zm8 8zm28-6zm201 0zm-535 21zm18-10zm38 1zm19 1zm1 3zm30-3zm103-1zm2 6zm48-5zm79 0zm33 7zm52-12zm1 12zm7-6zm36 7zm-553 14zm106-4zm5-7zm241 0zm18 6zm39 2zm85-7zm12 5zm-463 17zm94-8zm1-3zm13 10zm33-1zm24-8zm128 9zm45-4zm2 1zm58-3zm83-3zm21 9zm0-10zm21 8zm22-8zm-466 18zm9-2zm22-2zm51 6zm35-1zm10-2zm9-2zm31 10zm2-9zm39 6zm1 5zm30 0zm7-9zm66 2zm19 1zm46 2zm10 2zm-454 13zm59-2zm1 3zm27 1zm19 0zm47 0zm250 0zm9-12zm89 7zm62-7zm-515 26zm39-7zm3-1zm48 9zm67-5zm77 3zm3-2zm23-2zm10-6zm38 6zm58-6zm82 10zm26-11zm-588 16zm244 3zm39 0zm35 1zm19 0zm28-6zm56 13zm26-10zm35 4zm13 2zm2-7zm5 10zm0-2zm15-10zm79 8zm-501 17zm49 2zm14-6zm20-1zm10-3zm4 2zm29 2zm18 0zm119 5zm37-9zm122 10zm-235 5zm31-2zm1 7zm8 4zm86-8zm48 4zm173-3zm-483 21zm32-9zm1 7zm72-5zm60 1zm63 6zm109-4zm2 1zm23-1zm-427 10zm35 6zm8-9zm42 3zm9 1zm2-2zm19 7zm76-2zm66 1zm24-9zm10 10zm-279 13zm269-3zm12 1zm62 3zm38-11zm81 1zm26 2zm-378 11zm89 11zm112 1zm10-2zm43-5zm273 2zm-658 13zm104-4zm148 8zm22 1zm67-7zm57 3zm10 2zm25 0zm5 0zm7 0zm56 2zm16-11zm10 6zm19-1zm51 3zm-528 9zm28-3zm43 5zm14 2zm25 6zm279-4zm22-3zm62 6zm-539 12zm112-8zm16 8zm66-8zm1-1zm24 11zm130-7zm12 3zm60 5zm67-13zm-392 14zm103 0zm71 12zm74-5zm241-2zm-484 20zm6-8zm151 3zm21-6zm33 7zm2-4zm59 1zm41 5zm14-4zm11-2zm7-3zm156 6zm-467 14zm37 7zm138-13zm51 11zm-33 13zm74-7zm167 8zm7-2zm-322 8zm116 10zm6 0zm36-13zm-228 18zm55-2zm20 0zm80 6zm185 0zm24-5zm-222 15zm46 0zm-116 21zm67 6zm108 73z" stroke="#1d922c" stroke-width="10.8"/>
<path d="M2945 307zm-76 42zm23-13zm37 7zm92-5zm-228 25zm57-2zm23-5zm29 3zm9-8zm-131 24zm36-6zm1 1zm82 4zm45 3zm1-5zm51-7zm-174 14zm44 4zm49-4zm63 3zm11 6zm-210 17zm35-6zm12-3zm19 4zm40 1zm115-9zm18 9zm-212 5zm20 2zm22 0zm10 10zm72-10zm40 1zm-228 17zm3-1zm40 2zm12-3zm8 5zm72 0zm113 1zm17-1zm26-2zm-277 19zm27-2zm6-5zm-6 11zm42 9zm6-7zm6 6zm16-8zm1 5zm48-5zm37 9zm57 1zm-160 8zm61 5zm42-2zm37-9zm-238 26zm17-4zm1 2zm10-6zm18-2zm93-2zm9 4zm43 9zm6-6zm6 3zm32 3zm-339 5zm111 0zm44-1zm37 5zm25-5zm13 3zm36 0zm40 2zm-86 13zm1 0zm185 9zm-259 22zm57-1zm35 20zm126 19zm329 21zm1-10zm-230 51zm220-2zm18 0zm3-7zm-150 15zm166 5zm-353 17zm119-1zm38-6zm26-5zm63 6zm21-4zm28 3zm30-3zm75 10zm26 0zm8-6zm-413 12zm184 3zm60-2zm50 0zm240-2zm-601 15zm233 0zm92 8zm123-3zm39-6zm141 3zm-442 18zm56-2zm26-8zm126 10zm8 1zm71-8zm51-2zm-440 25zm16-3zm65-7zm260 9zm-323 9zm102-4zm64-2zm7 0zm58 10zm3-5zm20-5zm4 12zm30-1zm89 0zm14 2zm18-11zm31 0zm-391 25zm109-4zm2 1zm63-3zm19 6zm27-10zm1-3zm4 10zm28-10zm40 7zm27 1zm23-2zm130-6zm30 9zm-547 5zm29 10zm54 3zm30-7zm42 7zm11 0zm8-13zm15 12zm92-2zm121-1zm59 4zm34-12zm-571 21zm19-8zm238 5zm31 3zm195-4zm-359 19zm36 4zm33-10zm19 0zm22 8zm23-4zm90-6zm45 2zm11 0zm19 8zm20-7zm14 7zm15-11zm12 2zm24 1zm37 10zm-485 3zm3 11zm31-2zm1-8zm22 4zm17 2zm147-6zm24 4zm64 5zm195-1zm10-9zm7 8zm-460 14zm14 3zm70-3zm16-8zm47 2zm8 2zm16 0zm214-5zm24 1zm10 9zm70-8zm23-3zm-614 19zm87 3zm67 4zm7-12zm102 13zm96-5zm11 0zm38 2zm15 3zm42-2zm15-8zm63 8zm10-5zm2 2zm1 3zm28 0zm-537 11zm2 2zm87-5zm39 5zm95 2zm113-5zm3-4zm38 8zm113-9zm13 11zm11-7zm51 0zm-422 19zm79 1zm17-12zm1 0zm10 11zm27-5zm12 4zm150-3zm5-6zm18 10zm49-6zm19 8zm24 0zm4-8zm-524 14zm105-2zm53 3zm0-5zm15-1zm195 7zm12 3zm110-9zm44 8zm-527 10zm30-1zm50 1zm78-3zm13 3zm76 3zm15 1zm17-4zm43-3zm88 6zm111-5zm-445 20zm73-9zm29 13zm62-12zm141 2zm30-3zm12 12zm-354 7zm153-5zm19 2zm134 1zm52-1zm91-2zm-492 19zm31 4zm90-4zm130 8zm57-1zm-238 10zm31-1zm41 3zm3-7zm33 10zm55-12zm61 6zm112 3zm8-10zm7 1zm25 0zm-381 17zm30 9zm18 0zm55-9zm6-4zm45 0zm36 12zm2-7zm46-5zm8 10zm24 3zm12-3zm6 0zm1 2zm71-6zm28 3zm12 1zm30-10zm73 8zm-447 8zm12 9zm67-11zm48 4zm55 1zm39 0zm52-3zm223 10zm-473 4zm53 9zm4-6zm68 6zm35 2zm63-11zm56 10zm20 0zm-292 13zm35-7zm43 6zm78 0zm25-9zm67 2zm8 3zm63 6zm-437 2zm414 5zm63 6zm-332 13zm18-5zm125-1zm69 1zm36 6zm-107 10zm4-2zm52-2zm4 4z" stroke="#33ac27" stroke-width="10.8"/>
<path d="M2977 290zm-111 48zm72 19zm5-4zm-71 22zm-69 26zm51-7zm108-1zm60 8zm23 5zm-232 16zm-114 25zm257-11zm2 9zm-151 10zm149 6zm-70 13zm-48 12zm-89 27zm200-1zm-69 13zm-167 43zm672 22zm104 12zm-320 21zm288 19zm-267 11zm97-2zm-135 16zm154 2zm-204 29zm206 5zm-70 19zm242 2zm-112 5zm-210 20zm235 2zm64-6zm79 7zm184-6zm-188 19zm-481 5zm208 9zm132 3zm-250 11zm215-2zm76 4zm2 11zm143 2zm47-1zm-141 7zm121 4zm-413 13zm-38 10zm105 1zm19 19zm280 0zm19-7zm20 4zm1-2zm-353 16zm-111 10zm308 8zm-380 7zm63 7zm135 2zm6-4zm209-6zm101 13zm22-8zm124-4zm-365 28zm91 17zm-185 17zm5-6zm14 33zm109-1zm-142 14zm93 17zm64 0z" stroke="#60bd29" stroke-width="10.8"/>
<path d="M2801 338zm26 45zm-47 33zm123-7zm47 42zm-195 19zm192 14zm-54 27zm455 117zm114 60zm-401 18zm37 20zm27 20zm130 8zm41 3zm246 9zm-156 19zm325 27zm-421 27zm359-10zm-446 21zm121-10zm-75 39zm16-1zm-58 9zm291 37zm-43 22zm38-4zm75-1zm-314 41zm150 33z" stroke="#9cc22f" stroke-width="10.8"/>
<path d="M2844 389zm108-7zm-161 24zm59 37zm-76 35zm114 15zm660 173zm-254 17zm90-5zm48 6zm-196 2zm-224 32zm559 1zm-162 32zm-345 22zm356 2zm-323 16zm68 31zm363-7zm77 59zm-255 30zm-168 29zm297 44zm-204 7zm326 11zm-262 45z" stroke="#c8b733" stroke-width="10.8"/>
<path d="M2845 417zm-5 69zm506 151zm-15 22zm171 130zm-299 11zm448 151zm-493 9zm129 22zm-8 30z" stroke="#d4932f" stroke-width="10.8"/>
<path d="M2778 559zm788 147zm-145 92zm-262 81z" stroke="#c9582a" stroke-width="10.8"/>
<path d="M2880 308zm80 22zm-58 50zm-209 33zm57 6zm114 6zm175-1zm-193 14zm77 17zm-78 27zm70-5zm-163 13zm62 13zm22 0zm162-7zm-183 33zm103-3zm398 34zm15 13zm-307 7zm289 20zm-160 9zm2-6zm-74 23zm228-9zm50 7zm-200 6zm179 7zm-228 32zm128-10zm8 2zm137 4zm-65 13zm200-2zm89 2zm-322 17zm193-8zm11 0zm38 1zm68-1zm-475 22zm184 3zm66-5zm109 5zm64-5zm-502 22zm207 5zm79 5zm-286 3zm127 15zm370 9zm31-7zm-157 19zm162-3zm-590 12zm316 7zm50-8zm-305 20zm2-8zm21 10zm571-1zm-294 11zm88 6zm45-1zm-447 15zm77-5zm275 4zm290-3zm-450 17zm251-7zm198 2zm-623 10zm282 4zm367 1zm-639 9zm25 0zm272 0zm14 8zm83 1zm181-4zm-321 26zm264 6zm170-11zm-739 26zm70-4zm99 8zm187 7zm17 2zm-145 13zm249 0zm6 1zm-295 5zm376-2zm4 5zm20 7zm-241 15zm-58 7zm249 5zm-352 11zm51 1zm88 4zm259-2zm-131 4zm9 2zm38 7zm17 0zm53 9zm40-1zm4-3zm-96 13zm-150 16zm76 3zm-15 15zm79 12zm75 65z" stroke="#2c2195" stroke-width="10.8"/>
<path d="M2771 337zm113 3zm124-3zm-15 18zm-251 15zm95 1zm107 6zm6-9zm92 7zm-170 7zm67 2zm85 5zm4-2zm39-3zm-68 14zm50-4zm-318 19zm69 1zm171-2zm57 10zm-335 18zm323 6zm-296 11zm249-8zm115 1zm-344 22zm163-7zm135 6zm-278 14zm148 3zm40-8zm6 5zm36-1zm-191 13zm129 0zm-103 16zm188-7zm-286 18zm211-5zm3 3zm-166 21zm374-2zm79-1zm-508 29zm202-5zm186 3zm-50 12zm85-3zm271 8zm-156 13zm44 12zm-107 14zm91 6zm62-3zm-273 15zm168-5zm31-2zm263 5zm45-3zm-474 12zm189 4zm135-7zm-345 17zm88 6zm199-3zm-372 8zm31 3zm470 6zm-462 17zm47-4zm556-6zm-352 21zm154-3zm38-1zm-469 12zm24 2zm235-3zm256 9zm-504 4zm13 11zm147-6zm253-1zm-376 18zm435-4zm76 0zm87 5zm-387 15zm347-1zm-360 11zm57-8zm341 13zm-664 11zm193 1zm117-11zm22 5zm283 2zm5-1zm16 0zm-644 21zm353-4zm252-7zm-524 23zm170 1zm386-5zm39 3zm-281 4zm48 6zm-476 21zm195-1zm123-1zm71 0zm227-6zm83-2zm-596 17zm437-5zm-143 18zm154 0zm135 3zm1-2zm39 7zm13-6zm-152 16zm111 2zm-173 5zm12 6zm142 3zm-503 10zm21 11zm15 6zm353 3zm-384 4zm45-3zm416 7zm3 2zm-161 10zm184-4zm-541 17zm88 5zm11-5zm313 2zm-411 24zm277 8zm141-4zm34 4zm-360 5zm6 10zm196 2zm-240 6zm524-5zm-345 24zm37 1zm152 7zm1 2zm45 1zm-77 13zm4 25z" stroke="#241e92" stroke-width="10.8"/>
<path d="M2794 326zm150 4zm26 2zm-165 11zm200 19zm-268 28zm34-9zm175 1zm62 7zm50 2zm-153 8zm147 10zm-347 36zm139-10zm-115 23zm93 6zm184 4zm-143 14zm75 2zm-237 19zm46-2zm103-11zm-106 20zm57-6zm-78 20zm77 11zm50 1zm28 1zm43 6zm332 42zm99 15zm-169 2zm8 0zm42 12zm49-7zm-97 20zm212-1zm-256 11zm184-2zm-349 18zm111 4zm187-10zm25 8zm30-9zm256 1zm-335 21zm232-7zm-291 13zm102 4zm74-4zm106-1zm79 4zm-624 10zm71 4zm192-3zm418 6zm-373 15zm4 1zm273-4zm48-6zm-530 19zm114 5zm151 1zm-123 11zm57-8zm152 9zm-379 7zm17 5zm5 2zm62-9zm172 6zm333 0zm-553 18zm86-1zm144-4zm29 6zm264-9zm56 9zm12 0zm-371 29zm235-10zm31 5zm113-5zm-585 14zm58 8zm116-10zm353 1zm-515 15zm40 0zm7 0zm171 7zm166-1zm56-8zm190 6zm94-2zm-720 17zm8-6zm85 5zm67-3zm363 5zm-303 10zm64 0zm181 2zm56 5zm118-7zm-704 20zm144-1zm314 12zm-399 9zm138 5zm387-6zm1 7zm53-7zm-560 24zm204-3zm4 5zm181-2zm152-3zm-272 15zm66-3zm245 4zm-390 13zm-147 24zm123-2zm93 0zm-172 13zm344 0zm33 8zm75-1zm3 3zm-496 26zm131-10zm382 8zm-430 6zm281 0zm190 5zm-283 9zm273 6zm-234 13zm13-5zm89 11zm3 1zm5-6zm-159 10zm-95 17zm216 3zm5-2zm7-4zm-182 34zm80-8zm195 41z" stroke="#1c1e87" stroke-width="10.8"/>
<path d="M2804 304zm120 15zm42 22zm54-4zm-35 24zm-272 10zm30 11zm256 5zm-290 30zm8-1zm221 13zm103-7zm-35 13zm-25 16zm-159 24zm41-1zm162-6zm-251 26zm28 12zm-89 13zm70 7zm107-6zm46 10zm-141 4zm142 7zm124 31zm110 27zm112-5zm-155 20zm12-5zm29 5zm224-10zm-50 17zm8-4zm-299 24zm376-3zm-306 12zm64 1zm213 4zm43-6zm43 5zm-253 7zm142-2zm65 4zm52-1zm-303 11zm311 3zm-420 17zm438-7zm47 4zm-379 19zm265-9zm111 11zm18-6zm-152 24zm61 4zm57 1zm123 6zm-665 9zm64-4zm-2 14zm226-1zm17 0zm156 6zm114-4zm28-1zm6-2zm-537 26zm56-8zm25-2zm204 0zm238 3zm15 7zm-373 4zm156 7zm-271 10zm55-6zm199 2zm84 11zm256-3zm-647 10zm37 4zm391 0zm144-3zm-588 13zm43 2zm136-8zm46 11zm87 0zm213-10zm-566 20zm1-5zm53 4zm18-3zm142 4zm149-3zm6 7zm14 2zm296 0zm-667 13zm40 11zm9-2zm41-6zm4 8zm82-3zm18-1zm195-3zm112 3zm-440 14zm51 2zm105 0zm17-4zm7 7zm99-7zm46-2zm140 6zm162-5zm-469 20zm141 5zm31-11zm43 8zm16-7zm75 8zm-419 4zm22-1zm189 11zm57-10zm18 6zm149 2zm145-7zm-275 23zm-229 10zm100-1zm101 5zm-186 8zm221 5zm160-9zm6 8zm-418 5zm330 6zm-98 33zm213 0zm-376 16zm184-6zm78 12zm44-5zm-127 26zm110-10zm-168 14zm63 3zm116-2zm49 3zm15 18z" stroke="#16217a" stroke-width="10.8"/>
<path d="M2958 266zm27 31zm-156 52zm26 13zm-158 23zm233 19zm35-8zm39 30zm-195 19zm-14 21zm10 8zm-24 13zm100-10zm-62 33zm142 8zm-106 41zm1-11zm53 30zm218 5zm36 11zm28 16zm-89 9zm5-3zm52 9zm207-4zm-362 10zm177 30zm49 38zm-53 28zm315-5zm-545 8zm87 11zm340-9zm-350 33zm55-5zm-54 13zm170 20zm212 4zm-134 7zm97 34zm201 0zm120-11zm-523 13zm399 17zm-24 30zm-183 36zm54-9zm178 6zm-314 16zm42-1zm327 7zm-599 20zm543 7zm-86 20zm113 14zm-76 8zm-115 28z" stroke="#13356d" stroke-width="10.8"/>
<path d="M2766 318zm174 4zm-128 23zm82 4zm-73 3zm39-2zm14 1zm47-1zm81 12zm-77 8zm69-3zm-130 23zm134-9zm-220 20zm2-3zm18 6zm10-1zm-37 8zm146-1zm94-2zm-200 12zm30 11zm65-10zm45 8zm60 4zm-207 3zm4 10zm81-9zm75 8zm-245 10zm13-5zm19 0zm140 9zm3-7zm129-4zm-319 15zm150 6zm9-2zm74-3zm-123 23zm24 2zm103 0zm62-11zm-301 16zm50-2zm71 9zm76-10zm1 5zm45 4zm66-5zm145-5zm-420 34zm36-3zm72-1zm-59 15zm26 8zm191-9zm-209 12zm18 5zm74 3zm175 26zm48 2zm74 4zm26 15zm-9 14zm-90 13zm121-9zm130 1zm-288 10zm182 13zm131-11zm2 7zm-214 11zm35-3zm46 2zm14 4zm56-1zm98-4zm7-3zm-240 26zm41-4zm9 0zm19 1zm131-4zm-360 9zm364-1zm-427 16zm140 5zm8-3zm91 3zm21 5zm1-4zm117-2zm29 7zm51-11zm-269 15zm15 10zm152-2zm66-7zm85-2zm27 2zm77-2zm-174 17zm55 8zm17-7zm-463 19zm67-9zm103 2zm142 7zm192-8zm0-1zm-426 12zm140 11zm133-7zm25 2zm44-2zm150-2zm3 4zm10 7zm28-6zm-587 11zm21 2zm6 0zm11-6zm133 6zm29 2zm29-6zm38-2zm95 11zm16-3zm163 3zm23-2zm-593 18zm55-4zm65-4zm33-4zm26 9zm21-4zm19 1zm64-6zm169 3zm-425 17zm157-2zm15 6zm62-8zm76 6zm29-6zm29 7zm45-4zm2 2zm0-7zm77 4zm29-1zm51 2zm26 0zm24 0zm-465 17zm68 0zm75-4zm17 2zm20-7zm33 3zm151 3zm18 6zm95-7zm-479 12zm20 3zm9 2zm100-6zm50 0zm65 9zm19-9zm10 9zm130 0zm18-3zm-535 8zm103 0zm4 6zm80-8zm83 6zm188 7zm103-12zm-468 24zm158 0zm0 2zm69-1zm25 0zm163-10zm-554 20zm258-7zm119 3zm337 2zm-695 9zm40 10zm70-7zm50 5zm16-4zm45 4zm158-1zm79-2zm19 4zm17-4zm21 5zm109-3zm-552 19zm41-9zm69 0zm31 1zm56 5zm76-3zm40-5zm161 2zm-484 17zm50 0zm22-1zm1-2zm8-2zm19 1zm88 5zm12-3zm206 1zm27 5zm39-11zm75 11zm-530 11zm56 1zm6 2zm70-2zm8-4zm15 0zm23 7zm5-5zm19 3zm74 0zm126-10zm36 11zm-352 16zm3-5zm105-8zm52 1zm3 6zm61-3zm-190 23zm2-8zm51 4zm7-3zm117-2zm11 5zm131-9zm29 7zm23-1zm-435 8zm38 1zm165 10zm38-6zm124-2zm83 0zm-168 17zm32-6zm8 7zm102 5zm17-7zm30 5zm-563 7zm120 10zm202-10zm19-1zm11 0zm131 3zm-306 10zm26 4zm110-4zm120 9zm-226 8zm83-1zm207-3zm-219 16zm27 7zm26-5zm140 8zm-43 9zm-45 10zm146 0zm-93 45z" stroke="#124f5b" stroke-width="10.8"/>
<path d="M3044 306zm-178 41zm59-4zm23 9zm15 9zm-147 11zm36-5zm37 3zm71 1zm47-1zm-202 17zm6-6zm44 11zm28 5zm55 1zm60 6zm21-4zm-301 18zm24-3zm23-2zm47 0zm40 0zm16 5zm68-8zm61 8zm-251 6zm56 7zm29-6zm60 0zm29-4zm-213 24zm72-2zm30 1zm-77 17zm50-9zm17 9zm13-4zm43-5zm14 5zm93 0zm48-7zm-231 13zm198 2zm8 10zm-266 8zm6-5zm21 8zm15-9zm11 5zm27-4zm31 0zm113 0zm13 10zm-274 11zm26-8zm57 8zm3 4zm14 10zm74-4zm131-3zm-192 24zm67-8zm2 9zm0-10zm2 3zm-101 34zm442 13zm-53 25zm201 7zm-257 20zm319-1zm-257 9zm-7 20zm198-5zm32-1zm-56 23zm16-1zm24 0zm72-2zm-239 7zm252 4zm-354 18zm193 1zm-220 13zm145-3zm21 4zm2 1zm122-8zm5 5zm62-6zm-270 13zm55 7zm70-6zm189 11zm-211 8zm45 6zm27-8zm35-3zm123 1zm-317 18zm72-2zm11 2zm2 4zm62-5zm10 4zm108 2zm70 1zm47 1zm-393 7zm88-6zm65 12zm82 1zm5-7zm34-3zm-303 24zm6-9zm58 5zm101-1zm284 4zm-420 5zm128 6zm10-8zm84 8zm14 1zm93 3zm88-12zm-512 16zm70-2zm17 8zm81-9zm34 5zm127 8zm29 0zm77-6zm12 4zm143 2zm-580 2zm26 7zm17-5zm11 3zm62 6zm158-9zm23 10zm88-2zm11-9zm81 5zm-344 16zm259 4zm23-8zm34-1zm7-3zm76 11zm-436 12zm98 1zm13-9zm103 7zm18-5zm4 8zm29-9zm19 7zm19 1zm55 1zm14-3zm20-3zm-395 21zm130 0zm95-6zm22-5zm67 10zm62-10zm99 3zm-374 22zm-285 12zm228-2zm19 3zm26-8zm38 9zm66 0zm168-10zm-398 20zm104 1zm76 2zm37-9zm96-1zm68 0zm74-1zm-444 16zm56 0zm51 1zm30 9zm3-10zm34 8zm84-11zm131 2zm-304 18zm36 7zm-115 3zm161 0zm27 0zm55-1zm8-1zm18 2zm16 10zm128-9zm7 6zm72-7zm18 8zm-329 8zm36 2zm72-2zm225 9zm-283 5zm122 1zm-388 14zm159-3zm59-1zm15 2zm16 8zm15-2zm1 2zm45-4zm17-5zm-129 24zm89 1zm48 0zm39-4zm70-5zm53 8zm-286 2zm145 11zm28-5zm20 3zm12-8zm30 4zm-279 17zm9-6zm153 0zm21 9zm-109 8zm107-5zm-13 22zm13 19z" stroke="#156e45" stroke-width="10.8"/>
<path d="M2838 318zm-58 10zm94 3zm40 3zm80 0zm-223 4zm51 1zm35 7zm108-7zm-101 15zm47 8zm46-6zm-188 21zm98-6zm5-1zm-134 11zm33 0zm69 10zm11-1zm45-9zm84 1zm-156 18zm8 2zm11-9zm37-1zm49 7zm-159 15zm13 2zm92-1zm18-4zm2 1zm18-4zm10 11zm33-11zm54 2zm-266 15zm0 4zm29-7zm19 9zm87-11zm1 13zm82-5zm9-7zm30 3zm18-3zm-246 14zm17 5zm20-2zm31 8zm125-12zm38 8zm43-7zm-351 23zm59-2zm9 3zm97-8zm30 0zm17 10zm11-9zm57 8zm24 0zm-227 8zm68-4zm11 2zm26 7zm5-3zm87-1zm25-3zm-176 10zm9 11zm31-10zm37 11zm17-6zm21 5zm-110 9zm37 7zm4-2zm26-9zm7 8zm51-4zm18-4zm-188 21zm15 3zm145-11zm-108 17zm71 5zm-145 6zm42-1zm-16 17zm132 10zm184 8zm41 32zm11 29zm348-2zm-274 8zm17 8zm87-4zm12-2zm18-5zm74 3zm-376 22zm48-1zm110 2zm67-3zm264-6zm-394 22zm40-10zm3 9zm11-11zm46 4zm39-4zm28 9zm36 0zm-340 14zm127 4zm68-9zm18 4zm14-2zm49 7zm109-6zm53-2zm125-3zm-505 18zm19 4zm28-6zm20-4zm20 11zm7-8zm11 3zm6-5zm36 8zm173-7zm-312 15zm12 10zm12-6zm154-5zm94-2zm35 7zm45 5zm46-6zm144-5zm-347 19zm11-3zm44 10zm219-8zm47 4zm-403 9zm120 3zm16-7zm123 13zm20-9zm31 2zm38 6zm73-11zm73 2zm-623 21zm7 2zm63-7zm96 2zm50-5zm8 11zm24-8zm6 1zm74-4zm36 10zm89-1zm-420 10zm111-7zm36 8zm189-7zm-317 17zm5-1zm4 4zm53 5zm208-3zm13-9zm32 2zm6 8zm25 0zm33-1zm94 4zm-558 3zm97 0zm173 7zm44-7zm96 11zm158-9zm-560 18zm46 0zm36-7zm63-1zm6 13zm101-11zm13 0zm46-2zm6 5zm16-1zm42-2zm13 6zm28 3zm25 1zm68-6zm57-2zm0 4zm-433 11zm4-1zm34 3zm52-3zm189-4zm57 10zm77-1zm54-3zm-572 18zm26-7zm130 6zm183 1zm7 1zm7-5zm98 7zm66-12zm11 11zm-367 5zm87 10zm94-6zm45-3zm59 0zm7 8zm5-7zm14-2zm-456 20zm83 3zm20-8zm24 8zm9-1zm58-9zm65-2zm2 7zm78-1zm4 0zm52-2zm96 0zm3 5zm8-6zm8 10zm19-8zm-497 19zm22 3zm16-9zm12 3zm52-2zm70-5zm144 7zm117 6zm30-11zm26 3zm10 6zm-531 14zm50-8zm7 10zm6-11zm52-2zm7 7zm97-7zm8 11zm24-5zm55-6zm9 2zm89 1zm46 3zm58 5zm65 1zm-577 6zm108 7zm17-6zm48-4zm10-1zm54 8zm8-1zm17-6zm0 8zm106-6zm122 5zm63-6zm69 10zm-550 3zm46 6zm7 4zm66 0zm14-10zm294 9zm-441 13zm24 2zm116 0zm54 0zm14-9zm39 7zm77 4zm21-2zm124-7zm10 0zm42-1zm-465 13zm67 0zm9 7zm88-8zm1 10zm16-5zm171 7zm35-10zm-344 22zm34-9zm24 0zm76 0zm62 4zm9-3zm87-2zm-312 14zm35 3zm83 5zm15-4zm22 2zm57-2zm13-3zm60 1zm82 3zm-330 15zm183 2zm69 3zm28-7zm38-4zm3 1zm-246 13zm84 7zm43 1zm17-6zm19 1zm131 6zm-288 8zm64 5zm31 4zm129-11zm26-2zm-228 25zm74-9zm112 6zm-253 16zm106-4zm32 5zm91-8zm-332 11zm152 0z" stroke="#1d922c" stroke-width="10.8"/>
<path d="M2905 278zm16-3zm3 53zm-114 17zm70-7zm1 0zm12 20zm27-2zm31 3zm-104 18zm31-2zm30-7zm162 5zm-287 14zm97-3zm19 6zm81 0zm-199 8zm9 7zm74-1zm45-8zm69-1zm10-3zm45 10zm46-9zm-333 18zm5-5zm25 4zm56 1zm12 3zm30-1zm9-7zm53 10zm14-3zm56-2zm10 6zm-257 5zm1 11zm31-4zm2 4zm44-1zm3-12zm74 11zm109-7zm-319 22zm53-3zm32-2zm47 0zm39-7zm20 2zm96 9zm6-4zm-290 14zm101 0zm26-1zm5 5zm15-5zm145 4zm14-9zm52-1zm-214 17zm6 0zm16 9zm80-6zm67-4zm-190 25zm3-12zm21 6zm13-1zm71-3zm65 8zm-309 5zm148 10zm107-11zm-124 23zm158-7zm-189 16zm105 6zm-160 10zm116-1zm37 1zm-121 13zm288 2zm-236 19zm535 27zm35 6zm-232 18zm51 5zm10-3zm86-4zm101-1zm-328 21zm90 1zm103-13zm2 5zm27 0zm81 5zm5-6zm34 8zm50-1zm-280 11zm8-1zm29 1zm125-5zm58 4zm-311 7zm69 12zm15-6zm12-1zm32 7zm58-6zm-138 20zm146-12zm20 3zm29-2zm1 2zm105 3zm204-1zm-499 20zm0-11zm1 12zm6-12zm29 7zm60 4zm28 2zm106-11zm13 1zm-207 23zm45-11zm16 1zm3 1zm32 7zm59-9zm44 9zm36-5zm112 5zm-388 15zm46-2zm23 1zm30-5zm132 3zm6-1zm45-5zm-326 21zm59-3zm65-5zm8 12zm5-9zm101 5zm183 4zm25-12zm-485 13zm20 7zm33 5zm11-7zm25 7zm49-3zm184 0zm103 3zm5-4zm-438 17zm55-4zm3 1zm4-1zm63 4zm30-10zm44 6zm31-2zm35 8zm34-7zm3 0zm84 0zm91 0zm1 2zm11-7zm31 9zm23-5zm-590 13zm80 6zm37-5zm7 8zm162-7zm25 2zm38-8zm45 11zm12-8zm10 7zm-411 4zm128 10zm81-6zm7-1zm4 6zm30-1zm87 0zm30 4zm59-12zm19 7zm50 1zm8-7zm190 0zm-653 23zm5-3zm101 1zm78-5zm7-2zm89 8zm35-8zm119 6zm72-1zm41 4zm44-10zm-482 22zm6-3zm37-4zm18 8zm5-4zm146 3zm53 1zm56-4zm6-4zm8 0zm-420 15zm15 3zm28 5zm16-6zm209 0zm88 8zm14-11zm75 6zm42 3zm45-2zm-611 9zm235 7zm34 1zm40-1zm51-2zm106-6zm6 4zm30 3zm24-1zm53 2zm15-7zm3-3zm31 5zm-570 12zm198-2zm13 3zm136 5zm72-4zm18-5zm4 8zm3 5zm-443 13zm37-6zm19 5zm12-1zm21-7zm26-3zm20 12zm25 1zm81-12zm59 0zm129 11zm59-7zm58 2zm-543 9zm100 0zm60 9zm263-4zm-402 16zm73 2zm58-6zm76-2zm9-2zm2 7zm71-1zm20 2zm1 2zm95-3zm31-6zm9 0zm89 8zm45-3zm-551 13zm116-3zm3 2zm9-4zm24 1zm175 2zm8 6zm9 1zm61-3zm28-3zm1 2zm6-5zm13 10zm45-8zm9-1zm11 1zm-554 10zm83 6zm14-1zm39 1zm61 3zm92 4zm15-11zm2 1zm121 0zm35-1zm51 10zm-378 9zm114-1zm76 4zm2-1zm121-4zm32 6zm92-9zm-507 16zm154 1zm59 3zm9-2zm70 6zm137-7zm-404 15zm36 0zm48 2zm23-6zm76 9zm28-3zm44 2zm-212 8zm18 0zm59 2zm103 0zm146-1zm17 7zm108-11zm-410 13zm77 5zm50 8zm16-9zm28-3zm16 12zm2-10zm14-3zm2 4zm65 0zm-210 10zm93 8zm-42 6zm2 1zm75 12zm171-11zm-235 14zm44 15zm195 9zm-244 7zm63 7zm121-4zm22 5zm-270 31zm32 4zm323 15zm-197 31z" stroke="#33ac27" stroke-width="10.8"/>
<path d="M2975 252zm-39 121zm-102 5zm16 19zm-20 12zm-51 16zm254-3zm-296 18zm61-2zm188 0zm-16 33zm-170 19zm72 2zm134 10zm-237 20zm68 8zm537 32zm-509 14zm593 60zm-419 13zm26 0zm62 17zm44-7zm101 0zm0 12zm24-3zm135 29zm-194 9zm281-6zm-342 23zm172-7zm53 2zm-51 10zm-50 15zm24 0zm267 8zm-424 16zm191 0zm204-5zm20-3zm-217 19zm44-3zm40 31zm70-8zm-190 17zm-301 16zm328 2zm103-4zm-324 15zm277 2zm18-3zm3 7zm-247 5zm277-1zm110 0zm-560 20zm237 2zm177 0zm18-6zm35 2zm145-3zm-596 16zm121 1zm152 9zm256-4zm7-2zm-13 15zm-294 9zm49 17zm119-4zm2 7zm-240 9zm59-2zm24 11zm109 11zm161-3zm-8 16zm-210 18zm118-1zm-32 6zm14-3zm102 46zm-17 72z" stroke="#60bd29" stroke-width="10.8"/>
<path d="M2845 374zm63 5zm96 91zm-172 24zm-59 70zm247 76zm260 3zm-67 24zm-70 20zm152 27zm25 26zm102-2zm-159 8zm280 10zm37 12zm-589 10zm327 1zm203 43zm-211 12zm-46 16zm-43 10zm252 6zm18 7zm97-2zm-420 11zm-1 25zm394-8zm-107 29zm41 2zm-268 25zm-170 12zm486 25zm-338 6zm222 4zm139 8zm-207 23zm4 40z" stroke="#9cc22f" stroke-width="10.8"/>
<path d="M2980 298zm-156 72zm-53 46zm-99 29zm92 20zm134 20zm49 13zm-86 13zm-59 39zm540 74zm-126 59zm-71 45zm-15 74zm20 22zm162 1zm-183 61zm125 29zm203 84zm52 56z" stroke="#c8b733" stroke-width="10.8"/>
<path d="M2797 422zm551 245zm-65 73zm-212 75zm389-1zm-298 27zm218 35zm119 3z" stroke="#d4932f" stroke-width="10.8"/>
<path d="M2795 423zm677 460zm-95 21zm14 70z" stroke="#c9582a" stroke-width="10.8"/>
</g>
<g transform="scale(.5)" filter="url(#soft2)">
<path d="M2747 99zm27 0zm80 0zm181 0zm25 0zm20 0zm-381 46zm149-2zm232 1zm-421 56zm299 10zm-38 34zm-140 19zm-475 57zm311 20zm-311 82zm0 81zm1529 182zm-1225 28zm165 26zm-52 12zm180 28zm1003 0zm-1422 55zm261-1zm16 0zm1074 9zm49 17zm-513 391zm178 0zm96 0zm10 0z" stroke="#1e1e5a" stroke-width="10.4"/>
</g>
<g filter="url(#soft)">
<path d="M1148.8 44L1148.8 182" stroke="#7ad67a" stroke-width="9.5" stroke-linecap="butt"/>
<path d="M1148.8 44L1148.8 182" stroke="#44b844" stroke-width="6.4" stroke-linecap="butt"/>
<path d="M1148.8 34.5L1141.8 45.5H1155.8Z" fill="#48bc48" stroke="#48bc48" stroke-width="2.5" stroke-linejoin="round"/>
<path d="M1148.8 181L1148.8 628" stroke="#4a9a4a" stroke-width="7.5" stroke-linecap="butt"/>
<path d="M1149.2 179L1149.2 628" stroke="#1e2a1e" stroke-width="5" stroke-linecap="butt"/>
<linearGradient id="rb" gradientUnits="userSpaceOnUse" x1="1148" y1="0" x2="1980" y2="0"><stop offset="0" stop-color="#6a1c1c"/><stop offset="0.55" stop-color="#5a1a1a"/><stop offset="0.9" stop-color="#8a2020"/><stop offset="1" stop-color="#e03030"/></linearGradient>
<path d="M1148 626.2H1958V623.5L1982 627.5L1958 631.5V628.8H1148Z" fill="url(#rb)" stroke="none"/>
<path d="M1112 627.5L1122 627.5" stroke="#4a4ac0" stroke-width="1.6"/>
<path d="M1127 627.5L1142 627.5" stroke="#3a3ab8" stroke-width="1.8"/>
<circle cx="1148" cy="627.5" r="3.6" fill="#151540" stroke="none"/>
</g>
</g>
<g id="pc" filter="url(#soft)">
<path d="M283.5 1199.8L325.6 1201.6" stroke="#5a5a5a" stroke-width="2"/>
<path d="M428 1204.3L760.7 1219.6" stroke="#505050" stroke-width="2"/>
<path d="M902.4 1225.7L926.8 1226.6" stroke="#5a5a5a" stroke-width="2"/>
<path d="M680 1190.6L951 1199.8" stroke="#222" stroke-width="2.4"/>
<g transform="scale(.5 0.68)">
<path d="M1164 1732zm19 1zm12-1zm6 2zm52 0zm12-2zm40 1zm24 1zm20 0zm25 0zm20 0zm8-1zm22-1zm50 3zm6-3zm-203 4zm18 2zm4-1zm39 3zm30-4zm94 0zm13 6zm2-6zm6 4zm5 0zm9-4zm16 7zm27-3z" stroke="#4f348f" stroke-width="13.2"/>
<path d="M1164 1731zm19 1zm12 0zm6 1zm52 0zm12-1zm39 0zm25 2zm20-1zm24 1zm20 0zm9-1zm22-1zm38 3zm11 0zm4 0zm3-3zm17 3zm-220 1zm18 1zm4 0zm38 3zm31-4zm107 5zm8-1zm4 0zm26 3zm27-3z" stroke="#7b59cc" stroke-width="7.26"/>
<path d="M925 1718zm22 2zm112 1zm2-2zm43 2zm10-4zm7 2zm1 1zm31 0zm9 1zm14-4zm8 0zm10 2zm21-2zm32 2zm37 0zm25 2zm42-1zm126 1zm28-2zm16 2zm-573 4zm6 5zm12-7zm30 7zm7-8zm4 9zm19 0zm4-7zm1 7zm35-4zm12 2zm0-7zm6 9zm43-1zm1 1zm13-1zm48-7zm33-1zm1 8zm7-7zm33 2zm22-1zm11 2zm4 4zm31-1zm28 0zm19-6zm4 4zm10 1zm18-6zm7 5zm2-5zm11 3zm38 0zm6 6zm21-3zm2-6zm23 6zm24 1z" stroke="#4c338d" stroke-width="13.2"/>
<path d="M925 1718zm21 2zm112 0zm2-2zm44 3zm9-4zm8 2zm32 1zm8 1zm14-4zm9 0zm9 1zm21-1zm7 4zm26-2zm36 0zm26 2zm41-2zm126 2zm20 0zm8-3zm17 2zm-573 5zm5 4zm13-6zm30 6zm6-7zm5 9zm19-1zm4-6zm1 7zm35-4zm11-5zm1 7zm6 2zm42-2zm2 1zm13-1zm48-7zm34 8zm6-7zm34 2zm21-1zm12 1zm3 5zm32-2zm28 1zm18-6zm5 4zm10 1zm17-6zm8 4zm2-4zm11 3zm38 0zm6 6zm20-4zm26 0zm24 2z" stroke="#7757ca" stroke-width="7.26"/>
<path d="M1779 1721z" stroke="#412c7a" stroke-width="13.2"/>
<path d="M1779 1720z" stroke="#54389d" stroke-width="7.26"/>
<path d="M867 1706zm46-2zm28-1zm2 2zm19 2zm48-2zm23 1zm20 0zm7-1zm29 2zm17 0zm3-2zm42 2zm5-3zm23 1zm7-2zm15 4zm12 0zm41-3zm55-1zm12 1zm4 1zm19 2zm9-4zm3 2zm23 1zm34-2zm11 2zm7 0zm65 1zm-585 8zm9-5zm12-1zm28 7zm3-1zm5 2zm13-9zm30 8zm8-1zm9-6zm2 2zm31 2zm8-4zm10 7zm11-3zm18 0zm79 0zm8-1zm17-2zm41 1zm9 3zm29-1zm8-2zm16 3zm9-2zm14-2zm32 5zm7 2zm4-3zm87-6zm9 7zm15-6zm5 0zm4 6zm5-3zm7 3zm23-4zm14 2z" stroke="#3f2b8b" stroke-width="13.2"/>
<path d="M867 1706zm46-3zm27 0zm3 2zm18 1zm49-2zm23 1zm19 1zm7-1zm30 2zm17 0zm3-2zm42 2zm4-4zm23 1zm8-1zm14 3zm12 1zm41-4zm56 0zm12 1zm4 0zm19 3zm9-4zm2 2zm24 0zm34-2zm11 3zm6-1zm38 2zm28 0zm-585 7zm8-4zm12-1zm29 7zm2-1zm6 1zm12-8zm31 8zm8-1zm8-7zm2 3zm32 1zm8-4zm9 7zm11-3zm19 0zm79 1zm8-1zm16-3zm42 2zm8 3zm29-1zm9-3zm16 4zm8-2zm14-2zm33 5zm6 1zm5-2zm96 0zm14-6zm6 0zm4 6zm4-2zm8 3zm23-5zm14 3z" stroke="#674dc7" stroke-width="7.26"/>
<path d="M1033 1690zm23 3zm72-2zm26 2zm11-3zm25 1zm63-1zm18 3zm28-2zm12-2zm5 2zm16 0zm29 0zm30 1zm45-2zm21-1zm10 2zm24 2zm20-2zm0-1zm5 0zm-637 7zm79-1zm4 3zm3-5zm12 0zm7 1zm13 6zm30-2zm39 2zm12-5zm36 4zm71-4zm4 2zm31-1zm26-1zm22 2zm13 0zm6 5zm95-7zm5-1zm10 3zm39-4zm13 7zm4-5zm13-2zm2 9zm4-6zm14-2zm11 4zm3-4zm5 2zm6-1zm6 4zm5 3z" stroke="#2c1f89" stroke-width="13.2"/>
<path d="M977 1693zm55-3zm23 2zm72-1zm26 1zm12-2zm24 1zm64-2zm18 3zm27-1zm13-2zm5 1zm15 1zm30 0zm29 1zm46-2zm21-1zm8 4zm2-3zm24 2zm19-3zm1 2zm5-2zm-637 7zm78 0zm5 3zm3-5zm19 1zm13 6zm30-3zm39 2zm12-4zm36 3zm71-3zm4 2zm31-1zm26-1zm22 2zm12-1zm7 5zm95-6zm4-1zm11 3zm39-4zm12 6zm4-5zm15 7zm4-5zm15-2zm11 4zm2-5zm5 3zm7-2zm6 5zm5 2z" stroke="#4f3ec4" stroke-width="7.26"/>
<path d="M960 1675zm10 0zm1 4zm19-4zm2 4zm17-1zm16-2zm40-1zm37 3zm16 1zm25 0zm93-1zm24 1zm24-1zm71-2zm52 3zm79 0zm8-1zm8-3zm13 4zm16-1zm-719 6zm121-3zm18 3zm7 2zm60 2zm8-5zm13 4zm4-5zm7 5zm1-5zm4 0zm8 7zm0-5zm18-2zm13-1zm7 0zm9 4zm22-2zm23 4zm6 1zm6-5zm9-1zm17 2zm6-4zm4 1zm2 5zm17 0zm19-6zm3 8zm27 0zm6-3zm0-5zm20 8zm7-6zm41 4zm1-6zm22 3zm26-1zm6 5zm11-2zm32-1zm8 2zm7 2zm13-4zm13 2zm34 2zm12 0z" stroke="#1e1788" stroke-width="13.2"/>
<path d="M959 1674zm10 1zm2 3zm18-4zm2 4zm17 0zm17-2zm39-2zm38 3zm16 1zm25 0zm93 0zm24 0zm17 1zm6-2zm63 2zm8-3zm52 3zm80-1zm8-1zm7-3zm14 4zm16-1zm-719 6zm121-3zm18 4zm6 2zm60 2zm9-5zm12 3zm4-4zm8 5zm1-6zm4 1zm8 6zm0-4zm18-2zm13-1zm7 0zm9 3zm22-1zm23 4zm6 0zm6-5zm9 0zm16 2zm7-4zm4 1zm2 5zm17-1zm19-5zm3 8zm27 0zm5-3zm20 3zm8-7zm40 5zm23-3zm27-2zm6 5zm10-2zm33 0zm7 1zm8 3zm13-4zm13 2zm34 2zm12-1z" stroke="#3d34c2" stroke-width="7.26"/>
<path d="M822 1681z" stroke="#1a1475" stroke-width="13.2"/>
<path d="M822 1680z" stroke="#211a97" stroke-width="7.26"/>
<path d="M947 1662zm24-1zm1 1zm56-1zm0 4zm56-4zm19 0zm19 2zm31 1zm19-1zm7 2zm13-1zm14 0zm34-1zm13-1zm31 3zm19-4zm10 1zm29-1zm22 4zm56 0zm24 0zm19-4zm5 4zm15-3zm5-1zm26 1zm-585 7zm20-3zm5 0zm24 6zm6 1zm6-4zm20 4zm9 0zm69-3zm9-2zm3 4zm10-4zm13 5zm26-6zm29 7zm24-5zm11-1zm13-2zm10 8zm13-7zm20 3zm2 4zm8-4zm3 1zm8 3zm4-3zm6 1zm13 1zm12-5zm28 1zm51-2zm30-1zm12 6zm12 0zm16-2zm1 2zm3-1zm11-5zm0 4zm45 1z" stroke="#101187" stroke-width="13.2"/>
<path d="M947 1661zm6 4zm18-4zm1 1zm55-2zm0 5zm56-5zm20 0zm19 2zm31 1zm18-1zm8 3zm13-1zm13 0zm21 1zm14-3zm13 0zm31 3zm19-4zm9 1zm30-1zm21 3zm56 1zm25-1zm19-4zm5 5zm15-3zm5-1zm0 4zm25-4zm-585 8zm21-3zm28 6zm7 0zm5-4zm21 4zm9 1zm69-3zm8-3zm4 5zm10-4zm12 5zm27-6zm28 6zm25-4zm10-2zm24 6zm12-6zm21 3zm1 3zm8-4zm4 2zm7 2zm5-2zm6 0zm12 1zm13-4zm28 1zm50-2zm31-1zm11 5zm13 1zm16-3zm1 3zm3-2zm10-1zm45 2z" stroke="#2b2cc2" stroke-width="7.26"/>
<path d="M850 1661z" stroke="#0e0e74" stroke-width="13.2"/>
<path d="M850 1660z" stroke="#121396" stroke-width="7.26"/>
<path d="M912 1648zm5 3zm26-4zm19 3zm13-2zm6 3zm11-1zm3 1zm52-1zm50 1zm8-1zm30-2zm57 3zm15-1zm1-3zm7 4zm4 0zm79 0zm10-2zm40 0zm94 1zm3-4zm44 5zm24-3zm-536 6zm20 0zm10-1zm18-1zm2 1zm4 3zm19-2zm4 0zm7 1zm30 5zm7-6zm11 5zm21 1zm6-3zm23-4zm14-1zm11 1zm10-1zm56 7zm1-5zm13 4zm7 0zm6 1zm32-2zm7-5zm9 2zm3 5zm21 0zm25-6zm27 0zm3 3zm14 0zm9 0zm6-2zm8 2zm22 4zm10-6zm1-2zm4 6zm2 0zm6-4zm7 6zm7-3zm29-2zm6 4zm15 0z" stroke="#0a1e80" stroke-width="13.2"/>
<path d="M911 1647zm6 4zm26-4zm19 3zm12-2zm7 3zm11-2zm2 2zm31 0zm21-2zm50 2zm9-1zm30-2zm56 2zm15-1zm1-3zm7 5zm4-1zm79 1zm10-2zm9 2zm32-3zm94 1zm3-3zm43 5zm24-4zm-536 7zm21 0zm9-1zm21 0zm4 3zm18-2zm5 0zm6 0zm30 6zm8-7zm10 6zm21 1zm7-3zm23-4zm13-1zm12 1zm10-1zm55 6zm1-4zm14 4zm7 0zm5 1zm33-3zm16-3zm2 5zm22 1zm25-6zm26 0zm4 2zm14 0zm9 0zm5-1zm9 1zm22 4zm10-5zm1-2zm4 6zm1 0zm7-4zm7 6zm6-4zm29-1zm7 4zm14 0z" stroke="#233db8" stroke-width="7.26"/>
<path d="M1588 1650zm-803 9z" stroke="#081a6e" stroke-width="13.2"/>
<path d="M1588 1650zm-804 9z" stroke="#0b218e" stroke-width="7.26"/>
<path d="M915 1634zm22 0zm7 1zm34 2zm21-4zm44 3zm4 0zm19-1zm10-2zm13 4zm30-1zm44-1zm38 1zm12-3zm41 2zm28 0zm49 2zm32-1zm7-3zm6 0zm45 4zm22 0zm29-4zm46 3zm-606 2zm5 1zm28-1zm20 7zm14-3zm28-1zm28 5zm20-5zm21-1zm16 2zm10-2zm6 5zm72-6zm23 2zm7 5zm34-5zm5-2zm5 7zm12-2zm9 2zm10 0zm54-6zm4-1zm17 7zm11-5zm12 2zm5 1zm14-6zm24 1zm27 1zm11 2zm0 2zm44-6zm8 3z" stroke="#073873" stroke-width="13.2"/>
<path d="M911 1637zm3-3zm23-1zm6 2zm35 2zm20-4zm45 2zm4 1zm18-2zm10-1zm14 3zm30 0zm44-1zm38 0zm11-2zm41 1zm29 0zm48 2zm32-1zm7-2zm6 0zm46 3zm22 1zm29-5zm46 3zm-602 4zm28-1zm21 7zm13-3zm29-1zm27 5zm20-5zm22-2zm15 3zm11-3zm6 5zm71-5zm24 2zm6 4zm34-5zm6-1zm4 6zm13-2zm9 3zm10-1zm54-6zm3-1zm17 8zm11-5zm13 1zm4 2zm15-6zm23 1zm27 0zm11 5zm1-2zm44-4zm8 3z" stroke="#205da9" stroke-width="7.26"/>
<path d="M920 1619zm26 0zm10 1zm67-1zm38 1zm14-1zm22 2zm13 2zm12-2zm1 2zm36-5zm10 1zm28 4zm40-4zm3 0zm25 0zm3 4zm41-4zm52 3zm75-1zm16-2zm17 0zm14-1zm14 3zm8 2zm11-2zm-659 10zm54 1zm16-2zm24-4zm12 3zm3-4zm36 1zm68 4zm15 2zm8-4zm26-1zm20 4zm0-4zm20-1zm19 0zm38 1zm32 2zm8-4zm21 5zm12 0zm57-4zm10 6zm29-8zm12 0zm11 4zm0-2zm8 6zm69-7zm38 6zm5 0z" stroke="#07524c" stroke-width="13.2"/>
<path d="M920 1618zm26 0zm10 2zm66-1zm38 1zm15-1zm22 1zm13 2zm12 0zm0-1zm37-3zm10 0zm27 4zm40-3zm3 0zm25 0zm4 4zm41-5zm52 4zm74-2zm17-2zm16 1zm14-1zm15 3zm8 2zm11-3zm-660 11zm54 1zm17-3zm24-4zm12 4zm2-4zm37 0zm68 5zm15 1zm7-3zm26-1zm21 3zm0-4zm20-1zm18 1zm39 0zm31 2zm9-4zm21 6zm12 0zm57-4zm10 5zm28-7zm12 0zm12 1zm0 2zm8 4zm69-7zm38 7zm5 0z" stroke="#207e77" stroke-width="7.26"/>
<path d="M880 1626z" stroke="#064641" stroke-width="13.2"/>
<path d="M880 1626z" stroke="#085b54" stroke-width="7.26"/>
<path d="M890 1605zm17 3zm63-2zm5 1zm65-3zm27 2zm1 3zm10-3zm65 3zm17-5zm46 5zm3-3zm14-2zm37 1zm5-1zm28 2zm20-1zm10-1zm3 4zm35-2zm56 0zm26 3zm9-2zm26 2zm9-2zm3-1zm-579 11zm28-6zm8 4zm9-4zm59-1zm9 4zm15 0zm20-4zm26 4zm15 0zm77-3zm3 5zm6-6zm20 2zm7 5zm43 0zm14 0zm15 1zm8 0zm36-5zm1-3zm6 1zm31-1zm14 7zm6-6zm6-1zm11 0zm5 2zm13 1zm29-1zm34-2zm5 3zm19 4z" stroke="#08662b" stroke-width="13.2"/>
<path d="M890 1605zm16 3zm63-2zm5 1zm40 2zm26-5zm19 5zm8-1zm0-3zm10 1zm66 3zm17-5zm25 5zm21 0zm3-3zm14-2zm37 0zm5 0zm27 2zm21-2zm10 0zm2 3zm36-2zm56 1zm25 2zm10-2zm25 3zm10-3zm3-1zm-580 11zm28-6zm9 5zm8-5zm68 3zm16 0zm46 1zm15 0zm76-4zm4 6zm25-5zm8 6zm43 0zm13 0zm16 0zm8 0zm35-4zm2-3zm5 0zm31 0zm14 7zm6-7zm7 0zm11 0zm5 1zm13 1zm28 0zm35-2zm4 3zm19 3z" stroke="#21994e" stroke-width="7.26"/>
<path d="M1528 1612z" stroke="#075825" stroke-width="13.2"/>
<path d="M1527 1611z" stroke="#097230" stroke-width="7.26"/>
<path d="M938 1591zm34 0zm5 4zm26-5zm19 2zm84-2zm7 5zm24-5zm37 4zm9-3zm4-1zm29 2zm8-2zm35 4zm8 0zm8-2zm12 3zm63-3zm36 0zm9 1zm35 1zm6 0zm26-2zm17-2zm1 3zm10 1zm-576 3zm23 7zm11-5zm5 3zm12 0zm20 0zm15-4zm9 1zm8 4zm60-4zm14 4zm3-7zm9 0zm4 7zm10-4zm5 3zm11-2zm1-3zm25 1zm12 5zm21-4zm5 4zm4 1zm30-3zm76-4zm2 6zm17-6zm4 3zm8-1zm17-3zm3 3zm10-3zm6 2zm27-2zm9 6zm2-5zm57 6zm14 0zm3-2z" stroke="#0b761c" stroke-width="13.2"/>
<path d="M937 1591zm34-1zm5 5zm27-6zm19 2zm83-1zm8 4zm24-4zm37 4zm8-4zm5 0zm29 1zm8-2zm34 5zm9-1zm8-1zm11 3zm63-3zm36-1zm9 1zm6 3zm29-2zm7 0zm26-1zm17-2zm1 3zm9 1zm-575 2zm22 7zm12-4zm5 3zm11 0zm20 0zm16-5zm8 1zm8 4zm61-3zm14 4zm3-7zm8 0zm5 6zm10-3zm5 3zm10-2zm2-4zm25 2zm12 5zm21-5zm4 5zm5 0zm30-3zm76-3zm1 5zm17-6zm4 4zm9-2zm17-2zm2 3zm11-3zm6 2zm35 4zm3-5zm56 5zm15 0zm3-1z" stroke="#25ac3a" stroke-width="7.26"/>
<path d="M607 1597z" stroke="#096518" stroke-width="13.2"/>
<path d="M606 1597z" stroke="#0c831f" stroke-width="7.26"/>
<path d="M918 1579zm8-2zm49 3zm47-3zm10 3zm18-3zm8-1zm45 0zm4 5zm38-2zm22-2zm5 3zm24-3zm54 1zm9 0zm8-2zm51 5zm11-6zm24 1zm10 0zm24 1zm15 2zm11 0zm22-2zm55 2zm-595 4zm11 1zm6-2zm6 4zm4 2zm25-1zm6-4zm3 4zm30-1zm18-4zm16 4zm16 3zm32-7zm22 2zm29 0zm53 3zm12-2zm67 3zm11-1zm20 2zm8-5zm67 1zm26-1zm4 2zm51 2zm10-5zm15 2zm22 1zm16-1z" stroke="#13820e" stroke-width="13.2"/>
<path d="M917 1579zm9-3zm49 4zm29 1zm18-4zm10 2zm17-3zm9 0zm44 0zm5 4zm38-2zm22-1zm4 2zm24-2zm55 1zm9 0zm8-2zm50 4zm11-5zm24 1zm10-1zm24 1zm16 2zm11 0zm22-1zm54 1zm-595 4zm11 2zm7-2zm6 4zm4 2zm25-1zm5-4zm4 4zm30-2zm34 1zm16 2zm32-6zm21 2zm29 0zm53 2zm13-1zm67 3zm11-1zm20 1zm8-5zm66 1zm27-1zm3 2zm51 2zm11-4zm15 1zm21 2zm17-2z" stroke="#2fbb29" stroke-width="7.26"/>
<path d="M950 1563zm7 3zm7-4zm19 4zm22-2zm12 2zm29-4zm20 3zm15 2zm16-4zm35 4zm65 0zm57-1zm47-4zm9-1zm7 3zm5-1zm32 2zm48 1zm24-2zm55-2zm6 3zm-587 9zm13-2zm4-3zm9-1zm2 4zm7-1zm9 2zm31 1zm26-4zm11 4zm4-4zm36-2zm9 7zm5-5zm28 5zm9-5zm4 5zm42-7zm1 2zm7-1zm19-1zm14 1zm51-1zm24 2zm31 0zm10 2zm11-2zm26 3zm7-1zm54-1zm53 4zm6-2zm28-2zm16-1z" stroke="#2c870e" stroke-width="13.2"/>
<path d="M926 1567zm24-5zm7 4zm6-5zm20 5zm21-2zm12 2zm30-5zm20 4zm14 2zm17-5zm35 4zm17 1zm48 0zm43 0zm13-1zm47-4zm10-1zm7 2zm5 0zm32 2zm47 1zm25-2zm54-2zm7 3zm-588 8zm14-1zm4-4zm10 3zm8-1zm9 3zm31 1zm25-5zm12 5zm3-4zm36-2zm10 7zm4-5zm29 5zm9-6zm3 6zm44-5zm6-2zm20 0zm14 1zm74 1zm31 0zm11 1zm11-1zm26 2zm7 0zm54-1zm53 4zm5-2zm28-2zm16-1z" stroke="#4fc229" stroke-width="7.26"/>
<path d="M917 1553zm2-6zm11 3zm7-1zm22-1zm27 5zm5-5zm13 4zm26-1zm7-3zm6 1zm15-1zm27 3zm34-3zm20 1zm30 4zm6-5zm51 1zm28 4zm44-4zm56 1zm11-2zm33-1zm18 6zm24-5zm2 5zm4-2zm11 0zm-516 5zm7-1zm6 4zm20 0zm13 2zm24-3zm15 1zm30-4zm22-1zm6 5zm15 1zm13-1zm17-5zm13 7zm55-6zm9 6zm2-6zm9 6zm14-3zm57-1zm8 0zm12-2zm15-1zm14 1zm9 6zm16-7zm36 4zm8-1zm8-2zm5 2zm11-1zm7 1zm30-1z" stroke="#458c0e" stroke-width="13.2"/>
<path d="M917 1553zm1-6zm12 3zm6-2zm23 0zm26 4zm5-5zm13 5zm26-1zm7-3zm7 0zm15 0zm27 3zm33-3zm10 5zm10-5zm31 5zm6-6zm51 1zm27 4zm45-3zm56 1zm10-2zm33-1zm19 6zm23-6zm2 6zm4-3zm12 0zm-516 5zm6-1zm7 4zm20 1zm13 2zm23-4zm16 1zm30-4zm22 0zm6 4zm14 2zm13-2zm31 3zm55-7zm9 6zm2-6zm9 7zm14-3zm57-1zm8 0zm12-3zm15 0zm13 0zm10 6zm15-6zm37 3zm8-1zm8-1zm4 2zm11-2zm7 1zm30 0z" stroke="#6ec829" stroke-width="7.26"/>
<path d="M498 1558zm388-1z" stroke="#3b780c" stroke-width="13.2"/>
<path d="M498 1558zm388-1z" stroke="#4c9c10" stroke-width="7.26"/>
<path d="M931 1533zm8 3zm37-2zm37 4zm21-3zm37 2zm11-2zm3 3zm15 0zm2-3zm7 4zm5 0zm32-3zm47-3zm25 4zm12-4zm9 5zm6 1zm46-3zm22-2zm36 5zm61-6zm33 6zm9-3zm11 2zm-553 6zm25-2zm27-2zm29 6zm12-2zm9 0zm14-1zm11 2zm30 0zm30 1zm37-1zm19-3zm1 4zm15-6zm3 3zm19-2zm6 5zm8-2zm12-3zm14 2zm14 3zm9 0zm22-2zm38-1zm46-2zm2 1zm7-2zm8 4zm1-2zm8 4zm11-6z" stroke="#5f9011" stroke-width="13.2"/>
<path d="M931 1533zm7 3zm24 3zm13-5zm37 4zm22-3zm36 2zm12-3zm2 4zm16 0zm2-3zm7 3zm5 0zm32-2zm46-3zm26 3zm11-3zm9 5zm7 1zm45-4zm22-2zm36 6zm61-6zm34 6zm8-3zm11 1zm-552 7zm25-3zm55 5zm13-3zm8 0zm15 0zm11 2zm29-1zm30 2zm37-1zm20-4zm1 4zm14-5zm4 3zm18-2zm7 4zm7-2zm13-3zm14 3zm14 3zm8-1zm23-1zm38-2zm46-2zm1 2zm7-2zm8 4zm2-3zm7 5zm12-6z" stroke="#8fcc2c" stroke-width="7.26"/>
<path d="M1052 1519zm21 4zm39-3zm27-1zm35 4zm9 2zm9-1zm1 1zm14 0zm31 0zm32 0zm10-1zm4-2zm8 1zm41 2zm21-6zm11 2zm16 1zm11 1zm19 2zm-442 4zm15-3zm3 0zm14 5zm12 0zm10-2zm34-1zm121-2zm30 2zm0 4zm7 0zm14-6zm9 5zm1 1zm16-1zm14 0zm12-2zm2-1zm10 0zm13 3zm20-4zm28 3zm1-3zm15-1zm7 7zm26-5zm23 3z" stroke="#7b9215" stroke-width="13.2"/>
<path d="M984 1525zm3 0zm65-7zm21 4zm39-2zm27-1zm34 4zm9 2zm10-1zm1 1zm14-1zm30 0zm33 1zm9-1zm5-2zm8 1zm41 2zm21-7zm11 2zm15 2zm11 0zm20 3zm-442 3zm31 3zm13 0zm10-3zm33-1zm122-1zm29 2zm1 4zm6 0zm15-6zm8 5zm2 1zm16-1zm14 0zm11-3zm3-1zm9 1zm13 3zm21-5zm27 3zm1-3zm16 0zm6 6zm26-4zm24 2z" stroke="#b2cf32" stroke-width="7.26"/>
<path d="M929 1505zm48 4zm20 1zm86-1zm12-2zm15 3zm3 1zm4-3zm6 2zm5 0zm8-2zm6-1zm40 2zm41-4zm5 1zm63 3zm9-1zm9-1zm29 1zm32 2zm-423 5zm42 2zm18-3zm15-2zm9 3zm8 1zm58 2zm10-1zm28-3zm13 0zm5 1zm10 0zm18-2zm37-1zm61 2zm12 0zm21 3zm42-3zm45 4zm2-5z" stroke="#939219" stroke-width="13.2"/>
<path d="M929 1504zm47 5zm21 1zm85-1zm13-3zm15 4zm2 0zm5-3zm6 2zm4 1zm9-3zm6 0zm40 1zm40-3zm5 1zm63 2zm9-1zm10 0zm29 1zm31 2zm-422 5zm42 2zm17-4zm16-1zm8 3zm8 1zm59 2zm10-1zm28-3zm12 0zm6 1zm10 0zm17-2zm38-1zm60 2zm13 0zm20 3zm43-4zm45 5zm2-6z" stroke="#d1d037" stroke-width="7.26"/>
<path d="M1068 1496zm10-2zm17 0zm44 3zm34-1zm31-1zm36-4zm24 5zm9 0zm63-1zm-379 7zm68-4zm3 6zm9 0zm4 0zm18-3zm5-1zm15 1zm4-3zm44 3zm102 1zm15-1zm34-3zm38 4zm49 1z" stroke="#97891b" stroke-width="13.2"/>
<path d="M1068 1496zm10-3zm17 0zm43 3zm35 0zm31-1zm36-5zm24 6zm9-1zm5 2zm58-3zm-379 8zm67-4zm3 6zm9 0zm4 0zm19-3zm5-1zm15 1zm4-3zm44 3zm102 0zm15 0zm71 0zm50 1z" stroke="#d6c439" stroke-width="7.26"/>
<path d="M1060 1483zm185-4zm25 4zm40-5zm-329 11zm176-2zm89 0zm67 0zm13 2z" stroke="#9a801c" stroke-width="13.2"/>
<path d="M1060 1483zm185-4zm25 3zm40-5zm-330 12zm176-3zm90 1zm67-1zm13 2z" stroke="#d9b83b" stroke-width="7.26"/>
<path d="M985 1481zm52-3zm368-1z" stroke="#846e18" stroke-width="13.2"/>
<path d="M984 1480zm52-3zm369-1z" stroke="#ab8e20" stroke-width="7.26"/>
<path d="M1063 1466zm26 3zm169-4zm23 2zm18 1zm-253 5zm102-2zm142 0zm56 1z" stroke="#97751e" stroke-width="13.2"/>
<path d="M1063 1465zm26 3zm168-4zm24 2zm18 1zm-254 6zm103-2zm141-1zm56 1z" stroke="#d6ab3e" stroke-width="7.26"/>
<path d="M1376 1465zm-427 7z" stroke="#82651a" stroke-width="13.2"/>
<path d="M1375 1464zm-426 7z" stroke="#a88222" stroke-width="7.26"/>
<path d="M1260 1451zm29 2zm-185 7zm190-2z" stroke="#966b20" stroke-width="13.2"/>
<path d="M1260 1451zm29 2zm-186 7zm191-3z" stroke="#d59e3f" stroke-width="7.26"/>
<path d="M1003 1450zm132 2z" stroke="#815c1b" stroke-width="13.2"/>
<path d="M1002 1449zm133 3z" stroke="#a77724" stroke-width="7.26"/>
<path d="M931 1427z" stroke="#7c501c" stroke-width="13.2"/>
<path d="M931 1426z" stroke="#a06824" stroke-width="7.26"/>
<path d="M1024 1406zm77 1zm-141 10zm88 2z" stroke="#794b1c" stroke-width="13.2"/>
<path d="M1024 1405zm76 2zm-140 9zm87 2z" stroke="#9c6024" stroke-width="7.26"/>
<path d="M1173 1393zm113 1z" stroke="#75431b" stroke-width="13.2"/>
<path d="M1172 1393zm114 0z" stroke="#975724" stroke-width="7.26"/>
<path d="M1111 1384z" stroke="#6e391a" stroke-width="13.2"/>
<path d="M1110 1384z" stroke="#8e4921" stroke-width="7.26"/>
<path d="M1017 1733zm41-1zm8 1zm80 2zm1-2zm4-1zm51 3zm16-1zm19 0zm4-2zm42 2zm8 1zm116-3zm3 1zm10 2zm31-1zm57 1zm-289 2zm33 0zm3 0zm69 2zm2-2zm30 3zm25-3zm17 3zm4 0zm9 2zm14-1zm3-4zm32 4zm3-1zm7 1zm6-2zm5 3zm49 0z" stroke="#4f348f" stroke-width="13.2"/>
<path d="M1017 1732zm40-1zm9 1zm79 3zm2-3zm3-1zm51 3zm17 0zm18-1zm5-2zm42 2zm8 2zm116-3zm3 0zm10 3zm30-1zm57 0zm-288 2zm33 1zm2-1zm70 3zm1-3zm31 4zm25-3zm17 3zm3 0zm9 1zm14-1zm4-3zm31 4zm3-2zm8 1zm6-2zm5 3zm49 0z" stroke="#7b59cc" stroke-width="7.26"/>
<path d="M912 1721zm29 0zm36-3zm36 2zm28 1zm16-3zm38 1zm11 2zm101-3zm12 0zm10 1zm2 0zm26 1zm14-2zm22 0zm32 0zm14 0zm26 3zm32-3zm37 2zm7 0zm9-2zm8 0zm1 1zm6 2zm29-1zm5 0zm-591 10zm12-4zm12 0zm3 4zm16-3zm26 1zm9-5zm1 1zm8 1zm36-2zm9 4zm12-3zm16 2zm19-3zm15 5zm6-1zm9 2zm17-3zm3-3zm31 0zm9 8zm1-9zm8 0zm8 2zm11-1zm47 8zm1-7zm24 1zm21-2zm14 0zm5 4zm4 0zm7-4zm9 5zm6-3zm11 4zm10-1zm19-6zm8 3zm7 0zm1 4zm35 1zm15-7zm4 2zm12 2zm1 2zm20-1zm24-6z" stroke="#4c338d" stroke-width="13.2"/>
<path d="M912 1720zm28 1zm37-3zm36 2zm28 1zm15-4zm38 2zm12 1zm80 1zm21-3zm12 0zm9 1zm2-1zm26 1zm15-2zm22 0zm31 0zm15 1zm26 3zm32-4zm37 3zm6 0zm10-2zm8 0zm0 1zm6 2zm29-1zm5 0zm12 1zm-602 9zm11-5zm12 1zm4 3zm15-2zm26 1zm9-6zm2 2zm8 1zm36-3zm9 5zm12-4zm16 3zm19-3zm14 4zm7 0zm8 2zm18-4zm2-2zm31-1zm9 9zm2-9zm15 1zm11-1zm48 9zm0-7zm25 1zm21-2zm14-1zm5 4zm3 0zm8-4zm9 5zm6-2zm10 4zm10-1zm20-6zm7 3zm7 0zm1 4zm36 1zm14-8zm4 2zm13 2zm0 2zm20 0z" stroke="#7757ca" stroke-width="7.26"/>
<path d="M794 1704zm44 1zm94 1zm23 0zm41-1zm10 2zm38-2zm31-1zm22 1zm26-1zm5 2zm15 1zm19-1zm98 1zm45 0zm25 0zm36-4zm73 3zm27 1zm9-2zm6-1zm3 2zm8-1zm5 1zm31-1zm-720 4zm23 3zm82-2zm5 6zm31 1zm19-8zm8 3zm6 0zm10 1zm4 3zm12-1zm28-1zm4 1zm32-2zm19-5zm3 6zm9-6zm28 9zm5-8zm27 4zm3 4zm19-5zm45 2zm1-5zm7 2zm1 6zm2-9zm3 3zm29 1zm16-4zm16 3zm7-1zm20 6zm7 1zm19-3zm2-3zm31 0zm3 1zm13 1zm7-2zm2 0zm2 5zm15-2zm2-6zm15 2zm4 2zm10 2zm1 1zm2 0zm7 2zm13-9zm9 8zm2-8zm35 8z" stroke="#3f2b8b" stroke-width="13.2"/>
<path d="M794 1704zm43 1zm95 1zm23 0zm40-1zm11 2zm38-3zm31-1zm22 2zm26-2zm4 3zm16 1zm18-2zm80 2zm19 0zm45 0zm25-1zm35-3zm70 4zm4-2zm27 1zm8-2zm6-1zm3 3zm8-2zm5 2zm2 1zm29-2zm-719 4zm22 2zm82-2zm6 7zm31 1zm18-8zm8 3zm6-1zm11 2zm4 3zm11-1zm29-2zm4 2zm31-3zm20-4zm2 5zm10-5zm28 8zm4-7zm27 3zm3 4zm20-4zm45 2zm1-6zm6 3zm1 5zm5-5zm30 0zm16-3zm16 2zm7 0zm19 6zm8 0zm19-3zm2-2zm31 0zm3 1zm13 0zm7-2zm2 0zm1 5zm15-2zm17-3zm5 1zm10 2zm0 2zm3 0zm6 2zm14-9zm8 7zm38 1z" stroke="#674dc7" stroke-width="7.26"/>
<path d="M896 1690zm29 3zm47-4zm15 2zm83 2zm18 0zm23-1zm14 0zm69-1zm20 2zm34 0zm37-2zm30 1zm5 0zm37 1zm46-1zm12 1zm13-3zm19 0zm23 2zm1-1zm36-1zm-713 9zm34-1zm37-1zm42-1zm11 4zm21-6zm8 0zm5 7zm18-4zm4 1zm17 3zm4-5zm8 2zm1-3zm18 5zm8-5zm10 7zm11 0zm8-1zm17-2zm18-3zm4 1zm16-2zm14-1zm10 4zm30 3zm31-4zm2 5zm15-7zm24 6zm2-7zm23 5zm29-4zm43 6zm2-5zm4 5zm0-5zm10-1zm8 5zm38 1zm4-2zm18 2zm6-6zm11 3zm15 4zm3-6zm25-2zm1 6zm0-4zm4 6zm4-2zm5-6z" stroke="#2c1f89" stroke-width="13.2"/>
<path d="M896 1690zm29 3zm22 0zm24-4zm16 1zm83 2zm17 0zm24 0zm14 0zm2 1zm67-3zm20 3zm27 0zm6-1zm38-1zm30 0zm5 0zm36 1zm46 0zm13 0zm13-3zm19 1zm22 1zm2 0zm35-1zm-713 8zm35-1zm37-1zm42 0zm10 3zm22-5zm13 7zm18-4zm4 0zm17 4zm3-5zm9-1zm0 2zm18 3zm9-6zm10 8zm10 0zm8-1zm17-2zm18-3zm5 0zm15-2zm24 3zm31 4zm31-4zm2 5zm14-8zm24 7zm26-3zm29-3zm43 5zm2-4zm3 0zm0 5zm10-6zm8 5zm39 1zm3-3zm19 3zm6-6zm10 2zm16 5zm3-6zm24-2zm2 6zm0-4zm3 5zm5-1zm5-6z" stroke="#4f3ec4" stroke-width="7.26"/>
<path d="M1570 1691zm37 10z" stroke="#261b76" stroke-width="13.2"/>
<path d="M1570 1691zm36 10z" stroke="#312398" stroke-width="7.26"/>
<path d="M905 1677zm9 0zm10-2zm71 2zm47-2zm36 1zm16-1zm76 3zm3-2zm24-1zm32 3zm20-1zm21 1zm23 0zm16-1zm27-2zm6 2zm33 1zm14-2zm25 0zm9 0zm5 0zm6 3zm7 0zm1-3zm10 0zm15-1zm10 1zm7 0zm32 3zm-624 1zm10 3zm20 0zm8 1zm5-4zm6 4zm19-2zm4 6zm8-8zm9 5zm2-2zm21-1zm3 7zm63-4zm9 3zm4-5zm9 5zm22-6zm23 5zm1 1zm61-3zm19-5zm19 6zm16 0zm13 2zm40-7zm15 5zm10 3zm5-4zm4-5zm13 7zm2-4zm8 1zm9 4zm4-8zm4 9zm1-5zm6 2zm38-4zm8 0zm5 6zm16-3zm7-1zm1 2zm18 0zm14-2zm9-2zm8 0zm14 6zm9-2z" stroke="#1e1788" stroke-width="13.2"/>
<path d="M891 1679zm14-2zm8 0zm10-2zm72 1zm46-1zm37 1zm15-2zm77 3zm3-2zm23 0zm32 2zm20 0zm22 1zm23 0zm16-2zm26-2zm5 5zm2-2zm33 0zm1 2zm13-4zm25 0zm8 1zm5-1zm7 3zm6 0zm2-3zm10 1zm14-1zm11 0zm6 1zm33 3zm-614 3zm20 1zm7 1zm5-4zm7 4zm18-3zm5 6zm8-7zm9 4zm1-1zm21-2zm4 7zm62-3zm10 3zm3-5zm10 5zm22-6zm23 4zm1 1zm60-2zm20-5zm19 6zm15 0zm14 2zm40-8zm14 6zm11 2zm4-3zm17 1zm2-4zm8 1zm10 4zm8 1zm0-5zm6 3zm39-5zm7 0zm6 6zm15-3zm7 0zm1 2zm19 0zm13-3zm9-2zm9 1zm14 5zm8-1z" stroke="#3d34c2" stroke-width="7.26"/>
<path d="M797 1680zm970 4z" stroke="#1a1475" stroke-width="13.2"/>
<path d="M796 1679zm971 4z" stroke="#211a97" stroke-width="7.26"/>
<path d="M912 1663zm0-2zm6 3zm21-3zm13 0zm22 4zm18-3zm127 3zm14-2zm24 1zm58-2zm7-1zm5 0zm146 0zm12 4zm42-1zm20 1zm24-4zm51 2zm9-1zm-746 9zm97 2zm28 1zm13-5zm17 2zm7 2zm6-1zm7-5zm40-1zm2 6zm13-5zm41 7zm5-7zm14 6zm2-6zm42 6zm21-3zm27 4zm18-3zm32 1zm4-4zm9 6zm12-6zm9 3zm2-2zm3 2zm11 3zm33-5zm14-1zm16 1zm28 4zm7-3zm11-1zm8 3zm11 0zm6-6zm10 4zm12 0zm7 1zm14-3zm19-1zm30 1zm28 0zm2 2z" stroke="#101187" stroke-width="13.2"/>
<path d="M911 1662zm1-1zm6 2zm21-3zm12 0zm23 5zm18-4zm127 3zm13-1zm25 0zm57-2zm7 0zm6-1zm145 0zm13 5zm15 0zm27-1zm20 0zm24-4zm51 3zm9-1zm-746 9zm97 2zm28 1zm13-6zm17 3zm6 1zm7-1zm7-4zm40-1zm2 6zm13-6zm40 8zm5-7zm14 5zm3-6zm41 7zm21-4zm27 4zm19-2zm31 1zm5-5zm9 7zm12-6zm8 3zm3-2zm2 2zm11 2zm33-5zm14 0zm17 0zm28 4zm6-3zm11-1zm9 4zm10-1zm17-2zm11 1zm8 0zm13-3zm20 0zm29 1zm28-1zm3 2z" stroke="#2b2cc2" stroke-width="7.26"/>
<path d="M1598 1670zm51-4z" stroke="#0e0e74" stroke-width="13.2"/>
<path d="M1649 1665zm-52 5z" stroke="#121396" stroke-width="7.26"/>
<path d="M926 1648zm26-1zm50 2zm7 2zm34-1zm28-2zm8-1zm68 4zm4-2zm14-2zm80 4zm25 0zm22-2zm70 1zm23 1zm2-4zm21 2zm9 0zm44-1zm45 1zm-719 8zm162-3zm7 3zm5-2zm21 4zm9-6zm3 6zm65 1zm14-2zm8 0zm9-5zm29-1zm0 6zm13-4zm24 6zm1-3zm14 2zm4 1zm16 0zm16-2zm25-5zm29 2zm14 1zm8-3zm15 4zm16 0zm26 3zm4-5zm36 3zm9-3zm17-2zm24-1zm22 4zm1-2zm27 0zm24 1zm2 1zm9-4zm5 4z" stroke="#0a1e80" stroke-width="13.2"/>
<path d="M926 1648zm26-1zm50 1zm7 3zm34-2zm27-2zm9 0zm68 4zm4-3zm13-1zm81 4zm24 0zm22-3zm70 1zm24 2zm1-4zm22 2zm9-1zm44-1zm44 1zm-718 9zm162-3zm7 2zm5-1zm21 4zm9-7zm3 7zm65 1zm14-2zm7 0zm9-5zm30 4zm0-5zm13 1zm23 6zm2-3zm14 3zm4 0zm15 0zm17-1zm25-5zm28 2zm15 0zm7-2zm15 4zm17-1zm25 4zm4-5zm37 3zm9-3zm16-2zm25-1zm22 1zm0 2zm27-2zm1 1zm24 0zm2 2zm8-4zm6 3z" stroke="#233db8" stroke-width="7.26"/>
<path d="M805 1655z" stroke="#081a6e" stroke-width="13.2"/>
<path d="M805 1655z" stroke="#0b218e" stroke-width="7.26"/>
<path d="M823 1636zm100-4zm33 3zm29-2zm27 1zm5-1zm9 1zm32-1zm42 0zm24 0zm5 1zm12 3zm6-2zm6-1zm18-1zm46 1zm6-1zm13 1zm37 3zm43 0zm4 0zm17-4zm17 3zm11-2zm8 3zm25 0zm38-2zm3-2zm43 4zm9-2zm-651 11zm7-5zm30 3zm49-3zm4-3zm3 6zm23-2zm3 1zm12 1zm62 1zm7-3zm18-3zm8 7zm16-5zm14-1zm12-2zm9 4zm5 3zm19 1zm47-8zm2 7zm28-6zm9 2zm7 4zm3-1zm20 0zm14-4zm2 6zm36-4zm19-1zm28 1zm25-3zm18 4zm7 3zm8-3zm14-2zm3 1zm18 1zm8-1zm7 0zm4 3zm19 1zm2-7zm0 6zm20-4zm12 1zm7-3z" stroke="#073873" stroke-width="13.2"/>
<path d="M823 1636zm100-4zm33 2zm29-2zm26 1zm5-1zm10 1zm31-1zm43 0zm24 1zm4 1zm13 3zm6-2zm5-1zm18-2zm46 2zm7-1zm13 0zm36 3zm44 1zm4 0zm17-5zm16 3zm11-1zm8 3zm26 0zm38-2zm3-2zm42 4zm10-2zm-651 11zm6-5zm31 3zm49-3zm4-3zm3 5zm22-2zm3 2zm13 0zm62 2zm6-3zm19-4zm7 7zm17-5zm14 0zm12-2zm9 3zm5 4zm18 1zm48-8zm2 6zm28-5zm8 1zm8 4zm3-1zm20 0zm14-3zm2 5zm36-4zm18 0zm29 1zm25-4zm17 5zm8 2zm8-3zm14-1zm3 0zm17 2zm9-1zm7 0zm4 3zm19 0zm1-6zm0 6zm20-5zm13 2zm7-4z" stroke="#205da9" stroke-width="7.26"/>
<path d="M846 1619zm66 0zm50 3zm14-4zm26 4zm10-4zm16 2zm13 0zm28-2zm8 3zm12 0zm56 0zm10 1zm34-1zm15-1zm84 1zm6 0zm27 2zm17-1zm48-1zm7-3zm59 5zm10-3zm10 3zm29-3zm-641 4zm44 6zm1-1zm10-1zm16-3zm3 7zm14-5zm30 3zm8-2zm3 3zm21-5zm8 2zm12-1zm3-2zm4 3zm27-2zm29-2zm5 2zm56 1zm32 3zm18-6zm7 1zm20 5zm29-6zm2 6zm4 2zm11-7zm21 1zm16 3zm66 3zm10 0zm26-6zm8 2zm1 1zm30 0zm26 2z" stroke="#07524c" stroke-width="13.2"/>
<path d="M846 1619zm14 4zm52-4zm49 3zm15-4zm25 3zm11-3zm15 1zm14 1zm28-2zm8 3zm12-1zm56 1zm10 0zm33 0zm15 2zm0-4zm84 1zm6 1zm28 2zm17-1zm48-2zm6-2zm59 5zm11-4zm9 4zm30-4zm-597 10zm1-1zm10-1zm15-2zm4 6zm14-4zm30 3zm7-3zm3 3zm21-4zm8 2zm13-2zm2-1zm5 3zm27-2zm29-2zm4 2zm57 1zm32 2zm24-5zm21 5zm28-5zm2 6zm5 1zm11-7zm21 1zm15 4zm67 2zm9 0zm27-5zm8 1zm1 2zm29 0zm26 1z" stroke="#207e77" stroke-width="7.26"/>
<path d="M921 1607zm7 0zm82-2zm12 2zm10 2zm18-4zm38 1zm6 3zm24 0zm32-3zm49 2zm38 0zm6 1zm9-4zm8 2zm5-1zm73-1zm14 0zm36 0zm72 0zm49 3zm-586 6zm7-3zm30 3zm8 3zm5 1zm6-6zm19 4zm36-2zm21 4zm8-5zm18 1zm2 0zm44 1zm13 0zm22-3zm3-1zm21 6zm1-5zm9 1zm24-3zm4 6zm4 2zm7-5zm10-2zm2 7zm32-1zm67 1zm25-6zm5 2zm5-2zm32 4zm5 1zm9-2zm9-3zm7-2zm25 5z" stroke="#08662b" stroke-width="13.2"/>
<path d="M921 1607zm6 0zm83-2zm12 2zm10 2zm18-4zm38 1zm5 3zm25-1zm32-2zm49 2zm38 0zm6 1zm8-4zm8 2zm5-2zm74-1zm14 1zm35 0zm73 0zm49 3zm-586 5zm6-2zm30 2zm9 4zm5 0zm6-5zm19 4zm36-2zm20 3zm8-4zm18 0zm3 0zm43 1zm14 0zm21-3zm4 0zm20 5zm2-4zm8 0zm25-2zm3 6zm5 1zm7-5zm9-1zm3 6zm32 0zm67 0zm25-6zm5 3zm5-3zm32 5zm4 0zm9-2zm10-2zm7-2zm25 4z" stroke="#21994e" stroke-width="7.26"/>
<path d="M736 1615z" stroke="#075825" stroke-width="13.2"/>
<path d="M736 1614z" stroke="#097230" stroke-width="7.26"/>
<path d="M903 1591zm1 3zm21-1zm27 2zm29-4zm3 4zm44-3zm6 3zm23-3zm8 3zm39-4zm21 0zm5-1zm12 2zm14 0zm36 3zm14-3zm3 2zm18 1zm92-5zm8 1zm2 1zm38 2zm38 0zm38-1zm4 2zm26 0zm25 0zm17-1zm-613 8zm18-1zm11-3zm8-1zm21 3zm6-4zm6 3zm31-3zm16 1zm6 3zm12 4zm22-2zm51-2zm34-2zm33 0zm4 5zm30-3zm29 3zm9-2zm0-4zm25 5zm2-1zm3-5zm21 3zm92 1zm3 4zm28-3zm4 0zm2 2zm18-4zm12 1zm22 0zm14 3zm7 0z" stroke="#0b761c" stroke-width="13.2"/>
<path d="M903 1591zm1 2zm21 0zm27 1zm14 1zm15-4zm2 3zm20 1zm24-4zm7 3zm23-3zm8 3zm39-4zm21 0zm5-1zm12 3zm13 0zm37 3zm14-3zm2 2zm19 1zm91-5zm8 0zm3 2zm38 2zm38 0zm38-2zm3 2zm27 1zm25 0zm16-2zm-612 8zm18 0zm10-4zm8 0zm21 3zm12-1zm47-2zm7 2zm12 4zm22-1zm51-3zm34-1zm32-1zm5 6zm29-3zm30 3zm8-7zm1 5zm25 1zm1-1zm4-5zm20 2zm92 2zm3 3zm28-3zm5 0zm2 3zm18-4zm11 1zm22 0zm15 2zm7 0z" stroke="#25ac3a" stroke-width="7.26"/>
<path d="M692 1593z" stroke="#096518" stroke-width="13.2"/>
<path d="M692 1592z" stroke="#0c831f" stroke-width="7.26"/>
<path d="M971 1580zm16-3zm12 1zm7 1zm23-2zm15-1zm26 1zm7-1zm5 5zm6-1zm75 0zm25-4zm10 0zm24 3zm11 2zm40-3zm16 0zm36 2zm9-4zm37 2zm4-1zm63 1zm27 3zm20-1zm-573 7zm16 1zm6-6zm5 0zm23 5zm26 1zm6-3zm4 4zm31-5zm11 4zm3-6zm6 7zm35-1zm8-3zm9 3zm49-3zm57-1zm7-1zm10 0zm24 0zm30-1zm21 0zm7 7zm3-7zm21 1zm4 2zm12-2zm5-1zm23 4zm23 0zm22 1zm5-4zm9 0zm59 1z" stroke="#13820e" stroke-width="13.2"/>
<path d="M971 1580zm16-3zm11 1zm7 1zm23-3zm14 5zm1-5zm27 0zm6 0zm6 5zm5-1zm75 0zm25-5zm11 0zm23 4zm12 2zm40-4zm15 1zm10 3zm11 0zm16-1zm9-5zm36 2zm4 0zm63 1zm27 3zm21-1zm-574 7zm16 0zm7-5zm5 0zm23 5zm26 0zm6-2zm3 4zm31-6zm11 5zm10 0zm35 0zm8-3zm8 2zm49-3zm58 0zm6-1zm10-1zm25 0zm30 0zm27 7zm25-6zm4 1zm11-2zm6 0zm22 3zm23 0zm23 2zm4-5zm10 1zm59 1z" stroke="#2fbb29" stroke-width="7.26"/>
<path d="M904 1565zm6 2zm9-4zm49-1zm9 2zm20 1zm41 0zm16-3zm18 2zm26 0zm36-2zm11 3zm20 0zm28-2zm21 3zm24-1zm24-2zm15 0zm16-1zm30 5zm12-3zm12-1zm39 1zm2-2zm12 5zm19 0zm8-5zm8 4zm11-3zm24 1zm-540 5zm18 2zm7 3zm9 0zm6 0zm10 1zm13-5zm48 1zm18 3zm12-2zm9-4zm25 0zm12 3zm8 1zm5-2zm10 5zm27-2zm8-1zm28-1zm11 1zm7 1zm9 0zm5-3zm1 2zm35-4zm6 2zm23 2zm27-2zm9-2zm25 3zm34 2zm14 0zm23-2zm12 1zm4 2zm3-5zm19 0zm5 3zm13 2z" stroke="#2c870e" stroke-width="13.2"/>
<path d="M903 1564zm7 3zm9-4zm48-2zm10 3zm19 0zm42 1zm16-4zm18 2zm26 0zm35-1zm12 3zm20-1zm27-1zm22 3zm24-2zm23-2zm10 5zm5-5zm16 0zm31 5zm12-4zm11 0zm39 1zm2-2zm13 5zm19-1zm8-5zm8 5zm11-4zm23 1zm-540 5zm18 3zm8 2zm8 0zm7 1zm10 0zm13-5zm48 2zm18 2zm11-2zm9-3zm26 0zm12 3zm7 1zm6-2zm10 5zm27-3zm7 0zm28-2zm12 1zm7 2zm9 0zm5-4zm0 3zm42-3zm22 2zm27-2zm10-1zm24 2zm34 3zm14-1zm24-2zm11 2zm4 2zm3-5zm19-1zm6 3zm13 2z" stroke="#4fc229" stroke-width="7.26"/>
<path d="M798 1568z" stroke="#26740c" stroke-width="13.2"/>
<path d="M797 1568z" stroke="#319610" stroke-width="7.26"/>
<path d="M905 1550zm46 1zm19 2zm107-5zm26 2zm10 0zm8-1zm20 3zm4-3zm90 1zm17 2zm11 0zm13-4zm14 4zm3 0zm44-4zm11 2zm41 0zm10-1zm60 3zm-532 4zm4 3zm14 0zm15-2zm23 4zm1-6zm9 2zm1 0zm9 1zm16-2zm16 2zm3-3zm14-1zm29 5zm27-5zm7 6zm6-1zm3-4zm52 1zm6 3zm8-5zm24 6zm10 1zm26-5zm3 4zm0-1zm5-1zm9 1zm4 1zm1-3zm32 1zm14-2zm9-1zm26 1zm4 5zm10-6zm1-1zm8 4zm1-3zm9 2zm29 4zm17-2z" stroke="#458c0e" stroke-width="13.2"/>
<path d="M904 1550zm47 0zm19 3zm107-5zm26 1zm10 1zm8-1zm20 3zm3-4zm91 1zm16 3zm12-1zm12-4zm14 5zm3 0zm44-4zm11 1zm21 4zm21-3zm10-1zm60 3zm-532 4zm3 3zm14 0zm16-2zm23-2zm0 5zm10-4zm1 1zm9 0zm16-1zm16 2zm3-3zm14-1zm28 5zm28-5zm7 6zm6-1zm3-5zm51 2zm7 3zm7-5zm25 5zm9 1zm26-4zm3 4zm1-1zm5-1zm9 0zm4 1zm1-3zm32 1zm14-1zm9-1zm25 1zm5 5zm9-6zm10 3zm1-4zm8 3zm29 4zm18-2z" stroke="#6ec829" stroke-width="7.26"/>
<path d="M927 1537zm28-1zm49-3zm16 1zm8 2zm16-1zm6 2zm8 1zm24 1zm24-6zm23 5zm1-3zm11 0zm12 1zm10-1zm17 1zm28 2zm23-1zm44 2zm27-4zm17 0zm21 0zm1 1zm44 3zm10-6zm32 6zm6-5zm-518 11zm45-3zm5 3zm16 2zm0-7zm13 6zm27-1zm18-3zm34 0zm11 5zm96-4zm19 0zm26 0zm21-2zm25 1zm12 3zm6-5zm9 1zm23 0zm17 2zm6 2zm44 2zm22-7zm19 4zm9 1zm8-3zm0 4z" stroke="#5f9011" stroke-width="13.2"/>
<path d="M927 1536zm28-1zm25 4zm24-6zm16 1zm7 2zm17-1zm6 2zm7 0zm25 1zm23-5zm23 4zm2-3zm11 0zm12 1zm9-1zm18 2zm28 2zm23-1zm44 1zm27-3zm17-1zm20 0zm2 1zm44 3zm9-5zm32 5zm6-5zm-518 11zm45-3zm6 4zm16 1zm13-1zm27-1zm18-2zm34 0zm11 4zm96-3zm19 0zm26 0zm20-2zm26 1zm12 3zm6-5zm8 1zm23 0zm17 2zm6 2zm44 1zm23-6zm19 4zm8 1zm8 1zm1-5z" stroke="#8fcc2c" stroke-width="7.26"/>
<path d="M962 1524zm35 0zm21 1zm7-6zm28 1zm13 0zm6-1zm7 4zm24-2zm3 3zm31 0zm8-2zm5 2zm11-2zm3 3zm1-1zm50 1zm1 0zm20-6zm2 5zm9-4zm5 5zm1-3zm13-1zm37 4zm12-2zm11-3zm32 5zm43-2zm42 2zm-498 4zm1-3zm11 5zm16 0zm62-5zm4 0zm0 3zm11 3zm36-3zm10-3zm8 2zm17-2zm4 5zm4-2zm42 4zm74-4zm54-1zm22 3zm9 1zm14-6zm18 3zm18-3zm12 5zm66 0zm15-1z" stroke="#7b9215" stroke-width="13.2"/>
<path d="M946 1525zm15-2zm36 1zm20 0zm8-6zm9 7zm5 0zm14-5zm12 0zm7-1zm6 4zm25-2zm3 2zm15 2zm16-2zm8-1zm5 2zm11-2zm2 3zm2-1zm49 1zm2-1zm20-5zm2 5zm9-5zm5 5zm0-3zm13-1zm38 5zm11-2zm11-4zm32 6zm22 0zm22-3zm42 2zm-498 5zm11 2zm17 0zm66-3zm10 3zm37-3zm10-2zm8 1zm20 4zm5-3zm42 4zm74-3zm54-1zm22 3zm9 0zm13-5zm19 3zm30 1zm65 1zm16-1z" stroke="#b2cf32" stroke-width="7.26"/>
<path d="M784 1528z" stroke="#6a7d12" stroke-width="13.2"/>
<path d="M783 1527z" stroke="#88a218" stroke-width="7.26"/>
<path d="M982 1506zm67 2zm52-2zm59 5zm48 0zm66-3zm1-1zm16 0zm42 3zm19-3zm15 0zm-413 10zm31-3zm47 0zm54 3zm4-4zm13 2zm27 1zm34-1zm10 0zm23-2zm14 4zm8-1zm24 2zm11-5zm5 3zm8-2zm37 4zm8-6zm63 5zm15-1z" stroke="#939219" stroke-width="13.2"/>
<path d="M982 1505zm67 3zm52-2zm58 4zm49 1zm65-3zm1-2zm16 0zm22 5zm20-1zm19-4zm16 1zm-414 9zm32-3zm46 0zm54 4zm4-5zm14 2zm26 1zm35 0zm9-1zm24-1zm14 3zm8-1zm23 3zm12-5zm4 3zm8-2zm37 3zm71 0zm16-2z" stroke="#d1d037" stroke-width="7.26"/>
<path d="M992 1495zm12 0zm143-2zm6 4zm61 0zm3-4zm35 1zm1 1zm-203 4zm23-1zm6 6zm66-4zm53 4zm1-5zm15 4zm18-3zm18 0zm26 3zm27-3zm18 1zm77 2z" stroke="#97891b" stroke-width="13.2"/>
<path d="M992 1494zm11 0zm144-1zm6 3zm60 0zm4-3zm35 0zm1 2zm-204 4zm23-1zm7 5zm65-3zm54-2zm0 6zm15-1zm18-3zm18-1zm27 3zm27-2zm18 1zm77 1z" stroke="#d6c439" stroke-width="7.26"/>
<path d="M1472 1493zm-559 10zm543-1zm7-4z" stroke="#827617" stroke-width="13.2"/>
<path d="M1472 1493zm-559 10zm543-2zm7-3z" stroke="#a8981e" stroke-width="7.26"/>
<path d="M1104 1481zm1 0zm9-1zm9 1zm12-3zm13 2zm21-2zm64 0zm-177 8zm18 4zm19-3zm133 3zm138-2zm35 2z" stroke="#9a801c" stroke-width="13.2"/>
<path d="M1104 1481zm10-1zm8 1zm13-3zm12 2zm21-3zm64 0zm-177 9zm19 3zm18-2zm133 2zm139-2zm35 3z" stroke="#d9b83b" stroke-width="7.26"/>
<path d="M1233 1462zm112 6zm-136 7zm38 0zm81 1z" stroke="#97751e" stroke-width="13.2"/>
<path d="M1233 1462zm112 5zm-137 7zm39 1zm81 0z" stroke="#d6ab3e" stroke-width="7.26"/>
<path d="M1356 1466z" stroke="#82651a" stroke-width="13.2"/>
<path d="M1356 1466z" stroke="#a88222" stroke-width="7.26"/>
<path d="M1095 1450zm156 1zm57 1zm-21 6zm98 1z" stroke="#966b20" stroke-width="13.2"/>
<path d="M1094 1450zm156 1zm57 1zm-21 5zm99 2z" stroke="#d59e3f" stroke-width="7.26"/>
<path d="M1000 1448zm70 6zm79-4zm176 4zm32-6z" stroke="#815c1b" stroke-width="13.2"/>
<path d="M999 1448zm70 5zm80-4zm176 5zm31-7z" stroke="#a77724" stroke-width="7.26"/>
<path d="M1258 1441zm-175 2zm161 2z" stroke="#936321" stroke-width="13.2"/>
<path d="M1258 1440zm-176 2zm162 2z" stroke="#d19440" stroke-width="7.26"/>
<path d="M1037 1438zm42-3z" stroke="#7f551c" stroke-width="13.2"/>
<path d="M1037 1438zm42-3z" stroke="#a46e24" stroke-width="7.26"/>
<path d="M899 1409zm283 2z" stroke="#794b1c" stroke-width="13.2"/>
<path d="M899 1409zm282 2z" stroke="#9c6024" stroke-width="7.26"/>
<path d="M1329 1400z" stroke="#75431b" stroke-width="13.2"/>
<path d="M1329 1399z" stroke="#975724" stroke-width="7.26"/>
<path d="M1126 1389z" stroke="#6e391a" stroke-width="13.2"/>
<path d="M1125 1388z" stroke="#8e4921" stroke-width="7.26"/>
<path d="M1080 1733zm8 0zm30 0zm71 0zm22 1zm57 1zm12-1zm34-1zm26-1zm6 2zm13 1zm27-2zm29-1zm38 2zm3-2zm31 0zm10 3zm6-1zm5-1zm3 0zm-324 3zm38 0zm9 2zm98 0zm14 3zm26-2zm59-3zm8 0zm21 6zm34-1zm8 0zm5-3zm1-2zm15 4z" stroke="#4f348f" stroke-width="13.2"/>
<path d="M1080 1732zm8 0zm30 0zm68 3zm3-2zm22 0zm57 1zm12 0zm34-1zm25-1zm6 1zm14 2zm27-3zm28 0zm24 3zm14-2zm4-2zm30 0zm10 4zm7-1zm5-1zm3 0zm-287 3zm10 1zm98 0zm14 3zm26-1zm59-3zm29 6zm34-2zm7 1zm6-5zm0 1zm16 3z" stroke="#7b59cc" stroke-width="7.26"/>
<path d="M990 1721zm7-3zm30 0zm42 3zm70-3zm7-1zm11 2zm30 0zm77 1zm16-3zm78 4zm48-2zm22-1zm57 3zm5-2zm0 2zm7-1zm16-2zm13 0zm4 3zm-627 6zm9 0zm5 0zm11 4zm7-9zm8 7zm16-3zm4 5zm9-1zm13-1zm19-2zm6 0zm3 4zm4-8zm3 6zm16-2zm11 0zm7 4zm42 0zm23-6zm24-2zm14 5zm57-2zm20-3zm7 1zm11 2zm20-2zm29 0zm9 4zm39-5zm27 4zm63 4zm13-2zm8-7zm11 1zm8-1zm15 7zm9-2zm3-5zm3 6zm10-4z" stroke="#4c338d" stroke-width="13.2"/>
<path d="M990 1721zm7-3zm30-1zm42 4zm70-3zm7-1zm10 2zm31 0zm76 0zm17-2zm77 3zm49-1zm22-2zm51 4zm6 0zm4-2zm1 2zm7-1zm16-2zm13-1zm4 4zm-627 5zm8 1zm6-1zm11 5zm6-9zm8 6zm16-3zm5 6zm8-1zm14-1zm19-3zm6 1zm2 3zm5-7zm3 5zm16-1zm10-1zm8 4zm42 0zm22-6zm25-2zm13 6zm58-3zm20-2zm7 1zm11 2zm20-2zm29-1zm9 4zm38-5zm27 5zm64 3zm12-2zm9-6zm11 1zm22 6zm9-3zm4-4zm3 5zm9-3z" stroke="#7757ca" stroke-width="7.26"/>
<path d="M884 1721z" stroke="#412c7a" stroke-width="13.2"/>
<path d="M884 1721z" stroke="#54389d" stroke-width="7.26"/>
<path d="M830 1705zm11-1zm134 2zm19-2zm21-1zm8 2zm55 2zm6-3zm14 0zm23 3zm28-3zm70 2zm31-1zm24 2zm16-1zm14 0zm101-3zm40 4zm27 0zm1-3zm-683 6zm5-2zm9 2zm11 2zm105-4zm14 9zm2-7zm6 3zm14 2zm14 0zm79 0zm13-7zm42 9zm9-6zm17 1zm23 5zm13-7zm10-2zm2 2zm30 5zm12 0zm9-7zm19 7zm32-2zm2-4zm2 6zm59 0zm11-3zm14-2zm7 0zm12 4zm19-5zm9 8zm12-6zm13 6zm28-4zm10-4zm9 6zm1-1zm5-6zm9 0zm8 4zm9-4z" stroke="#3f2b8b" stroke-width="13.2"/>
<path d="M795 1707zm35-3zm11-1zm79 4zm54-1zm19-3zm21 0zm8 1zm56 3zm6-3zm13 0zm23 2zm28-2zm28 3zm43-2zm31 0zm23 1zm17 0zm14 0zm101-3zm39 4zm28-4zm0 3zm46 1zm-728 2zm14 1zm11 1zm119 5zm2-6zm6 3zm14 1zm13 1zm80-1zm13-6zm42 9zm8-6zm18 0zm23 6zm13-7zm11 0zm30 4zm13 0zm9-6zm19 7zm32-2zm2-4zm2 6zm58 0zm11-3zm14-3zm7 1zm13 3zm19-5zm9 9zm11-6zm13 6zm29-4zm10-4zm8 6zm1-1zm5-6zm9 0zm8 4z" stroke="#674dc7" stroke-width="7.26"/>
<path d="M826 1691zm49-2zm25 4zm7-2zm12 2zm32-1zm49-2zm10 0zm19 1zm6 1zm40 0zm8 0zm16 1zm15-3zm28 2zm21 1zm19 0zm47-3zm37 1zm10 2zm89-2zm57 1zm47 1zm15-2zm4 2zm35-3zm13 3zm-712 5zm84 5zm3-3zm12 1zm5-2zm6-4zm5 1zm6 0zm39 1zm30-3zm6 2zm11 2zm9-3zm7 0zm14-1zm45 1zm20 3zm13 5zm5-7zm5-2zm14 2zm1-1zm8-1zm1 6zm31-5zm3 0zm2 6zm15-3zm8-4zm5 7zm17 0zm39-2zm5-1zm11-4zm3 4zm17 2zm41-5zm6 0zm1 4zm7 3zm9-2zm21-2zm2 0zm31 2zm4-3zm15 0zm12-2zm27 2zm4 6zm14-7zm3 2zm8-3z" stroke="#2c1f89" stroke-width="13.2"/>
<path d="M825 1691zm50-3zm25 4zm6-1zm13 1zm31-1zm49-1zm11-1zm18 1zm6 2zm40 0zm9 0zm16 0zm14-2zm29 2zm21 1zm9 0zm9-1zm48-3zm2 4zm35-3zm10 3zm89-3zm57 2zm46 0zm15-1zm5 1zm35-3zm13 3zm-712 6zm84 4zm2-2zm12 0zm5-1zm7-4zm4 1zm6 0zm40 0zm29-2zm7 1zm10 3zm9-4zm8 0zm14 0zm45 1zm20 2zm12 5zm6-7zm5-1zm14 2zm1-2zm9 6zm31-5zm3-1zm1 6zm16-2zm12 3zm18-1zm39-1zm5-2zm11-3zm3 3zm17 3zm41-5zm5 0zm2 4zm7 3zm9-2zm20-2zm3-1zm30 3zm4-4zm15 0zm12-2zm28 2zm4 6zm13-7zm4 3zm7-3z" stroke="#4f3ec4" stroke-width="7.26"/>
<path d="M947 1679zm8 0zm62 0zm55-3zm16 0zm20 2zm15 0zm8 0zm8-3zm17 0zm3 1zm24 2zm8 0zm19 0zm115-1zm1 2zm43-2zm14 2zm11-2zm59 2zm15-2zm18 1zm9 0zm-591 6zm7-1zm7 2zm7-5zm19 6zm44 2zm13-4zm37 1zm15 3zm72-6zm19-1zm38 4zm33 0zm11 0zm31 0zm6-5zm20 7zm16 2zm13-6zm16 0zm73-1zm17 0zm62-2zm4 9zm10 0zm2-6zm10-1zm2 0zm14-2zm5 7zm4-7z" stroke="#1e1788" stroke-width="13.2"/>
<path d="M946 1679zm9 0zm62-1zm55-2zm15 0zm21 1zm15 1zm8 0zm8-3zm16 0zm3 1zm24 2zm9-1zm19 0zm115-1zm1 3zm42-2zm15 1zm11-1zm59 2zm15-3zm12 3zm6-1zm9 0zm26 1zm-617 5zm7-1zm6 2zm8-5zm19 6zm43 2zm14-4zm37 0zm15 3zm71-5zm20-2zm37 4zm34 0zm10 1zm32 0zm5-5zm21 7zm16 1zm13-5zm16-1zm73-1zm17 0zm66 7zm9 0zm3-5zm10-1zm2-1zm19 6zm4-7z" stroke="#3d34c2" stroke-width="7.26"/>
<path d="M1729 1678zm-871 10zm895-4z" stroke="#1a1475" stroke-width="13.2"/>
<path d="M1728 1678zm-870 9zm895-4z" stroke="#211a97" stroke-width="7.26"/>
<path d="M878 1662zm13 3zm30-4zm13 1zm35 2zm36 0zm9-2zm22 1zm4-1zm12 3zm12-3zm5 2zm11-1zm58 0zm48-1zm13 0zm35 2zm52-2zm9 3zm2-2zm30 1zm7 0zm31-3zm25 1zm24 3zm43-2zm20 1zm18 1zm35-2zm-612 10zm13-1zm4-4zm47 1zm25 0zm16-2zm8 5zm4-3zm6 2zm7 3zm4-7zm4 2zm52-3zm24 8zm12-4zm6 4zm10 0zm10-8zm16 6zm9-4zm15 4zm31-2zm23-1zm43-3zm21 7zm12-6zm6 0zm14 1zm32 0zm14-2zm24 4zm36 2zm37-3zm26 4zm14-3z" stroke="#101187" stroke-width="13.2"/>
<path d="M878 1662zm12 2zm30-4zm13 1zm35 3zm37-1zm9-2zm22 2zm4-1zm12 3zm11-3zm6 1zm11-1zm58 0zm47-1zm13 0zm35 3zm53-2zm9 2zm1-1zm30 1zm8-1zm30-3zm26 2zm16 3zm8 0zm42-3zm21 1zm18 2zm34-2zm-611 10zm13-2zm3-3zm47 0zm26 0zm16-2zm8 6zm4-3zm5 2zm8 3zm4-7zm4 1zm51-2zm24 7zm13-3zm6 3zm9 1zm10-8zm17 6zm9-4zm15 4zm30-2zm24-1zm42-3zm22 6zm12-5zm6-1zm13 1zm33 0zm38 2zm36 3zm37-3zm26 3zm14-2z" stroke="#2b2cc2" stroke-width="7.26"/>
<path d="M891 1646zm13 4zm33 1zm48-2zm71-1zm11 0zm53 2zm13-2zm18-2zm22 1zm28-1zm19 2zm6 0zm14-1zm15 4zm6-4zm61 3zm6-2zm6 3zm21-4zm14 3zm59 0zm38 1zm10-3zm3 2zm14-1zm10 0zm-609 5zm7 5zm6-6zm1 6zm18-3zm5-2zm31 6zm3-8zm45 3zm6 3zm1 2zm24-4zm48-2zm2 3zm10 2zm22-3zm21 4zm26-6zm58-2zm3 6zm62-2zm12 3zm30-3zm21 1zm1 0zm9 2zm8-5zm24 5zm12-4zm42-3zm3 4zm10 0zm30-1zm4 2zm1-1zm1 3zm17-3zm7 4z" stroke="#0a1e80" stroke-width="13.2"/>
<path d="M891 1646zm13 3zm33 2zm28 0zm19-2zm72-1zm11-1zm53 2zm13-2zm18-1zm22 0zm27 0zm19 2zm7-1zm14-1zm15 5zm5-4zm61 3zm7-2zm6 2zm21-3zm13 3zm60 0zm38 0zm10-2zm2 1zm15-1zm10 1zm-609 4zm7 5zm6-6zm1 6zm18-3zm4-1zm31 5zm49-5zm6 4zm1 2zm24-4zm48-3zm1 3zm10 3zm22-3zm22 3zm25-6zm58-1zm3 6zm62-2zm13 2zm29-3zm21 1zm1 1zm10 1zm8-5zm24 5zm11-4zm42-2zm4 4zm9-1zm31 0zm4 2zm0-1zm2 2zm17-2zm6 3z" stroke="#233db8" stroke-width="7.26"/>
<path d="M1556 1659z" stroke="#081a6e" stroke-width="13.2"/>
<path d="M1556 1658z" stroke="#0b218e" stroke-width="7.26"/>
<path d="M844 1634zm121-1zm26 4zm45 0zm39-3zm56 3zm23 0zm17-1zm2-2zm14 1zm62-2zm30 0zm12 1zm11-1zm34 3zm59-2zm8 0zm46-1zm16 0zm2 1zm43 2zm-688 3zm68 6zm30-1zm17 0zm1-6zm42 5zm8-2zm13 2zm4-5zm11 5zm1 3zm5-3zm3 0zm21 1zm26-4zm14 5zm16-1zm20-6zm22 5zm2-5zm12 7zm3-6zm12-1zm13 8zm13-4zm10 1zm38 2zm30-3zm8-3zm10 3zm6-2zm9-1zm2 1zm9 1zm25-1zm31 4zm12-4zm20 0zm11 2zm28-4zm21 3zm14-2zm13 1zm3-1zm1 4z" stroke="#073873" stroke-width="13.2"/>
<path d="M844 1633zm93 4zm28-5zm26 4zm14 1zm31 0zm38-4zm48 4zm8 0zm16 0zm8-1zm17 0zm2-3zm14 1zm62-1zm30-1zm11 2zm12-2zm34 4zm59-3zm7 0zm45 4zm2-4zm16-1zm2 2zm43 2zm-688 2zm68 7zm29-1zm17 0zm44-2zm7-1zm14 1zm14 1zm1 3zm6-3zm3 0zm21 0zm26-3zm14 5zm16-2zm42 0zm13 2zm3-6zm12-1zm13 7zm13-3zm11 0zm37 2zm30-2zm9-3zm10 2zm6-2zm9-1zm2 2zm9 0zm25-1zm30 5zm13-5zm20 1zm10 2zm50-1zm14-2zm12 0zm3-1zm1 1zm1 4z" stroke="#205da9" stroke-width="7.26"/>
<path d="M651 1637zm73 0z" stroke="#063063" stroke-width="13.2"/>
<path d="M651 1637zm73-1z" stroke="#083e80" stroke-width="7.26"/>
<path d="M915 1621zm12 0zm10 0zm33-1zm10 0zm11 2zm8-2zm17 2zm93-2zm19-2zm8 1zm41 2zm43-2zm79 0zm9 3zm18-3zm7 4zm16-4zm18 1zm2 1zm35-2zm20 1zm15 1zm41-2zm10 2zm17 1zm-673 2zm59 8zm44-2zm27 2zm32-3zm43-2zm11 0zm2-3zm7 0zm7 4zm5-1zm36 5zm6-3zm17-1zm16-3zm24 1zm9 3zm13-4zm7 3zm1 3zm28-3zm11 3zm6-1zm28-5zm22 3zm16 4zm6-6zm7 1zm9 0zm13 4zm4-6zm8 4zm14-2zm30-1zm31 5zm2-7zm6 4zm13-2zm10-2zm15 0zm4 8zm8-4zm28 1z" stroke="#07524c" stroke-width="13.2"/>
<path d="M834 1623zm81-3zm12 1zm10 0zm33-1zm10 0zm10 2zm9-2zm16 2zm94-2zm19-2zm8 1zm40 1zm43-1zm80 0zm9 3zm17-4zm7 4zm17-3zm18 1zm2 1zm34-2zm21 1zm11 3zm3-3zm40 3zm1-5zm10 3zm18 1zm-615 9zm45-1zm26 2zm32-4zm43-1zm12 0zm1-3zm8 0zm7 3zm5-1zm36 6zm5-3zm17-1zm16-3zm25 0zm9 4zm13-4zm7 2zm1 3zm28-2zm11 2zm6 0zm28-5zm22 2zm16 4zm6-6zm7 1zm8 1zm13 3zm4-5zm9 3zm14-1zm30-2zm31 6zm8-4zm13-1zm9-2zm20 7zm7-4zm29 1z" stroke="#207e77" stroke-width="7.26"/>
<path d="M859 1609zm56-2zm46 1zm31-2zm7 3zm8-3zm20-1zm1 3zm14 1zm8 0zm49-3zm19-1zm13 2zm59 0zm84 2zm1-2zm24-3zm2 5zm8-1zm4 1zm66-2zm28 0zm23 1zm26-2zm13-2zm28 5zm-580 4zm18 2zm8-5zm11 8zm31-7zm6 2zm16 3zm14 2zm27-1zm55-2zm5-2zm7 4zm14-5zm22 2zm25-4zm34 5zm7-1zm33 2zm14-4zm25 0zm10 5zm19 1zm17-2zm13-5zm5 0zm7 2zm0 4zm38-1zm59 0zm0-5zm7-1zm8 5zm6 1z" stroke="#08662b" stroke-width="13.2"/>
<path d="M858 1609zm57-3zm27 3zm18-1zm31-3zm8 4zm7-3zm20-2zm2 3zm13 2zm9-1zm48-2zm20-2zm12 3zm46 2zm13-3zm85 3zm1-3zm23-2zm2 4zm9-1zm4 1zm65-1zm28 0zm24 0zm26-2zm7 4zm6-5zm28 4zm-580 5zm17 2zm19 2zm32-6zm6 2zm15 3zm14 1zm27-1zm56-1zm5-2zm7 3zm14-4zm22 2zm58 0zm8 0zm33 1zm14-3zm25 0zm10 5zm19 0zm17-2zm13-5zm4 1zm7 2zm1 4zm38-1zm58 0zm1-5zm15 3zm5 1z" stroke="#21994e" stroke-width="7.26"/>
<path d="M704 1615z" stroke="#075825" stroke-width="13.2"/>
<path d="M704 1614z" stroke="#097230" stroke-width="7.26"/>
<path d="M890 1593zm18 2zm38-2zm16 1zm9-2zm38-2zm46 5zm9-3zm9 0zm9-1zm4 4zm77-4zm3 2zm28-1zm7-1zm20 0zm10 4zm7-2zm34 0zm26-1zm21 3zm21-1zm2-2zm16 1zm16-3zm16 0zm20 2zm12-1zm34 0zm-538 11zm11-6zm61 3zm1-2zm9 5zm1 1zm41-3zm8-4zm19 4zm5 3zm48-1zm13 1zm10 1zm9-2zm10 1zm52-3zm13 1zm59-2zm3-3zm2 6zm39-3zm10 3zm4-3zm20 2zm7 1zm6-4zm24-2zm32 3zm7 0zm24 3zm21-6zm27 3z" stroke="#0b761c" stroke-width="13.2"/>
<path d="M890 1593zm18 2zm21 0zm16-3zm16 1zm10-2zm38-1zm41 5zm5 0zm9-3zm9 0zm9-2zm3 5zm78-4zm2 2zm29-1zm7-2zm20 0zm10 4zm7-2zm33 1zm27-2zm20 3zm22-1zm2-2zm16 2zm16-4zm15 0zm21 2zm11 0zm34 0zm-537 10zm72-2zm1-3zm8 5zm2 2zm40-3zm28-1zm5 4zm47-2zm14 1zm9 1zm10-2zm10 1zm51-2zm14 0zm59-1zm2-3zm2 6zm40-3zm10 3zm3-3zm20 2zm8 1zm6-4zm24-2zm31 2zm8 0zm23 4zm22-6zm26 2z" stroke="#25ac3a" stroke-width="7.26"/>
<path d="M871 1603z" stroke="#096518" stroke-width="13.2"/>
<path d="M870 1603z" stroke="#0c831f" stroke-width="7.26"/>
<path d="M903 1580zm4-3zm29 0zm9 4zm18 0zm46-1zm108-2zm7 3zm6-3zm7 1zm48-1zm4 0zm16-2zm40 3zm20 1zm17-4zm27 0zm4 3zm32-2zm36 4zm13-5zm22 2zm41 1zm12 1zm10-1zm20 0zm-600 10zm23-6zm69 2zm45-1zm15 2zm6 0zm9-3zm28 6zm14-3zm17-1zm7-1zm7 4zm7-2zm10-3zm2 5zm7-2zm29 2zm22 0zm17-2zm7 0zm13-4zm1 6zm14-5zm2 5zm13-5zm10 5zm78-2zm33-2zm7-1zm17-1zm17 1zm9 5zm20-3z" stroke="#13820e" stroke-width="13.2"/>
<path d="M903 1580zm3-4zm29 0zm9 4zm18 0zm47 0zm108-3zm7 3zm6-2zm7 1zm48-2zm4 1zm16-3zm39 4zm21 0zm17-4zm27 1zm3 3zm33-3zm35 5zm14-6zm21 2zm13 4zm29-3zm12 1zm10 0zm20 0zm-600 9zm22-5zm69 2zm46-2zm15 3zm6-1zm8-2zm29 6zm14-4zm17-1zm6-1zm8 5zm6-3zm11-3zm2 5zm7-2zm29 3zm21 0zm18-2zm7 0zm13 2zm0-6zm15 0zm1 6zm13-5zm11 4zm78-1zm33-2zm7-2zm34 0zm9 6zm19-3z" stroke="#2fbb29" stroke-width="7.26"/>
<path d="M683 1581z" stroke="#10700c" stroke-width="13.2"/>
<path d="M683 1580z" stroke="#159010" stroke-width="7.26"/>
<path d="M894 1565zm46-1zm72 1zm10 2zm3-5zm16-1zm48 6zm34-1zm15-5zm2 6zm43-1zm37 1zm63-2zm51 2zm22-2zm10 2zm12-5zm12 5zm48-4zm22 3zm15 1zm9-3zm-529 4zm10 4zm7-4zm30 0zm27 4zm9-4zm47 6zm11-1zm17-5zm32 4zm17-2zm18 4zm49-4zm15 5zm4-7zm38 2zm9 4zm4 0zm21 0zm47-2zm4 2zm10 0zm8-4zm19-2zm12 4zm5 1zm16-5zm16 1zm18 3zm17-2zm5 1z" stroke="#2c870e" stroke-width="13.2"/>
<path d="M894 1565zm46-2zm31 4zm31 0zm9-3zm10 3zm3-6zm13 6zm3-6zm49 6zm24 0zm10-1zm15-5zm2 6zm43-1zm37 1zm27 0zm36-2zm50 2zm23-3zm9 3zm12-5zm12 4zm19 1zm30-5zm22 4zm15 0zm9-2zm-530 4zm11 3zm63 1zm57 1zm11 0zm49-1zm17-2zm18 3zm49-3zm14 4zm43-5zm8 4zm5 1zm20 0zm47-3zm5 2zm10 0zm7-4zm31 2zm5 2zm17-5zm16 1zm17 3zm18-2zm5 1z" stroke="#4fc229" stroke-width="7.26"/>
<path d="M924 1552zm50-5zm25 1zm16 5zm6 0zm42-2zm27 0zm69-2zm33-1zm18 1zm12 0zm51-1zm36 3zm9 1zm11-4zm84 0zm5 1zm72 0zm1 4zm-567 8zm127-1zm9-5zm2 5zm7 1zm4-7zm21 5zm53-4zm5 5zm4-4zm1-2zm3 6zm5-1zm13 2zm7-6zm16 3zm14-1zm6-1zm3 2zm13 2zm6-1zm34-3zm45-2zm60 0zm24 2zm51 5zm3-2z" stroke="#458c0e" stroke-width="13.2"/>
<path d="M924 1552zm50-5zm24 1zm16 4zm6 0zm42-1zm11 2zm17-2zm69-2zm33-2zm17 1zm13 0zm50-1zm36 4zm9 1zm4 1zm7-5zm53 5zm32-5zm4 0zm73 0zm1 5zm-567 7zm126-1zm9-4zm3 5zm7 0zm25-2zm53-4zm5 6zm4-4zm1-2zm3 5zm5 0zm12 1zm8-5zm15 3zm15-2zm6-1zm2 2zm14 2zm6-1zm34-2zm129-1zm50 5zm4-1z" stroke="#6ec829" stroke-width="7.26"/>
<path d="M993 1538zm5-2zm10 2zm11-3zm37-1zm15 0zm51 3zm13 2zm111-6zm7 6zm10-6zm11 4zm33 1zm16-3zm63 4zm57-5zm-497 7zm4 4zm15 1zm13-1zm69 0zm13-5zm33 0zm7 3zm8 4zm38-5zm18 2zm6 2zm15 0zm17 1zm9-5zm52 4zm27-4zm16-1zm23-1zm0 2zm24 3zm1-5zm54 5zm10-4zm64 6z" stroke="#5f9011" stroke-width="13.2"/>
<path d="M992 1538zm6-3zm10 2zm10-3zm37 0zm5 5zm10-6zm52 4zm12 1zm111-5zm8 6zm9-6zm12 3zm33 1zm16-3zm30 5zm33-1zm56-5zm-496 8zm4 4zm15 1zm13-1zm68 0zm47-5zm7 3zm7 4zm39-6zm17 2zm7 2zm14 1zm17 0zm9-4zm53 3zm26-4zm17-1zm22 2zm1-2zm23 5zm55-1zm10-3zm65 5z" stroke="#8fcc2c" stroke-width="7.26"/>
<path d="M1002 1523zm18-4zm10 3zm35 3zm17-3zm49 0zm16 3zm34-2zm18 2zm31-1zm81-2zm29-1zm17 0zm15 2zm86-4zm-492 7zm16 3zm28-2zm24 5zm13-5zm15 4zm27 1zm1 1zm24-5zm1 4zm38-2zm11-1zm8 3zm22 1zm5-7zm20 0zm44 1zm85 2zm19 2zm16-2zm33 2zm2-5zm32 4z" stroke="#7b9215" stroke-width="13.2"/>
<path d="M966 1525zm36-2zm17-5zm11 3zm35 3zm17-2zm48-1zm17 4zm33-2zm19 2zm30-1zm82-3zm28 0zm17 0zm15 1zm87-3zm-477 9zm29-2zm24 6zm12-6zm16 5zm27 0zm1 1zm23-5zm2 4zm37-1zm12-1zm7 2zm23 1zm24-6zm45 0zm85 2zm18 2zm16-1zm33 2zm3-5zm31 3z" stroke="#b2cf32" stroke-width="7.26"/>
<path d="M943 1507zm48-1zm3 2zm24-3zm42 3zm6-1zm7 2zm80-3zm15 2zm5-2zm20 1zm6-1zm34 4zm6-2zm38 3zm31-2zm41-2zm27 0zm22-1zm-388 12zm24-2zm18-2zm12 0zm4 0zm26 2zm30 3zm2-2zm63 1zm15-3zm26-2zm32 0zm9 1zm16 2zm40-1zm16 3zm38-2zm44 1z" stroke="#939219" stroke-width="13.2"/>
<path d="M943 1506zm48-1zm2 2zm24-3zm43 4zm6-1zm7 1zm80-3zm15 3zm4-2zm20 0zm6 0zm35 4zm6-2zm37 3zm32-3zm40-1zm27-1zm23 0zm-388 12zm24-2zm18-2zm12-1zm4 1zm26 1zm30 3zm1-1zm63 0zm16-2zm26-2zm32-1zm8 2zm17 2zm40-1zm15 3zm38-3zm45 2z" stroke="#d1d037" stroke-width="7.26"/>
<path d="M1032 1495zm90-1zm60 1zm41-1zm141 0zm47-3zm-446 11zm66 0zm63-2zm28 2zm31 2zm4 0zm34-4zm12 4zm103-3zm49-1z" stroke="#97891b" stroke-width="13.2"/>
<path d="M1032 1494zm90-1zm59 1zm42-1zm140 0zm47-3zm-445 11zm66 0zm63-1zm28 1zm31 2zm3 0zm35-4zm12 4zm103-2zm49-2z" stroke="#d6c439" stroke-width="7.26"/>
<path d="M1426 1496z" stroke="#827617" stroke-width="13.2"/>
<path d="M1426 1495z" stroke="#a8981e" stroke-width="7.26"/>
<path d="M1006 1483zm77-3zm69 2zm27-1zm13 2zm14-3zm51 1zm23-2zm38 3zm-251 4zm16 2zm28 0zm28-3zm64 1zm32 1zm24 2zm5-3zm118 2z" stroke="#9a801c" stroke-width="13.2"/>
<path d="M1005 1483zm78-3zm69 1zm27-1zm12 2zm15-3zm50 1zm23-2zm39 3zm-251 4zm15 3zm29-1zm28-3zm63 2zm33 1zm24 2zm5-3zm118 2z" stroke="#d9b83b" stroke-width="7.26"/>
<path d="M1017 1477zm480 2z" stroke="#846e18" stroke-width="13.2"/>
<path d="M1017 1477zm480 1z" stroke="#ab8e20" stroke-width="7.26"/>
<path d="M1188 1469zm17 0zm45-2zm-163 9zm32-1zm38-1z" stroke="#97751e" stroke-width="13.2"/>
<path d="M1188 1469zm17 0zm45-2zm-163 8zm32 0zm38-2z" stroke="#d6ab3e" stroke-width="7.26"/>
<path d="M1278 1451zm26 0zm9 4zm-267 5z" stroke="#966b20" stroke-width="13.2"/>
<path d="M1278 1451zm26 0zm9 4zm-267 4z" stroke="#d59e3f" stroke-width="7.26"/>
<path d="M972 1455zm147-1zm277-5zm-463 7zm465 2z" stroke="#815c1b" stroke-width="13.2"/>
<path d="M972 1455zm146-1zm277-6zm-462 8zm464 2z" stroke="#a77724" stroke-width="7.26"/>
<path d="M1287 1435zm75-1zm-325 12z" stroke="#7f551c" stroke-width="13.2"/>
<path d="M1287 1435zm75-1zm-325 12z" stroke="#a46e24" stroke-width="7.26"/>
<path d="M1235 1412zm92 1z" stroke="#794b1c" stroke-width="13.2"/>
<path d="M1234 1412zm93 0z" stroke="#9c6024" stroke-width="7.26"/>
<path d="M1080 1393z" stroke="#75431b" stroke-width="13.2"/>
<path d="M1079 1392z" stroke="#975724" stroke-width="7.26"/>
<path d="M860 1344z" stroke="#602316" stroke-width="13.2"/>
<path d="M859 1343z" stroke="#7c2e1c" stroke-width="7.26"/>
</g>
<path d="M50.3 953.6L528 973.2" stroke="#1c1c1c" stroke-width="2.8"/>
<path d="M48.8 1110.7L470 1127.3" stroke="#1c1c1c" stroke-width="2.6"/>
<path d="M115.2 955.9L112.2 1161" stroke="#2c2c2c" stroke-width="2.4"/>
<path d="M138.7 957.4L134.8 1162" stroke="#2c2c2c" stroke-width="2.4"/>
<path d="M294.8 963.5L291.2 1169" stroke="#2c2c2c" stroke-width="2.4"/>
<path d="M334.5 965L330.8 1170" stroke="#2c2c2c" stroke-width="2.4"/>
<path d="M472.6 971L469.5 1176" stroke="#2c2c2c" stroke-width="2.4"/>
<path d="M528.5 973L529 1031" stroke="#2c2c2c" stroke-width="2.4"/>
<path d="M42.5 1157.3L497 1177.6V1174L514 1182L497 1190V1186.4L42.5 1165.9Z" fill="#ac2020" stroke="none"/>
<path d="M497 1174L514 1182L497 1190Z" fill="#e02626" stroke="none"/>
<path d="M514 1180.5L668 1187.4V1185.4L681 1190.5L668 1195V1192.6L514 1185.5Z" fill="#155a1c" stroke="none"/>
<path d="M50.3 861L44.4 893H47.5L43.3 1160H48.7L53 893H56.2Z" fill="#2020a4" stroke="none"/>
</g>
<g id="pd" filter="url(#soft)">
<path d="M1033.5 969.9L1400 955.8L1865.2 945.1" stroke="#101010" stroke-width="3.2"/>
<path d="M1034 970L1035 1239" stroke="#2a2a2a" stroke-width="2.5"/>
<path d="M1865.4 945L1866 1216" stroke="#2a2a2a" stroke-width="2.5"/>
<path d="M1216.9 964.2L1219.6 1236" stroke="#2c2c2c" stroke-width="2.5"/>
<path d="M1403 957.5L1405 1228" stroke="#2c2c2c" stroke-width="2.5"/>
<path d="M1544.6 953.1L1546.6 1224" stroke="#2c2c2c" stroke-width="2.5"/>
<path d="M1705.5 949.1L1707.5 1220" stroke="#2c2c2c" stroke-width="2.5"/>
<path d="M1035 1178.2L1472 1164.5" stroke="#1c1c1c" stroke-width="2.6"/>
<path d="M1472 1162.5L1866 1152" stroke="#1c1c1c" stroke-width="2.6"/>
<path d="M1472 1162.5L1472 1165" stroke="#1c1c1c" stroke-width="2"/>
<path d="M1470.7 833.5L1465.6 875H1468.3L1469 1228H1474.6L1474 875H1476Z" fill="#2020a4" stroke="none"/>
<g transform="scale(.5 0.79)">
<path d="M2459 1533zm1 4zm6-1zm5-6zm0 2zm16 7zm10-1zm14-5zm9 4zm4 2zm15-5zm9 0zm38 0zm25-4zm23 6zm28-2zm12-1zm10-3zm9 0zm6 5zm19 2zm22 2zm15-1zm7-7zm32 7zm8-3zm4-1zm11 0zm18 3zm11-5zm7 3zm12 0zm5-5zm7 0zm13 0zm9 9zm0-4zm12 1zm22 1zm20-7zm14 6zm46-2zm24-4zm23 6zm23-6zm57 9zm9-9zm7 1zm4-1zm18 4zm4-4zm9 0zm26 6zm46 0zm1-4zm7 3zm52-3zm15-2zm3 2zm7-2zm11 5zm10 0zm12-3zm11 0zm20 0zm-940 8zm15 2zm48-2zm43 0zm86 0zm37 0zm77 0zm83 0zm274 1z" stroke="#4c338d" stroke-width="12.8"/>
<path d="M2459 1533zm1 4zm6-1zm4-4zm1-2zm0 9zm16 0zm9-1zm15-6zm9 5zm4 2zm15-5zm9 0zm38-1zm25-3zm23 5zm28-1zm2 5zm9-7zm11-2zm9 0zm5 4zm2 5zm18-2zm21 1zm16-1zm7-6zm32 7zm8-3zm4-1zm10-1zm18 4zm11-5zm8 3zm7 4zm4-4zm5-5zm8 0zm13 0zm8 5zm1 4zm11-4zm22 2zm21-7zm14 5zm46-1zm24-4zm22 5zm24-5zm56 8zm10-8zm6 1zm4-1zm19 4zm3-4zm10 0zm26 5zm46 1zm1-5zm6 4zm52-4zm15-1zm3 2zm8-3zm10 5zm10 1zm1-1zm12-2zm11 0zm20-1zm-925 11zm47-2zm43 0zm201 0zm357 0z" stroke="#7757ca" stroke-width="7.04"/>
<path d="M3472 1539zm84 0z" stroke="#412c7a" stroke-width="12.8"/>
<path d="M3472 1539zm83 0z" stroke="#54389d" stroke-width="7.04"/>
<path d="M2417 1517zm24-1zm4 6zm10 2zm13-6zm25 2zm12 5zm0-7zm8 6zm7 1zm9-10zm3 7zm10-5zm9 0zm21 4zm33-7zm0 11zm12-10zm8 2zm33 8zm0-7zm9-4zm15 8zm4-7zm8 4zm4-5zm15 2zm6 5zm1-2zm16 1zm2 0zm19-1zm15 2zm1-2zm10-4zm15 3zm6 5zm4-5zm30 4zm1-2zm11-2zm35 7zm6-1zm4-3zm10 0zm22-7zm5 9zm16-1zm6-2zm5-3zm13 5zm3-6zm25 7zm2-4zm12-1zm15-4zm132 1zm16 4zm7 5zm10-6zm5 7zm8-10zm20 1zm16 6zm9-7zm4 5zm3-3zm0 2zm7 5zm6-4zm2-1zm5 5zm6-9zm19 4zm1 6zm9-5zm5-2zm1-4zm17 11zm1-9zm3 2zm7 3zm11-7zm5 5zm13 0zm12-2zm2 6zm6-6zm6 0zm5 1zm14-3zm6 10zm12-9zm2-3zm45 4zm85 2zm-1164 8zm6 0zm137 0zm43 1zm21 1zm25 0zm10 0zm65-2zm9 1zm7 0zm6-2zm0 3zm44-3zm25 0zm9 3zm13-3zm53 1zm15 0zm41-1zm7 1zm7 2zm17-2zm7-1zm66 0zm59 0zm26 2zm2-2zm94 3zm22-3zm58 1zm26-1zm27 3zm2-3zm17 1zm10 1zm45-1zm33 1zm77-2z" stroke="#3f2b8b" stroke-width="12.8"/>
<path d="M2417 1517zm24-2zm3 7zm10 2zm13-6zm25 2zm12-3zm1 8zm8-1zm7 1zm8-10zm3 7zm11-6zm8 0zm22 5zm32 4zm1-11zm11 1zm8 1zm34 9zm0-7zm8-4zm15 8zm5-7zm7 3zm5-4zm15 2zm6 5zm1-2zm15 1zm3 0zm19-1zm15 2zm1-2zm10-5zm14 4zm7 5zm4-5zm29 4zm2-2zm10-3zm35 8zm6-2zm5-2zm10 0zm22-7zm5 9zm4 2zm11-3zm6-2zm6-3zm12 5zm3 3zm1-10zm24 8zm3-4zm12-1zm15-4zm12 11zm87 0zm32-10zm16 3zm8 5zm9-5zm5 7zm9-11zm19 1zm16 6zm2 4zm7-11zm4 5zm3-3zm1 2zm7 5zm6-3zm2-1zm4 5zm6-10zm20 11zm0-7zm10 1zm4-1zm2-4zm7 11zm9-1zm2-8zm3 2zm7 3zm11-8zm5 6zm13-1zm12-1zm2 5zm6-6zm6 1zm5 1zm14-4zm5 11zm12-9zm2-3zm45 4zm52 8zm33-6zm-1163 8zm6-1zm136 0zm44 1zm21 1zm25 1zm9 0zm65-2zm10 0zm7 1zm6-2zm0 2zm44-2zm25 0zm9 3zm12-3zm54 1zm14-1zm48 0zm7 3zm17-3zm132 0zm27 2zm96 0zm79-2zm54 3zm2-3zm17 0zm9 2zm45-2zm33 1z" stroke="#674dc7" stroke-width="7.04"/>
<path d="M2256 1522zm124-9z" stroke="#362578" stroke-width="12.8"/>
<path d="M2256 1522zm124-9z" stroke="#46309b" stroke-width="7.04"/>
<path d="M3367 1497zm-916 9zm19-3zm3 3zm8 3zm9 0zm6-8zm2 8zm3-8zm2 9zm5-6zm13 5zm9 0zm25-6zm5 8zm8-8zm9 5zm4-9zm4 9zm5 0zm3-6zm9 9zm2-2zm14-10zm9 4zm39 0zm8-2zm11 7zm21 1zm6-6zm17 4zm10-6zm16-3zm2 5zm5-5zm2 3zm23 0zm4-2zm3 11zm8-10zm18 4zm11 7zm2-3zm10-7zm6 9zm10-2zm5 0zm9-5zm25-1zm31-1zm25-1zm3 3zm34 5zm7-3zm19-6zm3 10zm110 0zm29-1zm16 1zm4-7zm1 6zm9 0zm9 0zm8-8zm3 9zm2-9zm10 6zm14-2zm1 5zm8 1zm13 1zm7-8zm4-4zm0 2zm36 5zm5-2zm1-4zm1 11zm37-1zm1-11zm10 5zm1 6zm25-7zm8-3zm1 11zm15-1zm7-1zm2-9zm13 1zm45 10zm-911 2zm7 0zm27-1zm73 0zm93 1zm91 0zm94 0zm50-1zm201 0zm19 1zm127-1z" stroke="#2c1f89" stroke-width="12.8"/>
<path d="M2754 1497zm8 0zm604 0zm-915 8zm19-2zm3 2zm8 4zm9 0zm6-8zm2 8zm2-8zm2 9zm6-6zm13 5zm9 0zm25-6zm5 7zm7-7zm10 5zm4-9zm3 9zm5 0zm4-6zm5 9zm4-1zm2-2zm14-9zm8 3zm40 0zm6 9zm2-11zm10 7zm21 1zm7-5zm17 4zm10-7zm18 3zm6-3zm24 1zm3-2zm4 11zm8-10zm17 4zm12 6zm1-3zm11-7zm6 10zm10-2zm5-1zm9-4zm24-1zm32-2zm24-1zm4 4zm34 5zm7-3zm19-6zm2 10zm111-1zm29 0zm15 1zm4-7zm2 6zm9 0zm9-1zm7-7zm4 9zm2-9zm10 5zm13-1zm2 4zm8 1zm13 2zm6-8zm4-5zm1 2zm35 6zm5-2zm2-5zm0 11zm38-1zm1-11zm10 6zm0 6zm26-7zm8-3zm0 11zm16-2zm6-1zm3-8zm13 0zm45 11zm-912 2zm7-1zm194 0zm91 1zm94-1zm50 0zm201 0zm18 1zm127-1z" stroke="#4f3ec4" stroke-width="7.04"/>
<path d="M3538 1504zm4 0z" stroke="#261b76" stroke-width="12.8"/>
<path d="M3538 1504zm3 0z" stroke="#312398" stroke-width="7.04"/>
<path d="M2514 1483zm25-2zm8 1zm6 1zm72-2zm20 2zm50-1zm39 0zm18 1zm22-2zm43 1zm12 0zm12 0zm24 1zm9-1zm72 1zm257-2zm80 0zm29 2zm12 0zm25-1zm18 1zm16 0zm11-1zm27-1zm-968 4zm25 5zm2 6zm1-11zm8-1zm11 0zm16 7zm19 6zm8-10zm8 3zm10 1zm8 2zm5 1zm4-7zm28 6zm0 3zm2-8zm7-4zm12 10zm6-3zm2 3zm3-8zm13 2zm5-3zm13 1zm10 3zm24-2zm7 3zm51-5zm44 7zm3 1zm19-6zm5 6zm4 3zm7 1zm6-13zm0 8zm19-1zm13-1zm1-6zm13 2zm5 7zm4-6zm6-1zm10 3zm0-5zm1 12zm8-5zm4-6zm8 6zm15 4zm5-1zm6-6zm5-4zm1 9zm21 3zm0-10zm20 7zm82-8zm91 8zm1 3zm2 1zm3-4zm6 1zm22 3zm1-13zm6 9zm19 3zm17-10zm6 7zm17-8zm12 5zm10 6zm15-3zm3-6zm22 5zm6 2zm5-7zm3 3zm15 5zm15-6zm6-3zm0 6zm23-3zm11 3zm2 1zm1-7zm4 7zm3-2zm4-2zm39 6z" stroke="#1e1788" stroke-width="12.8"/>
<path d="M2500 1483zm14 0zm25-2zm8 1zm6 0zm72-1zm20 2zm49-2zm39 1zm19 1zm22-2zm43 1zm12 0zm12 0zm23 1zm10-2zm46 2zm26-1zm257-2zm79 0zm29 2zm12 0zm26 0zm18 0zm15 1zm12-1zm27-1zm-968 4zm25 5zm1 5zm1-11zm9 0zm27 7zm18 6zm8-11zm9 3zm10 1zm8 2zm5 2zm4-7zm27 6zm1 3zm1-9zm8-3zm12 10zm6-3zm2 2zm2-7zm13 1zm6-2zm12 1zm11 3zm23-3zm7 4zm52-5zm44 7zm3 0zm19-5zm5 5zm4 4zm7 0zm6-12zm0 8zm19-1zm13-2zm0-5zm14 1zm5 8zm3-7zm6 0zm11 3zm1 7zm8-6zm4-5zm8 5zm15 4zm5 0zm5-7zm5-3zm2 9zm20 3zm0-10zm20 6zm83-7zm90 8zm2 3zm1 0zm4-3zm6 0zm21 3zm2-12zm6 9zm18 3zm18-11zm6 7zm17-8zm11 5zm11 7zm15-3zm2-7zm23 6zm6 1zm4-6zm3 3zm15 5zm16-6zm6-4zm0 6zm23-2zm11 2zm2 2zm1-7zm4 6zm3-2zm4-1zm38 6z" stroke="#3d34c2" stroke-width="7.04"/>
<path d="M3135 1481zm-794 5z" stroke="#1a1475" stroke-width="12.8"/>
<path d="M3135 1480zm-795 5z" stroke="#211a97" stroke-width="7.04"/>
<path d="M2444 1466zm61 1zm8 1zm4-1zm47 2zm31-1zm22-2zm41 0zm18 0zm18 3zm46-2zm42 0zm23 0zm31 0zm21-2zm15 3zm28 0zm20 0zm31-3zm22 1zm22 2zm4 1zm232-4zm14 1zm11 1zm22 0zm75-2zm26 1zm17 0zm8 1zm23 1zm2 0zm1-4zm-979 11zm8-4zm7 9zm19-1zm3 1zm3-4zm20 0zm5 3zm2-4zm8-5zm18 5zm3 1zm14 1zm20 2zm18-7zm1 7zm4-2zm4 3zm3-1zm15-9zm10 8zm8-5zm10-3zm15 2zm2 0zm10 2zm8 4zm6-5zm9-2zm9-1zm2 10zm0-1zm12-3zm0 2zm32-8zm4 9zm7-9zm4 1zm14 1zm4 7zm8-3zm25 1zm1-5zm9 6zm8-6zm10 5zm4-7zm7 6zm8 0zm4-1zm3 2zm13 2zm1-5zm9-4zm7 0zm18 9zm11-6zm3 4zm21 3zm20-5zm1-5zm202 4zm11-4zm8 6zm17-5zm23 5zm16-2zm27 0zm1-1zm5 6zm2-1zm6-7zm4 1zm6-2zm0 4zm16-3zm2 4zm6 4zm14-5zm8-4zm4 6zm5-3zm24 2zm29 4zm21-9zm16 6zm3 2zm38 0z" stroke="#101187" stroke-width="12.8"/>
<path d="M2443 1466zm61 1zm9 1zm3-1zm48 2zm30-2zm23-1zm8 3zm33-4zm18 1zm17 2zm20 1zm27-2zm42-1zm23 1zm31-1zm21-1zm15 2zm27 1zm10 1zm10-1zm32-4zm22 2zm21 2zm5 1zm232-4zm13 1zm11 1zm22-1zm34 3zm42-4zm26 1zm16 0zm9 0zm22 1zm3 0zm1-3zm-979 11zm7-4zm7 8zm19 0zm4 0zm2-4zm21 0zm5 3zm1-4zm9-4zm18 5zm3 0zm14 1zm20 2zm17-6zm1 6zm5-1zm3 3zm4-2zm24-1zm8-4zm11-3zm14 1zm3 1zm10 1zm7 4zm7-4zm9-3zm10 9zm1 0zm11-1zm0-2zm33-6zm4 9zm7-9zm4 0zm14 1zm4 8zm7-3zm25 0zm2-5zm8 6zm8-5zm10 5zm5-7zm7 6zm7 0zm4-2zm4 3zm13 2zm1-5zm9-4zm25 9zm11-7zm2 5zm22 3zm20-10zm0 5zm202-2zm12-3zm7 6zm17-6zm23 6zm16-2zm28-1zm1 0zm5 6zm2-2zm6-6zm4 1zm5 1zm17-2zm1 3zm6 4zm15-5zm7-3zm4 6zm5-3zm24 1zm30 4zm21-8zm15 6zm3 2zm38 0z" stroke="#2b2cc2" stroke-width="7.04"/>
<path d="M2376 1464zm1202 4zm-1355 6zm910 5zm391-5zm29 4z" stroke="#0e0e74" stroke-width="12.8"/>
<path d="M2376 1464zm1202 4zm-1356 6zm911 5zm391-6zm29 4z" stroke="#121396" stroke-width="7.04"/>
<path d="M2500 1450zm4 3zm16 1zm9-4zm13 4zm14-5zm1 6zm17-3zm56 1zm19-1zm34 1zm21 0zm18-1zm17 2zm6-6zm7 3zm22 2zm21-3zm8 5zm0-5zm51 3zm22-4zm8 5zm5-2zm36-2zm29 0zm15 3zm217-3zm10-2zm41 5zm8 2zm6-3zm31 2zm26-1zm4-3zm30 2zm4-3zm5 6zm1-6zm2 2zm15 0zm30 1zm18 1zm25 1zm-987 4zm12 0zm22 3zm28-3zm8 4zm5-6zm14 4zm6 0zm7-2zm9 5zm12 1zm6-4zm6-4zm3 6zm15-3zm17-1zm3 4zm5-2zm3 3zm12 1zm21-7zm6 4zm30-4zm12 4zm1-4zm29 7zm1-6zm23 4zm10-5zm16 6zm18 1zm4-7zm1 5zm7-6zm2 6zm18 0zm11-6zm7 8zm2-2zm4 0zm26-5zm2 3zm3-3zm16 4zm10-2zm51 4zm54-5zm122 6zm24-8zm11 4zm8 2zm19 0zm10 2zm1-7zm13-1zm25 8zm1-4zm10-1zm3 0zm13-3zm13 7zm2-3zm5-3zm28 1zm17 5zm18-7zm1 4zm41 4zm0-5zm31-2z" stroke="#0a1e80" stroke-width="12.8"/>
<path d="M2500 1449zm4 3zm16 2zm8-4zm14 3zm14-4zm1 6zm17-4zm15 4zm41-2zm19-2zm34 2zm20 0zm18-1zm18 1zm5-5zm8 3zm21 2zm22-3zm7 0zm1 5zm51-3zm3 3zm18-6zm9 4zm4-2zm37-1zm29-1zm14 4zm211 2zm6-5zm11-2zm41 5zm7 1zm7-2zm31 2zm11 1zm15-2zm3-4zm31 2zm4-2zm5 5zm0-5zm3 2zm14 0zm31 0zm18 1zm25 2zm-988 4zm13 0zm21 3zm28-4zm9 5zm4-6zm14 4zm6 0zm8-3zm9 6zm12 1zm6-4zm8 1zm16-2zm17-2zm3 5zm4-3zm4 3zm12 1zm20-7zm7 5zm29-5zm13 5zm1-5zm29 7zm1-5zm23 3zm9-4zm16 6zm19 1zm3-8zm2 5zm6-5zm3 6zm18-1zm17 3zm2-2zm4 0zm27-5zm1 3zm4-3zm16 3zm10-1zm51 4zm53-5zm122 6zm36-5zm7 3zm20 0zm10 1zm1-7zm12 0zm26 8zm1-4zm10-1zm3 0zm25 3zm2-3zm6-2zm27 1zm18 5zm17-7zm2 4zm41 3zm0-5zm31-2z" stroke="#233db8" stroke-width="7.04"/>
<path d="M2166 1452zm867-1zm729 7z" stroke="#081a6e" stroke-width="12.8"/>
<path d="M2166 1452zm867-2zm729 8z" stroke="#0b218e" stroke-width="7.04"/>
<path d="M2446 1440zm9-2zm72-2zm18-4zm10 6zm25-4zm6 4zm22 3zm15-7zm13 4zm12-2zm30-2zm36-1zm10 1zm7 4zm37-4zm36-2zm2 7zm9 2zm5-8zm8 6zm3-5zm3-2zm3 5zm4-5zm16 1zm17-1zm0 9zm11-6zm7 0zm16 2zm17 2zm0-5zm18-1zm14 0zm7 4zm1-4zm7 7zm15 1zm22-4zm160 2zm4-5zm5 4zm16 3zm12 0zm7-6zm17 4zm18 2zm7-1zm3-8zm16 8zm8-7zm18 8zm5-5zm19-2zm3 7zm17-5zm5 3zm24-7zm22 2zm4 6zm6-5zm2 0zm35 1zm3 0zm4 5zm-981 3zm49 0zm4 0zm6 1zm1-1zm10-2zm11 3zm18-2zm11 2zm5-3zm74 2zm6-2zm11 4zm18-1zm7-1zm36-1zm17 5zm47-4zm7-2zm9 1zm27 3zm18 2zm4-5zm17-1zm33 5zm27-4zm17 1zm5-2zm8 5zm8-4zm187-1zm47 4zm7 1zm0-5zm18 1zm11 2zm6 2zm55-5zm25 3zm20 1zm40-1zm15 1zm38-1zm8 0z" stroke="#073873" stroke-width="12.8"/>
<path d="M2446 1440zm9-3zm71-1zm19-4zm10 5zm25-3zm6 3zm22 4zm15-8zm12 5zm13-3zm30-1zm35-1zm11 1zm7 3zm36-4zm37-1zm2 6zm9 2zm5-8zm8 7zm2-6zm4-1zm3 5zm4-5zm15 0zm18 0zm0 9zm7 0zm4-6zm7 0zm15 2zm18 2zm0-5zm17-2zm15 1zm6 8zm1-4zm0-5zm7 8zm15 1zm23-5zm160 3zm4-5zm4 4zm17 2zm12 0zm6-5zm8 6zm10-3zm18 3zm7-1zm3-8zm16 7zm8-6zm17 8zm6-5zm18-3zm3 8zm18-6zm5 3zm24-6zm21 2zm5 6zm5-5zm3-1zm34 1zm4 1zm3 5zm-980 3zm49-1zm4 1zm5 0zm2-1zm10-1zm11 3zm17-2zm11 2zm6-3zm74 2zm6-2zm11 4zm17-2zm8 0zm36-1zm17 5zm46-5zm8-1zm9 1zm26 2zm18 2zm5-4zm50 3zm26-4zm17 1zm14 4zm8-4zm186-1zm48 3zm6 2zm19-5zm11 3zm6 2zm54-5zm26 3zm19 1zm40-2zm16 1zm38 0zm8-1z" stroke="#205da9" stroke-width="7.04"/>
<path d="M2288 1441zm37 0zm793-8zm520 8zm23 0z" stroke="#063063" stroke-width="12.8"/>
<path d="M2288 1441zm37 0zm792-8zm520 8zm24 0z" stroke="#083e80" stroke-width="7.04"/>
<path d="M2458 1426zm12-9zm6 5zm5-1zm11-3zm12 2zm12 0zm10 7zm7-10zm12 5zm20 5zm13-8zm3 3zm11 1zm7-2zm34-3zm13-2zm24 1zm8 3zm14 5zm1 2zm1-4zm19 1zm8-4zm2 3zm8-7zm11 2zm25 5zm5 4zm7 0zm26-4zm0 3zm3-7zm18 0zm26 5zm0-7zm8-1zm2 4zm2 3zm6 3zm9-2zm1-6zm5 7zm3-4zm18-2zm1-1zm3-1zm15 7zm4-7zm17 3zm2-3zm7 2zm15 1zm16-1zm19-3zm100 11zm75-8zm12-2zm8 8zm2-8zm11 5zm9-4zm8 5zm28 2zm4 0zm8 1zm8-1zm4 2zm5-7zm1 6zm14-3zm4-2zm10 0zm2-5zm2 7zm7 4zm1-3zm10 2zm23-4zm5 0zm12 1zm4-5zm16 6zm14-1zm15-2zm2-1zm0 3zm21-7zm6 5zm-1004 7zm23 4zm4-4zm8 1zm40-1zm60 1zm12 1zm8-1zm16-1zm11 0zm27 2zm63 0zm36-2zm72 2zm2-1zm7-1zm18 2zm53-2zm43 0zm23 0zm0 2zm5 0zm17 0zm200 0zm18 0zm5-2zm8 2zm8-1zm12-1zm26 3zm27 0zm33 0zm38-2zm3 2zm30-1zm27 1zm12-2z" stroke="#07524c" stroke-width="12.8"/>
<path d="M2451 1427zm7-1zm12-9zm6 5zm2 5zm3-7zm11-3zm11 3zm13 0zm10 7zm0-1zm7-9zm11 5zm21 4zm12-7zm3 3zm12 1zm7-2zm33-3zm13-3zm24 1zm8 3zm14 5zm2 2zm1-3zm19 1zm8-4zm2 3zm8-8zm10 3zm19 9zm7-4zm5 4zm6 0zm26-5zm0 3zm3-6zm19-1zm26 6zm0-7zm8-2zm1 4zm3 4zm5 3zm10-2zm1-6zm4 6zm4-3zm18-4zm0 2zm4-3zm14 8zm5-7zm17 3zm2-4zm7 3zm15 1zm16-1zm18-3zm101 11zm74-8zm12-2zm9 8zm2-8zm10 5zm9-4zm2 9zm6-4zm28 2zm4 0zm9 0zm7 0zm5 2zm5-1zm0-7zm15 3zm3-1zm11 0zm2-6zm1 7zm8 5zm1-3zm9 2zm24-4zm5 0zm12 0zm4-4zm16 6zm14-1zm15-3zm2 0zm0 2zm20-7zm6 6zm-980 10zm11-3zm101 1zm12 1zm8-1zm15-1zm12 0zm27 1zm63 0zm108 1zm2-1zm7-1zm18 1zm52-1zm43 0zm23 0zm0 1zm5 1zm18 0zm200-1zm18 1zm13 0zm7-1zm13-1zm26 3zm27 0zm33-1zm38-1zm3 2zm29-2zm27 2zm13-2z" stroke="#207e77" stroke-width="7.04"/>
<path d="M3122 1420zm35-4z" stroke="#064641" stroke-width="12.8"/>
<path d="M3121 1420zm35-4z" stroke="#085b54" stroke-width="7.04"/>
<path d="M3220 1399zm-752 12zm38-8zm19 7zm22-10zm3 8zm4-1zm25-2zm5 2zm7-3zm1 7zm4-4zm15 5zm5-6zm6 6zm0-8zm6-4zm1 8zm1 2zm5 1zm17 0zm0-10zm17 10zm11-10zm4 12zm4-10zm10-1zm3 0zm9-1zm0 11zm0-5zm6 1zm1 3zm14 0zm5-3zm4-4zm16 2zm21 2zm15 4zm18-2zm39 3zm8-4zm3-8zm14 5zm17 3zm3-5zm16-4zm3 6zm30 6zm5-2zm7-3zm0-7zm53 9zm5 2zm176-9zm4 1zm15-1zm12 5zm4-1zm4-5zm2 11zm4-11zm12 7zm4-8zm3 8zm13-8zm21 7zm4-1zm5-2zm5 9zm3-9zm4 2zm5 2zm10 1zm2-4zm18-2zm4 6zm0-1zm10-2zm5-5zm8 1zm1 5zm6-4zm12 6zm25-8zm12 8zm8 3zm-970 3zm26 0zm15-1zm21 1zm28-1zm144 0zm224 1zm40 0zm236-1zm14 0zm55 0zm17 0zm73 0zm15 1zm28 0zm1 1z" stroke="#08662b" stroke-width="12.8"/>
<path d="M2546 1399zm81 0zm283 0zm309 0zm30 0zm-781 11zm38-7zm19 6zm25-2zm4 0zm0 6zm25-8zm5 2zm7 4zm0-7zm5 3zm15 5zm5-6zm5-2zm1 8zm6-4zm2 2zm4 1zm17-11zm1 10zm17 1zm10-10zm4 12zm4-11zm11-1zm2 1zm10-1zm0 6zm0 4zm6-3zm1 3zm14-1zm4-2zm4-5zm16 3zm22 2zm15 4zm18-2zm39 3zm8-5zm3-7zm14 5zm17 3zm3-5zm19 1zm30 7zm5-3zm6-9zm1 6zm53 2zm4 3zm177-9zm3 1zm15-1zm12 4zm4-1zm5-4zm2 11zm3-12zm13 8zm6-1zm13-7zm2 13zm20-6zm4-1zm5-3zm4 10zm4-9zm3 2zm5 2zm10 1zm2-5zm19-1zm3 5zm1-1zm9 6zm1-8zm4-5zm8 2zm1 4zm6-4zm12 7zm26-9zm11 8zm9 3zm-970 3zm25 0zm15 0zm22 1zm172-1zm223 0zm40 0zm236 0zm15 0zm71 0zm88 0zm28 1zm1 0z" stroke="#21994e" stroke-width="7.04"/>
<path d="M3027 1403zm454 5zm70-1z" stroke="#075825" stroke-width="12.8"/>
<path d="M3027 1403zm453 4zm70 0z" stroke="#097230" stroke-width="7.04"/>
<path d="M2504 1385zm4 0zm29-1zm100 1zm94-1zm99-1zm25 1zm24-1zm7 1zm17 0zm309-1zm28 2zm32-1zm2 0zm24-1zm9 0zm52 2zm6-1zm33 1zm-885 8zm8 1zm15 5zm12-9zm9 6zm4-6zm8 4zm4-5zm29 9zm4-1zm12 1zm7-1zm10-5zm2 5zm21 1zm12-1zm2-10zm10 3zm9-4zm1 3zm3-3zm2 10zm1-8zm3 0zm30 10zm5-1zm11-4zm3 5zm2-4zm9-8zm4 11zm9 0zm1-8zm6 3zm4 1zm7 3zm12-7zm9 4zm1-3zm28-4zm0 13zm13-8zm2 1zm11-2zm51 6zm3-9zm2 5zm12 1zm14-2zm41 7zm207-1zm5 1zm4-4zm11-1zm9 0zm6-6zm0 3zm4-1zm0 6zm12-5zm11 2zm7-1zm18 4zm16-2zm4 5zm12-4zm1-1zm4-7zm5 9zm1-2zm9-4zm2 5zm21-3zm4 3zm7-3zm22-3zm11-1zm2 11zm2-11zm7 7zm11-2zm16 2z" stroke="#0b761c" stroke-width="12.8"/>
<path d="M2503 1385zm5 0zm28-2zm100 1zm94-1zm99 0zm25 1zm25-1zm6 0zm17 1zm309-1zm28 2zm33-1zm1 0zm25-1zm8 0zm15 2zm38-1zm5 0zm33 1zm-884 8zm8 1zm15 5zm12-10zm9 6zm4-5zm8 4zm3-5zm29 9zm4-2zm12 1zm7 0zm11-5zm1 4zm22 1zm11-1zm3-9zm9 3zm10-1zm0-3zm4 0zm2 9zm1-7zm2 0zm31 9zm4-1zm11-4zm4 6zm2-5zm8-7zm4 10zm9 1zm2-8zm5 3zm4 1zm7 3zm13-8zm8 4zm1-3zm28-3zm1 13zm13-8zm2 1zm10-2zm52 6zm2-9zm3 4zm12 2zm14-2zm41 7zm207-1zm5 1zm4-4zm10-1zm10-1zm6-5zm0 3zm3-2zm1 6zm11-4zm12 1zm7 0zm18 4zm16-2zm3 4zm12-3zm2-2zm9 3zm1-3zm8-3zm2 5zm22-4zm3 4zm7-3zm23-3zm11-1zm1 11zm2-11zm8 6zm11-2zm16 3z" stroke="#25ac3a" stroke-width="7.04"/>
<path d="M2406 1385zm38 2z" stroke="#096518" stroke-width="12.8"/>
<path d="M2405 1384zm38 2z" stroke="#0c831f" stroke-width="7.04"/>
<path d="M2505 1368zm5 2zm55-2zm53 0zm5 1zm14-2zm9 0zm58 0zm26 4zm3-2zm1 0zm34 1zm8-2zm23 2zm23 1zm60-4zm51 2zm25-1zm290 1zm8 0zm50-1zm26 1zm-867 12zm30-4zm55 4zm1-9zm7 5zm7 1zm13 4zm4-6zm20-1zm5 7zm1-7zm0 2zm6 1zm10 4zm9 0zm8-1zm2 1zm5-9zm2 5zm2 5zm11 0zm0-7zm9 6zm10-10zm2 2zm2 0zm16 8zm12-6zm2-1zm6-2zm6 7zm5-2zm14 5zm1-4zm6-6zm9 6zm17-3zm9 1zm14 3zm8-1zm26-3zm19 6zm13-1zm10-6zm26 2zm65-3zm4 8zm188-6zm56-2zm8 0zm1 1zm10 0zm18 5zm2-6zm4 4zm13-1zm23 2zm13-4zm12 6zm1-7zm31 4zm6-2zm2 0zm10-4zm2 10zm5-7zm10-3zm21 9zm3 0zm27-6z" stroke="#13820e" stroke-width="12.8"/>
<path d="M2505 1368zm5 1zm40 2zm14-4zm53 1zm5 1zm14-2zm10 0zm57 0zm27 3zm3-2zm34 2zm9-2zm22 2zm23 1zm60-4zm52 2zm25-1zm290 1zm8-1zm50-1zm25 1zm1 1zm57 2zm-924 10zm30-4zm55 3zm7-3zm8 1zm13 3zm4-5zm20-1zm5 7zm1-7zm0 2zm5 0zm11 4zm9 1zm7-2zm3 2zm5-10zm2 6zm1 4zm11 0zm1-6zm9 6zm10-10zm1 2zm3 0zm16 7zm11-5zm3-1zm5-2zm7 6zm4-1zm15 4zm1-3zm5-6zm10 5zm17-3zm8 1zm14 3zm9-1zm26-3zm19 6zm13 0zm9-6zm26 1zm66-3zm3 9zm189-6zm56-2zm7-1zm2 2zm9-1zm19 5zm2-6zm3 4zm13 0zm23 1zm13-3zm13-2zm0 8zm32-3zm6-2zm2 0zm9-4zm2 10zm6-7zm30 6zm4-1zm27-5z" stroke="#2fbb29" stroke-width="7.04"/>
<path d="M3043 1375z" stroke="#10700c" stroke-width="12.8"/>
<path d="M3043 1374z" stroke="#159010" stroke-width="7.04"/>
<path d="M2526 1352zm5-1zm8 2zm44 4zm36-2zm7-2zm2 1zm14 0zm4-3zm22 5zm39-1zm3-1zm6-3zm10 3zm40 0zm32 3zm19-3zm3-1zm15 4zm33-1zm5 1zm8 0zm20 0zm327-2zm14-4zm1 5zm10 1zm6-5zm62-1zm28 0zm21 2zm-882 7zm47 3zm51 1zm7-3zm16 6zm18-1zm17-3zm6-3zm3 6zm3-2zm20-3zm13 2zm2-2zm3-1zm1 5zm0-7zm14 7zm19 0zm6-2zm5 3zm0-7zm14 6zm0-7zm9 4zm23 2zm5 2zm12-4zm20 1zm19 0zm14 3zm15-4zm8 1zm28-4zm5 6zm310-1zm36 0zm5-2zm10-3zm5 8zm6-5zm13-3zm1 7zm6-8zm21 4zm3 2zm7 0zm31-2zm5 1zm2-4zm1 0z" stroke="#2c870e" stroke-width="12.8"/>
<path d="M2526 1352zm5-1zm8 1zm44 5zm36-3zm7-1zm1 1zm14 0zm5-4zm22 6zm38-1zm3-2zm7-2zm9 2zm41 1zm32 3zm19-3zm3-1zm14 4zm34-1zm5 1zm7-1zm21 1zm326-2zm14-5zm2 5zm9 2zm7-5zm44 5zm18-6zm28 0zm21 1zm-883 7zm47 4zm51 1zm7-3zm17 5zm18 0zm17-3zm6-3zm3 5zm3-1zm20-3zm12 1zm3-2zm3 4zm0-5zm0-1zm15 7zm19 0zm5-2zm5 3zm1-7zm13 6zm1-7zm9 4zm23 1zm5 3zm12-5zm20 2zm18 0zm14 3zm15-5zm9 2zm28-5zm4 7zm310-2zm36 0zm6-2zm10-2zm5 7zm6-5zm13 4zm0-7zm27 3zm4 2zm6 0zm32-2zm5 1zm2-4zm0 1z" stroke="#4fc229" stroke-width="7.04"/>
<path d="M2995 1353zm469 4zm-996 5zm645 2z" stroke="#26740c" stroke-width="12.8"/>
<path d="M2994 1352zm470 5zm-996 5zm644 1z" stroke="#319610" stroke-width="7.04"/>
<path d="M2503 1335zm68 8zm10-8zm7 7zm29-5zm25 6zm23 0zm11-5zm0 2zm5-1zm39-2zm12-2zm8 4zm28 0zm1-4zm3 1zm10 1zm69-2zm46 2zm14-2zm58 0zm254 0zm6 6zm41 2zm13-2zm7-3zm23-4zm20 9zm9-5zm30 3zm44-5zm-866 12zm42-4zm7 6zm67-1zm15-3zm20 0zm85-2zm2 3zm59-3zm4 4zm52-2zm19-1zm24 2zm269-2zm48 3zm28-3zm31 0zm3-1zm6 4zm15-1zm24-3zm32 6zm4-4zm6 2zm7 2z" stroke="#458c0e" stroke-width="12.8"/>
<path d="M2503 1334zm68 8zm10-7zm6 7zm5 1zm25-6zm24 5zm23 0zm11-3zm1-1zm4 1zm40-2zm11-2zm9 4zm28-4zm0 3zm3-2zm11 0zm3 7zm66-9zm45 2zm15-2zm58 1zm254 0zm5 5zm42 3zm12-3zm8-2zm23-4zm20 8zm9-4zm29 2zm44-4zm-865 11zm48 3zm68-1zm14-4zm21 1zm87 1zm58-3zm4 4zm52-2zm20-1zm24 1zm268-1zm48 2zm29-3zm31 1zm2-1zm6 4zm15-1zm25-3zm32 6zm4-4zm6 2zm6 2z" stroke="#6ec829" stroke-width="7.04"/>
<path d="M2245 1343zm165-7zm1085 1zm99 9z" stroke="#3b780c" stroke-width="12.8"/>
<path d="M2244 1342zm165-6zm1085 1zm100 8z" stroke="#4c9c10" stroke-width="7.04"/>
<path d="M2549 1326zm40 2zm6-7zm6-2zm11 10zm23-6zm3 4zm31-5zm7 2zm8 0zm45 2zm2 3zm3-11zm4 9zm32-7zm1 7zm18-6zm6 5zm38 0zm44-3zm9-2zm338 2zm5 5zm27-4zm18 4zm7 0zm32-10zm11 5zm15 2zm10-6zm56 6zm25 1zm-901 5zm22 2zm43 0zm34 0zm79 0zm37-3zm236 2zm265-2zm16 2zm62-1zm54 1zm7-2zm33 2z" stroke="#5f9011" stroke-width="12.8"/>
<path d="M2549 1325zm39 2zm7-6zm6-2zm10 10zm24-7zm3 5zm31-5zm7 1zm8 1zm45 2zm2 3zm3-11zm3 9zm7 2zm26-3zm0-7zm19 1zm6 5zm37 0zm45-3zm8-1zm339 1zm5 5zm16 2zm10-5zm18 4zm7-1zm32-9zm11 5zm16 1zm9-5zm56 6zm25 0zm-901 5zm22 3zm43-1zm34 1zm79 0zm274-2zm281 0zm62-1zm54 2zm7-2zm32 2z" stroke="#8fcc2c" stroke-width="7.04"/>
<path d="M2930 1323zm67 6zm445-2zm115-7z" stroke="#527c0e" stroke-width="12.8"/>
<path d="M2929 1323zm67 6zm445-2zm116-7z" stroke="#6aa013" stroke-width="7.04"/>
<path d="M2556 1305zm46 10zm68-7zm34 3zm4 1zm50-6zm11 0zm27 5zm7-9zm34 5zm2 3zm62 3zm288-1zm13-4zm67 7zm4-2zm13 2zm2 0zm4-6zm16 5zm5-10zm8 8zm11-6zm17-2zm33 11zm1-7zm11-3zm-826 12zm157-1zm46 2z" stroke="#7b9215" stroke-width="12.8"/>
<path d="M2556 1304zm46 10zm68-6zm34 3zm3 0zm51-6zm10 1zm28 5zm7-9zm34 5zm2 3zm62 2zm288-1zm12-4zm68 8zm4-2zm13 2zm2-1zm4-5zm16 5zm5-11zm8 9zm11-6zm16-2zm34 11zm1-8zm11-2zm-826 12zm157-1zm45 1z" stroke="#b2cf32" stroke-width="7.04"/>
<path d="M2426 1315zm540-9z" stroke="#6a7d12" stroke-width="12.8"/>
<path d="M2426 1315zm540-9z" stroke="#88a218" stroke-width="7.04"/>
<path d="M3298 1286zm80 0zm-713 8zm45 1zm8-6zm60 5zm30-4zm27 10zm356-1zm46-2zm10-8zm15-1zm4 2zm23 11zm9-13zm13 8zm12 1zm16-1zm59-2zm10 7z" stroke="#939219" stroke-width="12.8"/>
<path d="M3298 1285zm79 0zm-712 8zm45 1zm8-5zm59 5zm31-4zm27 9zm355 0zm47-2zm10-8zm15-1zm3 2zm24 10zm8-12zm14 7zm12 1zm15-1zm60-2zm9 7z" stroke="#d1d037" stroke-width="7.04"/>
<path d="M3626 1287zm-1111 5zm21-4zm333 5zm582 0zm8 0z" stroke="#7f7e16" stroke-width="12.8"/>
<path d="M2536 1287zm1090 0zm-1112 5zm355 1zm581 0zm9 0z" stroke="#a4a31c" stroke-width="7.04"/>
<path d="M2868 1269zm463 1zm-658 12zm56 0zm24 3zm16-2zm540-1zm22 2zm27-3zm17-3z" stroke="#97891b" stroke-width="12.8"/>
<path d="M2868 1269zm462 1zm-657 11zm56 0zm24 4zm16-2zm539-2zm23 3zm26-3zm18-3z" stroke="#d6c439" stroke-width="7.04"/>
<path d="M2562 1278zm8 5zm572 0zm68-2z" stroke="#827617" stroke-width="12.8"/>
<path d="M2561 1278zm8 5zm573 0zm68-2z" stroke="#a8981e" stroke-width="7.04"/>
<path d="M3273 1253zm-585 14zm39 2zm11-5z" stroke="#9a801c" stroke-width="12.8"/>
<path d="M3272 1252zm-585 14zm39 2zm12-4z" stroke="#d9b83b" stroke-width="7.04"/>
<path d="M2801 1257zm570 2zm46-5zm-1039 9zm216 4zm19-6zm8 7z" stroke="#846e18" stroke-width="12.8"/>
<path d="M2801 1257zm570 2zm45-5zm-1038 9zm215 3zm19-6zm9 7z" stroke="#ab8e20" stroke-width="7.04"/>
<path d="M2682 1242zm52-1zm577 0zm14 0zm-585 5zm37 5z" stroke="#97751e" stroke-width="12.8"/>
<path d="M2681 1242zm53-1zm577 0zm14-1zm-585 6zm37 5z" stroke="#d6ab3e" stroke-width="7.04"/>
<path d="M2622 1245zm72-2zm112 1zm473-6z" stroke="#82651a" stroke-width="12.8"/>
<path d="M2622 1245zm72-2zm112 1zm473-7z" stroke="#a88222" stroke-width="7.04"/>
<path d="M3316 1225zm-459 9z" stroke="#815c1b" stroke-width="12.8"/>
<path d="M3315 1225zm-458 9z" stroke="#a77724" stroke-width="7.04"/>
<path d="M2723 1215zm82-3zm-159 7z" stroke="#7f551c" stroke-width="12.8"/>
<path d="M2722 1215zm82-3zm-159 6z" stroke="#a46e24" stroke-width="7.04"/>
<path d="M2518 1193zm55 6zm119 2zm676-1z" stroke="#7c501c" stroke-width="12.8"/>
<path d="M2517 1193zm56 6zm119 1zm676 0z" stroke="#a06824" stroke-width="7.04"/>
<path d="M2533 1174zm716-3zm-454 16zm88-4z" stroke="#794b1c" stroke-width="12.8"/>
<path d="M2533 1173zm716-2zm-455 15zm89-3z" stroke="#9c6024" stroke-width="7.04"/>
<path d="M2597 1157zm176 11z" stroke="#75431b" stroke-width="12.8"/>
<path d="M2596 1157zm176 10z" stroke="#975724" stroke-width="7.04"/>
<path d="M2407 1536zm106-1zm18-3zm0 6zm13-7zm6 1zm15 5zm4-4zm6-1zm20 0zm2 4zm2-4zm56 1zm15 1zm9-1zm7 2zm15-4zm47 1zm0 5zm15-3zm7-2zm10-1zm2 5zm29 3zm11-9zm16 8zm9-7zm8 6zm37-2zm13-3zm10 0zm13 2zm36 1zm13-1zm5 4zm1-6zm4-2zm2 8zm11-6zm1 2zm38 3zm46 1zm77-4zm28-3zm4 6zm11-3zm7-3zm3-1zm42 4zm25 0zm27 1zm0-5zm65 2zm44 3zm31 0zm-946 5zm11 1zm25 1zm22 0zm43-1zm71-1zm381 2z" stroke="#4c338d" stroke-width="12.8"/>
<path d="M2407 1535zm96 4zm10-4zm17-4zm1 6zm12-7zm7 2zm15 5zm3-5zm7-1zm20 0zm1 5zm3-5zm56 2zm14 0zm6 6zm3-6zm8 2zm15-4zm46 0zm0 6zm16-4zm7-2zm10 0zm2 5zm29 2zm11-8zm16 7zm8-6zm8 6zm38-2zm13-4zm10 1zm13 1zm36 1zm12 0zm6 4zm1-7zm4-1zm2 8zm11-6zm0 2zm38 3zm47 0zm77-3zm27-3zm5 5zm10-2zm7-3zm4-1zm42 3zm25 1zm26-4zm1 4zm65-3zm44 3zm31 1zm-935 5zm25 2zm22 0zm42-2zm452 1z" stroke="#7757ca" stroke-width="7.04"/>
<path d="M3503 1530z" stroke="#412c7a" stroke-width="12.8"/>
<path d="M3503 1530z" stroke="#54389d" stroke-width="7.04"/>
<path d="M2461 1513zm15 4zm34-2zm9 6zm3-7zm14 11zm1-6zm2 6zm16-6zm27 6zm9-7zm22 4zm5 2zm12-5zm11 1zm6-5zm1 2zm14-3zm3 5zm12-2zm6 0zm6 5zm5 3zm7-1zm3-3zm79 3zm0-5zm6 4zm12-9zm44 11zm10-1zm4 1zm12-10zm4 7zm16-4zm2-1zm9 0zm9 8zm1-11zm7 8zm5-2zm18-2zm7 1zm9 0zm6 5zm4-7zm7 6zm0-10zm34 10zm6 1zm20-1zm52-7zm34 6zm56-6zm13 7zm9 1zm8-5zm9 1zm19 1zm12-6zm3 8zm2 2zm20-12zm15 8zm12-4zm26-1zm2 5zm26 2zm22-4zm6-4zm26 7zm26-4zm2-5zm2 2zm10 10zm25-1zm72-3zm19-2zm5-4zm-1121 14zm31-2zm26 2zm65-3zm14 2zm54-2zm32 2zm53 1zm40-3zm23 1zm78 2zm55-2zm74-1zm6 2zm218-2zm62 3zm105-2zm6-1zm26 2zm11 1z" stroke="#3f2b8b" stroke-width="12.8"/>
<path d="M2460 1513zm16 4zm34-3zm9 7zm3-8zm13 12zm2-6zm2 6zm16-7zm27 7zm9-7zm22 4zm5 2zm12-6zm10 1zm6-4zm1 2zm14-3zm4 5zm12-3zm5 0zm7 5zm5 3zm6-1zm4-2zm78 2zm1-4zm6 4zm11-9zm44 11zm11-2zm4 2zm11-10zm4 6zm17-4zm2 0zm9 0zm8 7zm1-10zm8 8zm5-2zm17-2zm7 1zm10-1zm6 6zm4-7zm6-4zm1 9zm33 1zm7 0zm20-1zm52-7zm33 7zm57-6zm13 6zm9 1zm8-4zm9 1zm18 1zm13-6zm3 7zm1 2zm21-11zm14 8zm13-4zm26-2zm1 6zm27 2zm21-4zm7-4zm7 10zm18-3zm27-5zm2-4zm2 1zm10 11zm25-1zm71-3zm19-2zm6-5zm-1121 14zm31-1zm25 2zm66-3zm13 2zm54-2zm33 2zm52 0zm40-2zm24 1zm77 2zm56-2zm74-1zm5 1zm218-1zm62 3zm105-3zm33 2zm11 1z" stroke="#674dc7" stroke-width="7.04"/>
<path d="M3067 1518z" stroke="#362578" stroke-width="12.8"/>
<path d="M3067 1518z" stroke="#46309b" stroke-width="7.04"/>
<path d="M2800 1497zm454 0zm107 0zm-892 1zm13 8zm17-8zm24 13zm9-9zm12 5zm1-2zm12 4zm10-1zm12-7zm4 4zm17-4zm25 2zm1 4zm1-1zm28 0zm4-1zm1 2zm17 0zm1-8zm8 1zm25 11zm19-11zm2 11zm7-1zm0-12zm18 10zm11-2zm0 4zm2-12zm4 3zm7 7zm9-1zm12 0zm3 2zm10-1zm1-9zm14 1zm7 8zm8-1zm13-5zm23-1zm8 3zm1-2zm5 1zm11 8zm8-8zm11 8zm15-4zm26 4zm1-7zm2-6zm9 3zm2 3zm12 6zm1-1zm2-1zm26-1zm115-3zm16-4zm34 5zm10-2zm14 2zm15 4zm11-11zm36 10zm8-6zm2-3zm6 2zm5 8zm3-1zm27 1zm3 2zm1-11zm9-2zm10 13zm18-1zm6-11zm6 4zm3-2zm7 9zm8-3zm8-6zm9-1zm3-2zm9 11zm9-2zm6 2zm7-1zm1 1zm27-2zm22-1zm-1008 7zm99 0zm92-1zm43 0zm8 1zm13 0zm62-1zm44 0zm47 1zm26-1zm19 0zm48 0zm180 0zm12 0zm55 0zm149 1zm91 0z" stroke="#2c1f89" stroke-width="12.8"/>
<path d="M2498 1497zm272 0zm30 0zm169 0zm266 0zm18 0zm108 0zm53 0zm-945 1zm12 8zm42 4zm9-8zm11 4zm2-2zm12 4zm10-1zm11-6zm5 3zm16-4zm25 2zm2 4zm1-1zm28 1zm3-1zm1 2zm18 0zm1-8zm8 1zm25 10zm10 1zm8-11zm3 11zm6-13zm1 12zm18-2zm11 2zm0-5zm6-5zm6 7zm10 0zm11 0zm3 2zm0 2zm11-4zm1-9zm14 1zm7 9zm8-2zm12-4zm24-1zm7 2zm1-2zm6 2zm10 7zm8-8zm12 9zm14-4zm26 3zm1-6zm11-3zm3 3zm7 7zm4-2zm2 0zm1-2zm27 0zm114-3zm17-4zm34 5zm9-3zm15 3zm15 4zm9 2zm38-3zm7-6zm3-3zm5 2zm6 8zm2-2zm28 2zm3 1zm1-11zm9-1zm10 13zm18-1zm5-11zm7 3zm2-1zm7 9zm8-4zm8-5zm10-1zm11 9zm10-2zm5 2zm8-1zm1 0zm26-2zm23 0zm-1008 7zm98-1zm93 0zm50 0zm14 0zm105 0zm48 0zm25 0zm19 0zm228 0zm13 0zm204 1zm91 0z" stroke="#4f3ec4" stroke-width="7.04"/>
<path d="M3512 1513z" stroke="#261b76" stroke-width="12.8"/>
<path d="M3511 1512z" stroke="#312398" stroke-width="7.04"/>
<path d="M2461 1483zm172 0zm11-2zm17 1zm70 1zm16-1zm5-1zm49 0zm9 2zm51 0zm30 0zm49-2zm17 1zm19 0zm208 1zm83-1zm141-1zm41 2zm6-1zm-1027 6zm0 2zm42 2zm22 2zm1-10zm7 5zm4 1zm2 7zm4-2zm2-1zm1-6zm15 7zm3-3zm6-8zm7 8zm5-5zm5 3zm5-3zm6 9zm20-1zm7 1zm4-2zm2-7zm3 2zm18 3zm0-3zm2-5zm20 12zm2-4zm6 2zm6 2zm2-6zm1 5zm7-2zm0 2zm15-8zm6 7zm8-4zm0 5zm7-1zm9-7zm5 8zm3-2zm1-8zm6 7zm10-2zm12 0zm4 6zm15-6zm13-4zm1 3zm10-4zm4 11zm27-5zm0-6zm19 1zm7 4zm11-2zm15-1zm10 8zm10 0zm6-8zm34 0zm11 5zm1-1zm12 0zm5-2zm17-2zm8 5zm12-2zm2 3zm8-9zm37 1zm36 5zm8-1zm97-5zm43 2zm2 4zm11-1zm7 1zm1 1zm3-5zm7 11zm4-4zm6-8zm3 7zm7 1zm7 1zm5-9zm8 1zm6 2zm2 1zm6-3zm8-1zm4 7zm6-2zm7-4zm2 11zm21-10zm24 9zm9 0zm1-10zm16 0zm2 4zm8-4zm23-1zm4 11zm33-7z" stroke="#1e1788" stroke-width="12.8"/>
<path d="M2460 1482zm77 1zm83 0zm12 0zm12-2zm17 1zm70 1zm15-1zm6-1zm48 0zm10 1zm51 1zm30-1zm49-1zm16 0zm19 1zm209 1zm2 0zm80-2zm141 0zm41 2zm7-2zm-1028 9zm1-2zm42 4zm22 2zm1-10zm7 5zm4 1zm2 6zm4-1zm2-1zm1-6zm14 6zm4-2zm12-1zm6-5zm4 3zm6-2zm5 8zm20-1zm8 1zm4-2zm2-6zm3 1zm17 4zm1-3zm21 7zm3-4zm6 1zm6 3zm2-6zm1 5zm7-2zm0 2zm14-9zm6 7zm8-3zm1 4zm6 0zm10-7zm5 8zm3-3zm0-8zm6 8zm11-2zm12-1zm4 7zm14-6zm14-4zm1 2zm9-3zm5 10zm27-4zm0-6zm18 1zm8 3zm11-1zm14-1zm11 8zm10 0zm5-8zm34-1zm11 5zm1-1zm13 1zm4-2zm17-3zm8 6zm13-2zm2 2zm8-8zm37 1zm36 5zm7-2zm140-2zm2 3zm11-1zm7 1zm2 2zm3-5zm7 11zm4-5zm5-7zm3 6zm8 2zm7 0zm4-9zm9 1zm6 2zm2 2zm5-4zm8 0zm5 7zm5-2zm8-4zm2 10zm20-9zm24 8zm9 0zm2-9zm16 0zm1 4zm9-5zm22-1zm4 12zm34-8z" stroke="#3d34c2" stroke-width="7.04"/>
<path d="M2440 1467zm57-2zm16 2zm32-1zm28 2zm9 1zm24-1zm41-1zm23-1zm9 1zm36-2zm8 4zm22-2zm14-2zm3 2zm41 0zm30 2zm22-1zm57-3zm30 4zm46-4zm5 4zm3-1zm22 0zm222-3zm8 4zm37-3zm23 3zm25-3zm5 3zm5-2zm4 2zm16-3zm10 0zm14 2zm-910 2zm27 7zm3 2zm16-5zm8 1zm1 5zm3-10zm38 6zm1 4zm4-6zm0-4zm5 7zm9-1zm7-6zm15 7zm8-2zm6 2zm8-1zm14 3zm6-3zm46-1zm10-2zm19-2zm5 2zm3-2zm17 0zm43 5zm12 0zm1-4zm3 7zm11-5zm15-3zm26 0zm16 2zm29 5zm5-1zm3-2zm14-1zm20 0zm3 5zm6-4zm15 0zm19 5zm38-8zm46 8zm81-8zm19 3zm12 5zm22-1zm2-3zm24-6zm30 2zm3 7zm1-2zm13-6zm57 9zm12-1zm18-2zm7-5zm2 6zm3 2zm20-6zm27-2zm11 5zm19-3z" stroke="#101187" stroke-width="12.8"/>
<path d="M2440 1467zm57-3zm16 2zm22 3zm10-3zm28 2zm5 1zm4 0zm23-1zm42-1zm22-2zm10 2zm36-2zm8 3zm21-2zm14-1zm4 2zm40 0zm30 2zm22-1zm57-4zm30 4zm47-4zm4 5zm3-1zm23 0zm222-4zm7 4zm38-3zm22 4zm26-4zm4 4zm5-2zm5 1zm15-2zm10-1zm14 3zm-910 2zm28 6zm3 2zm15-4zm9 6zm0-5zm42 0zm1 5zm4-7zm4 4zm10-2zm7-5zm15 7zm7-3zm6 2zm9 0zm13 3zm7-4zm46 0zm10-3zm19-2zm4 3zm3-2zm17 0zm43 4zm12 0zm2-3zm3 6zm10-4zm15-3zm26 0zm17 2zm29 5zm4-1zm4-3zm13-1zm20 1zm4 4zm5-4zm16 0zm19 6zm38-8zm45 8zm82-8zm19 3zm11 5zm23-2zm2-3zm24-5zm30 2zm3 7zm0-3zm14-5zm56 9zm13-1zm18-2zm6-6zm2 6zm4 2zm19-6zm27-1zm11 4zm19-3z" stroke="#2b2cc2" stroke-width="7.04"/>
<path d="M3550 1479zm23-1zm112-5z" stroke="#0e0e74" stroke-width="12.8"/>
<path d="M3549 1479zm23-1zm112-5z" stroke="#121396" stroke-width="7.04"/>
<path d="M2446 1452zm23 2zm24-1zm71 2zm21-2zm18-1zm5-3zm6 2zm8 3zm18-2zm2-2zm23 3zm9 2zm15-4zm20 0zm25 1zm30-4zm15 0zm10 5zm24 0zm25-2zm40-1zm10 5zm9-5zm6-1zm12 0zm26 5zm41-5zm15 3zm12-3zm177 4zm1 1zm10-2zm11 0zm10 2zm9-4zm31 5zm36-1zm3-3zm24-1zm5 0zm10 1zm46 0zm25 3zm37-3zm-982 11zm5 1zm6-1zm2-1zm27 1zm33 1zm8 0zm15-1zm6-6zm4 4zm5 3zm42 0zm28 1zm15-8zm7 8zm13-4zm8-4zm7 0zm16 0zm17 1zm14 1zm13 5zm3-4zm7 5zm3-7zm4 0zm14 0zm8-1zm15 7zm39-7zm6 6zm11-5zm18 5zm11 1zm17 0zm27 0zm9-6zm13 1zm2 6zm6-6zm2 2zm11-3zm0 4zm2-4zm13 2zm5-2zm10 5zm176 2zm7-3zm14-5zm2 4zm20-2zm25 5zm9 1zm12-1zm21-1zm1-6zm32 8zm46 0zm18-2zm6-6zm5 8zm3-5zm16 0zm1 3zm19-1z" stroke="#0a1e80" stroke-width="12.8"/>
<path d="M2445 1451zm23 2zm25-1zm70 3zm22-2zm17-2zm6-2zm6 2zm8 2zm17-2zm3-2zm22 4zm9 1zm13 1zm3-4zm4 4zm16 0zm0-5zm25 1zm30-3zm14 0zm10 4zm24 0zm26-1zm40-2zm9 6zm9-5zm6-1zm12 0zm27 5zm40-5zm15 2zm12-2zm177 4zm2 1zm10-3zm9 4zm1-4zm11 2zm8-3zm32 4zm36 0zm3-4zm24-1zm5 0zm10 2zm46-1zm16 5zm9-2zm37-3zm-983 12zm5 0zm6 0zm3-1zm27 1zm33 1zm7-1zm16 0zm5-6zm5 4zm4 2zm42 1zm29 0zm15-7zm6 8zm14-4zm47-3zm15 1zm13 5zm3-5zm6 5zm4-7zm4 1zm14 0zm7-1zm15 7zm39-7zm7 6zm11-6zm17 5zm12 2zm16-1zm28 1zm9-7zm12 1zm3 6zm5-5zm2 2zm11-3zm1 4zm2-5zm13 3zm5-2zm10 5zm175 2zm8-4zm15-1zm21-1zm24 5zm10 1zm12-2zm21 0zm1-6zm32 7zm46 0zm17-2zm12 3zm3-6zm15 1zm2 3zm18-1z" stroke="#233db8" stroke-width="7.04"/>
<path d="M3488 1455zm-1117 8zm23-1z" stroke="#081a6e" stroke-width="12.8"/>
<path d="M3488 1455zm-1117 7zm23-1z" stroke="#0b218e" stroke-width="7.04"/>
<path d="M2466 1432zm2 5zm22 4zm8-4zm14-1zm6-1zm14 2zm0 2zm20-6zm15 6zm4-5zm4-1zm16 6zm12-1zm11 3zm15-4zm8 1zm4 1zm6-5zm21 0zm4 0zm9 4zm6-4zm2 5zm16-2zm13 1zm22-5zm2 7zm17-7zm2 2zm16-1zm5 3zm13 2zm1-7zm6 8zm20-3zm31-3zm38 2zm9-4zm30 7zm16-2zm7 2zm34-1zm3 3zm210-7zm28 1zm10 2zm28-2zm8-2zm9 8zm9-9zm22 6zm15-1zm5 2zm15-5zm10 4zm8-6zm18 1zm5 6zm22 2zm2-6zm2 3zm6 2zm7-7zm11 6zm-979 3zm9 6zm1 0zm11-5zm2 3zm13-2zm8 1zm6-3zm25 5zm9-5zm14 0zm5 6zm8-1zm3-4zm12 1zm11 1zm12 1zm8-2zm52 2zm12 1zm28 1zm7-4zm26-1zm24-1zm5 4zm5-1zm7 1zm11-1zm57 2zm25-5zm11 3zm7-2zm12 4zm42 0zm3-5zm50 1zm8 0zm179 1zm33 0zm6-2zm7 3zm29 3zm7-5zm55 3zm36-4zm12 2zm43 1zm9 2z" stroke="#073873" stroke-width="12.8"/>
<path d="M2466 1432zm1 4zm23 5zm8-5zm14 0zm6-2zm13 4zm1-1zm13 4zm6-8zm16 6zm4-5zm4-2zm15 7zm12-2zm11 3zm15-3zm9 0zm4 2zm5-5zm21 0zm4 0zm9 4zm6-4zm2 5zm16-3zm13 2zm22-6zm3 7zm16-7zm3 3zm6 6zm9-7zm5 3zm13 2zm2-7zm5 8zm21-3zm30-3zm25 7zm13-5zm10-4zm29 6zm16-2zm8 2zm34-1zm3 4zm210-8zm28 2zm10 1zm28-2zm7-1zm9 8zm9-9zm22 6zm16-1zm4 2zm16-5zm9 4zm8-6zm18 0zm6 6zm21 3zm3-6zm2 3zm6 1zm7-6zm10 5zm-978 4zm9 5zm1 1zm11-6zm2 4zm13-2zm8 0zm6-2zm24 4zm24-4zm5 5zm8 0zm2-4zm12 1zm12 1zm12 1zm8-2zm52 2zm12 1zm28 0zm6-3zm27-1zm29 2zm4 0zm8 1zm11-1zm57 1zm36-2zm7-2zm11 4zm43 1zm2-5zm51 1zm7 0zm179 1zm33 0zm7-2zm7 2zm28 3zm7-4zm56 3zm35-4zm13 1zm43 2zm9 1z" stroke="#205da9" stroke-width="7.04"/>
<path d="M3675 1435zm-1514 8zm90 0z" stroke="#063063" stroke-width="12.8"/>
<path d="M3674 1434zm-1514 9zm91 0z" stroke="#083e80" stroke-width="7.04"/>
<path d="M2455 1423zm28 1zm8 0zm5-6zm0 8zm6 0zm30-2zm13 1zm6-6zm35 0zm3-2zm45 2zm13 3zm4 0zm2-2zm19 4zm12 2zm4-10zm11 0zm2 8zm12 2zm5-9zm12 8zm24-3zm10-6zm2 7zm17-4zm5 2zm5-4zm23 5zm2-3zm6-3zm10 7zm9-5zm33 7zm1-5zm17 7zm2-5zm25 2zm0 3zm3-7zm14 1zm15-5zm6 5zm26 6zm8-9zm179 0zm15-1zm32-1zm12 4zm9 6zm5-9zm10 1zm4 0zm16 3zm15-5zm19 9zm4-7zm15 3zm6-2zm11 3zm21-3zm41 0zm7-2zm2 7zm9-8zm-964 13zm34 1zm40 0zm30 0zm26-2zm26 2zm16-2zm13 2zm23-1zm69-1zm11 0zm38 2zm5 0zm59-2zm62 3zm23-2zm26 0zm12 2zm16-3zm189 1zm34 0zm106 2zm31-2zm14-1zm56 0zm3 0zm29 1z" stroke="#07524c" stroke-width="12.8"/>
<path d="M2455 1422zm28 1zm7 0zm6-5zm0 8zm6 0zm29-2zm13 0zm7-5zm34-1zm4-1zm1 10zm43-9zm14 4zm3-1zm3-2zm19 5zm11 2zm5-10zm10 0zm2 8zm13 2zm5-9zm11 7zm20 3zm5-5zm10-7zm1 7zm18-4zm5 3zm5-4zm23 4zm2-2zm6-3zm10 7zm8-5zm9 9zm25-2zm1-6zm17 8zm1-5zm25 2zm1 3zm3-8zm13 1zm16-4zm6 4zm25 6zm9-9zm179 1zm15-1zm31-2zm13 5zm8 6zm6-9zm9 1zm5 0zm16 3zm14-5zm20 9zm4-8zm14 4zm7-2zm11 2zm21-2zm41 0zm6-2zm3 6zm4 4zm2 0zm3-12zm-965 14zm35 0zm40 1zm29 0zm53 0zm16-2zm12 2zm23-1zm69-1zm50 1zm4 1zm122 1zm23-2zm26 0zm11 2zm17-3zm188 0zm35 1zm105 1zm31-2zm15 0zm87 0z" stroke="#207e77" stroke-width="7.04"/>
<path d="M2271 1418zm1293 10z" stroke="#064641" stroke-width="12.8"/>
<path d="M2271 1417zm1293 11z" stroke="#085b54" stroke-width="7.04"/>
<path d="M2467 1404zm15 0zm1 9zm10-6zm4 3zm11-7zm9 3zm4-6zm6 4zm10 5zm13 4zm13-7zm7 4zm2-6zm6-2zm10 1zm12 5zm4-7zm12-1zm2 12zm17-11zm11 3zm5 0zm6 3zm12 1zm3-2zm28 6zm2-4zm23-4zm12-3zm21 11zm3-4zm11-5zm3-3zm7 0zm1 4zm16-1zm2 7zm8-8zm8 4zm12 4zm2-7zm2-3zm1 13zm10 0zm0-7zm11-1zm10-1zm5 4zm1-8zm8 5zm12 1zm3 2zm9 4zm12-2zm4-9zm1 8zm0-6zm4 2zm3-4zm6 7zm1-7zm6 0zm6 3zm13 8zm9-2zm9-1zm7-5zm6 6zm93-9zm134 3zm4 7zm22-4zm17-3zm2 7zm3-3zm6 1zm34 3zm5-8zm8 9zm5-12zm12 2zm9 9zm4-9zm4 8zm13-5zm15 7zm2-7zm14 3zm7-3zm4-2zm17 9zm3-11zm3 0zm6 5zm-708 7zm23 1zm21 0zm6 0zm63-1zm23 0zm30 0zm76 1zm208 0zm61-1zm13 1zm27-1zm52 0zm33 1z" stroke="#08662b" stroke-width="12.8"/>
<path d="M2521 1399zm261 0zm51 0zm37 0zm-403 5zm14 0zm1 9zm10-7zm5 4zm11-7zm9 2zm9-2zm11 5zm13 4zm13-7zm7 5zm1-6zm7-3zm10 2zm12 5zm3-7zm13-1zm2 12zm16-11zm11 2zm6 1zm5 2zm13 1zm3-2zm28 6zm2-3zm22-5zm4 10zm9-12zm21 10zm3-4zm11-4zm3-3zm8 4zm16-1zm1 7zm8-9zm9 4zm11 5zm2-7zm4 9zm6 1zm3 0zm1-8zm11 0zm10-1zm5 4zm9-4zm11 2zm4 1zm0 6zm8-1zm12-3zm4-9zm1 3zm1 6zm4-5zm3-3zm6 7zm1-7zm5 0zm6 2zm14 8zm8-2zm10 0zm7-5zm5 5zm94-9zm134 4zm4 7zm22-4zm17-3zm2 7zm2-3zm7 0zm8 5zm25-2zm5-8zm8 9zm6-11zm12 2zm8 9zm4-9zm5 8zm13-5zm15 7zm1-7zm14 3zm7-3zm5-2zm17 8zm3-10zm3 0zm5 5zm-685 8zm22 0zm5-1zm86 0zm107 1zm207 0zm62-1zm13 0zm78 0zm34 0z" stroke="#21994e" stroke-width="7.04"/>
<path d="M2348 1405zm95-2zm651-1zm44 1zm-850 12z" stroke="#075825" stroke-width="12.8"/>
<path d="M2348 1405zm94-3zm652 0zm44 0zm-850 13z" stroke="#097230" stroke-width="7.04"/>
<path d="M2551 1385zm13 0zm119-2zm45 0zm11 0zm32 2zm22 0zm151 0zm314-1zm56-1zm26 1zm11-1zm-891 3zm2 8zm14-1zm18 1zm10-4zm22-2zm5 3zm9 7zm2-9zm1 10zm32-2zm19-8zm2 6zm15-5zm1 0zm10 3zm11-2zm19-2zm0 4zm7-4zm24 3zm18 4zm12 1zm1-8zm10 3zm5 7zm15-7zm13-4zm5 11zm4-12zm3 5zm3-3zm16-3zm6 1zm3 1zm4 5zm3 1zm13 4zm12-2zm7-5zm9 4zm18-8zm15 7zm3 4zm6-12zm12 9zm1 0zm1-9zm9 1zm33 6zm22-2zm5 6zm16-5zm189-4zm9 5zm13-3zm13-1zm46 7zm20 2zm5-8zm8 2zm8 5zm26-2zm6-9zm15 10zm8-5zm2 4zm7 2zm9-3zm7-1zm1-5zm6 10zm15-11zm4 8zm3-1zm2 5zm1-13zm14 11z" stroke="#0b761c" stroke-width="12.8"/>
<path d="M2551 1385zm12 0zm119-2zm46 0zm10 0zm32 2zm22-1zm94 1zm57-1zm315 0zm56-1zm14 2zm11-2zm12 0zm-892 3zm3 8zm13-1zm19 0zm10-4zm21-2zm5 4zm10 6zm2-8zm1 10zm32-2zm18-8zm2 6zm16-5zm1-1zm10 3zm11-2zm18-2zm1 4zm7-3zm23 3zm19 4zm12 1zm1-9zm9 3zm6 7zm14-6zm14-5zm5 12zm4-13zm3 6zm2-4zm16-2zm7 0zm3 1zm3 6zm3 1zm14 3zm12-2zm6-4zm10 4zm17-8zm16 7zm3 3zm17-2zm2 0zm1-9zm9 1zm32 6zm23-2zm5 5zm15-4zm190-4zm9 5zm12-4zm13-1zm46 7zm20 3zm6-8zm8 2zm8 4zm25-2zm21 2zm9-5zm1 4zm7 2zm10-3zm7-1zm1-5zm6 9zm14-11zm5 9zm3-1zm1 4zm2-12zm14 10z" stroke="#25ac3a" stroke-width="7.04"/>
<path d="M2423 1385zm674 3z" stroke="#096518" stroke-width="12.8"/>
<path d="M2423 1385zm674 2z" stroke="#0c831f" stroke-width="7.04"/>
<path d="M2588 1371zm4 0zm8-1zm44 1zm11-2zm3 1zm22-2zm13-1zm22 1zm3 2zm30 1zm18-3zm45 2zm2-3zm60 1zm4 2zm24-1zm49 0zm17 2zm233-4zm25 4zm63-2zm121-1zm-932 14zm15-2zm33-4zm8 4zm21-5zm10-3zm9 9zm0 2zm10-3zm11-2zm0 4zm7-4zm14 0zm2-6zm14 4zm14 0zm19 0zm4 6zm3-10zm8 4zm18-4zm6 8zm8-5zm16-2zm2 0zm15 3zm13 1zm2 4zm1-3zm19-6zm6 2zm6 3zm3-5zm25 4zm8 3zm3-5zm9 8zm6-4zm7-4zm10 3zm22-4zm1 3zm14 6zm12-5zm7 3zm5-5zm64 7zm182-1zm53-4zm7-2zm8 7zm11-2zm19-7zm17 2zm5 3zm3-2zm4-1zm8 4zm1-5zm20 7zm8-7zm8 1zm35 5zm13 3zm6-11zm5 2zm40 2z" stroke="#13820e" stroke-width="12.8"/>
<path d="M2588 1371zm4-1zm8 0zm43 0zm11-1zm4 1zm12 1zm10-3zm12-1zm4 4zm19-3zm3 1zm29 1zm18-2zm13 3zm16 0zm17-1zm1-4zm60 2zm5 2zm23-1zm49 0zm17 1zm233-3zm26 4zm63-2zm106 2zm15-3zm-933 14zm15-3zm34-3zm7 4zm22-5zm10-3zm8 9zm0 1zm11-2zm10 1zm0-3zm7 0zm14 0zm2-6zm15 4zm14 0zm19-1zm4 6zm10-6zm24 4zm9-4zm16-3zm1 1zm16 3zm13 1zm2 1zm0 3zm26-7zm5 3zm28-1zm9 3zm3-5zm8 8zm6-4zm7-4zm11 3zm21-5zm2 3zm14 7zm12-6zm6 3zm5-4zm64 7zm183-2zm52-3zm8-2zm7 7zm12-2zm19-7zm17 2zm4 2zm3-1zm4-1zm9 3zm1-4zm20 7zm8-8zm8 1zm35 5zm13 3zm11-9zm40 3z" stroke="#2fbb29" stroke-width="7.04"/>
<path d="M3628 1380z" stroke="#10700c" stroke-width="12.8"/>
<path d="M3627 1379z" stroke="#159010" stroke-width="7.04"/>
<path d="M2490 1353zm13-1zm20 3zm16-3zm8 3zm33-1zm29 2zm1-4zm52 4zm13-1zm9 0zm1-1zm41 1zm5 2zm36-3zm3 3zm24 0zm22-6zm139 6zm5-4zm209 2zm14 0zm4 1zm12-2zm11-1zm24 1zm7 2zm21 1zm33-4zm8 0zm24-2zm12 5zm43-2zm41-1zm-917 14zm20-6zm32-3zm19 6zm31 1zm7-3zm2-3zm4 0zm9-1zm4 7zm23 0zm2-5zm21 3zm14 1zm10-1zm8 1zm15 2zm12 1zm32-2zm16-4zm31 2zm23-1zm21 1zm5 1zm19 0zm15-1zm16-5zm24 8zm28-3zm205 3zm35-2zm23 0zm47-5zm5 0zm4 7zm10-4zm8-2zm9 5zm4-5zm21-1zm1 1zm11 3zm2 3zm3-5zm23 5zm1-3zm55-4z" stroke="#2c870e" stroke-width="12.8"/>
<path d="M2489 1352zm14-1zm20 3zm16-3zm7 4zm12 2zm22-3zm28 2zm2-4zm20 5zm32-1zm13-1zm8 0zm1-1zm42 1zm5 1zm36-2zm3 3zm24 0zm21-6zm140 6zm4-5zm210 2zm13 1zm5 1zm12-3zm11 0zm24 1zm7 1zm21 1zm33-3zm8 0zm24-2zm12 5zm43-2zm40-2zm-916 14zm19-5zm52 2zm30 1zm8-2zm2-4zm3 1zm14 5zm23 0zm2-4zm21 3zm13 1zm10-2zm8 1zm16 2zm12 1zm32-1zm16-4zm30 2zm24-2zm20 1zm6 2zm18-1zm16 0zm16-5zm23 8zm29-3zm204 3zm36-2zm23-1zm47-4zm4-1zm4 8zm11-5zm8-1zm8 5zm5-6zm21-1zm0 2zm11 3zm3 2zm3-4zm23 1zm0 4zm56-8z" stroke="#4fc229" stroke-width="7.04"/>
<path d="M3508 1359z" stroke="#26740c" stroke-width="12.8"/>
<path d="M3507 1359z" stroke="#319610" stroke-width="7.04"/>
<path d="M2530 1343zm33-6zm28 3zm7-4zm7 5zm53 0zm6-5zm35 3zm4 1zm47-1zm12-3zm12 6zm6-2zm13-4zm43 2zm13 0zm15 2zm15-5zm40 5zm310 2zm18-6zm6 7zm15-6zm27 1zm13-1zm6 3zm18 2zm19-2zm5 1zm6-2zm0-4zm29 1zm18 1zm-818 11zm31 1zm4-4zm12-1zm15 3zm23-2zm22-1zm46 3zm43 0zm6 2zm13-2zm37 0zm6 1zm19 2zm3-6zm14 3zm1-2zm27 3zm28-4zm1 6zm262-5zm19 1zm20 0zm29 4zm33-6zm5 6zm112 0zm17-6zm15 5z" stroke="#458c0e" stroke-width="12.8"/>
<path d="M2530 1343zm33-7zm27 4zm8-4zm7 4zm33 3zm20-3zm6-5zm35 3zm3 2zm48-1zm11-3zm12 6zm6-3zm14-3zm43 1zm13 1zm15 2zm14-5zm40 4zm310 3zm18-7zm7 8zm15-7zm27 2zm12-1zm7 2zm18 3zm18-2zm6 1zm6-2zm0-4zm29 0zm18 2zm30 6zm-848 5zm30 0zm5-4zm27 2zm23-2zm21 0zm46 3zm43 0zm6 1zm14-1zm36-1zm7 2zm18 2zm3-6zm15 1zm0 1zm28 2zm27-4zm2 5zm262-4zm18 0zm21 1zm29 4zm32-6zm5 6zm112-1zm33-1z" stroke="#6ec829" stroke-width="7.04"/>
<path d="M2371 1344zm778 4z" stroke="#3b780c" stroke-width="12.8"/>
<path d="M2371 1343zm777 4z" stroke="#4c9c10" stroke-width="7.04"/>
<path d="M2516 1329zm70-1zm7-8zm51-1zm10 10zm18-2zm9-1zm25 2zm3-9zm2 10zm4-11zm21 5zm3-1zm10 2zm58-3zm18 4zm26-2zm7 6zm110-3zm242 2zm39-4zm15-1zm7 6zm38-6zm27 4zm21 1zm5-2zm7-3zm3 0zm3-4zm38 8zm4-7zm-782 14zm88-2zm75 1zm26-2zm5 1zm1 0zm42-1zm25 1zm19-1zm320 2zm55 0zm15 1zm32-3zm16-1zm18 2z" stroke="#5f9011" stroke-width="12.8"/>
<path d="M2516 1329zm69-1zm8-8zm51-2zm10 11zm17-3zm10 0zm25 2zm3-9zm2 10zm4-11zm21 5zm3-2zm9 3zm59-3zm18 4zm25-2zm7 6zm110-3zm243 2zm38-4zm15-2zm8 6zm38-5zm27 3zm17 3zm4-2zm4-2zm7-3zm3 1zm4-5zm38 9zm4-8zm-782 14zm87-1zm76 1zm26-3zm4 1zm2 1zm41-1zm26 0zm18 0zm321 2zm54 0zm15 0zm32-2zm34 0z" stroke="#8fcc2c" stroke-width="7.04"/>
<path d="M2468 1321zm540 6zm179-4z" stroke="#527c0e" stroke-width="12.8"/>
<path d="M2467 1321zm541 5zm179-3z" stroke="#6aa013" stroke-width="7.04"/>
<path d="M2569 1306zm12 9zm4-4zm49-9zm5 4zm45 3zm35 1zm16-3zm4 8zm33-4zm41-2zm12 1zm22 2zm358-4zm6 2zm28 3zm15-3zm7 3zm40-11zm3 7zm27-2zm28-2zm29 4zm-748 8zm52 0zm107 0zm550-1z" stroke="#7b9215" stroke-width="12.8"/>
<path d="M2569 1305zm12 10zm4-4zm49-9zm5 4zm44 3zm36 1zm16-4zm3 8zm34-4zm40-2zm13 2zm22 1zm357-3zm6 2zm28 3zm15-4zm8 4zm40-11zm3 6zm26-2zm19 9zm10-11zm29 5zm-749 8zm52-1zm108 1z" stroke="#b2cf32" stroke-width="7.04"/>
<path d="M2338 1314zm195 0zm916-4z" stroke="#6a7d12" stroke-width="12.8"/>
<path d="M2338 1314zm195 0zm916-4z" stroke="#88a218" stroke-width="7.04"/>
<path d="M2747 1286zm492 0zm-537 6zm71 8zm18-4zm4 2zm28-2zm13-4zm369 8zm66-6zm16 4zm0-4zm6 6zm60-6z" stroke="#939219" stroke-width="12.8"/>
<path d="M2746 1286zm492 0zm-536 6zm71 7zm17-3zm5 2zm28-3zm12-3zm369 7zm67-5zm15 4zm1-5zm5 7zm60-6z" stroke="#d1d037" stroke-width="7.04"/>
<path d="M2574 1287zm857 12zm126-1z" stroke="#7f7e16" stroke-width="12.8"/>
<path d="M2574 1287zm856 12zm126-2z" stroke="#a4a31c" stroke-width="7.04"/>
<path d="M2736 1269zm528 4zm-566 6zm9 1zm50 4zm501-2zm3 1zm31-8zm11 1zm35 4zm41 3z" stroke="#97891b" stroke-width="12.8"/>
<path d="M2736 1269zm527 4zm-566 6zm10 1zm50 4zm500-2zm4 1zm31-9zm11 2zm35 4zm41 2z" stroke="#d6c439" stroke-width="7.04"/>
<path d="M2599 1285zm226-11zm56 2zm97 8z" stroke="#827617" stroke-width="12.8"/>
<path d="M2598 1285zm227-11zm55 2zm98 7z" stroke="#a8981e" stroke-width="7.04"/>
<path d="M2653 1259zm196-5zm0 5zm475-5zm-644 15zm89-7zm515 2zm55-2z" stroke="#9a801c" stroke-width="12.8"/>
<path d="M2653 1259zm196-5zm0 4zm475-5zm-644 15zm88-6zm515 2zm56-2z" stroke="#d9b83b" stroke-width="7.04"/>
<path d="M2528 1258zm173-1zm588-2zm93-1zm-873 6zm469 9zm384-3zm75 0z" stroke="#846e18" stroke-width="12.8"/>
<path d="M2508 1259zm19-2zm173 0zm588-2zm94-1zm-405 15zm385-4zm75 0z" stroke="#ab8e20" stroke-width="7.04"/>
<path d="M3328 1238zm-693 9zm672 1zm4 1z" stroke="#97751e" stroke-width="12.8"/>
<path d="M3328 1237zm-693 10zm672 0zm4 2z" stroke="#d6ab3e" stroke-width="7.04"/>
<path d="M3521 1245zm-649 1z" stroke="#82651a" stroke-width="12.8"/>
<path d="M3521 1244zm-649 2z" stroke="#a88222" stroke-width="7.04"/>
<path d="M2724 1236z" stroke="#966b20" stroke-width="12.8"/>
<path d="M2723 1235z" stroke="#d59e3f" stroke-width="7.04"/>
<path d="M3270 1225zm-615 10zm609 0z" stroke="#815c1b" stroke-width="12.8"/>
<path d="M3269 1225zm-615 10zm609-1z" stroke="#a77724" stroke-width="7.04"/>
<path d="M2639 1213zm-56 5zm165 1zm11 1z" stroke="#7f551c" stroke-width="12.8"/>
<path d="M2639 1212zm-56 6zm165 1zm11 0z" stroke="#a46e24" stroke-width="7.04"/>
<path d="M2833 1198zm513-3z" stroke="#7c501c" stroke-width="12.8"/>
<path d="M2833 1198zm512-3z" stroke="#a06824" stroke-width="7.04"/>
<path d="M2807 1174z" stroke="#794b1c" stroke-width="12.8"/>
<path d="M2807 1174z" stroke="#9c6024" stroke-width="7.04"/>
<path d="M2640 1126z" stroke="#672e18" stroke-width="12.8"/>
<path d="M2640 1125z" stroke="#853c1f" stroke-width="7.04"/>
<path d="M3083 1547z" stroke="#442d7b" stroke-width="12.8"/>
<path d="M3083 1546z" stroke="#583a9f" stroke-width="7.04"/>
<path d="M2436 1536zm27-1zm15-2zm4 4zm4-6zm9 3zm23-1zm6-2zm29 0zm1 4zm10-5zm9 7zm6 1zm13-1zm18 1zm8-3zm3 4zm4-4zm8 3zm12-8zm1 6zm12-5zm13 3zm20-2zm14 5zm9-1zm11-2zm11 1zm1-2zm17-1zm8 7zm8-3zm11-1zm11 1zm1-5zm4-1zm2 8zm24-2zm4-4zm2-1zm31 1zm12 3zm6-3zm27 7zm4-2zm4-7zm8 9zm9-6zm12 3zm8-3zm6-2zm18 8zm18-9zm6 9zm23-3zm48-4zm57 1zm14 3zm14 1zm34-6zm6 3zm11 2zm8 0zm12-5zm6-1zm4 7zm5-7zm0 5zm6-1zm22-4zm13 2zm10 5zm2-4zm19-2zm22 4zm35-5zm21 5zm3-1zm12-4zm8 3zm39-3zm5 5zm-991 6zm57 0zm67-1zm90 0zm51 0zm79 0z" stroke="#4c338d" stroke-width="12.8"/>
<path d="M2435 1536zm27-2zm16-2zm3 4zm5-6zm8 3zm24 0zm5-2zm29-1zm2 5zm9-5zm9 6zm6 1zm13 0zm19 0zm8-3zm3 5zm3-5zm9 3zm12-7zm1 5zm12-5zm12 3zm9 6zm11-7zm14 5zm9-2zm12-1zm5 5zm6-5zm1-1zm16-2zm9 8zm7-3zm11-1zm12 0zm1-4zm4-2zm2 8zm11 2zm12-4zm4-3zm2-1zm32 1zm12 2zm5-2zm27 7zm5-2zm3-8zm9 10zm8-6zm12 2zm8-2zm7-2zm18 7zm18-9zm6 9zm22-3zm49-3zm57 0zm14 3zm14 2zm34-6zm5 3zm12 1zm7 1zm13-5zm6-1zm3 6zm5-6zm1 5zm6-1zm22-4zm13 2zm10 4zm2-3zm19-2zm22 3zm34-4zm21 4zm4-1zm12-3zm7 3zm40-3zm5 4zm-992 7zm58-1zm67 0z" stroke="#7757ca" stroke-width="7.04"/>
<path d="M2330 1532zm65 11zm1 0zm32-1zm688-1z" stroke="#412c7a" stroke-width="12.8"/>
<path d="M2330 1531zm65 11zm33 0zm688-1z" stroke="#54389d" stroke-width="7.04"/>
<path d="M2404 1519zm24 4zm41-7zm4 6zm8-5zm1 5zm4 2zm8-4zm5 4zm1-10zm5 1zm8 7zm11 0zm11-8zm13 3zm7-4zm5 8zm15-1zm8-3zm20 5zm2-5zm15 6zm6-7zm1 9zm17-3zm4-2zm3 2zm13 3zm23-7zm20-4zm20 11zm2-9zm20 2zm7-3zm10 4zm10 1zm5-7zm11 3zm6 5zm20-4zm0 6zm2 0zm0-8zm6 2zm12-3zm10 5zm15 0zm3 2zm2-6zm15 2zm25-1zm12 1zm12-3zm2 3zm4 5zm44-1zm1-3zm7-2zm7 0zm101-3zm39 2zm28 3zm10-1zm10 0zm8 2zm1-2zm8 3zm2-3zm8 6zm9-1zm9-8zm8 11zm4-8zm46 7zm3-3zm7-7zm10 2zm10 8zm14-2zm10 1zm5-8zm13 7zm7 0zm0-7zm32 8zm4-8zm5 0zm6 5zm4-4zm5 0zm13 9zm11-4zm34-6zm-1018 13zm3 0zm9-2zm48 0zm34 1zm5 0zm13 1zm25-2zm20 2zm10 1zm47-2zm33 2zm29-3zm8 1zm5-1zm82 3zm21-2zm51 0zm19 0zm37 2zm70-3zm13 0zm185 2zm15 1zm16-2zm24 0zm13 2zm17-2zm10 2zm89-3zm17 3zm17-1zm113-2z" stroke="#3f2b8b" stroke-width="12.8"/>
<path d="M2404 1518zm23 5zm42-7zm3 6zm9-5zm0 5zm5 1zm7-3zm6 4zm1-11zm5 2zm8 7zm10 3zm1-3zm10-8zm13 3zm7-4zm6 8zm14-2zm9-2zm19 4zm2-4zm16 5zm6-6zm1 9zm17-3zm4-2zm3 2zm12 2zm24-7zm19-3zm21 11zm2-10zm20 3zm3 7zm4-10zm10 4zm9 1zm6-7zm10 3zm6 5zm21 2zm0-7zm1 7zm1-8zm6 2zm12-3zm10 5zm14 0zm4 2zm1-6zm15 2zm26-1zm12 0zm12-3zm1 4zm5 5zm44-1zm1-4zm7-2zm7 1zm101-3zm39 2zm28 3zm10-1zm10-1zm8 1zm0 2zm8 1zm2-4zm8 7zm10-1zm9-8zm8 11zm4-8zm46 6zm3-2zm6-8zm11 2zm10 8zm14-1zm9 1zm6-9zm13 8zm6 0zm0-7zm33 8zm4-9zm4 1zm6 10zm0-5zm5-4zm5 0zm13 9zm10-4zm35-7zm-1018 13zm3 0zm8-1zm83 0zm5 1zm12 0zm26-1zm19 2zm10 1zm47-3zm34 3zm29-3zm7 0zm87 3zm21-3zm51 1zm20 0zm36 2zm71-3zm12 0zm186 1zm15 2zm16-3zm23 0zm14 3zm16-2zm10 1zm107 0zm17 0zm113-2z" stroke="#674dc7" stroke-width="7.04"/>
<path d="M3538 1523zm149-7z" stroke="#362578" stroke-width="12.8"/>
<path d="M3538 1523zm148-8z" stroke="#46309b" stroke-width="7.04"/>
<path d="M2491 1497zm385 0zm14 0zm47 0zm260 0zm-741 2zm4 5zm16 4zm0-7zm13 4zm20 3zm10-9zm1 5zm5-3zm3-1zm13 1zm10 10zm12-8zm12 8zm35-7zm8 1zm0 4zm5-11zm11 3zm4 9zm5-4zm2-8zm2 6zm3 1zm15 0zm17-1zm4 2zm12-3zm0 2zm4-3zm6 5zm2-8zm6 4zm0 2zm19-2zm2 6zm8-1zm1-7zm2 9zm15-2zm5-6zm20-4zm0 11zm18-8zm12 10zm5-12zm1 12zm13-10zm14-3zm4 7zm10-3zm10 8zm1-12zm8 7zm3 6zm15-4zm4-9zm6 6zm7-2zm1 2zm7 4zm8-7zm2 3zm10 0zm1-4zm11 6zm0-4zm15 8zm9-9zm2 3zm18-5zm5 6zm20-3zm58 1zm90 2zm8 1zm21-5zm10 8zm0-8zm24 3zm3-5zm6 6zm5-1zm11 6zm9 1zm2-11zm10 1zm0 9zm9-11zm5 2zm0-3zm17 5zm2 3zm6-7zm4 6zm9 0zm2 4zm6-8zm9 4zm12-4zm6 10zm3-2zm8 1zm23-1zm21-9zm2-1zm10 3zm17-2zm69-1zm43 10zm-974 3zm32 1zm11-1zm14 0zm213 0zm18 0zm73 1zm175 0zm52 0zm94-1zm18 0zm19 0z" stroke="#2c1f89" stroke-width="12.8"/>
<path d="M2491 1497zm154 0zm231 0zm14 0zm47 0zm259 0zm-740 2zm4 5zm15-4zm1 8zm12-3zm21 3zm10-9zm1 4zm4-2zm4-1zm13 0zm9 11zm13-9zm11 9zm20 0zm16-7zm7 1zm0 3zm6-10zm11 3zm4 9zm5-5zm3-1zm3 1zm1 6zm14-6zm18-1zm4 1zm11-1zm1-2zm4 0zm6 4zm1-7zm7 4zm0 1zm18-2zm2 7zm9-1zm0-7zm3 9zm14-3zm6-6zm19-3zm1 10zm18-7zm11 9zm6 1zm0-12zm13 2zm15-3zm3 6zm9 7zm2-10zm10 8zm9-4zm2 5zm16-3zm4-9zm6 5zm7-2zm1 3zm7 3zm8-6zm1 3zm11-1zm1-3zm11 1zm0 4zm14 4zm10-8zm2 3zm18-6zm5 7zm20-3zm58 1zm90 2zm7 1zm22-5zm9 0zm0 8zm24-5zm3-5zm6 5zm6 0zm10 5zm10 1zm2-10zm0 11zm9-2zm1-8zm8-2zm5 2zm1-3zm14 13zm3-9zm2 3zm6-6zm3 5zm9 1zm2 3zm7-7zm8 3zm12-4zm7 11zm3-2zm8 1zm22-1zm21-9zm3-1zm9 3zm17-2zm70-1zm43 10zm-943 4zm11-1zm245 0zm74 0zm175 1zm51-1zm112 0z" stroke="#4f3ec4" stroke-width="7.04"/>
<path d="M3111 1509z" stroke="#261b76" stroke-width="12.8"/>
<path d="M3110 1509z" stroke="#312398" stroke-width="7.04"/>
<path d="M2471 1483zm91-1zm128 0zm15 0zm69 1zm9 0zm73-2zm49 2zm7-2zm17 0zm281 1zm13 0zm17 1zm15 0zm50-1zm20 0zm76-1zm52 2zm26 0zm15 0zm-1075 2zm53 0zm1 6zm28-5zm20 1zm8 0zm10 8zm7 2zm13-1zm3-12zm8 0zm7 6zm9-6zm2 8zm5-8zm6 11zm74-6zm2 6zm1-8zm14 3zm6-6zm11 7zm16-5zm4 8zm4 1zm6-5zm2-4zm14 4zm16-3zm11 7zm2-5zm10 3zm11-3zm9 3zm4 5zm9-1zm13-9zm14 7zm9 2zm7-2zm21-5zm25 6zm15 1zm4-3zm16-1zm29 2zm5-8zm1-1zm6 7zm17 0zm9 2zm16-9zm134 7zm10 0zm4 5zm0-3zm0-3zm9-5zm3 0zm12 0zm4 9zm3-9zm3 1zm2 7zm11 2zm9-3zm7-7zm32-1zm35 7zm26-7zm7 6zm4-7zm27 1zm2 8zm2-2zm11-4zm1 5zm9 3zm10 2zm1-7zm5-5zm10 11zm7-10zm5 10zm14-2zm5-6z" stroke="#1e1788" stroke-width="12.8"/>
<path d="M2471 1482zm91-1zm8 2zm15 0zm7 0zm98-1zm15-1zm69 2zm8-1zm74-1zm48 1zm7-1zm18 0zm281 1zm12-1zm17 1zm16 1zm50-2zm20 1zm76-1zm52 2zm26 0zm15-1zm-1075 3zm53-1zm0 7zm29-5zm20 1zm7-1zm10 8zm7 2zm13 0zm4-12zm14 6zm11 1zm12 4zm73-6zm3-3zm0 9zm15-5zm5-6zm11 7zm17-6zm4 9zm4 1zm6-5zm2-5zm13 4zm16-2zm12 7zm2-5zm10 3zm11-3zm9 3zm3 4zm9 0zm13-9zm15 7zm9 2zm7-2zm21-5zm24 6zm15 1zm5-4zm15 0zm30 1zm4-7zm2-1zm5 7zm17-1zm9 3zm17-10zm134 8zm9 0zm4 1zm0 3zm1-6zm8-4zm3-1zm13 0zm4 10zm2-10zm4 2zm2 7zm11 1zm9-2zm7-7zm32-2zm35 8zm26-8zm6 7zm5-7zm27 1zm1 8zm2-3zm11-4zm1 6zm9 3zm11 1zm0-6zm6-5zm10 10zm7-9zm5 10zm13-2zm5-6z" stroke="#3d34c2" stroke-width="7.04"/>
<path d="M3055 1483z" stroke="#1a1475" stroke-width="12.8"/>
<path d="M3055 1482z" stroke="#211a97" stroke-width="7.04"/>
<path d="M2442 1467zm40 1zm9-2zm29 0zm29 2zm51-3zm24 1zm35 2zm28-2zm1-1zm34 0zm21-1zm51 1zm19 3zm28-1zm39 1zm12 0zm8-2zm27 1zm4 1zm21-1zm57-3zm11 4zm20 1zm138-1zm23-3zm9 2zm17 0zm5 1zm33 1zm22-2zm29-2zm5 0zm90 2zm5 2zm18-1zm16-3zm-1047 7zm30 5zm25-1zm6 1zm8 0zm13-2zm7-4zm1-1zm2 7zm33 3zm11-8zm14 0zm1 3zm34 3zm6 0zm39-8zm0 9zm2-9zm18 6zm13 3zm9 1zm3-1zm11-4zm30 1zm21 3zm9-4zm2 3zm21 2zm3-5zm0-5zm8 9zm9-6zm15 1zm18-4zm1 7zm18 2zm11-5zm34-3zm11 7zm7 0zm20-7zm8 4zm12 3zm1-5zm17-2zm6-1zm1 8zm3-5zm39 7zm73-6zm5-1zm50 2zm33 2zm2 3zm3-4zm7-6zm8 4zm9-2zm3-2zm1 7zm13 0zm12-1zm0 5zm5-6zm6 4zm11-7zm6 7zm6-4zm30-2zm22-3zm3 4zm14 1zm9-2zm28 0zm22 3zm6-2zm19 2zm7-3zm6 7zm21-9zm24 0zm18 4z" stroke="#101187" stroke-width="12.8"/>
<path d="M2441 1467zm40 0zm10-2zm2 4zm26-4zm29 3zm52-4zm24 1zm34 3zm28-2zm2-2zm34 0zm20 0zm33 5zm19-4zm18 3zm13 1zm16-2zm39 0zm12 1zm8-2zm26 1zm5 1zm21-2zm57-2zm11 4zm20 1zm138-1zm22-3zm6 4zm4-3zm16 1zm6 1zm32 1zm23-2zm29-3zm3 5zm2-5zm89 3zm5 2zm19-1zm16-4zm-1047 8zm30 5zm25-1zm6 1zm7-1zm13-1zm8-5zm3 7zm33 3zm11-8zm14-1zm1 4zm34 2zm6 1zm38 0zm1-8zm1 0zm18 6zm14 2zm9 2zm3-1zm10-4zm31 1zm21 3zm9-5zm1 4zm22 2zm3-5zm7 4zm10-6zm15 1zm19 3zm17 2zm12-6zm34-3zm10 8zm8 0zm20-7zm8 4zm12 3zm1-5zm17-2zm6-1zm1 7zm2-4zm40 7zm73-7zm5 0zm50 2zm32 2zm3 2zm3-3zm6-6zm9 4zm8-2zm5 5zm13-1zm12 4zm0-4zm4-2zm7 4zm11-6zm6 7zm5-5zm30-1zm26 0zm14 2zm9-2zm27 0zm22 3zm6-3zm20 3zm7-3zm5 7zm22-9zm24-1zm17 4z" stroke="#2b2cc2" stroke-width="7.04"/>
<path d="M2407 1476zm1167-5z" stroke="#0e0e74" stroke-width="12.8"/>
<path d="M2407 1476zm1167-5z" stroke="#121396" stroke-width="7.04"/>
<path d="M2455 1454zm3-3zm14 0zm13 1zm4-1zm26 4zm19-3zm13 3zm33-5zm15 4zm5 1zm47 0zm15-6zm16 4zm22-1zm24-3zm80 6zm1-4zm14 1zm14-1zm7 4zm7-5zm20-1zm43 4zm16 1zm6-1zm0-3zm30 1zm4 4zm8-5zm16 4zm1-2zm176 3zm30-5zm34 3zm35-3zm9 1zm24-3zm12 0zm9 0zm54 2zm10 5zm4-6zm6 4zm29 1zm9-5zm-1001 13zm31-6zm13 8zm9-6zm0 5zm10-6zm9 0zm11 4zm21-1zm44-4zm9 7zm20-1zm9-4zm18 2zm17-3zm32-1zm15 4zm4 2zm6 2zm23-2zm1-6zm44 6zm12-3zm7 0zm21 0zm18 1zm15-4zm10 6zm12-5zm31 4zm15-4zm22 6zm7-4zm11 1zm26 1zm181-2zm12 3zm25-5zm13 1zm35 1zm4-3zm10 4zm24 3zm36-2zm4-2zm4-3zm9 6zm14-2zm13 1zm1-2zm7 3zm13 0zm14-6zm3 4z" stroke="#0a1e80" stroke-width="12.8"/>
<path d="M2454 1453zm3-3zm15 1zm13 1zm4-1zm26 4zm18-3zm14 3zm33-5zm14 3zm5 2zm48 0zm14-6zm16 3zm23-1zm23-3zm9 7zm72-1zm1-4zm14 2zm14-1zm7 4zm7-5zm2 5zm17-6zm43 4zm17 0zm5 0zm1-3zm30 1zm4 4zm8-6zm15 5zm2-3zm176 3zm29-5zm34 4zm24 2zm12-5zm9 0zm23-2zm13 0zm9 0zm54 2zm9 4zm4-5zm6 3zm30 1zm8-4zm-1001 13zm32-6zm13 7zm8-6zm1 5zm10-5zm9-1zm10 4zm22-1zm44-3zm9 7zm19-1zm10-4zm18 2zm17-3zm31-1zm15 4zm5 1zm6 3zm23-2zm45 0zm11-3zm7 0zm22-1zm17 2zm25 2zm12-5zm31 4zm16-4zm21 6zm8-5zm10 1zm27 2zm181-2zm12 3zm24-6zm14 2zm34 1zm15 1zm24 2zm35-2zm4-1zm5-3zm8 5zm14-1zm13 0zm1-1zm8 3zm13-1zm14-5zm3 4z" stroke="#233db8" stroke-width="7.04"/>
<path d="M3601 1450zm-544 7zm8 5zm40-3z" stroke="#081a6e" stroke-width="12.8"/>
<path d="M3600 1449zm-543 8zm8 4zm39-2z" stroke="#0b218e" stroke-width="7.04"/>
<path d="M2449 1440zm22-4zm13-1zm5 0zm12 6zm2-3zm37-2zm26-1zm30-2zm1 8zm9-8zm12 0zm14 8zm17-3zm11-3zm3 3zm8 1zm22-5zm10 5zm5 1zm14-6zm6 6zm7-4zm10-4zm0 9zm13-4zm22 1zm6-4zm15 1zm15 0zm32 6zm2-1zm6-1zm9 0zm17 0zm12-3zm4 0zm6 4zm13 0zm1-6zm12 0zm13 4zm33-2zm118 3zm70-2zm11 2zm13-5zm9 3zm23-1zm30-3zm1 6zm13-6zm20-1zm7 2zm5 4zm18 1zm9 1zm11-4zm27-1zm14 5zm4-7zm43-1zm11 9zm18-6zm-978 8zm15 4zm21-2zm31 3zm50 0zm35-5zm0 2zm8 2zm2-3zm11 4zm3-4zm47-2zm7 1zm23 1zm20-1zm18 0zm2-1zm54 5zm8-1zm8-3zm21 1zm63-1zm8 0zm8 0zm1 5zm30-5zm233 3zm5-2zm19 3zm13-3zm26 0zm8 0zm2 2zm7 2zm8-3zm7-3zm8 3zm42-3zm4 4zm20-1zm10 0zm4-3zm1 5zm9-4zm6 4zm30-4z" stroke="#073873" stroke-width="12.8"/>
<path d="M2449 1440zm22-4zm13-2zm4 1zm13 6zm2-3zm36-3zm26-1zm30-1zm1 7zm9-8zm13 1zm14 8zm16-3zm12-4zm3 4zm8 0zm22-5zm10 6zm4 1zm15-6zm5 5zm8-4zm10-3zm0 8zm13-3zm22 1zm6-4zm15 1zm15-1zm31 7zm3-1zm5-1zm10-1zm16 0zm13-2zm4-1zm5 5zm13 0zm2-6zm11-1zm14 5zm33-2zm118 2zm70-2zm11 3zm13-6zm9 4zm23-1zm30-3zm0 5zm14-5zm19-1zm8 2zm5 4zm18 1zm9 1zm11-5zm11 6zm16-6zm14 5zm4-7zm43-1zm10 9zm19-7zm-978 9zm14 4zm21-2zm31 2zm50 1zm36-5zm0 2zm7 2zm3-3zm11 3zm2-3zm47-2zm8 1zm22 1zm21-1zm17 0zm3-1zm53 4zm8-1zm8-2zm22 1zm63-1zm7 0zm8 0zm2 4zm30-4zm232 2zm6-1zm19 2zm12-2zm26-1zm9 1zm2 1zm7 3zm8-4zm6-2zm9 2zm46 1zm19 0zm11 0zm4-3zm1 5zm9-4zm6 4zm29-4z" stroke="#205da9" stroke-width="7.04"/>
<path d="M3087 1435zm-677 11zm672-2zm616 4z" stroke="#063063" stroke-width="12.8"/>
<path d="M3087 1434zm-678 12zm672-2zm617 3z" stroke="#083e80" stroke-width="7.04"/>
<path d="M2502 1427zm7-2zm1-4zm11 1zm6-3zm14 2zm1-5zm12 9zm0 2zm4-7zm8-2zm2 8zm4-8zm11 6zm17-1zm8-2zm1 0zm3-2zm4 4zm4-5zm4 7zm5-4zm10 5zm15 1zm3-4zm2-3zm5 4zm13 3zm2-9zm6 5zm15-4zm10 1zm16-4zm15 5zm8 1zm27 0zm20-2zm2-2zm0 9zm5-5zm13 4zm4-6zm2 6zm7-3zm16-3zm26-4zm14 10zm15-1zm12-2zm19-6zm2 2zm11 6zm3 2zm33-10zm4 1zm6 4zm8 2zm181-8zm2 11zm17-2zm12-4zm5 0zm0 6zm6-4zm22-3zm4 2zm22 5zm3-9zm30 0zm44 1zm5-3zm0 5zm8-2zm10 3zm7-4zm8 8zm5-7zm6 1zm4 2zm42 5zm2-11zm-935 13zm13-1zm17 3zm34 0zm114-1zm17-1zm16 0zm13 1zm24-1zm109 2zm85-1zm17-1zm28 3zm193-3zm5 0zm57-1zm51 1zm10 1zm32 0zm14 0zm33 1zm1-2zm8 2z" stroke="#07524c" stroke-width="12.8"/>
<path d="M2502 1427zm7-2zm1-4zm11 0zm6-3zm14 2zm1-5zm11 10zm1 2zm3-7zm9-2zm2 8zm4-9zm10 6zm17 0zm9-3zm1 1zm3-3zm4 5zm3-5zm5 7zm5-4zm9 5zm16 1zm3-4zm1-4zm5 5zm13 3zm3-9zm6 4zm15-4zm10 1zm15-3zm15 4zm8 1zm28 1zm19-2zm2 7zm1-9zm5 4zm12 3zm5-5zm2 6zm6-3zm17-3zm25-4zm15 10zm15-1zm11-2zm20-6zm1 2zm11 6zm3 2zm34-10zm4 0zm6 4zm7 3zm181-8zm3 10zm16-2zm13-4zm4 7zm1-6zm6 2zm21-3zm5 2zm3 5zm19 0zm3-9zm29 0zm45 1zm5-3zm0 5zm8-3zm10 3zm7-3zm8 7zm5-7zm5 2zm5 2zm41 4zm2-10zm-934 12zm12 0zm18 2zm33 0zm115 0zm16-2zm17 1zm12 0zm24 0zm110 2zm85-1zm17-1zm28 2zm193-3zm5 0zm108 1zm10 1zm32 0zm14 0zm33 0zm1-2zm7 3z" stroke="#207e77" stroke-width="7.04"/>
<path d="M2221 1418zm814 4zm566 2z" stroke="#064641" stroke-width="12.8"/>
<path d="M2221 1417zm814 5zm565 2z" stroke="#085b54" stroke-width="7.04"/>
<path d="M2502 1399zm300 0zm-309 5zm9 2zm7 4zm1 2zm21-11zm13 8zm13-7zm9 2zm3 3zm7 6zm27-1zm3-3zm1-5zm18 5zm11-5zm11 5zm13-9zm2 11zm4-11zm10 0zm4 5zm7 3zm2 4zm7-7zm21-4zm23 8zm6-4zm21 7zm2 1zm19-2zm6-11zm0 4zm10 2zm7 6zm10-10zm4 7zm0-5zm16 0zm21 0zm1-4zm12 11zm8-3zm6-8zm5 1zm9 2zm24 7zm5-5zm9 1zm15 4zm14-5zm7-3zm215 4zm7-1zm0 4zm10 2zm25-4zm9-4zm6 8zm2-10zm23-1zm2 8zm8-8zm8 2zm8 5zm12 5zm17-12zm7 12zm0-7zm25-2zm29 1zm1 9zm3-11zm4 9zm10-1zm8-2zm0 3zm33-8zm-928 12zm13-1zm29 1zm25-1zm55 0zm30 0zm78 0zm3 1zm24-1zm112 2zm54-1zm224-1zm32 0zm95 1z" stroke="#08662b" stroke-width="12.8"/>
<path d="M2502 1399zm173 0zm118 0zm9 0zm61 0zm410 0zm11 0zm45 0zm-836 5zm8 1zm7 5zm1 1zm22-10zm2 12zm10-5zm13-6zm10 1zm3 3zm6 6zm13 1zm15-2zm3-2zm1-5zm17 4zm12-4zm10 5zm14-9zm2 11zm4-11zm13 5zm7 2zm2 5zm8-7zm21-5zm22 9zm7-4zm4 8zm16-1zm2 1zm10 0zm10-3zm6-7zm10 3zm7 6zm9-10zm5 1zm0 6zm15-6zm22 1zm12 7zm9-3zm5-8zm6 1zm8 2zm25 7zm5-5zm9 1zm15 3zm14-4zm7-4zm214 5zm7-2zm1 9zm0-5zm10 2zm25-4zm9-3zm5 8zm2-10zm26 6zm15-5zm8 5zm13 5zm23-7zm1 6zm24-8zm30 0zm0 10zm4-11zm4 9zm10-1zm7-2zm1 2zm33-7zm-928 12zm41-1zm80 0zm30 0zm82 1zm135 0zm55-1zm224 0zm126 1z" stroke="#21994e" stroke-width="7.04"/>
<path d="M2106 1411zm929 1zm60-9zm18 3zm440 5z" stroke="#075825" stroke-width="12.8"/>
<path d="M2106 1411zm928 0zm60-9zm18 4zm441 5z" stroke="#097230" stroke-width="7.04"/>
<path d="M2712 1384zm68 0zm9-1zm12 1zm7-1zm4 2zm14-1zm21 1zm62-1zm305 1zm9 0zm60-2zm137 1zm11 0zm-966 10zm62 2zm23 2zm4-9zm9 6zm11-6zm2-2zm10 4zm3 4zm9-9zm3 6zm28 1zm14-4zm3 7zm18-4zm10 4zm8-3zm10 3zm24 2zm4-12zm2 3zm4 5zm7-5zm6-2zm6 1zm12 10zm66-9zm3 4zm1-3zm2 9zm8-6zm15 6zm3-12zm10 9zm9-6zm3 4zm6-5zm8 4zm9-7zm5 11zm18-10zm23 9zm4-8zm6 4zm12-5zm8 3zm3 0zm212 0zm10-2zm5 6zm19 4zm10 0zm7-8zm5-3zm2 12zm3-7zm13 5zm3 2zm9-11zm12 9zm6-10zm15 1zm4 2zm22-4zm4 6zm23-2zm27 2zm8 3zm18-3zm17-2z" stroke="#0b761c" stroke-width="12.8"/>
<path d="M2598 1385zm114-2zm68 1zm8-1zm12 1zm8-1zm3 2zm14-1zm22 1zm52 0zm10-1zm304 1zm9-1zm61-1zm53 2zm83-1zm12-1zm-966 10zm62 2zm23 3zm4-9zm8 6zm12-6zm2-2zm10 4zm2 4zm13-4zm28 2zm14-5zm3 7zm18-3zm10 4zm8-4zm9 4zm24 1zm5-11zm1 2zm5 6zm7-6zm6-1zm6 1zm11 10zm67-9zm2 4zm2-4zm1 10zm9-7zm15 7zm3-12zm9 9zm10-6zm2 4zm6-5zm9 3zm14 5zm17-11zm23 10zm5-8zm6 4zm11-6zm8 4zm4 0zm212-1zm10-1zm5 5zm18 5zm10 0zm7-9zm6-3zm1 12zm3-7zm14 6zm2 1zm10-10zm11 9zm6-10zm15 1zm5 1zm26 3zm22-2zm27 1zm8 4zm19-3zm16-2z" stroke="#25ac3a" stroke-width="7.04"/>
<path d="M3469 1389z" stroke="#096518" stroke-width="12.8"/>
<path d="M3468 1389z" stroke="#0c831f" stroke-width="7.04"/>
<path d="M2509 1370zm25-2zm19 2zm6-3zm9 2zm25-1zm74-1zm42 0zm108 3zm14-2zm7 0zm72 2zm51-2zm252-1zm6 1zm15 2zm1 1zm2-4zm23 2zm11 1zm11 1zm19-3zm39 2zm7 1zm1-4zm15 4zm3-4zm6 3zm24-2zm21 0zm-946 8zm34 4zm50 3zm0-5zm15-4zm17 9zm31 0zm4-9zm3 6zm13-5zm14-1zm14 2zm1-4zm9 8zm16 1zm1-2zm2-1zm8-6zm19 4zm18-3zm22 1zm8 4zm31-1zm6 2zm27-5zm10-2zm24 5zm7 0zm17-5zm3 6zm20-3zm14 8zm2-2zm9-8zm9 5zm33-5zm231 0zm16 7zm13-6zm5 0zm8 9zm5-10zm9 8zm5-6zm7 7zm31-3zm15-5zm12 4zm2 3zm14-5zm17 2zm6 4zm8-3zm6 0zm8-3zm16-1zm11 5z" stroke="#13820e" stroke-width="12.8"/>
<path d="M2508 1369zm26-2zm18 2zm6-3zm10 3zm25-2zm74 4zm0-4zm41-1zm109 3zm13-1zm8 0zm71 2zm51-2zm253-1zm5 0zm15 3zm1 1zm3-5zm23 3zm10 1zm12 0zm19-2zm38 2zm7 1zm2-4zm14 4zm3-4zm6 3zm25-2zm20 0zm-945 8zm34 4zm50-2zm0 4zm15-9zm17 9zm31 0zm4-8zm3 5zm12-4zm14-2zm15 2zm9 5zm16 0zm2-1zm2-2zm8-5zm18 3zm19-2zm22 0zm8 5zm31-2zm6 3zm26-5zm10-2zm25 4zm7 1zm17-5zm3 5zm20-2zm14 8zm1-3zm10-7zm8 4zm34-5zm231 0zm15 7zm13-5zm5 0zm9 9zm4-11zm10 9zm5-7zm6 8zm32-3zm14-6zm13 5zm1 3zm15-5zm17 2zm6 4zm8-3zm6 0zm7-3zm16-1zm12 4z" stroke="#2fbb29" stroke-width="7.04"/>
<path d="M3144 1370zm-842 12z" stroke="#10700c" stroke-width="12.8"/>
<path d="M3144 1370zm-842 12z" stroke="#159010" stroke-width="7.04"/>
<path d="M2536 1357zm7-3zm28 2zm8-5zm36 2zm3 3zm3-4zm41-1zm14 5zm10-4zm27-1zm3 3zm9-2zm19 1zm1 1zm12-1zm14-2zm3 0zm5 3zm9-1zm9 2zm13-2zm33 0zm9 3zm4-1zm66-1zm7-2zm24 3zm336-1zm15 0zm10 1zm8 2zm30-1zm15-1zm46-3zm31-1zm-971 7zm88 6zm26 2zm20 0zm25-3zm2-5zm17 0zm16 5zm26-2zm28 2zm3-1zm26 3zm4-4zm13 1zm26 0zm1-4zm9 8zm3-1zm28-5zm18 2zm5 4zm35-3zm3-1zm0 2zm26 1zm4-2zm269-3zm53 5zm23-1zm18-6zm2 2zm2-2zm23 0zm1 4zm7 3zm36-6zm26 6zm4-3zm13-3zm2 6zm10-7zm12 0z" stroke="#2c870e" stroke-width="12.8"/>
<path d="M2473 1357zm62-1zm7-2zm28 2zm9-5zm36 1zm3 4zm2-5zm30 6zm12-6zm14 5zm9-4zm28-1zm3 2zm8-2zm20 3zm0-1zm13-1zm13-1zm4 0zm4 2zm10-1zm5 5zm3-3zm14-2zm33 0zm9 4zm3-2zm66-1zm8-2zm23 4zm336-2zm15 0zm11 1zm7 3zm31-2zm14-1zm47-3zm0 6zm30-6zm-882 12zm25 3zm20-1zm26-2zm1-5zm34 4zm26-2zm28 3zm2-1zm27 3zm3-4zm14 1zm25-1zm10 4zm4-1zm28-4zm18 2zm4 3zm35-2zm3-2zm1 2zm26 2zm4-2zm269-3zm52 4zm23 0zm19-6zm1 1zm2-1zm23 0zm2 3zm7 4zm35-7zm26 7zm5-4zm13-2zm1 5zm23-6z" stroke="#4fc229" stroke-width="7.04"/>
<path d="M2454 1352zm561 2zm-3 8zm44 4z" stroke="#26740c" stroke-width="12.8"/>
<path d="M2453 1351zm561 2zm-2 8zm43 4z" stroke="#319610" stroke-width="7.04"/>
<path d="M2544 1337zm15 2zm33 4zm10-4zm12 2zm4 1zm11-3zm27 4zm20-7zm11 2zm27 1zm17 4zm1-5zm60 2zm3-3zm34-1zm33 0zm5-1zm62 2zm23 1zm289 2zm16-6zm1 5zm11-1zm9 4zm17-2zm6 3zm4-3zm12 3zm17-7zm17 6zm15-4zm-865 8zm26 0zm30 0zm86-2zm49 0zm2 6zm9-1zm10-4zm24 5zm15-1zm25 0zm20-3zm1 4zm18-6zm22 2zm27 0zm89 1zm216 2zm58 0zm14-4zm8-1zm26 5zm3-2zm22 3zm22 0zm11 0zm14-4zm5 2zm10-3zm24-1z" stroke="#458c0e" stroke-width="12.8"/>
<path d="M2544 1337zm15 1zm32 5zm10-4zm12 2zm4 1zm12-3zm26 3zm21-7zm11 3zm5 5zm22-4zm16 4zm2-5zm59 1zm4-3zm34 0zm32-1zm5-1zm62 3zm24 1zm289 2zm15-6zm2 5zm11-2zm9 4zm16-1zm7 3zm4-3zm12 3zm17-8zm17 6zm14-4zm22 6zm-886 3zm26-1zm30 1zm85-2zm52 6zm9-1zm10-4zm24 4zm15-1zm25 1zm20-3zm1 4zm17-6zm22 2zm27 0zm90 0zm215 3zm59 0zm14-4zm8-1zm26 4zm2-1zm22 3zm23-1zm11 0zm13-4zm6 2zm9-3z" stroke="#6ec829" stroke-width="7.04"/>
<path d="M2348 1343zm2 0zm812-3zm310-2zm7-1zm48-1zm21 5zm-453 4z" stroke="#3b780c" stroke-width="12.8"/>
<path d="M2348 1342zm1 1zm813-3zm310-2zm7-2zm47 0zm21 5zm-452 4z" stroke="#4c9c10" stroke-width="7.04"/>
<path d="M2581 1325zm18 1zm28-4zm51 6zm27-5zm5-2zm73 2zm1 4zm41-4zm54 4zm4-7zm334 4zm46 5zm17-3zm2-3zm5-2zm18 1zm25 0zm0 5zm13 0zm16 1zm7-2zm6 0zm-859 7zm130 0zm140 1zm10 0zm570 0zm7-2zm18-2zm4 2zm19 2z" stroke="#5f9011" stroke-width="12.8"/>
<path d="M2581 1325zm18 1zm28-5zm50 7zm27-5zm6-3zm72 3zm1 4zm42-5zm53 5zm5-7zm334 4zm45 5zm18-4zm2-2zm5-2zm17 0zm25 6zm1-5zm13 5zm15 1zm7-2zm7 0zm16 3zm-875 3zm130 0zm140 1zm10 0zm569 1zm8-2zm22-1zm19 3z" stroke="#8fcc2c" stroke-width="7.04"/>
<path d="M2362 1325zm88-1zm994 4z" stroke="#527c0e" stroke-width="12.8"/>
<path d="M2362 1324zm88 0zm993 4z" stroke="#6aa013" stroke-width="7.04"/>
<path d="M2605 1306zm31 5zm10-4zm5 3zm43-6zm5 8zm25-9zm16 4zm8-4zm10 9zm23-3zm18 0zm33 5zm5 0zm34-4zm11-3zm4 0zm362-5zm46 3zm8-1zm13-1zm29 2zm11 5zm21-2zm-799 8zm84 0zm90 0zm23 2zm48-1zm432 1zm15-2zm26 1zm124 0z" stroke="#7b9215" stroke-width="12.8"/>
<path d="M2605 1305zm30 5zm11-3zm4 2zm43-6zm5 9zm25-9zm16 4zm8-5zm11 10zm23-3zm18 0zm33 5zm5-1zm33-4zm12-2zm3 0zm363-5zm45 3zm9-2zm12 0zm29 1zm12 6zm20-3zm-799 9zm84 0zm91 0zm23 1zm48-1zm431 1zm16-1zm25 1zm125-1z" stroke="#b2cf32" stroke-width="7.04"/>
<path d="M2861 1309zm56 3zm37-5zm583 6z" stroke="#6a7d12" stroke-width="12.8"/>
<path d="M2861 1308zm55 4zm37-6zm583 7z" stroke="#88a218" stroke-width="7.04"/>
<path d="M2652 1286zm109 0zm562 0zm-701 10zm34 3zm6-11zm10 11zm4-3zm81-5zm28 5zm487-7zm58 10zm5 0zm19 2zm11-11zm2 0zm11 8zm73-1z" stroke="#939219" stroke-width="12.8"/>
<path d="M2652 1286zm109 0zm562-1zm-702 10zm35 4zm5-11zm11 10zm4-3zm81-4zm28 5zm487-7zm58 10zm4-1zm19 2zm12-10zm2-1zm10 9zm73-2z" stroke="#d1d037" stroke-width="7.04"/>
<path d="M2604 1287zm802 2zm-864 13z" stroke="#7f7e16" stroke-width="12.8"/>
<path d="M2603 1287zm-62 14zm864-12z" stroke="#a4a31c" stroke-width="7.04"/>
<path d="M2663 1273zm108-3zm-131 7zm7-2zm4 3zm47 6zm8-8zm28 8zm20-10zm83 10zm417-1zm59-5z" stroke="#97891b" stroke-width="12.8"/>
<path d="M2662 1273zm109-4zm-131 7zm7-1zm4 2zm46 6zm8-8zm29 8zm19-9zm83 10zm418-2zm59-4z" stroke="#d6c439" stroke-width="7.04"/>
<path d="M2267 1269zm524 4zm408-2zm10-1zm20 1z" stroke="#827617" stroke-width="12.8"/>
<path d="M2266 1269zm525 4zm407-2zm10-1zm21 1z" stroke="#a8981e" stroke-width="7.04"/>
<path d="M2655 1255zm4-1zm111 2zm12 1zm54 1zm-90 7zm97-5zm13 7zm6-5z" stroke="#9a801c" stroke-width="12.8"/>
<path d="M2655 1255zm3-2zm111 3zm13 0zm54 1zm-91 8zm97-5zm14 7zm5-6z" stroke="#d9b83b" stroke-width="7.04"/>
<path d="M2430 1256zm162-1zm126 2zm196 1zm349 1z" stroke="#846e18" stroke-width="12.8"/>
<path d="M2430 1256zm162-1zm125 2zm197 1zm349 1z" stroke="#ab8e20" stroke-width="7.04"/>
<path d="M2740 1241zm-71 9zm669 1z" stroke="#97751e" stroke-width="12.8"/>
<path d="M2740 1241zm-71 9zm668 0z" stroke="#d6ab3e" stroke-width="7.04"/>
<path d="M2630 1242zm-54 6zm390 1z" stroke="#82651a" stroke-width="12.8"/>
<path d="M2629 1241zm-53 7zm390 1z" stroke="#a88222" stroke-width="7.04"/>
<path d="M2502 1225zm103-4zm87 15zm86-1z" stroke="#815c1b" stroke-width="12.8"/>
<path d="M2502 1225zm103-4zm87 14zm85 0z" stroke="#a77724" stroke-width="7.04"/>
<path d="M2604 1212zm97 2zm182 3z" stroke="#7f551c" stroke-width="12.8"/>
<path d="M2604 1212zm97 2zm182 2z" stroke="#a46e24" stroke-width="7.04"/>
</g>
<path d="M1472 1162.5L1866 1152" stroke="#141414" stroke-width="2.6"/>
<linearGradient id="rd" x1="0" y1="0" x2="0" y2="1"><stop offset="0" stop-color="#7a2222"/><stop offset="0.45" stop-color="#5a1212"/><stop offset="1" stop-color="#3a0c0c"/></linearGradient>
<path d="M1029 1242L1472 1225.2V1233L1029 1249.6Z" fill="url(#rd)" stroke="none"/>
<linearGradient id="gk" x1="0" y1="0" x2="0" y2="1"><stop offset="0" stop-color="#1f5a1f"/><stop offset="0.5" stop-color="#0f3a0f"/><stop offset="1" stop-color="#0a1e0a"/></linearGradient>
<path d="M1472 1225.2L1866 1215.6V1223.4L1472 1233Z" fill="url(#gk)" stroke="none"/>
<path d="M1865 1215.6L1980 1213V1206.4L1996.5 1216.2L1980 1226.2V1220.2L1865 1223.2Z" fill="#34bc34" stroke="#5fd05f" stroke-width="1.2" stroke-linejoin="round"/>
</g>
</g>
<g id="labels">
<text x="458.5" y="771" font-size="51" text-anchor="middle">(a)</text>
<text x="1514.8" y="761" font-size="51" text-anchor="middle">(b)</text>
<text x="430.5" y="1281.8" font-size="51" text-anchor="middle">(c)</text>
<text x="1497.2" y="1301" font-size="51" text-anchor="middle">(d)</text>
<g font-size="28.4">
<text x="1133.2" y="187.8" text-anchor="end">4289000</text>
<text x="1129" y="369.6" text-anchor="end">4288500</text>
<text x="1136.2" y="533" text-anchor="end">4288000</text>
<text x="1236.6" y="667" text-anchor="middle">37401000</text>
<text x="1541.6" y="667" text-anchor="middle">37401500</text>
<text x="1863" y="666.5" text-anchor="middle">37402000</text>
</g>
<g font-size="32.6">
<text transform="translate(18.5 283.7) rotate(86)" text-anchor="middle" y="10.8">1200</text>
<text transform="translate(24.9 368.6) rotate(84)" text-anchor="middle" y="10.8">1000</text>
<text transform="translate(108.9 321.1) rotate(-29.5)" text-anchor="middle" y="10.8">4288000</text>
<text transform="translate(310 204.6) rotate(-29.5)" text-anchor="middle" y="10.8">4288500</text>
<text transform="translate(516 94.3) rotate(-28.3)" text-anchor="middle" y="10.8">4289000</text>
<text transform="translate(112.5 477.5) rotate(38.3)" text-anchor="middle" y="10.8">37401000</text>
<text transform="translate(251.5 591) rotate(38.3)" text-anchor="middle" y="10.8">37401500</text>
</g>
<g font-size="27">
<text transform="translate(15 949.8) rotate(90)" text-anchor="middle" y="9">1500</text>
<text transform="translate(12.6 1089.2) rotate(90)" text-anchor="middle" y="9">1000</text>
<text transform="translate(1493.6 946.9) rotate(90)" text-anchor="middle" y="8.5" font-size="25.6">1200</text>
</g>
</g>

</svg>
</body></html>
